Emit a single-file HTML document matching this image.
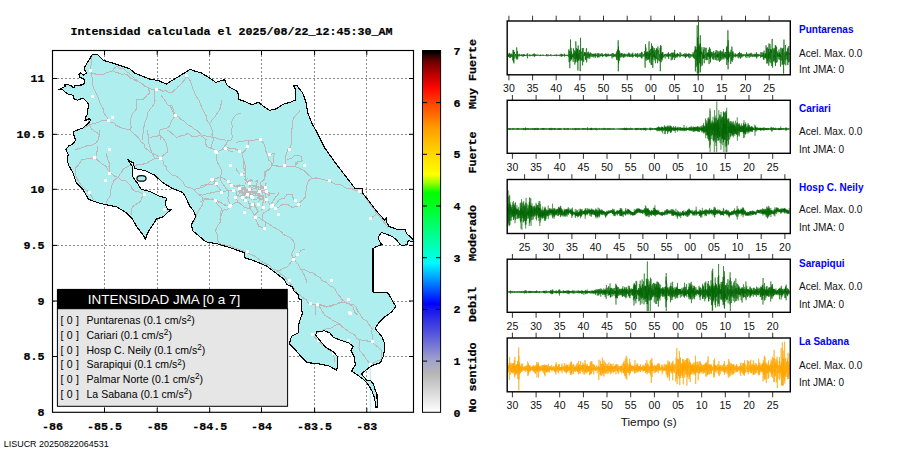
<!DOCTYPE html>
<html><head><meta charset="utf-8"><title>Intensidad JMA</title>
<style>html,body{margin:0;padding:0;background:#fff}svg{display:block}</style></head>
<body><svg width="910" height="460" viewBox="0 0 910 460">
<rect width="910" height="460" fill="#fff"/>
<clipPath id="mc"><rect x="52.5" y="50.5" width="361.0" height="361.8"/></clipPath>
<g clip-path="url(#mc)" stroke="#8a8a8a" stroke-width="1" stroke-dasharray="2 2" shape-rendering="crispEdges">
<line x1="104.5" y1="50.5" x2="104.5" y2="412.3"/>
<line x1="157.2" y1="50.5" x2="157.2" y2="412.3"/>
<line x1="209.7" y1="50.5" x2="209.7" y2="412.3"/>
<line x1="261.5" y1="50.5" x2="261.5" y2="412.3"/>
<line x1="314.6" y1="50.5" x2="314.6" y2="412.3"/>
<line x1="366.8" y1="50.5" x2="366.8" y2="412.3"/>
<line x1="52.5" y1="78.5" x2="413.5" y2="78.5"/>
<line x1="52.5" y1="134.3" x2="413.5" y2="134.3"/>
<line x1="52.5" y1="189.3" x2="413.5" y2="189.3"/>
<line x1="52.5" y1="245.4" x2="413.5" y2="245.4"/>
<line x1="52.5" y1="301.0" x2="413.5" y2="301.0"/>
<line x1="52.5" y1="356.5" x2="413.5" y2="356.5"/>
</g>
<g clip-path="url(#mc)">
<polygon points="92.4,54.3 97.3,54.3 103.6,60.5 111.2,62.6 119.6,65.4 130.0,68.9 134.5,73.0 149.9,79.1 158.7,80.7 166.4,84.0 190.5,69.2 193.8,70.8 201.5,73.0 210.3,78.5 215.8,82.4 224.6,79.6 226.8,85.0 230.0,87.3 237.7,91.6 238.8,99.3 246.5,102.2 252.0,104.8 258.6,102.2 263.0,106.0 269.6,110.3 276.2,108.8 282.7,104.4 290.4,102.2 295.9,99.8 295.9,90.5 293.7,85.7 297.0,85.7 302.5,92.7 305.8,101.5 308.0,113.6 312.4,124.6 315.7,130.0 324.5,147.6 335.5,163.0 346.5,177.3 355.3,188.9 361.9,188.2 363.0,193.7 368.1,200.0 376.4,211.1 384.8,220.2 386.2,217.4 386.5,222.0 389.0,226.4 398.7,229.9 405.0,229.5 407.0,234.1 411.2,237.6 413.3,239.7 413.3,241.0 411.2,241.7 408.4,240.3 407.0,244.5 402.2,245.9 400.1,244.5 397.3,241.0 393.1,236.9 389.7,235.5 384.8,233.4 381.3,232.7 378.5,236.9 379.2,241.0 382.0,244.5 375.0,247.3 373.0,248.7 373.0,292.0 388.2,293.0 393.7,303.0 395.9,306.6 391.5,312.1 383.8,317.6 379.5,322.0 375.1,328.6 381.6,336.3 384.9,344.0 383.8,355.0 380.5,362.6 372.0,365.5 366.0,370.0 361.5,374.0 367.4,380.9 370.9,380.9 373.5,384.3 375.2,390.4 377.0,393.9 377.0,399.1 377.8,403.5 377.8,407.0 375.6,407.0 375.6,403.5 374.3,397.4 371.7,390.4 367.4,383.5 363.0,379.1 359.6,376.5 351.7,371.3 352.0,370.3 355.3,364.8 354.2,357.1 350.9,350.5 353.1,346.2 348.7,342.9 342.1,340.7 333.3,337.4 330.0,333.0 324.5,330.8 316.8,331.9 315.7,335.2 320.1,340.7 325.6,347.3 333.3,351.6 337.7,357.1 337.7,365.9 336.6,370.3 328.9,365.9 317.9,363.7 306.9,362.6 302.5,358.2 295.9,350.5 289.3,344.0 291.5,336.3 298.1,333.0 299.2,322.0 302.5,313.2 301.4,309.5 301.4,300.0 299.2,299.6 298.1,294.5 293.7,290.8 292.6,286.8 287.1,284.6 283.8,279.1 275.1,272.5 266.3,265.9 253.1,260.4 244.3,257.6 244.3,252.7 228.9,247.3 217.9,244.0 205.8,241.8 198.1,235.2 192.6,230.8 191.5,224.2 195.9,216.5 193.7,211.0 189.5,205.8 186.2,198.1 182.9,192.6 171.9,188.2 163.0,182.7 154.3,175.0 145.5,170.7 134.5,168.5 133.4,163.0 127.9,159.7 132.3,166.3 132.3,176.2 137.8,183.8 141.1,189.3 149.9,191.5 158.7,195.9 166.4,198.1 165.3,204.7 167.5,209.1 171.9,209.1 167.5,212.4 163.0,216.8 156.5,219.0 153.1,224.2 147.6,233.0 145.4,239.1 143.2,235.2 136.6,226.4 132.3,219.0 125.7,212.4 116.9,206.9 105.9,204.7 97.1,202.5 88.4,199.2 82.9,189.3 76.3,182.7 73.0,172.9 68.6,165.2 67.4,161.2 68.1,154.3 66.0,149.4 68.8,145.9 72.3,144.5 75.7,140.3 74.3,136.2 73.0,132.0 77.8,129.9 83.4,127.8 87.6,123.7 91.0,120.2 89.0,118.8 84.8,120.9 85.5,117.4 87.6,113.9 88.3,104.2 86.9,101.6 82.7,98.1 77.8,100.2 74.3,99.5 73.0,95.3 67.4,93.9 62.5,89.7 58.3,89.7 60.4,89.0 65.3,86.3 64.6,84.5 71.6,85.3 72.3,87.7 74.3,87.7 75.0,85.3 83.4,84.9 84.8,82.1 84.1,79.3 79.9,77.2 78.8,74.4 80.6,73.0 83.4,75.1 86.9,73.0 84.8,70.3 84.8,66.8 88.3,61.2" fill="#afeeee" stroke="none"/>
<ellipse cx="141.5" cy="178.4" rx="4.6" ry="2.8" fill="#afeeee" stroke="#000" stroke-width="1.2"/>
<line x1="370.3" y1="366" x2="370.3" y2="412" stroke="#afeeee" stroke-width="1"/>
<g fill="none" stroke="#bdb8b8" stroke-width="1" shape-rendering="crispEdges">
<polyline points="92.7,54.3 91.7,56.7 91.8,61.3 91.2,64.2 90.1,67.5 90.5,70.8 91.8,74.7 92.0,76.7 92.9,81.3 92.7,84.0 93.4,87.4 94.4,89.6 96.1,92.8 98.2,97.1 98.7,99.3 99.5,102.0 101.5,105.9 103.2,108.9 103.3,111.6 105.3,115.1 107.2,117.5 108.1,120.2 110.8,122.5 114.3,123.0 115.6,125.4 117.9,126.1 121.3,127.9 123.5,128.3 126.4,129.0 130.1,130.1 133.1,133.3 135.6,135.2 137.7,137.3 140.0,140.0 141.4,142.4 144.4,144.2 145.1,148.0 148.0,150.0 150.2,152.0 153.6,154.0 155.6,154.6 158.9,157.0 160.9,158.1"/>
<polyline points="90.5,73.0 94.1,73.8 97.4,74.3 100.1,74.2 103.7,74.0 107.4,72.6 109.8,71.6 112.5,70.8 114.6,67.8 116.9,66.4 119.3,68.0 123.5,68.6 126.2,71.3 129.4,73.4 131.5,75.4 134.5,78.5 137.7,80.9 140.2,82.7 142.7,84.1 144.5,86.0 147.7,87.3 149.9,92.7 147.4,94.8 145.2,97.2 143.3,99.3 140.3,99.4 136.7,99.3 136.4,103.2 136.7,108.1 135.5,110.7 132.9,113.2 131.2,116.9 130.6,119.5 130.4,123.9 131.2,127.0 130.1,130.1"/>
<polyline points="112.5,70.8 115.2,72.0 118.9,73.1 121.8,74.2 124.7,73.9 127.9,75.2 130.9,78.2 134.2,79.6 136.7,81.8"/>
<polyline points="154.3,89.5 154.3,93.3 154.2,96.7 155.1,100.9 154.3,103.7 152.7,106.0 150.0,109.3 147.7,112.5 147.6,115.2 146.7,118.2 144.9,122.6 144.4,125.6 143.3,127.9 143.1,130.4 143.1,134.0 142.5,136.3 142.2,140.0"/>
<polyline points="147.7,87.3 150.0,88.8 154.4,89.6 156.5,89.5 159.3,89.3 162.8,91.2 166.0,90.6 168.3,92.4 171.9,92.7 173.3,91.1 177.2,87.9 177.7,87.0 181.2,83.9 182.9,81.8 185.1,79.2 187.3,75.2"/>
<polyline points="160.9,94.9 162.8,97.4 165.5,101.2 167.5,104.8 171.9,105.9 173.3,110.0 173.8,112.0 175.2,115.8 172.5,119.4 170.6,122.7 169.8,125.6 167.5,127.9 164.2,128.4 159.8,130.1 159.6,134.2 160.2,137.2 160.9,140.0"/>
<polyline points="187.3,75.2 188.0,77.9 190.2,80.9 191.7,85.1 192.2,87.1 193.8,90.5 194.7,93.5 196.5,97.0 199.0,100.0"/>
<polyline points="175.2,115.8 173.5,114.0"/>
<polyline points="84.0,127.9 87.2,126.6 90.0,125.1 92.7,123.5 96.5,122.9 99.5,121.9 101.3,121.0 105.5,120.4 108.1,120.2"/>
<polyline points="170.0,105.3 171.7,108.9 172.4,110.5 173.5,114.0 176.2,115.6 179.2,117.1 180.4,119.3 183.3,120.6 185.8,122.9 188.4,125.3 191.4,126.3 194.1,129.0 197.0,130.4 199.9,133.4 202.8,135.3 207.1,136.4 210.2,136.6 213.0,137.8 217.1,138.1 219.8,139.3 222.9,139.3 226.3,140.4"/>
<polyline points="199.0,100.0 200.2,103.8 201.5,106.7 203.4,110.5 204.5,113.1 206.6,116.4 206.5,119.7 208.7,122.7 210.0,124.8 211.3,128.1 212.5,130.7 212.0,134.5 213.0,137.8 213.1,140.9 211.6,145.5 211.3,149.2"/>
<polyline points="221.9,100.0 221.3,102.8 220.6,107.1 219.2,110.5 217.5,112.8 215.3,116.2 214.8,117.4 211.6,120.7 210.4,122.9"/>
<polyline points="170.0,131.6 172.8,134.2 174.3,135.2 177.0,137.8 179.8,136.1 184.2,135.5 187.6,133.4 189.4,134.4 192.9,136.9 196.7,136.4 199.9,135.2 202.3,136.7 206.0,139.6 205.6,143.4 206.9,146.6 209.4,147.6 213.1,148.9 215.7,151.0"/>
<polyline points="241.2,113.2 238.2,113.8 235.0,115.8 232.5,119.7 231.5,122.9 232.2,126.3 231.8,130.3 231.4,133.0 232.4,136.9 231.1,140.1 227.5,140.7 226.3,144.0 222.7,148.4 220.1,150.5 216.6,152.7 217.0,156.6 216.5,160.0"/>
<polyline points="226.3,147.5 229.7,148.3 233.3,148.4 236.6,149.3 239.5,151.9 243.0,152.7 245.1,150.3 247.4,146.6 248.8,143.8 249.1,140.4 253.1,140.7 256.3,139.7 260.5,139.6 264.1,144.0 265.2,148.1 265.8,151.0 266.7,153.4 267.9,156.9 268.8,160.2 271.5,162.6 272.0,165.9 269.7,168.9 265.8,172.1 265.0,176.9 264.1,180.0"/>
<polyline points="235.9,142.2 239.6,141.8 243.0,141.3 246.2,140.4 249.1,140.4"/>
<polyline points="243.0,152.7 242.5,156.4 243.6,159.7 243.8,163.3 244.0,168.5 245.6,172.1 244.9,176.9 245.6,180.0"/>
<polyline points="272.0,165.9 274.7,165.5 278.9,166.7 281.6,166.7 284.3,165.9 287.2,166.8 291.5,166.1 294.8,166.8 297.9,167.3 301.2,169.4 303.6,170.3 305.8,172.4 309.1,175.5 312.4,178.2 315.2,178.3 319.1,178.4 322.3,179.5 325.7,180.1 328.0,181.0 331.1,181.6 333.8,183.7 337.0,184.4 341.8,185.1 344.3,187.1 348.0,188.8 351.8,188.5 354.4,190.4 357.5,190.4 360.7,193.6 363.7,194.7 366.3,198.1 367.7,201.4 369.5,203.1 370.9,205.2 373.2,208.2 375.2,210.1 376.2,213.5 379.4,215.7 381.8,219.3 383.8,222.3 386.3,225.1 388.0,228.0"/>
<polyline points="300.1,110.5 297.2,114.0 295.7,115.3 293.1,118.5 292.9,121.3 292.2,125.4 292.2,127.8 291.1,131.8 291.3,135.2 291.3,140.2 291.3,144.0 290.0,147.5 288.1,149.2 286.9,152.7 285.9,155.1 285.4,159.5 285.6,162.1 284.3,165.9"/>
<polyline points="286.9,159.8 289.9,158.8 292.5,157.7 294.8,155.4 298.5,155.7 301.9,156.3 301.9,161.5 298.9,161.1 295.7,162.4 294.8,166.8"/>
<polyline points="269.3,154.5 274.6,153.6 273.3,157.5 273.7,161.5 272.0,165.9"/>
<polyline points="88.3,120.0 89.1,122.4 90.1,126.3 91.4,129.1 94.0,130.9 97.0,132.4 99.0,135.2"/>
<polyline points="97.5,145.9 97.7,149.8 96.3,153.4 95.9,156.6"/>
<polyline points="99.3,130.0 99.7,133.6 98.9,137.0 98.2,139.9 95.6,143.4 91.6,145.4 87.9,145.4 84.6,146.9 81.3,148.0 79.3,148.4 75.2,149.8"/>
<polyline points="94.9,157.5 91.4,158.6 87.7,158.3 85.2,159.6 81.8,159.7 80.3,162.2 78.2,165.4 75.2,168.5 75.1,172.3 76.3,177.3 78.4,181.1 79.9,183.3 82.9,187.1 86.7,190.4 89.5,192.6 91.1,195.7 93.8,200.3"/>
<polyline points="94.9,157.5 97.9,160.2 99.6,161.9 102.5,164.3 105.9,166.3 107.4,168.9 110.3,172.9 114.2,175.9 118.0,177.3 114.4,179.8 112.5,183.8 111.4,187.4 110.9,189.4 110.7,193.5 110.3,195.9 107.7,199.7 105.9,203.6"/>
<polyline points="105.9,153.1 107.0,156.4 108.0,160.2 109.2,163.0 109.0,166.3 109.3,170.3 110.3,172.9"/>
<polyline points="118.0,177.3 121.2,180.0 124.9,180.4 127.9,182.7 130.9,185.6 132.3,189.3 135.6,191.2 137.6,191.5 141.2,193.2 144.4,194.8 142.2,197.0 140.5,200.8 138.9,202.5 135.5,204.6 132.3,206.9 131.3,210.2 131.2,214.6"/>
<polyline points="118.0,177.3 119.4,175.1 122.4,170.8 123.5,168.5 126.2,167.5 129.5,165.8 132.3,165.2 135.2,165.4 139.0,164.3 143.3,164.1 146.5,163.1 148.6,161.9 152.4,159.9 154.3,158.6 158.3,158.4 160.9,158.1"/>
<polyline points="147.7,130.0 147.8,134.2 148.7,135.9 148.6,139.7 148.8,143.2 149.9,146.7 150.7,149.5 151.6,152.3 153.9,155.9 154.3,158.6"/>
<polyline points="149.9,137.7 153.0,136.6 156.7,136.2 159.8,135.5 162.9,138.1 165.0,140.9 166.4,144.3 167.5,148.8 167.5,152.0 163.6,154.9 160.9,158.1"/>
<polyline points="160.9,158.6 163.0,161.3 163.7,164.8 166.2,166.6 167.1,170.1 169.7,172.9 172.1,175.1 174.6,175.3 178.7,177.7 180.7,179.5 183.5,182.9 185.1,186.0 188.7,187.9 190.2,187.8 193.8,189.3 196.5,189.0 200.8,187.9 204.6,186.5 207.0,184.9 210.6,185.0 213.1,184.0 215.8,182.7"/>
<polyline points="167.5,130.0 170.0,131.6"/>
<polyline points="219.8,177.1 217.6,178.2 213.6,179.5 215.8,182.7"/>
<polyline points="215.8,152.0 218.6,151.2 221.6,149.5 225.7,148.7 229.3,150.9 233.4,152.0"/>
<polyline points="193.8,189.3 195.1,191.2 197.9,194.0 201.1,195.9 202.6,198.1 203.2,201.3 202.6,204.7 200.8,207.3 198.4,211.3 197.1,213.5 196.2,216.0 195.0,219.2 193.8,222.3"/>
<polyline points="202.6,198.1 205.1,199.0 209.9,199.4 211.9,199.6 215.8,200.3 218.6,201.1 222.0,203.8 226.3,205.0 229.0,205.8 233.4,204.0 235.8,202.8 240.0,202.5"/>
<polyline points="215.8,200.3 216.6,203.3 218.9,205.9 221.4,208.2 222.4,211.3 221.2,215.5 220.1,219.4 220.2,222.3 217.7,225.3 215.8,230.0 216.1,232.5 218.0,235.7 217.4,240.0 219.0,243.0"/>
<polyline points="200.0,186.4 203.4,185.1 207.9,184.4 211.9,180.0 216.4,178.4 219.8,177.1 223.1,178.1 224.9,179.2 228.4,181.4 231.6,185.7 236.2,186.4 239.6,188.4 242.1,188.9 246.2,191.0 249.4,192.1 252.7,193.0 252.7,197.6"/>
<polyline points="216.5,160.0 218.1,163.7 219.8,166.6 221.0,169.3 221.8,173.2 219.8,177.1"/>
<polyline points="200.0,194.9 203.0,195.1 206.5,193.9 209.3,193.3 213.2,192.3 217.7,191.7 221.5,192.3 225.7,191.1 228.4,190.3 233.6,190.6"/>
<polyline points="200.0,202.2 203.0,200.5 206.6,198.2 210.4,199.6 212.7,198.9 215.6,200.5 218.3,202.2 221.6,202.8 223.7,204.8 226.9,205.6 230.3,205.9 227.0,210.1 224.0,209.9 220.4,211.4 220.8,215.0 219.8,220.0"/>
<polyline points="228.4,190.3 228.7,194.9 227.7,198.2 229.2,202.1 230.3,205.9"/>
<polyline points="235.6,197.3 238.2,202.2 241.2,204.6 244.8,207.5 250.1,208.8 252.7,204.2"/>
<polyline points="250.1,208.8 252.9,212.4 254.1,215.4 258.0,211.4 255.4,206.2"/>
<polyline points="256.7,222.0 255.4,217.4 254.1,215.4"/>
<polyline points="262.0,220.0 262.6,216.1 263.3,212.7 268.6,210.1 271.2,206.8 268.6,202.2 266.6,199.3"/>
<polyline points="271.2,206.8 274.7,205.2 277.2,202.8 279.1,199.6 284.4,198.2 287.0,194.3 292.3,194.9 293.6,199.6 295.6,200.2 298.6,204.4 301.5,206.2"/>
<polyline points="271.2,203.5 273.2,200.8 275.8,196.9 277.8,195.0 279.1,191.6"/>
<polyline points="275.2,208.1 278.9,207.0 281.8,204.8 287.0,204.2 290.2,206.0 292.3,207.5 297.6,206.2 298.6,204.4"/>
<polyline points="298.6,204.4 301.3,201.1 303.0,199.9 305.5,196.9 305.2,193.1 306.6,189.8 306.8,186.4 307.7,182.2 310.1,179.1 313.4,178.5 316.1,177.8 320.0,178.5"/>
<polyline points="277.8,165.3 271.9,165.9 269.6,168.6 267.8,169.5 264.6,171.9 264.6,177.8 263.0,180.5 260.0,183.1 262.0,186.4"/>
<polyline points="294.9,165.9 298.2,162.0 302.9,160.7"/>
<polyline points="243.5,160.0 244.8,163.2 245.5,167.9 245.5,173.2 241.5,174.5 239.0,173.3 236.9,170.5 236.0,168.0"/>
<polyline points="245.5,173.2 245.9,176.3 244.8,179.8 249.5,183.5"/>
<polyline points="219.8,177.1 221.3,181.9 223.7,185.1 226.1,188.5 228.4,190.3"/>
<polyline points="211.9,180.0 216.5,183.5 217.3,186.6 219.4,188.5 221.5,192.3"/>
<polyline points="376.2,213.5 373.4,216.5 370.7,217.9"/>
<polyline points="255.3,218.3 256.9,221.6 258.6,226.0 262.3,227.8 265.2,228.2 265.7,224.5 265.2,221.6 262.4,219.9 258.6,217.2"/>
<polyline points="265.2,221.6 267.9,223.7 269.9,224.4 273.2,227.3 276.2,228.2 279.3,230.4 282.2,232.5 283.6,234.7 287.1,235.9 290.9,238.1 293.7,241.4 294.4,244.6 294.8,248.0 292.3,251.8 291.5,254.6 293.7,259.0 291.2,262.0 289.3,264.5 286.9,267.1 283.5,268.1 280.5,270.0 276.2,270.0"/>
<polyline points="304.7,249.1 301.3,250.2 300.0,252.2 297.0,254.6 293.7,259.0"/>
<polyline points="293.7,259.0 295.9,261.7 298.6,265.0 300.3,268.8 302.6,272.0 304.4,275.1 305.8,278.7 306.9,283.0"/>
<polyline points="300.3,268.8 304.4,269.9 306.7,270.8 309.8,272.4 313.5,273.2 315.8,275.1 320.2,277.8 322.3,280.9 325.5,281.9 327.8,283.7 330.0,285.9 333.1,287.0 335.5,289.7 337.3,293.5 340.4,296.8 342.1,299.6 345.0,302.0 347.5,303.1 350.9,305.2 353.1,307.3 354.6,312.0 357.5,315.0"/>
<polyline points="219.0,243.0 222.0,244.3 225.8,245.3 230.0,245.5 233.5,247.5 236.8,248.4 239.9,249.7 243.0,250.9 246.5,251.3 249.5,253.9 251.2,254.7 255.5,256.4 257.6,258.5 259.4,259.6 263.0,262.3 265.6,263.6 269.0,265.1 270.3,266.2 273.4,269.3 276.2,270.0 279.3,272.2 281.0,274.6 283.8,275.7 286.6,279.4 288.2,280.9 290.1,283.2 292.2,286.2 293.8,288.1 296.5,292.2 298.1,294.1 300.8,295.7 302.8,297.5 306.1,299.6 307.5,302.3 310.2,304.0 314.5,304.5 317.9,305.1 320.2,305.7 324.3,306.2 326.7,307.3 329.6,305.8 332.6,304.8 335.9,304.6 339.6,302.3 342.1,301.8"/>
<polyline points="315.7,304.4 315.2,307.8 316.0,312.2 315.7,315.4"/>
<polyline points="317.9,305.1 320.5,307.9 322.3,311.7 325.1,315.5 328.9,317.6 331.8,319.7 333.9,321.1 336.8,322.5 339.9,324.2 342.5,327.0 345.1,329.0 347.8,331.0 350.9,333.0 354.5,334.7 356.6,338.3 359.7,339.6 363.6,340.8 366.5,340.5 369.0,341.9 372.9,341.8 374.4,344.8 378.0,347.0 379.9,348.6 381.6,350.5 381.4,355.5 381.6,359.3 379.0,360.7 375.5,361.4 373.7,362.8 370.7,364.8"/>
<polyline points="317.9,304.4 321.6,304.8 323.8,305.6 328.3,306.9 331.1,306.6 334.3,304.9 338.4,303.6 342.1,302.2 345.3,302.6 348.7,303.8 353.1,304.4 356.2,307.0 357.5,311.0 360.1,314.3 361.9,317.6 363.8,319.5 367.2,321.3 368.7,324.3 370.7,326.4 372.2,328.8 371.3,333.0 372.9,335.2 372.6,338.3 372.9,341.8"/>
<polyline points="339.9,324.2 335.5,325.2 332.1,327.5 328.9,328.6 324.9,329.1 322.3,330.8 316.8,333.0"/>
<polyline points="359.7,339.6 359.5,343.1 358.9,347.8 359.7,350.5 362.5,353.9 364.5,356.2 366.3,359.3 368.8,362.7 370.7,364.8"/>
<polyline points="312.4,334.1 315.5,338.1 317.9,340.7 321.3,343.7 324.5,346.4 326.7,348.4 329.7,350.6 333.3,352.7 333.1,355.7 334.7,358.4 335.0,362.0"/>
<polyline points="265.2,194.6 266.4,198.0 264.5,196.6"/>
<polyline points="249.3,189.5 247.1,189.9 248.0,190.4"/>
<polyline points="250.4,190.6 249.8,187.3 249.5,185.5"/>
<polyline points="262.6,193.6 262.3,190.1 264.7,191.0"/>
<polyline points="243.5,191.4 248.7,191.0 248.3,190.8"/>
<polyline points="242.1,187.6 246.4,187.8 245.3,187.6"/>
<polyline points="244.9,189.7 240.4,189.6 241.4,190.9"/>
<polyline points="259.4,197.9 258.9,201.7 258.1,201.5"/>
<polyline points="258.9,198.9 253.3,199.2 251.2,197.7"/>
<polyline points="251.3,187.4 251.8,190.3 252.9,189.2"/>
<polyline points="248.7,201.0 249.1,203.8 249.2,207.2 249.8,206.5"/>
<polyline points="238.3,193.6 239.2,196.6 241.0,196.8"/>
<polyline points="249.8,188.2 252.6,188.0 256.4,188.2 255.0,186.6"/>
<polyline points="241.8,194.3 241.0,190.2 241.7,190.1"/>
<polyline points="257.4,186.3 254.2,185.6 250.6,185.0 248.6,187.3"/>
<polyline points="260.5,193.2 261.1,190.4 260.3,188.2"/>
<polyline points="246.5,196.0 247.0,190.3 248.2,189.6"/>
<polyline points="244.2,194.5 240.7,195.7 242.6,197.2"/>
<polyline points="249.3,193.8 250.3,190.8 251.3,190.7"/>
<polyline points="256.9,190.0 256.4,187.3 256.1,183.6 257.8,182.7"/>
<polyline points="245.5,184.5 246.5,179.8 247.9,178.4"/>
<polyline points="253.6,191.8 259.1,190.4 260.3,189.4"/>
<polyline points="239.6,192.8 243.3,193.4 246.5,193.8 246.4,191.6"/>
<polyline points="248.8,197.3 246.5,197.4 244.9,197.1"/>
<polyline points="270.0,192.2 264.9,192.5 263.8,194.0"/>
<polyline points="246.3,189.9 243.1,188.4 242.9,186.7"/>
<polyline points="258.8,195.5 263.7,195.2 263.4,194.6"/>
<polyline points="241.3,193.8 244.5,193.1 246.6,192.0"/>
<polyline points="253.8,188.7 258.6,187.4 256.1,186.1"/>
<polyline points="247.3,193.2 250.7,194.6 251.9,195.3"/>
<polyline points="259.8,192.0 258.4,194.8 259.3,194.6"/>
<polyline points="246.1,202.1 246.1,196.2 248.3,194.8"/>
<polyline points="253.3,191.3 249.6,192.0 250.8,191.9"/>
<polyline points="236.0,192.6 236.5,196.0 238.5,194.8"/>
<polyline points="270.0,193.7 269.0,196.3 267.2,194.1"/>
<polyline points="248.3,203.0 253.7,204.4 254.3,204.8"/>
<polyline points="255.0,202.4 254.9,207.2 255.9,205.2"/>
<polyline points="242.2,191.8 239.6,190.9 239.6,191.2"/>
<polyline points="249.5,198.8 249.2,194.7 250.3,192.4 250.9,191.2"/>
<polyline points="251.0,186.9 250.5,182.8 250.4,180.0 248.1,181.2"/>
<polyline points="263.8,195.0 263.3,199.7 261.1,200.0"/>
<polyline points="252.4,192.3 249.3,192.2 245.7,190.9 244.1,192.0"/>
<polyline points="265.6,203.0 265.3,198.7 266.9,199.0"/>
<polyline points="266.1,186.7 263.1,186.2 260.7,187.0"/>
<polyline points="253.1,186.9 258.2,186.3 259.5,185.8"/>
<polyline points="242.8,185.3 239.8,185.6 235.9,186.0 238.0,187.1"/>
<polyline points="242.7,192.3 242.1,188.5 240.6,188.5"/>
<polyline points="267.2,194.1 272.9,193.8 274.8,193.2"/>
<polyline points="250.8,196.3 251.3,199.8 250.5,199.6"/>
<polyline points="248.0,190.3 250.8,191.6 248.4,192.9"/>
<polyline points="250.8,181.9 251.4,179.6 253.1,181.9"/>
<polyline points="261.0,185.2 260.7,189.5 261.3,187.7"/>
<polyline points="251.2,197.0 252.5,199.1 252.1,198.5"/>
<polyline points="246.0,193.9 245.9,191.4 244.7,188.0 244.1,186.0"/>
<polyline points="252.2,191.4 255.0,192.3 254.7,193.7"/>
<polyline points="259.5,192.4 258.6,196.3 260.3,196.6"/>
<polyline points="240.3,186.2 235.3,186.2 234.6,185.3"/>
<polyline points="246.9,194.3 243.7,192.9 245.4,194.9"/>
<polyline points="236.0,190.4 236.1,193.8 236.1,196.8 234.0,198.5"/>
<polyline points="250.7,187.9 249.9,190.3 250.2,194.5 252.2,195.1"/>
<polyline points="265.8,193.7 262.9,192.4 261.0,191.4"/>
<polyline points="257.0,197.6 262.8,198.5 263.1,196.1"/>
<polyline points="260.4,192.4 256.1,191.7 258.1,194.1"/>
<polyline points="243.3,197.1 243.9,201.3 243.8,199.5"/>
<polyline points="249.6,193.3 247.3,194.1 243.6,193.2 244.5,194.0"/>
<polyline points="265.6,190.9 265.7,187.6 265.8,184.0 266.4,182.8"/>
<polyline points="247.0,195.0 247.0,191.2 245.9,188.8 243.8,190.2"/>
<polyline points="258.2,193.7 255.6,193.7 252.2,192.6 249.7,193.4"/>
<polyline points="245.4,185.5 240.0,185.5 239.2,184.0"/>
<polyline points="262.9,196.8 258.4,196.1 257.2,194.9"/>
<polyline points="252.8,195.4 256.5,195.3 257.7,194.1"/>
<polyline points="254.7,196.1 255.4,192.6 255.5,191.2"/>
<polyline points="260.1,187.3 264.4,187.9 262.4,188.8"/>
<polyline points="257.5,183.1 257.2,180.5 255.3,181.9"/>
<polyline points="253.7,196.8 248.0,195.6 246.1,195.1"/>
<polyline points="243.2,197.1 242.3,194.0 242.2,190.8 241.9,189.9"/>
<polyline points="252.2,192.5 246.5,193.8 246.0,193.2"/>
<polyline points="251.1,203.0 252.0,205.8 249.9,207.3"/>
<polyline points="258.0,190.5 258.7,185.7 258.5,186.4"/>
<polyline points="245.6,192.2 242.8,192.7 239.0,191.5 240.1,193.6"/>
<polyline points="261.4,191.7 257.8,191.1 258.1,190.2"/>
<polyline points="251.6,190.5 248.0,189.5 248.8,189.1"/>
<polyline points="236.0,193.2 236.2,196.8 238.2,196.0"/>
<polyline points="240.6,195.2 244.4,195.4 242.3,196.7"/>
<polyline points="258.4,198.9 261.5,199.2 259.8,199.8"/>
<polyline points="250.5,194.1 249.6,197.6 249.2,195.2"/>
<polyline points="262.9,203.0 262.5,205.7 262.3,209.6 261.1,210.3"/>
<polyline points="263.8,199.4 264.0,202.2 261.7,203.4"/>
<polyline points="250.9,195.3 253.6,195.4 254.2,197.2"/>
<polyline points="251.2,187.9 249.8,193.1 251.0,193.9"/>
</g>
<g fill="#fff" shape-rendering="crispEdges">
<rect x="89" y="69" width="3" height="3"/>
<rect x="91" y="95" width="3" height="3"/>
<rect x="111" y="116" width="3" height="3"/>
<rect x="107" y="119" width="3" height="3"/>
<rect x="155" y="88" width="3" height="3"/>
<rect x="185" y="74" width="3" height="3"/>
<rect x="174" y="114" width="3" height="3"/>
<rect x="174" y="114" width="3" height="3"/>
<rect x="215" y="151" width="3" height="3"/>
<rect x="224" y="147" width="3" height="3"/>
<rect x="238" y="150" width="3" height="3"/>
<rect x="246" y="145" width="3" height="3"/>
<rect x="259" y="138" width="3" height="3"/>
<rect x="268" y="153" width="3" height="3"/>
<rect x="288" y="148" width="3" height="3"/>
<rect x="283" y="164" width="3" height="3"/>
<rect x="303" y="164" width="3" height="3"/>
<rect x="229" y="164" width="3" height="3"/>
<rect x="240" y="173" width="3" height="3"/>
<rect x="211" y="178" width="3" height="3"/>
<rect x="108" y="148" width="3" height="3"/>
<rect x="93" y="156" width="3" height="3"/>
<rect x="108" y="172" width="3" height="3"/>
<rect x="104" y="179" width="3" height="3"/>
<rect x="88" y="191" width="3" height="3"/>
<rect x="143" y="193" width="3" height="3"/>
<rect x="159" y="157" width="3" height="3"/>
<rect x="163" y="208" width="3" height="3"/>
<rect x="214" y="150" width="3" height="3"/>
<rect x="224" y="147" width="3" height="3"/>
<rect x="210" y="178" width="3" height="3"/>
<rect x="215" y="182" width="3" height="3"/>
<rect x="227" y="180" width="3" height="3"/>
<rect x="230" y="184" width="3" height="3"/>
<rect x="238" y="187" width="3" height="3"/>
<rect x="248" y="182" width="3" height="3"/>
<rect x="248" y="188" width="3" height="3"/>
<rect x="264" y="186" width="3" height="3"/>
<rect x="232" y="189" width="3" height="3"/>
<rect x="220" y="191" width="3" height="3"/>
<rect x="258" y="190" width="3" height="3"/>
<rect x="265" y="190" width="3" height="3"/>
<rect x="246" y="193" width="3" height="3"/>
<rect x="234" y="196" width="3" height="3"/>
<rect x="241" y="196" width="3" height="3"/>
<rect x="251" y="196" width="3" height="3"/>
<rect x="250" y="195" width="3" height="3"/>
<rect x="244" y="199" width="3" height="3"/>
<rect x="265" y="198" width="3" height="3"/>
<rect x="214" y="199" width="3" height="3"/>
<rect x="251" y="203" width="3" height="3"/>
<rect x="257" y="203" width="3" height="3"/>
<rect x="229" y="204" width="3" height="3"/>
<rect x="228" y="205" width="3" height="3"/>
<rect x="262" y="206" width="3" height="3"/>
<rect x="270" y="205" width="3" height="3"/>
<rect x="271" y="204" width="3" height="3"/>
<rect x="274" y="207" width="3" height="3"/>
<rect x="243" y="211" width="3" height="3"/>
<rect x="277" y="213" width="3" height="3"/>
<rect x="254" y="216" width="3" height="3"/>
<rect x="294" y="199" width="3" height="3"/>
<rect x="297" y="203" width="3" height="3"/>
<rect x="259" y="138" width="3" height="3"/>
<rect x="246" y="145" width="3" height="3"/>
<rect x="268" y="153" width="3" height="3"/>
<rect x="288" y="148" width="3" height="3"/>
<rect x="328" y="179" width="3" height="3"/>
<rect x="358" y="190" width="3" height="3"/>
<rect x="369" y="217" width="3" height="3"/>
<rect x="254" y="216" width="3" height="3"/>
<rect x="263" y="227" width="3" height="3"/>
<rect x="246" y="250" width="3" height="3"/>
<rect x="296" y="253" width="3" height="3"/>
<rect x="292" y="258" width="3" height="3"/>
<rect x="288" y="279" width="3" height="3"/>
<rect x="330" y="279" width="3" height="3"/>
<rect x="347" y="298" width="3" height="3"/>
<rect x="309" y="302" width="3" height="3"/>
<rect x="316" y="303" width="3" height="3"/>
<rect x="348" y="311" width="3" height="3"/>
<rect x="390" y="310" width="3" height="3"/>
<rect x="349" y="312" width="3" height="3"/>
<rect x="311" y="333" width="3" height="3"/>
<rect x="317" y="339" width="3" height="3"/>
<rect x="347" y="339" width="3" height="3"/>
<rect x="371" y="340" width="3" height="3"/>
<rect x="369" y="363" width="3" height="3"/>
<rect x="332" y="352" width="3" height="3"/>
</g>
<polygon points="92.4,54.3 97.3,54.3 103.6,60.5 111.2,62.6 119.6,65.4 130.0,68.9 134.5,73.0 149.9,79.1 158.7,80.7 166.4,84.0 190.5,69.2 193.8,70.8 201.5,73.0 210.3,78.5 215.8,82.4 224.6,79.6 226.8,85.0 230.0,87.3 237.7,91.6 238.8,99.3 246.5,102.2 252.0,104.8 258.6,102.2 263.0,106.0 269.6,110.3 276.2,108.8 282.7,104.4 290.4,102.2 295.9,99.8 295.9,90.5 293.7,85.7 297.0,85.7 302.5,92.7 305.8,101.5 308.0,113.6 312.4,124.6 315.7,130.0 324.5,147.6 335.5,163.0 346.5,177.3 355.3,188.9 361.9,188.2 363.0,193.7 368.1,200.0 376.4,211.1 384.8,220.2 386.2,217.4 386.5,222.0 389.0,226.4 398.7,229.9 405.0,229.5 407.0,234.1 411.2,237.6 413.3,239.7 413.3,241.0 411.2,241.7 408.4,240.3 407.0,244.5 402.2,245.9 400.1,244.5 397.3,241.0 393.1,236.9 389.7,235.5 384.8,233.4 381.3,232.7 378.5,236.9 379.2,241.0 382.0,244.5 375.0,247.3 373.0,248.7 373.0,292.0 388.2,293.0 393.7,303.0 395.9,306.6 391.5,312.1 383.8,317.6 379.5,322.0 375.1,328.6 381.6,336.3 384.9,344.0 383.8,355.0 380.5,362.6 372.0,365.5 366.0,370.0 361.5,374.0 367.4,380.9 370.9,380.9 373.5,384.3 375.2,390.4 377.0,393.9 377.0,399.1 377.8,403.5 377.8,407.0 375.6,407.0 375.6,403.5 374.3,397.4 371.7,390.4 367.4,383.5 363.0,379.1 359.6,376.5 351.7,371.3 352.0,370.3 355.3,364.8 354.2,357.1 350.9,350.5 353.1,346.2 348.7,342.9 342.1,340.7 333.3,337.4 330.0,333.0 324.5,330.8 316.8,331.9 315.7,335.2 320.1,340.7 325.6,347.3 333.3,351.6 337.7,357.1 337.7,365.9 336.6,370.3 328.9,365.9 317.9,363.7 306.9,362.6 302.5,358.2 295.9,350.5 289.3,344.0 291.5,336.3 298.1,333.0 299.2,322.0 302.5,313.2 301.4,309.5 301.4,300.0 299.2,299.6 298.1,294.5 293.7,290.8 292.6,286.8 287.1,284.6 283.8,279.1 275.1,272.5 266.3,265.9 253.1,260.4 244.3,257.6 244.3,252.7 228.9,247.3 217.9,244.0 205.8,241.8 198.1,235.2 192.6,230.8 191.5,224.2 195.9,216.5 193.7,211.0 189.5,205.8 186.2,198.1 182.9,192.6 171.9,188.2 163.0,182.7 154.3,175.0 145.5,170.7 134.5,168.5 133.4,163.0 127.9,159.7 132.3,166.3 132.3,176.2 137.8,183.8 141.1,189.3 149.9,191.5 158.7,195.9 166.4,198.1 165.3,204.7 167.5,209.1 171.9,209.1 167.5,212.4 163.0,216.8 156.5,219.0 153.1,224.2 147.6,233.0 145.4,239.1 143.2,235.2 136.6,226.4 132.3,219.0 125.7,212.4 116.9,206.9 105.9,204.7 97.1,202.5 88.4,199.2 82.9,189.3 76.3,182.7 73.0,172.9 68.6,165.2 67.4,161.2 68.1,154.3 66.0,149.4 68.8,145.9 72.3,144.5 75.7,140.3 74.3,136.2 73.0,132.0 77.8,129.9 83.4,127.8 87.6,123.7 91.0,120.2 89.0,118.8 84.8,120.9 85.5,117.4 87.6,113.9 88.3,104.2 86.9,101.6 82.7,98.1 77.8,100.2 74.3,99.5 73.0,95.3 67.4,93.9 62.5,89.7 58.3,89.7 60.4,89.0 65.3,86.3 64.6,84.5 71.6,85.3 72.3,87.7 74.3,87.7 75.0,85.3 83.4,84.9 84.8,82.1 84.1,79.3 79.9,77.2 78.8,74.4 80.6,73.0 83.4,75.1 86.9,73.0 84.8,70.3 84.8,66.8 88.3,61.2" fill="none" stroke="#000" stroke-width="1.1" stroke-linejoin="round" shape-rendering="crispEdges"/>
</g>
<rect x="57.4" y="308.7" width="230.2" height="97.6" fill="#e6e6e6" stroke="#000" stroke-width="1"/>
<rect x="56.9" y="288.9" width="230.9" height="19.9" fill="#000"/>
<text x="164" y="304.4" text-anchor="middle" font-family="Liberation Sans, sans-serif" font-size="13.45" fill="#fff">INTENSIDAD JMA [0 a 7]</text>
<text x="60.4" y="324.4" font-family="Liberation Sans, sans-serif" font-size="10.5" fill="#000" textLength="18.4" lengthAdjust="spacing">[ 0 ]</text>
<text x="86.5" y="324.4" font-family="Liberation Sans, sans-serif" font-size="10.55" fill="#000">Puntarenas (0.1 cm/s<tspan dy="-3.6" font-size="8.2">2</tspan><tspan dy="3.6">)</tspan></text>
<text x="60.4" y="339.0" font-family="Liberation Sans, sans-serif" font-size="10.5" fill="#000" textLength="18.4" lengthAdjust="spacing">[ 0 ]</text>
<text x="86.5" y="339.0" font-family="Liberation Sans, sans-serif" font-size="10.55" fill="#000">Cariari (0.1 cm/s<tspan dy="-3.6" font-size="8.2">2</tspan><tspan dy="3.6">)</tspan></text>
<text x="60.4" y="353.6" font-family="Liberation Sans, sans-serif" font-size="10.5" fill="#000" textLength="18.4" lengthAdjust="spacing">[ 0 ]</text>
<text x="86.5" y="353.6" font-family="Liberation Sans, sans-serif" font-size="10.55" fill="#000">Hosp C. Neily (0.1 cm/s<tspan dy="-3.6" font-size="8.2">2</tspan><tspan dy="3.6">)</tspan></text>
<text x="60.4" y="368.3" font-family="Liberation Sans, sans-serif" font-size="10.5" fill="#000" textLength="18.4" lengthAdjust="spacing">[ 0 ]</text>
<text x="86.5" y="368.3" font-family="Liberation Sans, sans-serif" font-size="10.55" fill="#000">Sarapiqui (0.1 cm/s<tspan dy="-3.6" font-size="8.2">2</tspan><tspan dy="3.6">)</tspan></text>
<text x="60.4" y="382.9" font-family="Liberation Sans, sans-serif" font-size="10.5" fill="#000" textLength="18.4" lengthAdjust="spacing">[ 0 ]</text>
<text x="86.5" y="382.9" font-family="Liberation Sans, sans-serif" font-size="10.55" fill="#000">Palmar Norte (0.1 cm/s<tspan dy="-3.6" font-size="8.2">2</tspan><tspan dy="3.6">)</tspan></text>
<text x="60.4" y="397.5" font-family="Liberation Sans, sans-serif" font-size="10.5" fill="#000" textLength="18.4" lengthAdjust="spacing">[ 0 ]</text>
<text x="86.5" y="397.5" font-family="Liberation Sans, sans-serif" font-size="10.55" fill="#000">La Sabana (0.1 cm/s<tspan dy="-3.6" font-size="8.2">2</tspan><tspan dy="3.6">)</tspan></text>
<rect x="52.5" y="50.5" width="361.0" height="361.8" fill="none" stroke="#000" stroke-width="1.15"/>
<g stroke="#000" stroke-width="1">
<line x1="104.5" y1="412.3" x2="104.5" y2="407.8"/>
<line x1="104.5" y1="50.5" x2="104.5" y2="55.0"/>
<line x1="157.2" y1="412.3" x2="157.2" y2="407.8"/>
<line x1="157.2" y1="50.5" x2="157.2" y2="55.0"/>
<line x1="209.7" y1="412.3" x2="209.7" y2="407.8"/>
<line x1="209.7" y1="50.5" x2="209.7" y2="55.0"/>
<line x1="261.5" y1="412.3" x2="261.5" y2="407.8"/>
<line x1="261.5" y1="50.5" x2="261.5" y2="55.0"/>
<line x1="314.6" y1="412.3" x2="314.6" y2="407.8"/>
<line x1="314.6" y1="50.5" x2="314.6" y2="55.0"/>
<line x1="366.8" y1="412.3" x2="366.8" y2="407.8"/>
<line x1="366.8" y1="50.5" x2="366.8" y2="55.0"/>
<line x1="52.5" y1="78.5" x2="57.0" y2="78.5"/>
<line x1="413.5" y1="78.5" x2="409.0" y2="78.5"/>
<line x1="52.5" y1="134.3" x2="57.0" y2="134.3"/>
<line x1="413.5" y1="134.3" x2="409.0" y2="134.3"/>
<line x1="52.5" y1="189.3" x2="57.0" y2="189.3"/>
<line x1="413.5" y1="189.3" x2="409.0" y2="189.3"/>
<line x1="52.5" y1="245.4" x2="57.0" y2="245.4"/>
<line x1="413.5" y1="245.4" x2="409.0" y2="245.4"/>
<line x1="52.5" y1="301.0" x2="57.0" y2="301.0"/>
<line x1="413.5" y1="301.0" x2="409.0" y2="301.0"/>
<line x1="52.5" y1="356.5" x2="57.0" y2="356.5"/>
<line x1="413.5" y1="356.5" x2="409.0" y2="356.5"/>
</g>
<g font-family="Liberation Mono, monospace" font-weight="bold" font-size="11.67" stroke="#000" stroke-width="0.22" fill="#000">
<text x="44.5" y="82.2" text-anchor="end">11</text>
<text x="44.5" y="138.0" text-anchor="end">10.5</text>
<text x="44.5" y="193.0" text-anchor="end">10</text>
<text x="44.5" y="249.1" text-anchor="end">9.5</text>
<text x="44.5" y="304.7" text-anchor="end">9</text>
<text x="44.5" y="360.2" text-anchor="end">8.5</text>
<text x="44.5" y="416.1" text-anchor="end">8</text>
<text x="52.4" y="430.2" text-anchor="middle">-86</text>
<text x="104.5" y="430.2" text-anchor="middle">-85.5</text>
<text x="157.2" y="430.2" text-anchor="middle">-85</text>
<text x="209.7" y="430.2" text-anchor="middle">-84.5</text>
<text x="261.5" y="430.2" text-anchor="middle">-84</text>
<text x="314.6" y="430.2" text-anchor="middle">-83.5</text>
<text x="366.8" y="430.2" text-anchor="middle">-83</text>
<text x="231.5" y="34.8" text-anchor="middle">Intensidad calculada el 2025/08/22_12:45:30_AM</text>
</g>
<text x="3.8" y="446.8" font-family="Liberation Sans, sans-serif" font-size="8.95" fill="#000">LISUCR 20250822064531</text>
<defs><linearGradient id="cb" x1="0" y1="1" x2="0" y2="0">
<stop offset="0.0000" stop-color="#ffffff"/>
<stop offset="0.1071" stop-color="#b6b6b6"/>
<stop offset="0.1429" stop-color="#a2a2cc"/>
<stop offset="0.2143" stop-color="#5858dc"/>
<stop offset="0.2857" stop-color="#1414ee"/>
<stop offset="0.3000" stop-color="#0000ff"/>
<stop offset="0.3571" stop-color="#0080ff"/>
<stop offset="0.4114" stop-color="#00f8ff"/>
<stop offset="0.4286" stop-color="#00ffe0"/>
<stop offset="0.5000" stop-color="#00ff80"/>
<stop offset="0.5714" stop-color="#00ff20"/>
<stop offset="0.6071" stop-color="#00ff00"/>
<stop offset="0.6357" stop-color="#a0ff00"/>
<stop offset="0.6571" stop-color="#ffff00"/>
<stop offset="0.7143" stop-color="#ffd800"/>
<stop offset="0.7857" stop-color="#ff9c00"/>
<stop offset="0.8571" stop-color="#ff4000"/>
<stop offset="0.8943" stop-color="#ff0800"/>
<stop offset="0.9314" stop-color="#c00000"/>
<stop offset="0.9686" stop-color="#700000"/>
<stop offset="0.9886" stop-color="#240000"/>
<stop offset="0.9929" stop-color="#000000"/>
<stop offset="1.0000" stop-color="#000000"/>
</linearGradient></defs>
<rect x="422.5" y="50.5" width="18.1" height="361.8" fill="url(#cb)" stroke="#000" stroke-width="1"/>
<g stroke="#000" stroke-width="1">
<line x1="422.5" y1="361.1" x2="427.1" y2="361.1"/>
<line x1="440.6" y1="361.1" x2="436.0" y2="361.1"/>
<line x1="422.5" y1="309.4" x2="427.1" y2="309.4"/>
<line x1="440.6" y1="309.4" x2="436.0" y2="309.4"/>
<line x1="422.5" y1="257.7" x2="427.1" y2="257.7"/>
<line x1="440.6" y1="257.7" x2="436.0" y2="257.7"/>
<line x1="422.5" y1="206.0" x2="427.1" y2="206.0"/>
<line x1="440.6" y1="206.0" x2="436.0" y2="206.0"/>
<line x1="422.5" y1="154.3" x2="427.1" y2="154.3"/>
<line x1="440.6" y1="154.3" x2="436.0" y2="154.3"/>
<line x1="422.5" y1="102.6" x2="427.1" y2="102.6"/>
<line x1="440.6" y1="102.6" x2="436.0" y2="102.6"/>
</g>
<g font-family="Liberation Mono, monospace" font-weight="bold" font-size="11.67" stroke="#000" stroke-width="0.22" fill="#000">
<text x="457.1" y="416.8" text-anchor="middle">0</text>
<text x="457.1" y="365.1" text-anchor="middle">1</text>
<text x="457.1" y="313.4" text-anchor="middle">2</text>
<text x="457.1" y="261.7" text-anchor="middle">3</text>
<text x="457.1" y="210.0" text-anchor="middle">4</text>
<text x="457.1" y="158.3" text-anchor="middle">5</text>
<text x="457.1" y="106.6" text-anchor="middle">6</text>
<text x="457.1" y="54.9" text-anchor="middle">7</text>
<text transform="translate(475.7,412.5) rotate(-90)">No sentido</text>
<text transform="translate(475.7,322.0) rotate(-90)">Debil</text>
<text transform="translate(475.7,261.0) rotate(-90)">Moderado</text>
<text transform="translate(475.7,173.5) rotate(-90)">Fuerte</text>
<text transform="translate(475.7,109.0) rotate(-90)">Muy Fuerte</text>
</g>
<path d="M508.0 54.4 L508.1 53.6 L508.3 54.8 L508.4 56.5 L508.5 54.6 L508.6 56.7 L508.8 56.0 L508.9 55.1 L509.0 55.0 L509.2 56.4 L509.3 52.9 L509.4 54.1 L509.5 57.0 L509.7 57.9 L509.8 53.7 L509.9 53.8 L510.0 55.0 L510.2 56.7 L510.3 56.2 L510.4 54.6 L510.6 56.4 L510.7 57.9 L510.8 55.3 L510.9 54.2 L511.1 53.8 L511.2 54.0 L511.3 54.7 L511.5 56.4 L511.6 57.0 L511.7 54.8 L511.8 53.7 L512.0 54.7 L512.1 55.1 L512.2 55.6 L512.4 56.4 L512.5 55.0 L512.6 57.2 L512.7 60.2 L512.9 56.2 L513.0 49.9 L513.1 50.5 L513.2 56.4 L513.4 62.0 L513.5 56.3 L513.6 50.1 L513.8 55.9 L513.9 63.4 L514.0 55.0 L514.1 51.9 L514.3 53.7 L514.4 53.3 L514.5 52.0 L514.7 55.7 L514.8 57.7 L514.9 58.4 L515.0 56.9 L515.2 55.5 L515.3 54.5 L515.4 54.6 L515.6 54.1 L515.7 56.3 L515.8 55.9 L515.9 54.3 L516.1 54.6 L516.2 56.0 L516.3 57.2 L516.4 58.7 L516.6 55.8 L516.7 47.4 L516.8 49.2 L517.0 56.4 L517.1 59.7 L517.2 57.4 L517.3 54.1 L517.5 51.1 L517.6 55.2 L517.7 58.7 L517.9 57.0 L518.0 54.6 L518.1 53.9 L518.2 54.4 L518.4 55.7 L518.5 56.0 L518.6 55.3 L518.8 54.8 L518.9 54.7 L519.0 55.7 L519.1 56.3 L519.3 56.4 L519.4 55.6 L519.5 54.6 L519.6 53.9 L519.8 54.9 L519.9 56.0 L520.0 55.7 L520.2 55.1 L520.3 55.1 L520.4 55.3 L520.5 55.6 L520.7 55.5 L520.8 55.8 L520.9 55.5 L521.1 54.9 L521.2 54.3 L521.3 55.4 L521.4 55.9 L521.6 54.9 L521.7 54.8 L521.8 55.4 L522.0 55.1 L522.1 55.8 L522.2 56.4 L522.3 54.8 L522.5 54.5 L522.6 54.9 L522.7 55.2 L522.8 55.2 L523.0 56.5 L523.1 56.1 L523.2 54.8 L523.4 54.6 L523.5 56.3 L523.6 56.0 L523.7 54.3 L523.9 55.2 L524.0 56.0 L524.1 55.2 L524.3 54.3 L524.4 55.4 L524.5 55.6 L524.6 54.9 L524.8 54.9 L524.9 56.0 L525.0 56.0 L525.2 55.0 L525.3 54.9 L525.4 55.1 L525.5 55.7 L525.7 55.5 L525.8 55.1 L525.9 55.1 L526.0 55.9 L526.2 55.7 L526.3 55.1 L526.4 54.9 L526.6 55.1 L526.7 55.6 L526.8 55.5 L526.9 55.2 L527.1 54.1 L527.2 53.6 L527.3 56.8 L527.5 58.2 L527.6 55.1 L527.7 53.6 L527.8 54.8 L528.0 55.4 L528.1 55.3 L528.2 55.0 L528.4 55.1 L528.5 55.4 L528.6 55.7 L528.7 55.5 L528.9 55.4 L529.0 55.3 L529.1 55.5 L529.3 55.5 L529.4 55.4 L529.5 54.6 L529.6 54.9 L529.8 56.0 L529.9 56.4 L530.0 54.8 L530.1 54.6 L530.3 55.3 L530.4 55.8 L530.5 55.2 L530.7 55.2 L530.8 55.0 L530.9 55.0 L531.0 55.5 L531.2 56.0 L531.3 55.7 L531.4 55.0 L531.6 54.8 L531.7 55.4 L531.8 55.6 L531.9 55.3 L532.1 55.2 L532.2 55.7 L532.3 55.6 L532.5 55.7 L532.6 55.3 L532.7 54.6 L532.8 54.0 L533.0 55.6 L533.1 56.3 L533.2 55.9 L533.3 55.1 L533.5 54.7 L533.6 55.0 L533.7 55.4 L533.9 56.0 L534.0 53.9 L534.1 53.3 L534.2 54.7 L534.4 56.4 L534.5 56.5 L534.6 56.9 L534.8 55.2 L534.9 54.0 L535.0 55.6 L535.1 55.6 L535.3 54.6 L535.4 55.9 L535.5 56.0 L535.7 55.1 L535.8 55.4 L535.9 55.6 L536.0 55.6 L536.2 55.3 L536.3 55.3 L536.4 54.8 L536.5 54.8 L536.7 55.9 L536.8 55.4 L536.9 54.8 L537.1 55.0 L537.2 55.6 L537.3 55.5 L537.4 55.5 L537.6 55.5 L537.7 55.6 L537.8 54.9 L538.0 54.4 L538.1 55.0 L538.2 55.5 L538.3 55.4 L538.5 55.7 L538.6 55.5 L538.7 55.2 L538.9 55.2 L539.0 55.1 L539.1 55.2 L539.2 55.9 L539.4 55.8 L539.5 55.2 L539.6 55.4 L539.7 54.9 L539.9 54.9 L540.0 55.1 L540.1 55.1 L540.3 56.1 L540.4 56.1 L540.5 54.8 L540.6 55.5 L540.8 55.9 L540.9 54.7 L541.0 54.6 L541.2 55.2 L541.3 55.1 L541.4 55.7 L541.5 55.5 L541.7 55.4 L541.8 55.5 L541.9 55.4 L542.1 55.1 L542.2 55.1 L542.3 55.1 L542.4 55.7 L542.6 55.9 L542.7 55.4 L542.8 54.7 L542.9 54.5 L543.1 54.9 L543.2 55.3 L543.3 56.0 L543.5 55.6 L543.6 55.4 L543.7 54.9 L543.8 55.0 L544.0 55.5 L544.1 55.8 L544.2 55.3 L544.4 55.1 L544.5 55.2 L544.6 55.2 L544.7 55.0 L544.9 55.3 L545.0 55.5 L545.1 55.4 L545.3 55.3 L545.4 55.1 L545.5 55.2 L545.6 55.4 L545.8 55.5 L545.9 55.4 L546.0 55.0 L546.1 55.4 L546.3 55.9 L546.4 54.7 L546.5 54.1 L546.7 55.3 L546.8 56.3 L546.9 56.2 L547.0 55.2 L547.2 54.5 L547.3 55.3 L547.4 55.6 L547.6 55.7 L547.7 55.6 L547.8 55.4 L547.9 55.0 L548.1 56.2 L548.2 55.5 L548.3 54.5 L548.5 54.4 L548.6 54.8 L548.7 55.0 L548.8 55.6 L549.0 55.5 L549.1 55.5 L549.2 55.3 L549.3 55.9 L549.5 55.7 L549.6 55.0 L549.7 55.3 L549.9 55.5 L550.0 55.5 L550.1 55.4 L550.2 55.3 L550.4 54.6 L550.5 55.2 L550.6 55.9 L550.8 55.0 L550.9 54.2 L551.0 54.7 L551.1 55.3 L551.3 55.5 L551.4 56.0 L551.5 56.2 L551.7 55.3 L551.8 55.0 L551.9 55.2 L552.0 55.3 L552.2 55.2 L552.3 55.3 L552.4 55.4 L552.5 55.1 L552.7 55.7 L552.8 55.8 L552.9 55.1 L553.1 55.0 L553.2 55.0 L553.3 55.1 L553.4 55.5 L553.6 55.5 L553.7 55.1 L553.8 55.0 L554.0 55.5 L554.1 55.6 L554.2 54.9 L554.3 55.3 L554.5 55.6 L554.6 55.6 L554.7 55.1 L554.9 54.6 L555.0 55.4 L555.1 55.9 L555.2 55.4 L555.4 55.0 L555.5 55.5 L555.6 55.4 L555.7 55.6 L555.9 55.5 L556.0 55.4 L556.1 54.5 L556.3 54.6 L556.4 55.7 L556.5 56.2 L556.6 55.1 L556.8 54.7 L556.9 55.3 L557.0 55.9 L557.2 55.4 L557.3 55.1 L557.4 55.1 L557.5 55.1 L557.7 55.2 L557.8 55.4 L557.9 56.0 L558.1 55.4 L558.2 55.0 L558.3 55.0 L558.4 55.4 L558.6 55.1 L558.7 55.5 L558.8 55.7 L558.9 55.6 L559.1 54.7 L559.2 54.9 L559.3 55.6 L559.5 55.7 L559.6 55.0 L559.7 54.9 L559.8 54.7 L560.0 55.4 L560.1 56.2 L560.2 56.0 L560.4 55.2 L560.5 55.5 L560.6 55.6 L560.7 54.5 L560.9 53.7 L561.0 54.8 L561.1 56.3 L561.3 56.6 L561.4 55.3 L561.5 54.2 L561.6 55.3 L561.8 56.6 L561.9 55.3 L562.0 54.5 L562.1 56.0 L562.3 55.5 L562.4 54.4 L562.5 55.1 L562.7 55.5 L562.8 55.3 L562.9 55.8 L563.0 55.9 L563.2 55.1 L563.3 54.7 L563.4 55.4 L563.6 55.3 L563.7 55.3 L563.8 55.7 L563.9 55.8 L564.1 55.5 L564.2 54.6 L564.3 53.6 L564.5 54.8 L564.6 56.6 L564.7 55.9 L564.8 54.7 L565.0 54.8 L565.1 55.8 L565.2 55.5 L565.3 55.6 L565.5 55.0 L565.6 55.5 L565.7 55.3 L565.9 54.8 L566.0 55.2 L566.1 55.0 L566.2 54.9 L566.4 55.7 L566.5 55.5 L566.6 54.9 L566.8 55.2 L566.9 55.5 L567.0 56.0 L567.1 55.7 L567.3 55.0 L567.4 55.0 L567.5 55.6 L567.7 55.8 L567.8 55.3 L567.9 54.7 L568.0 55.1 L568.2 55.4 L568.3 55.4 L568.4 56.9 L568.6 54.5 L568.7 50.2 L568.8 49.3 L568.9 56.2 L569.1 62.2 L569.2 59.5 L569.3 54.8 L569.4 50.9 L569.6 53.9 L569.7 63.0 L569.8 68.2 L570.0 55.3 L570.1 54.2 L570.2 59.2 L570.3 51.5 L570.5 39.5 L570.6 50.3 L570.7 61.1 L570.9 56.7 L571.0 51.5 L571.1 47.8 L571.2 54.0 L571.4 59.6 L571.5 51.5 L571.6 51.9 L571.8 59.0 L571.9 56.1 L572.0 55.4 L572.1 56.6 L572.3 56.4 L572.4 55.9 L572.5 57.0 L572.6 53.8 L572.8 54.8 L572.9 55.3 L573.0 59.5 L573.2 61.9 L573.3 54.3 L573.4 48.3 L573.5 51.6 L573.7 57.5 L573.8 55.1 L573.9 53.5 L574.1 57.9 L574.2 59.3 L574.3 58.3 L574.4 56.2 L574.6 50.4 L574.7 52.5 L574.8 64.6 L575.0 59.2 L575.1 52.9 L575.2 53.5 L575.3 51.2 L575.5 55.2 L575.6 62.4 L575.7 58.1 L575.8 41.3 L576.0 46.9 L576.1 59.4 L576.2 56.9 L576.4 53.0 L576.5 57.9 L576.6 53.1 L576.7 48.0 L576.9 58.4 L577.0 61.6 L577.1 49.7 L577.3 49.9 L577.4 62.2 L577.5 50.2 L577.6 49.0 L577.8 62.8 L577.9 70.5 L578.0 58.5 L578.2 45.5 L578.3 48.2 L578.4 55.0 L578.5 60.3 L578.7 53.6 L578.8 55.7 L578.9 60.5 L579.0 59.1 L579.2 54.7 L579.3 50.2 L579.4 54.6 L579.6 58.7 L579.7 57.0 L579.8 56.3 L579.9 53.8 L580.1 49.6 L580.2 71.2 L580.3 62.9 L580.5 37.8 L580.6 38.9 L580.7 59.2 L580.8 60.6 L581.0 60.2 L581.1 58.1 L581.2 59.6 L581.4 53.1 L581.5 51.8 L581.6 53.6 L581.7 53.8 L581.9 54.4 L582.0 60.7 L582.1 57.0 L582.2 48.2 L582.4 48.2 L582.5 58.7 L582.6 65.3 L582.8 57.4 L582.9 55.4 L583.0 50.0 L583.1 49.3 L583.3 48.1 L583.4 56.6 L583.5 60.3 L583.7 61.8 L583.8 58.8 L583.9 54.4 L584.0 54.7 L584.2 55.6 L584.3 54.3 L584.4 52.0 L584.6 55.9 L584.7 52.7 L584.8 53.8 L584.9 53.0 L585.1 53.6 L585.2 52.7 L585.3 58.3 L585.4 59.8 L585.6 55.9 L585.7 52.5 L585.8 58.5 L586.0 59.9 L586.1 56.0 L586.2 52.5 L586.3 49.3 L586.5 48.1 L586.6 56.9 L586.7 62.4 L586.9 56.2 L587.0 54.5 L587.1 54.8 L587.2 54.8 L587.4 52.4 L587.5 58.2 L587.6 58.0 L587.8 56.2 L587.9 54.4 L588.0 55.5 L588.1 54.4 L588.3 54.6 L588.4 51.7 L588.5 53.9 L588.6 58.3 L588.8 57.6 L588.9 53.7 L589.0 54.6 L589.2 56.7 L589.3 54.7 L589.4 55.0 L589.5 53.9 L589.7 55.3 L589.8 58.7 L589.9 57.3 L590.1 52.3 L590.2 54.4 L590.3 55.3 L590.4 55.5 L590.6 53.2 L590.7 54.4 L590.8 56.2 L591.0 57.0 L591.1 56.9 L591.2 56.0 L591.3 55.5 L591.5 54.7 L591.6 53.5 L591.7 54.2 L591.8 56.4 L592.0 55.6 L592.1 53.9 L592.2 53.9 L592.4 55.0 L592.5 54.3 L592.6 55.5 L592.7 56.3 L592.9 57.2 L593.0 55.0 L593.1 55.2 L593.3 56.2 L593.4 54.8 L593.5 53.9 L593.6 53.8 L593.8 56.2 L593.9 57.4 L594.0 56.2 L594.2 53.6 L594.3 55.0 L594.4 56.0 L594.5 55.4 L594.7 55.1 L594.8 55.6 L594.9 55.2 L595.0 54.2 L595.2 55.0 L595.3 57.7 L595.4 56.5 L595.6 53.3 L595.7 54.2 L595.8 56.5 L595.9 56.0 L596.1 54.5 L596.2 54.4 L596.3 55.0 L596.5 55.7 L596.6 55.8 L596.7 55.3 L596.8 55.5 L597.0 56.4 L597.1 55.9 L597.2 53.1 L597.4 53.6 L597.5 55.9 L597.6 57.7 L597.7 56.0 L597.9 55.5 L598.0 54.1 L598.1 54.1 L598.2 54.5 L598.4 57.0 L598.5 55.3 L598.6 53.2 L598.8 53.9 L598.9 55.1 L599.0 56.8 L599.1 57.4 L599.3 56.7 L599.4 55.9 L599.5 54.7 L599.7 54.8 L599.8 55.2 L599.9 54.3 L600.0 53.6 L600.2 56.4 L600.3 56.3 L600.4 54.9 L600.6 54.2 L600.7 56.0 L600.8 56.0 L600.9 55.4 L601.1 55.2 L601.2 55.9 L601.3 55.7 L601.4 55.6 L601.6 55.9 L601.7 54.3 L601.8 53.2 L602.0 54.7 L602.1 56.4 L602.2 54.9 L602.3 53.7 L602.5 55.2 L602.6 56.9 L602.7 56.4 L602.9 54.3 L603.0 54.6 L603.1 55.7 L603.2 55.9 L603.4 55.7 L603.5 55.8 L603.6 55.1 L603.8 54.9 L603.9 56.2 L604.0 55.7 L604.1 55.3 L604.3 54.4 L604.4 55.0 L604.5 54.5 L604.6 54.6 L604.8 55.2 L604.9 56.0 L605.0 56.0 L605.2 55.8 L605.3 54.5 L605.4 54.7 L605.5 56.4 L605.7 55.8 L605.8 53.3 L605.9 55.0 L606.1 56.1 L606.2 54.0 L606.3 54.9 L606.4 57.1 L606.6 57.0 L606.7 55.6 L606.8 54.9 L607.0 55.1 L607.1 54.5 L607.2 53.8 L607.3 54.7 L607.5 56.2 L607.6 54.8 L607.7 55.6 L607.8 55.4 L608.0 55.5 L608.1 56.3 L608.2 56.1 L608.4 53.7 L608.5 54.5 L608.6 56.0 L608.7 56.1 L608.9 55.3 L609.0 54.3 L609.1 55.6 L609.3 56.1 L609.4 55.8 L609.5 55.1 L609.6 54.8 L609.8 55.4 L609.9 55.3 L610.0 55.5 L610.2 55.2 L610.3 55.8 L610.4 55.2 L610.5 54.2 L610.7 54.8 L610.8 55.8 L610.9 55.5 L611.1 55.2 L611.2 56.2 L611.3 55.9 L611.4 55.1 L611.6 53.7 L611.7 53.7 L611.8 55.5 L611.9 57.5 L612.1 58.4 L612.2 55.7 L612.3 54.0 L612.5 53.4 L612.6 54.3 L612.7 55.3 L612.8 56.8 L613.0 56.3 L613.1 54.0 L613.2 53.1 L613.4 54.2 L613.5 56.7 L613.6 57.2 L613.7 55.9 L613.9 54.2 L614.0 54.0 L614.1 55.8 L614.3 56.6 L614.4 55.2 L614.5 54.6 L614.6 55.3 L614.8 56.0 L614.9 54.9 L615.0 55.0 L615.1 55.8 L615.3 56.3 L615.4 55.9 L615.5 55.1 L615.7 54.2 L615.8 54.1 L615.9 56.0 L616.0 57.3 L616.2 54.1 L616.3 52.7 L616.4 55.9 L616.6 59.7 L616.7 56.2 L616.8 51.4 L616.9 54.1 L617.1 60.2 L617.2 60.2 L617.3 59.3 L617.5 53.8 L617.6 49.6 L617.7 51.3 L617.8 52.1 L618.0 51.0 L618.1 58.0 L618.2 40.3 L618.3 71.3 L618.5 46.3 L618.6 63.3 L618.7 59.9 L618.9 55.5 L619.0 56.2 L619.1 56.6 L619.2 55.6 L619.4 50.6 L619.5 60.2 L619.6 60.7 L619.8 53.7 L619.9 52.6 L620.0 55.3 L620.1 53.5 L620.3 55.0 L620.4 57.4 L620.5 56.4 L620.7 55.3 L620.8 54.5 L620.9 54.0 L621.0 53.9 L621.2 55.1 L621.3 56.3 L621.4 57.3 L621.5 55.2 L621.7 53.2 L621.8 55.0 L621.9 55.2 L622.1 53.1 L622.2 55.6 L622.3 56.8 L622.4 56.1 L622.6 54.6 L622.7 54.7 L622.8 55.8 L623.0 55.4 L623.1 55.1 L623.2 57.0 L623.3 57.7 L623.5 55.5 L623.6 53.8 L623.7 54.2 L623.9 57.2 L624.0 55.9 L624.1 55.4 L624.2 54.7 L624.4 55.7 L624.5 55.3 L624.6 53.6 L624.7 54.6 L624.9 57.3 L625.0 56.0 L625.1 53.9 L625.3 54.7 L625.4 54.7 L625.5 54.8 L625.6 56.3 L625.8 56.0 L625.9 55.9 L626.0 55.2 L626.2 54.3 L626.3 54.6 L626.4 55.6 L626.5 55.3 L626.7 55.7 L626.8 55.9 L626.9 56.5 L627.1 55.4 L627.2 53.7 L627.3 54.6 L627.4 55.4 L627.6 54.9 L627.7 56.1 L627.8 56.9 L627.9 55.4 L628.1 54.0 L628.2 55.3 L628.3 55.4 L628.5 55.8 L628.6 56.0 L628.7 54.5 L628.8 52.6 L629.0 55.2 L629.1 56.9 L629.2 56.2 L629.4 53.5 L629.5 54.2 L629.6 56.4 L629.7 56.7 L629.9 55.3 L630.0 54.0 L630.1 54.7 L630.3 57.0 L630.4 56.5 L630.5 55.1 L630.6 55.4 L630.8 55.1 L630.9 54.6 L631.0 54.1 L631.1 53.6 L631.3 54.6 L631.4 56.9 L631.5 56.2 L631.7 55.0 L631.8 55.3 L631.9 55.1 L632.0 55.5 L632.2 55.6 L632.3 54.0 L632.4 53.8 L632.6 57.4 L632.7 56.4 L632.8 52.7 L632.9 54.6 L633.1 57.2 L633.2 56.2 L633.3 55.0 L633.5 54.8 L633.6 55.3 L633.7 55.6 L633.8 55.3 L634.0 55.1 L634.1 55.7 L634.2 55.8 L634.3 54.8 L634.5 54.7 L634.6 55.5 L634.7 55.8 L634.9 55.6 L635.0 55.9 L635.1 55.8 L635.2 54.0 L635.4 53.3 L635.5 55.5 L635.6 56.8 L635.8 55.6 L635.9 54.4 L636.0 54.2 L636.1 56.0 L636.3 56.2 L636.4 54.6 L636.5 54.5 L636.7 56.2 L636.8 57.0 L636.9 56.2 L637.0 55.8 L637.2 54.5 L637.3 53.0 L637.4 54.2 L637.5 57.7 L637.7 57.3 L637.8 54.5 L637.9 54.2 L638.1 53.7 L638.2 54.2 L638.3 55.5 L638.4 56.6 L638.6 56.0 L638.7 55.3 L638.8 55.4 L639.0 56.4 L639.1 56.4 L639.2 55.2 L639.3 55.3 L639.5 53.6 L639.6 53.7 L639.7 55.6 L639.9 56.8 L640.0 56.0 L640.1 54.9 L640.2 55.8 L640.4 56.1 L640.5 56.5 L640.6 53.6 L640.7 53.1 L640.9 54.1 L641.0 54.2 L641.1 56.6 L641.3 58.1 L641.4 54.9 L641.5 51.8 L641.6 54.3 L641.8 57.8 L641.9 58.5 L642.0 55.8 L642.2 52.4 L642.3 53.1 L642.4 55.2 L642.5 55.1 L642.7 55.6 L642.8 57.1 L642.9 56.8 L643.1 54.8 L643.2 55.1 L643.3 54.9 L643.4 54.2 L643.6 54.5 L643.7 55.5 L643.8 55.2 L643.9 54.8 L644.1 54.7 L644.2 56.5 L644.3 55.4 L644.5 51.2 L644.6 54.1 L644.7 55.2 L644.8 53.7 L645.0 60.3 L645.1 67.7 L645.2 61.7 L645.4 51.2 L645.5 44.2 L645.6 54.6 L645.7 58.2 L645.9 47.5 L646.0 54.8 L646.1 60.7 L646.3 55.8 L646.4 52.5 L646.5 56.5 L646.6 58.5 L646.8 52.7 L646.9 51.9 L647.0 55.2 L647.1 56.1 L647.3 52.5 L647.4 59.2 L647.5 60.1 L647.7 55.1 L647.8 51.4 L647.9 53.5 L648.0 53.7 L648.2 56.6 L648.3 58.9 L648.4 59.6 L648.6 54.4 L648.7 52.7 L648.8 58.7 L648.9 45.2 L649.1 41.4 L649.2 59.2 L649.3 59.6 L649.5 50.6 L649.6 54.2 L649.7 61.7 L649.8 62.5 L650.0 54.9 L650.1 56.6 L650.2 55.7 L650.4 52.9 L650.5 53.4 L650.6 54.9 L650.7 48.9 L650.9 56.2 L651.0 64.2 L651.1 64.7 L651.2 50.7 L651.4 51.2 L651.5 43.4 L651.6 61.3 L651.8 65.2 L651.9 55.6 L652.0 48.5 L652.1 56.7 L652.3 59.3 L652.4 52.2 L652.5 45.9 L652.7 58.6 L652.8 67.9 L652.9 57.0 L653.0 47.3 L653.2 51.1 L653.3 57.0 L653.4 56.6 L653.6 55.6 L653.7 56.3 L653.8 50.7 L653.9 53.1 L654.1 60.3 L654.2 54.6 L654.3 48.1 L654.4 57.6 L654.6 56.1 L654.7 52.6 L654.8 54.5 L655.0 57.9 L655.1 55.9 L655.2 56.1 L655.3 62.3 L655.5 63.2 L655.6 51.3 L655.7 50.1 L655.9 53.7 L656.0 57.2 L656.1 59.3 L656.2 54.1 L656.4 48.1 L656.5 52.0 L656.6 56.9 L656.8 59.1 L656.9 57.5 L657.0 50.6 L657.1 49.0 L657.3 54.6 L657.4 57.2 L657.5 63.2 L657.6 63.2 L657.8 57.2 L657.9 46.5 L658.0 54.8 L658.2 53.9 L658.3 52.2 L658.4 50.1 L658.5 54.4 L658.7 55.1 L658.8 60.3 L658.9 55.2 L659.1 55.8 L659.2 59.6 L659.3 61.4 L659.4 54.6 L659.6 54.4 L659.7 55.6 L659.8 54.4 L660.0 52.3 L660.1 47.9 L660.2 55.1 L660.3 71.2 L660.5 57.9 L660.6 45.1 L660.7 58.4 L660.8 57.3 L661.0 46.0 L661.1 49.2 L661.2 62.2 L661.4 56.0 L661.5 53.8 L661.6 59.4 L661.7 58.5 L661.9 52.7 L662.0 54.3 L662.1 60.3 L662.3 59.0 L662.4 52.1 L662.5 53.7 L662.6 57.9 L662.8 55.8 L662.9 52.3 L663.0 52.8 L663.2 55.2 L663.3 55.2 L663.4 55.8 L663.5 57.3 L663.7 56.0 L663.8 56.4 L663.9 55.4 L664.0 54.5 L664.2 55.9 L664.3 56.2 L664.4 55.2 L664.6 55.8 L664.7 55.4 L664.8 54.3 L664.9 55.5 L665.1 57.0 L665.2 58.5 L665.3 55.4 L665.5 54.0 L665.6 54.4 L665.7 54.8 L665.8 55.2 L666.0 54.8 L666.1 53.8 L666.2 54.9 L666.4 56.2 L666.5 54.9 L666.6 55.2 L666.7 55.8 L666.9 56.4 L667.0 55.3 L667.1 56.6 L667.2 55.4 L667.4 53.7 L667.5 55.5 L667.6 55.6 L667.8 53.9 L667.9 54.4 L668.0 57.0 L668.1 57.1 L668.3 53.7 L668.4 52.3 L668.5 55.1 L668.7 58.9 L668.8 57.9 L668.9 53.5 L669.0 53.6 L669.2 55.2 L669.3 55.6 L669.4 56.3 L669.6 55.9 L669.7 54.4 L669.8 54.2 L669.9 56.0 L670.1 55.0 L670.2 54.7 L670.3 54.8 L670.4 53.8 L670.6 54.7 L670.7 56.6 L670.8 56.1 L671.0 53.3 L671.1 54.8 L671.2 60.3 L671.3 58.5 L671.5 55.1 L671.6 54.9 L671.7 54.1 L671.9 52.9 L672.0 54.0 L672.1 52.5 L672.2 54.3 L672.4 59.6 L672.5 56.9 L672.6 53.2 L672.8 56.1 L672.9 57.9 L673.0 55.5 L673.1 53.2 L673.3 53.3 L673.4 55.9 L673.5 56.9 L673.6 55.3 L673.8 55.5 L673.9 56.0 L674.0 54.2 L674.2 52.0 L674.3 58.1 L674.4 60.0 L674.5 52.9 L674.7 49.9 L674.8 56.5 L674.9 56.7 L675.1 54.6 L675.2 56.2 L675.3 55.2 L675.4 54.9 L675.6 55.1 L675.7 58.1 L675.8 56.3 L676.0 53.7 L676.1 54.0 L676.2 57.0 L676.3 56.9 L676.5 55.4 L676.6 54.4 L676.7 53.9 L676.8 54.9 L677.0 54.7 L677.1 56.4 L677.2 57.4 L677.4 55.9 L677.5 53.1 L677.6 54.6 L677.7 56.4 L677.9 55.6 L678.0 53.8 L678.1 55.2 L678.3 56.2 L678.4 56.0 L678.5 54.2 L678.6 54.9 L678.8 56.0 L678.9 55.9 L679.0 54.7 L679.2 54.7 L679.3 55.1 L679.4 55.4 L679.5 55.2 L679.7 55.8 L679.8 57.3 L679.9 53.8 L680.0 52.1 L680.2 54.5 L680.3 56.5 L680.4 56.2 L680.6 56.6 L680.7 56.1 L680.8 54.0 L680.9 53.2 L681.1 55.3 L681.2 55.9 L681.3 55.3 L681.5 55.1 L681.6 56.1 L681.7 55.6 L681.8 55.8 L682.0 55.5 L682.1 54.7 L682.2 55.0 L682.4 56.1 L682.5 55.2 L682.6 55.3 L682.7 55.2 L682.9 55.3 L683.0 55.9 L683.1 56.4 L683.2 54.6 L683.4 53.9 L683.5 54.5 L683.6 54.1 L683.8 56.3 L683.9 55.2 L684.0 55.4 L684.1 55.0 L684.3 55.8 L684.4 55.1 L684.5 55.3 L684.7 53.4 L684.8 53.3 L684.9 56.8 L685.0 56.9 L685.2 54.7 L685.3 55.4 L685.4 58.1 L685.6 55.2 L685.7 53.8 L685.8 54.5 L685.9 56.4 L686.1 54.7 L686.2 53.5 L686.3 57.0 L686.4 56.4 L686.6 55.3 L686.7 55.4 L686.8 55.4 L687.0 53.9 L687.1 55.4 L687.2 56.2 L687.3 55.1 L687.5 54.8 L687.6 55.8 L687.7 55.2 L687.9 54.5 L688.0 56.4 L688.1 55.7 L688.2 53.9 L688.4 53.8 L688.5 55.2 L688.6 57.2 L688.8 56.1 L688.9 53.3 L689.0 54.4 L689.1 57.6 L689.3 58.2 L689.4 55.7 L689.5 54.0 L689.7 54.2 L689.8 54.1 L689.9 54.8 L690.0 54.5 L690.2 55.1 L690.3 56.4 L690.4 57.6 L690.5 55.2 L690.7 54.0 L690.8 54.1 L690.9 54.7 L691.1 55.9 L691.2 56.0 L691.3 55.2 L691.4 54.7 L691.6 55.2 L691.7 54.9 L691.8 56.3 L692.0 57.2 L692.1 56.3 L692.2 55.4 L692.3 54.6 L692.5 54.1 L692.6 54.7 L692.7 55.1 L692.9 56.5 L693.0 56.1 L693.1 52.7 L693.2 52.1 L693.4 57.0 L693.5 57.7 L693.6 55.0 L693.7 54.1 L693.9 54.7 L694.0 55.9 L694.1 58.3 L694.3 56.2 L694.4 50.5 L694.5 52.1 L694.6 54.4 L694.8 55.2 L694.9 59.1 L695.0 54.4 L695.2 46.2 L695.3 62.3 L695.4 71.4 L695.5 60.3 L695.7 49.2 L695.8 51.5 L695.9 47.2 L696.1 53.1 L696.2 63.1 L696.3 66.7 L696.4 59.1 L696.6 53.7 L696.7 50.0 L696.8 57.6 L696.9 60.6 L697.1 55.2 L697.2 25.3 L697.3 73.6 L697.5 37.3 L697.6 64.8 L697.7 53.2 L697.8 48.4 L698.0 47.4 L698.1 66.0 L698.2 73.5 L698.4 53.5 L698.5 22.2 L698.6 45.0 L698.7 73.6 L698.9 71.6 L699.0 43.8 L699.1 57.2 L699.3 57.3 L699.4 45.8 L699.5 55.3 L699.6 63.2 L699.8 51.9 L699.9 53.7 L700.0 54.8 L700.1 56.0 L700.3 35.3 L700.4 72.3 L700.5 43.3 L700.7 63.8 L700.8 50.6 L700.9 57.2 L701.0 66.3 L701.2 56.8 L701.3 51.9 L701.4 54.4 L701.6 53.9 L701.7 52.0 L701.8 53.5 L701.9 47.2 L702.1 52.7 L702.2 56.8 L702.3 65.4 L702.5 61.1 L702.6 54.3 L702.7 56.1 L702.8 58.1 L703.0 54.5 L703.1 52.5 L703.2 57.6 L703.3 59.0 L703.5 50.2 L703.6 49.6 L703.7 57.9 L703.9 50.1 L704.0 47.2 L704.1 56.3 L704.2 63.3 L704.4 59.5 L704.5 55.8 L704.6 55.0 L704.8 57.9 L704.9 57.8 L705.0 53.5 L705.1 47.8 L705.3 53.6 L705.4 55.2 L705.5 54.5 L705.7 54.2 L705.8 58.7 L705.9 59.8 L706.0 54.6 L706.2 47.8 L706.3 50.6 L706.4 57.2 L706.5 60.1 L706.7 60.2 L706.8 55.5 L706.9 53.2 L707.1 55.6 L707.2 60.0 L707.3 57.9 L707.4 53.6 L707.6 52.5 L707.7 56.8 L707.8 56.0 L708.0 53.1 L708.1 55.6 L708.2 55.3 L708.3 52.2 L708.5 55.9 L708.6 56.9 L708.7 49.7 L708.9 50.6 L709.0 61.6 L709.1 64.1 L709.2 55.6 L709.4 47.3 L709.5 53.7 L709.6 58.7 L709.7 54.0 L709.9 54.7 L710.0 58.4 L710.1 56.5 L710.3 48.7 L710.4 56.3 L710.5 62.4 L710.6 55.0 L710.8 51.5 L710.9 56.2 L711.0 56.0 L711.2 56.1 L711.3 55.3 L711.4 52.2 L711.5 53.7 L711.7 56.1 L711.8 57.3 L711.9 52.7 L712.1 52.3 L712.2 55.3 L712.3 58.7 L712.4 59.1 L712.6 56.2 L712.7 54.3 L712.8 55.4 L712.9 53.7 L713.1 52.5 L713.2 55.2 L713.3 59.8 L713.5 58.4 L713.6 54.0 L713.7 51.0 L713.8 53.4 L714.0 55.6 L714.1 57.5 L714.2 55.0 L714.4 54.2 L714.5 53.3 L714.6 53.2 L714.7 53.5 L714.9 58.7 L715.0 59.7 L715.1 57.0 L715.3 53.1 L715.4 52.2 L715.5 54.0 L715.6 55.9 L715.8 59.1 L715.9 59.8 L716.0 53.5 L716.1 50.0 L716.3 56.5 L716.4 56.8 L716.5 55.0 L716.7 54.8 L716.8 57.4 L716.9 60.5 L717.0 52.7 L717.2 50.7 L717.3 55.3 L717.4 57.4 L717.6 54.2 L717.7 54.5 L717.8 57.2 L717.9 57.2 L718.1 51.5 L718.2 52.4 L718.3 60.6 L718.5 55.6 L718.6 54.3 L718.7 56.1 L718.8 53.6 L719.0 54.3 L719.1 53.9 L719.2 51.2 L719.3 54.6 L719.5 61.8 L719.6 58.0 L719.7 55.8 L719.9 53.4 L720.0 56.3 L720.1 58.3 L720.2 53.8 L720.4 50.5 L720.5 55.5 L720.6 60.9 L720.8 57.2 L720.9 50.9 L721.0 52.4 L721.1 57.6 L721.3 59.4 L721.4 56.5 L721.5 52.7 L721.7 52.2 L721.8 53.9 L721.9 54.7 L722.0 55.6 L722.2 59.5 L722.3 58.1 L722.4 56.3 L722.5 51.6 L722.7 52.0 L722.8 56.6 L722.9 56.1 L723.1 54.1 L723.2 58.0 L723.3 57.5 L723.4 49.1 L723.6 52.3 L723.7 56.8 L723.8 59.3 L724.0 59.4 L724.1 54.4 L724.2 54.1 L724.3 54.5 L724.5 57.0 L724.6 52.8 L724.7 52.5 L724.9 54.7 L725.0 56.2 L725.1 58.2 L725.2 55.2 L725.4 53.9 L725.5 52.0 L725.6 57.1 L725.7 57.2 L725.9 56.2 L726.0 54.8 L726.1 54.6 L726.3 59.2 L726.4 54.3 L726.5 47.3 L726.6 59.6 L726.8 65.0 L726.9 56.5 L727.0 47.0 L727.2 45.7 L727.3 53.6 L727.4 59.8 L727.5 59.4 L727.7 56.3 L727.8 55.4 L727.9 30.3 L728.1 69.3 L728.2 40.3 L728.3 62.3 L728.4 51.5 L728.6 55.5 L728.7 59.0 L728.8 55.1 L728.9 54.6 L729.1 57.7 L729.2 55.5 L729.3 54.7 L729.5 56.6 L729.6 55.9 L729.7 51.8 L729.8 53.5 L730.0 56.0 L730.1 54.7 L730.2 53.6 L730.4 53.4 L730.5 52.6 L730.6 59.5 L730.7 64.0 L730.9 54.4 L731.0 49.7 L731.1 53.1 L731.3 55.1 L731.4 57.7 L731.5 60.6 L731.6 59.5 L731.8 52.4 L731.9 46.6 L732.0 51.0 L732.2 61.9 L732.3 59.0 L732.4 51.9 L732.5 51.9 L732.7 56.5 L732.8 59.9 L732.9 55.5 L733.0 51.4 L733.2 56.5 L733.3 57.5 L733.4 54.8 L733.6 54.6 L733.7 55.1 L733.8 55.5 L733.9 53.8 L734.1 53.4 L734.2 54.8 L734.3 56.7 L734.5 55.8 L734.6 55.7 L734.7 55.9 L734.8 56.2 L735.0 55.3 L735.1 55.4 L735.2 56.1 L735.4 54.3 L735.5 53.5 L735.6 56.3 L735.7 57.3 L735.9 55.0 L736.0 54.2 L736.1 54.5 L736.2 55.4 L736.4 56.2 L736.5 55.5 L736.6 54.8 L736.8 56.1 L736.9 55.7 L737.0 55.1 L737.1 55.1 L737.3 55.7 L737.4 55.2 L737.5 54.5 L737.7 55.6 L737.8 57.5 L737.9 56.2 L738.0 53.9 L738.2 54.0 L738.3 53.3 L738.4 55.6 L738.6 55.2 L738.7 53.3 L738.8 55.3 L738.9 58.4 L739.1 55.7 L739.2 56.7 L739.3 56.4 L739.4 51.9 L739.6 54.0 L739.7 56.7 L739.8 54.0 L740.0 53.6 L740.1 55.2 L740.2 54.4 L740.3 56.0 L740.5 58.5 L740.6 58.2 L740.7 55.4 L740.9 52.9 L741.0 53.8 L741.1 55.3 L741.2 56.4 L741.4 53.8 L741.5 53.5 L741.6 56.0 L741.8 57.5 L741.9 55.7 L742.0 55.1 L742.1 55.5 L742.3 55.3 L742.4 54.5 L742.5 55.2 L742.6 56.5 L742.8 56.2 L742.9 55.3 L743.0 54.4 L743.2 55.6 L743.3 56.3 L743.4 54.8 L743.5 54.4 L743.7 55.4 L743.8 55.8 L743.9 55.6 L744.1 55.9 L744.2 55.3 L744.3 54.9 L744.4 54.7 L744.6 54.4 L744.7 55.4 L744.8 55.6 L745.0 54.8 L745.1 54.7 L745.2 55.8 L745.3 56.2 L745.5 57.3 L745.6 56.1 L745.7 54.1 L745.8 54.6 L746.0 55.9 L746.1 55.3 L746.2 55.7 L746.4 55.5 L746.5 53.7 L746.6 52.3 L746.7 55.1 L746.9 57.8 L747.0 56.3 L747.1 54.8 L747.3 54.7 L747.4 55.8 L747.5 55.0 L747.6 53.9 L747.8 55.3 L747.9 56.0 L748.0 55.3 L748.2 56.5 L748.3 56.0 L748.4 54.7 L748.5 55.3 L748.7 55.7 L748.8 55.0 L748.9 53.5 L749.0 54.5 L749.2 57.7 L749.3 57.8 L749.4 54.8 L749.6 54.0 L749.7 54.1 L749.8 55.4 L749.9 55.3 L750.1 56.3 L750.2 56.0 L750.3 53.2 L750.5 54.8 L750.6 55.9 L750.7 56.0 L750.8 57.0 L751.0 56.6 L751.1 54.4 L751.2 52.8 L751.4 54.8 L751.5 55.8 L751.6 55.8 L751.7 56.0 L751.9 55.9 L752.0 54.3 L752.1 53.7 L752.2 55.5 L752.4 57.1 L752.5 55.6 L752.6 54.8 L752.8 54.7 L752.9 55.2 L753.0 55.9 L753.1 56.4 L753.3 55.8 L753.4 54.4 L753.5 54.6 L753.7 55.3 L753.8 56.5 L753.9 56.0 L754.0 54.6 L754.2 54.7 L754.3 55.3 L754.4 56.2 L754.6 54.5 L754.7 53.7 L754.8 55.3 L754.9 57.1 L755.1 55.6 L755.2 54.9 L755.3 54.0 L755.4 54.0 L755.6 55.7 L755.7 55.4 L755.8 54.3 L756.0 55.4 L756.1 56.9 L756.2 56.6 L756.3 52.5 L756.5 52.1 L756.6 57.9 L756.7 58.4 L756.9 54.2 L757.0 55.0 L757.1 57.1 L757.2 56.8 L757.4 54.3 L757.5 54.5 L757.6 54.0 L757.8 54.2 L757.9 55.4 L758.0 54.6 L758.1 54.3 L758.3 56.5 L758.4 55.0 L758.5 55.1 L758.6 55.8 L758.8 55.4 L758.9 53.9 L759.0 54.6 L759.2 55.8 L759.3 56.1 L759.4 55.8 L759.5 55.7 L759.7 55.1 L759.8 54.8 L759.9 55.8 L760.1 55.4 L760.2 54.8 L760.3 55.6 L760.4 56.8 L760.6 57.7 L760.7 55.5 L760.8 52.2 L761.0 53.2 L761.1 56.4 L761.2 57.0 L761.3 55.7 L761.5 56.5 L761.6 56.3 L761.7 54.6 L761.8 52.4 L762.0 52.9 L762.1 54.5 L762.2 56.5 L762.4 55.2 L762.5 55.1 L762.6 56.2 L762.7 56.8 L762.9 54.4 L763.0 52.4 L763.1 55.3 L763.3 58.6 L763.4 56.7 L763.5 53.0 L763.6 56.6 L763.8 60.0 L763.9 55.5 L764.0 50.7 L764.2 51.7 L764.3 52.5 L764.4 53.0 L764.5 57.9 L764.7 58.3 L764.8 56.1 L764.9 54.9 L765.0 54.6 L765.2 56.3 L765.3 57.1 L765.4 57.6 L765.6 53.4 L765.7 53.1 L765.8 53.9 L765.9 58.1 L766.1 45.4 L766.2 49.4 L766.3 58.9 L766.5 55.0 L766.6 48.0 L766.7 53.0 L766.8 63.7 L767.0 59.3 L767.1 60.6 L767.2 56.0 L767.4 49.6 L767.5 47.4 L767.6 59.1 L767.7 63.1 L767.9 59.7 L768.0 55.1 L768.1 53.7 L768.2 59.5 L768.4 53.4 L768.5 48.9 L768.6 60.6 L768.8 65.7 L768.9 46.4 L769.0 43.4 L769.1 57.9 L769.3 55.6 L769.4 54.9 L769.5 51.8 L769.7 55.0 L769.8 61.5 L769.9 62.2 L770.0 44.2 L770.2 53.4 L770.3 59.4 L770.4 56.7 L770.6 49.0 L770.7 51.6 L770.8 58.0 L770.9 63.3 L771.1 63.1 L771.2 54.6 L771.3 49.4 L771.5 52.6 L771.6 50.7 L771.7 59.2 L771.8 66.0 L772.0 58.0 L772.1 40.5 L772.2 38.9 L772.3 52.9 L772.5 66.4 L772.6 67.7 L772.7 63.4 L772.9 58.4 L773.0 51.5 L773.1 48.2 L773.2 52.0 L773.4 55.8 L773.5 61.4 L773.6 57.5 L773.8 50.7 L773.9 49.4 L774.0 57.6 L774.1 55.3 L774.3 60.4 L774.4 58.0 L774.5 48.3 L774.7 49.4 L774.8 56.3 L774.9 61.5 L775.0 62.5 L775.2 54.4 L775.3 45.4 L775.4 58.3 L775.5 66.1 L775.7 53.7 L775.8 45.5 L775.9 55.3 L776.1 61.8 L776.2 60.9 L776.3 62.8 L776.4 54.1 L776.6 46.9 L776.7 51.2 L776.8 53.4 L777.0 59.3 L777.1 62.1 L777.2 51.3 L777.3 52.3 L777.5 56.3 L777.6 53.5 L777.7 56.6 L777.9 55.0 L778.0 52.7 L778.1 56.8 L778.2 59.4 L778.4 56.8 L778.5 55.8 L778.6 55.1 L778.7 55.2 L778.9 56.2 L779.0 49.5 L779.1 53.6 L779.3 57.1 L779.4 54.1 L779.5 52.4 L779.6 57.5 L779.8 59.9 L779.9 53.6 L780.0 53.7 L780.2 57.0 L780.3 54.7 L780.4 63.1 L780.5 66.6 L780.7 49.2 L780.8 47.6 L780.9 54.4 L781.1 56.5 L781.2 56.1 L781.3 60.5 L781.4 53.9 L781.6 53.2 L781.7 54.0 L781.8 50.5 L781.9 48.2 L782.1 61.9 L782.2 65.0 L782.3 52.5 L782.5 48.9 L782.6 63.1 L782.7 63.7 L782.8 55.2 L783.0 50.0 L783.1 48.4 L783.2 47.9 L783.4 52.5 L783.5 65.9 L783.6 73.6 L783.7 57.3 L783.9 41.6 L784.0 39.6 L784.1 55.8 L784.3 64.3 L784.4 62.7 L784.5 59.8 L784.6 54.9 L784.8 54.6 L784.9 52.2 L785.0 54.7 L785.1 60.1 L785.3 51.2 L785.4 45.0 L785.5 50.0 L785.7 63.1 L785.8 65.3 L785.9 59.2 L786.0 53.6 L786.2 55.5 L786.3 55.0 L786.4 54.3 L786.6 52.4 L786.7 51.2 L786.8 56.7 L786.9 59.0 L787.1 52.2 L787.2 53.0 L787.3 60.5 L787.5 52.9 L787.6 48.5 L787.7 57.9 L787.8 65.1 L788.0 51.9 L788.1 47.5 L788.2 53.3 L788.3 58.3 L788.5 60.7 L788.6 62.4 L788.7 48.9 L788.9 46.1 L789.0 51.8 L789.1 54.9 L789.2 53.0 L789.4 58.0 L789.5 61.8" fill="none" stroke="#006400" stroke-width="0.62" stroke-linejoin="bevel"/>
<rect x="507.2" y="21.0" width="283.1" height="53.8" fill="none" stroke="#000" stroke-width="1.4"/>
<g stroke="#000" stroke-width="0.8">
<line x1="508.9" y1="21.0" x2="508.9" y2="15.7"/>
<line x1="508.9" y1="74.8" x2="508.9" y2="80.3"/>
<line x1="532.6" y1="21.0" x2="532.6" y2="15.7"/>
<line x1="532.6" y1="74.8" x2="532.6" y2="80.3"/>
<line x1="556.2" y1="21.0" x2="556.2" y2="15.7"/>
<line x1="556.2" y1="74.8" x2="556.2" y2="80.3"/>
<line x1="579.9" y1="21.0" x2="579.9" y2="15.7"/>
<line x1="579.9" y1="74.8" x2="579.9" y2="80.3"/>
<line x1="603.5" y1="21.0" x2="603.5" y2="15.7"/>
<line x1="603.5" y1="74.8" x2="603.5" y2="80.3"/>
<line x1="627.2" y1="21.0" x2="627.2" y2="15.7"/>
<line x1="627.2" y1="74.8" x2="627.2" y2="80.3"/>
<line x1="650.9" y1="21.0" x2="650.9" y2="15.7"/>
<line x1="650.9" y1="74.8" x2="650.9" y2="80.3"/>
<line x1="674.5" y1="21.0" x2="674.5" y2="15.7"/>
<line x1="674.5" y1="74.8" x2="674.5" y2="80.3"/>
<line x1="698.2" y1="21.0" x2="698.2" y2="15.7"/>
<line x1="698.2" y1="74.8" x2="698.2" y2="80.3"/>
<line x1="721.8" y1="21.0" x2="721.8" y2="15.7"/>
<line x1="721.8" y1="74.8" x2="721.8" y2="80.3"/>
<line x1="745.5" y1="21.0" x2="745.5" y2="15.7"/>
<line x1="745.5" y1="74.8" x2="745.5" y2="80.3"/>
<line x1="769.2" y1="21.0" x2="769.2" y2="15.7"/>
<line x1="769.2" y1="74.8" x2="769.2" y2="80.3"/>
</g>
<g font-family="Liberation Sans, sans-serif" font-size="10.5" fill="#111" text-anchor="middle">
<text x="508.9" y="92.0">30</text>
<text x="532.6" y="92.0">35</text>
<text x="556.2" y="92.0">40</text>
<text x="579.9" y="92.0">45</text>
<text x="603.5" y="92.0">50</text>
<text x="627.2" y="92.0">55</text>
<text x="650.9" y="92.0">00</text>
<text x="674.5" y="92.0">05</text>
<text x="698.2" y="92.0">10</text>
<text x="721.8" y="92.0">15</text>
<text x="745.5" y="92.0">20</text>
<text x="769.2" y="92.0">25</text>
</g>
<text x="799.0" y="32.6" font-family="Liberation Sans, sans-serif" font-size="10" font-weight="bold" fill="#0000ff">Puntarenas</text>
<text x="799.0" y="56.6" font-family="Liberation Sans, sans-serif" font-size="10" fill="#111">Acel. Max. 0.0</text>
<text x="799.0" y="73.3" font-family="Liberation Sans, sans-serif" font-size="10" fill="#111">Int JMA: 0</text>
<path d="M508.0 128.9 L508.1 128.8 L508.1 129.3 L508.2 128.9 L508.2 128.8 L508.3 129.2 L508.3 129.0 L508.4 128.7 L508.4 129.1 L508.5 129.6 L508.5 129.6 L508.6 128.7 L508.6 128.2 L508.7 129.0 L508.8 129.3 L508.8 129.1 L508.9 129.3 L508.9 128.8 L509.0 128.6 L509.0 128.8 L509.1 129.2 L509.1 129.2 L509.2 128.8 L509.2 128.8 L509.3 129.1 L509.4 128.9 L509.4 128.6 L509.5 128.9 L509.5 129.4 L509.6 129.7 L509.6 129.5 L509.7 128.1 L509.7 128.6 L509.8 129.7 L509.8 129.9 L509.9 128.6 L509.9 128.3 L510.0 128.9 L510.1 129.4 L510.1 129.1 L510.2 128.8 L510.2 128.6 L510.3 129.7 L510.3 129.7 L510.4 128.7 L510.4 128.5 L510.5 128.9 L510.5 128.8 L510.6 129.1 L510.7 129.4 L510.7 128.9 L510.8 128.7 L510.8 129.0 L510.9 129.3 L510.9 129.2 L511.0 128.8 L511.0 128.9 L511.1 128.9 L511.1 128.6 L511.2 128.9 L511.2 129.3 L511.3 129.2 L511.4 128.9 L511.4 128.7 L511.5 129.0 L511.5 129.1 L511.6 129.0 L511.6 129.2 L511.7 129.3 L511.7 128.9 L511.8 128.9 L511.8 129.0 L511.9 128.9 L512.0 128.9 L512.0 129.2 L512.1 128.5 L512.1 128.9 L512.2 129.4 L512.2 128.8 L512.3 128.8 L512.3 129.5 L512.4 129.5 L512.4 129.1 L512.5 128.5 L512.5 128.5 L512.6 129.5 L512.7 129.6 L512.7 128.6 L512.8 128.7 L512.8 129.2 L512.9 129.2 L512.9 129.0 L513.0 129.0 L513.0 128.4 L513.1 129.1 L513.1 129.4 L513.2 129.0 L513.3 128.8 L513.3 128.5 L513.4 129.2 L513.4 129.4 L513.5 128.7 L513.5 128.8 L513.6 129.4 L513.6 129.7 L513.7 129.2 L513.7 128.5 L513.8 128.2 L513.8 128.8 L513.9 129.1 L514.0 129.0 L514.0 128.9 L514.1 129.0 L514.1 129.1 L514.2 129.0 L514.2 128.9 L514.3 129.1 L514.3 129.6 L514.4 128.7 L514.4 128.4 L514.5 129.1 L514.6 129.3 L514.6 129.1 L514.7 129.2 L514.7 129.2 L514.8 128.8 L514.8 128.7 L514.9 129.0 L514.9 128.8 L515.0 128.9 L515.0 129.0 L515.1 129.0 L515.1 129.1 L515.2 129.2 L515.3 129.0 L515.3 128.8 L515.4 129.1 L515.4 129.2 L515.5 128.9 L515.5 128.6 L515.6 128.9 L515.6 128.9 L515.7 129.1 L515.7 129.8 L515.8 129.6 L515.9 128.8 L515.9 128.5 L516.0 129.0 L516.0 129.1 L516.1 129.1 L516.1 128.8 L516.2 128.8 L516.2 128.7 L516.3 129.3 L516.3 129.4 L516.4 129.2 L516.4 128.8 L516.5 129.1 L516.6 128.8 L516.6 128.6 L516.7 129.1 L516.7 129.1 L516.8 128.6 L516.8 129.1 L516.9 129.5 L516.9 129.1 L517.0 129.2 L517.0 129.7 L517.1 129.0 L517.2 128.3 L517.2 128.1 L517.3 129.1 L517.3 129.4 L517.4 129.0 L517.4 128.6 L517.5 129.1 L517.5 129.1 L517.6 129.0 L517.6 129.4 L517.7 129.5 L517.7 128.7 L517.8 128.4 L517.9 129.1 L517.9 129.4 L518.0 128.9 L518.0 128.2 L518.1 128.8 L518.1 129.5 L518.2 129.4 L518.2 129.1 L518.3 128.8 L518.3 128.4 L518.4 128.6 L518.4 129.2 L518.5 129.8 L518.6 129.3 L518.6 128.8 L518.7 128.9 L518.7 128.7 L518.8 128.4 L518.8 129.0 L518.9 129.4 L518.9 129.5 L519.0 129.0 L519.0 128.6 L519.1 129.0 L519.2 129.2 L519.2 128.8 L519.3 128.7 L519.3 128.8 L519.4 129.3 L519.4 129.1 L519.5 128.8 L519.5 128.9 L519.6 129.3 L519.6 129.1 L519.7 129.1 L519.7 129.1 L519.8 128.8 L519.9 129.0 L519.9 129.5 L520.0 129.0 L520.0 128.4 L520.1 128.8 L520.1 129.1 L520.2 129.3 L520.2 129.2 L520.3 129.1 L520.3 129.0 L520.4 128.9 L520.5 128.9 L520.5 128.8 L520.6 128.6 L520.6 128.7 L520.7 128.9 L520.7 128.9 L520.8 129.7 L520.8 129.1 L520.9 128.7 L520.9 128.5 L521.0 128.8 L521.0 129.3 L521.1 129.5 L521.2 129.2 L521.2 129.1 L521.3 128.9 L521.3 129.0 L521.4 129.2 L521.4 128.9 L521.5 128.8 L521.5 129.2 L521.6 129.1 L521.6 128.7 L521.7 128.3 L521.8 129.2 L521.8 129.7 L521.9 129.2 L521.9 129.0 L522.0 129.5 L522.0 128.9 L522.1 128.5 L522.1 128.5 L522.2 128.7 L522.2 129.0 L522.3 129.1 L522.3 129.1 L522.4 129.0 L522.5 128.9 L522.5 128.6 L522.6 128.7 L522.6 129.2 L522.7 129.3 L522.7 129.1 L522.8 129.1 L522.8 129.4 L522.9 129.8 L522.9 129.6 L523.0 128.7 L523.1 128.4 L523.1 129.0 L523.2 128.3 L523.2 128.2 L523.3 129.5 L523.3 130.0 L523.4 129.0 L523.4 128.6 L523.5 128.4 L523.5 128.9 L523.6 130.1 L523.6 129.6 L523.7 128.6 L523.8 129.0 L523.8 128.7 L523.9 128.6 L523.9 129.0 L524.0 129.0 L524.0 128.8 L524.1 129.2 L524.1 129.3 L524.2 129.3 L524.2 129.1 L524.3 128.3 L524.4 128.6 L524.4 129.4 L524.5 129.2 L524.5 128.8 L524.6 129.2 L524.6 129.4 L524.7 128.8 L524.7 128.7 L524.8 128.4 L524.8 128.6 L524.9 129.5 L524.9 129.3 L525.0 128.7 L525.1 129.0 L525.1 129.3 L525.2 129.1 L525.2 128.7 L525.3 129.3 L525.3 130.3 L525.4 128.9 L525.4 127.3 L525.5 129.0 L525.5 130.1 L525.6 129.4 L525.7 128.5 L525.7 128.5 L525.8 129.5 L525.8 129.2 L525.9 128.0 L525.9 128.9 L526.0 129.6 L526.0 129.4 L526.1 128.7 L526.1 129.0 L526.2 129.0 L526.2 129.1 L526.3 128.7 L526.4 128.8 L526.4 129.1 L526.5 129.4 L526.5 129.3 L526.6 129.3 L526.6 128.9 L526.7 128.9 L526.7 129.3 L526.8 128.8 L526.8 128.4 L526.9 128.5 L527.0 129.3 L527.0 129.7 L527.1 129.2 L527.1 128.8 L527.2 128.2 L527.2 128.4 L527.3 129.2 L527.3 129.5 L527.4 129.9 L527.4 129.3 L527.5 128.2 L527.5 128.4 L527.6 129.2 L527.7 129.3 L527.7 129.1 L527.8 129.3 L527.8 129.2 L527.9 128.6 L527.9 128.5 L528.0 129.1 L528.0 129.4 L528.1 129.2 L528.1 128.9 L528.2 129.0 L528.3 128.9 L528.3 128.8 L528.4 128.8 L528.4 129.5 L528.5 129.7 L528.5 128.9 L528.6 128.4 L528.6 128.9 L528.7 129.0 L528.7 128.7 L528.8 129.1 L528.8 129.4 L528.9 128.9 L529.0 128.4 L529.0 129.3 L529.1 129.8 L529.1 129.1 L529.2 128.9 L529.2 129.2 L529.3 129.1 L529.3 128.6 L529.4 128.6 L529.4 128.9 L529.5 129.1 L529.5 129.1 L529.6 128.9 L529.7 129.2 L529.7 129.0 L529.8 128.8 L529.8 128.8 L529.9 128.5 L529.9 128.6 L530.0 129.4 L530.0 129.7 L530.1 129.1 L530.1 129.2 L530.2 128.8 L530.3 128.8 L530.3 128.8 L530.4 129.3 L530.4 129.0 L530.5 128.9 L530.5 128.7 L530.6 128.8 L530.6 129.2 L530.7 129.6 L530.7 128.7 L530.8 128.4 L530.8 129.2 L530.9 129.5 L531.0 128.8 L531.0 128.7 L531.1 129.2 L531.1 129.2 L531.2 129.1 L531.2 129.2 L531.3 128.9 L531.3 128.8 L531.4 129.1 L531.4 129.0 L531.5 128.6 L531.6 128.7 L531.6 129.2 L531.7 129.8 L531.7 129.2 L531.8 128.8 L531.8 128.8 L531.9 128.8 L531.9 128.9 L532.0 128.8 L532.0 128.4 L532.1 129.0 L532.1 129.4 L532.2 129.3 L532.3 129.6 L532.3 129.9 L532.4 128.5 L532.4 128.3 L532.5 129.1 L532.5 129.3 L532.6 128.6 L532.6 128.4 L532.7 128.8 L532.7 129.2 L532.8 129.0 L532.9 128.8 L532.9 129.1 L533.0 129.5 L533.0 129.0 L533.1 129.3 L533.1 128.9 L533.2 128.5 L533.2 128.8 L533.3 129.6 L533.3 129.3 L533.4 128.7 L533.4 128.8 L533.5 129.1 L533.6 129.0 L533.6 129.1 L533.7 129.1 L533.7 128.3 L533.8 128.4 L533.8 129.6 L533.9 129.7 L533.9 129.0 L534.0 128.5 L534.0 128.8 L534.1 129.8 L534.2 129.1 L534.2 128.7 L534.3 128.8 L534.3 128.9 L534.4 128.9 L534.4 129.5 L534.5 128.6 L534.5 128.4 L534.6 129.3 L534.6 130.2 L534.7 129.3 L534.7 128.8 L534.8 128.7 L534.9 129.0 L534.9 129.3 L535.0 129.4 L535.0 128.6 L535.1 128.2 L535.1 129.2 L535.2 129.3 L535.2 128.5 L535.3 128.7 L535.3 129.3 L535.4 129.8 L535.5 128.8 L535.5 128.1 L535.6 128.9 L535.6 129.6 L535.7 129.5 L535.7 128.8 L535.8 128.3 L535.8 128.7 L535.9 129.2 L535.9 129.1 L536.0 128.9 L536.0 128.8 L536.1 129.2 L536.2 129.2 L536.2 129.0 L536.3 129.6 L536.3 129.9 L536.4 128.7 L536.4 128.6 L536.5 128.3 L536.5 128.9 L536.6 129.2 L536.6 129.1 L536.7 128.5 L536.8 129.0 L536.8 129.2 L536.9 129.3 L536.9 129.6 L537.0 129.9 L537.0 128.4 L537.1 127.8 L537.1 127.9 L537.2 128.7 L537.2 130.1 L537.3 129.4 L537.3 128.6 L537.4 129.3 L537.5 129.8 L537.5 129.2 L537.6 129.2 L537.6 128.4 L537.7 128.0 L537.7 129.1 L537.8 129.6 L537.8 128.9 L537.9 128.7 L537.9 129.3 L538.0 129.7 L538.1 128.7 L538.1 128.3 L538.2 128.9 L538.2 129.1 L538.3 129.4 L538.3 129.4 L538.4 128.8 L538.4 128.6 L538.5 129.2 L538.5 129.7 L538.6 129.0 L538.6 128.2 L538.7 128.6 L538.8 129.3 L538.8 129.3 L538.9 128.9 L538.9 129.0 L539.0 129.2 L539.0 129.3 L539.1 129.0 L539.1 128.8 L539.2 128.8 L539.2 128.9 L539.3 129.2 L539.3 129.1 L539.4 128.8 L539.5 128.8 L539.5 129.2 L539.6 129.5 L539.6 128.9 L539.7 128.7 L539.7 128.9 L539.8 128.9 L539.8 128.9 L539.9 129.1 L539.9 129.2 L540.0 129.2 L540.1 129.2 L540.1 129.0 L540.2 128.6 L540.2 128.6 L540.3 128.9 L540.3 128.9 L540.4 128.8 L540.4 129.5 L540.5 129.4 L540.5 128.8 L540.6 128.4 L540.6 128.7 L540.7 128.9 L540.8 129.5 L540.8 129.7 L540.9 129.2 L540.9 128.6 L541.0 128.6 L541.0 129.1 L541.1 129.3 L541.1 129.3 L541.2 129.0 L541.2 128.8 L541.3 128.8 L541.4 129.2 L541.4 129.1 L541.5 128.6 L541.5 128.3 L541.6 129.1 L541.6 129.6 L541.7 129.3 L541.7 128.9 L541.8 128.7 L541.8 128.9 L541.9 129.3 L541.9 129.3 L542.0 128.9 L542.1 129.2 L542.1 129.3 L542.2 128.8 L542.2 128.0 L542.3 128.5 L542.3 129.3 L542.4 129.2 L542.4 128.7 L542.5 129.4 L542.5 129.1 L542.6 128.6 L542.7 128.2 L542.7 129.2 L542.8 129.5 L542.8 129.3 L542.9 129.5 L542.9 129.8 L543.0 128.3 L543.0 128.1 L543.1 129.8 L543.1 129.7 L543.2 128.0 L543.2 128.2 L543.3 129.6 L543.4 129.8 L543.4 129.3 L543.5 128.3 L543.5 128.5 L543.6 129.0 L543.6 129.3 L543.7 129.4 L543.7 129.1 L543.8 128.6 L543.8 128.8 L543.9 129.2 L544.0 129.3 L544.0 128.8 L544.1 128.5 L544.1 128.9 L544.2 129.6 L544.2 129.8 L544.3 129.5 L544.3 129.0 L544.4 128.4 L544.4 128.3 L544.5 129.0 L544.5 129.0 L544.6 128.7 L544.7 129.1 L544.7 129.5 L544.8 129.1 L544.8 128.3 L544.9 128.4 L544.9 129.3 L545.0 129.4 L545.0 129.1 L545.1 128.8 L545.1 128.7 L545.2 128.9 L545.3 129.6 L545.3 129.1 L545.4 128.7 L545.4 128.8 L545.5 129.2 L545.5 129.3 L545.6 129.1 L545.6 128.9 L545.7 129.0 L545.7 128.8 L545.8 129.2 L545.8 129.3 L545.9 128.7 L546.0 128.6 L546.0 128.8 L546.1 128.8 L546.1 129.1 L546.2 129.7 L546.2 129.3 L546.3 128.7 L546.3 128.6 L546.4 128.9 L546.4 129.1 L546.5 128.9 L546.6 128.6 L546.6 129.2 L546.7 129.6 L546.7 129.6 L546.8 128.9 L546.8 128.6 L546.9 128.8 L546.9 129.1 L547.0 128.7 L547.0 128.5 L547.1 129.1 L547.1 129.5 L547.2 129.3 L547.3 128.8 L547.3 128.8 L547.4 129.1 L547.4 129.3 L547.5 129.2 L547.5 128.9 L547.6 128.9 L547.6 128.8 L547.7 129.2 L547.7 129.0 L547.8 128.6 L547.9 128.9 L547.9 129.3 L548.0 129.0 L548.0 129.1 L548.1 129.1 L548.1 129.0 L548.2 128.7 L548.2 129.1 L548.3 129.2 L548.3 128.9 L548.4 128.7 L548.4 129.0 L548.5 129.2 L548.6 129.1 L548.6 129.1 L548.7 128.8 L548.7 128.6 L548.8 128.7 L548.8 129.4 L548.9 129.8 L548.9 129.8 L549.0 128.9 L549.0 128.1 L549.1 128.1 L549.2 129.5 L549.2 129.5 L549.3 128.8 L549.3 129.1 L549.4 129.3 L549.4 128.5 L549.5 128.4 L549.5 129.7 L549.6 129.6 L549.6 128.7 L549.7 128.4 L549.7 129.3 L549.8 129.8 L549.9 129.5 L549.9 129.3 L550.0 128.9 L550.0 128.5 L550.1 128.7 L550.1 128.7 L550.2 128.1 L550.2 128.8 L550.3 129.6 L550.3 129.0 L550.4 128.6 L550.4 129.1 L550.5 129.8 L550.6 128.7 L550.6 128.3 L550.7 129.0 L550.7 130.0 L550.8 129.5 L550.8 128.6 L550.9 128.6 L550.9 128.8 L551.0 129.4 L551.0 130.1 L551.1 129.2 L551.2 127.8 L551.2 128.0 L551.3 129.0 L551.3 128.8 L551.4 128.7 L551.4 129.8 L551.5 130.1 L551.5 129.1 L551.6 128.6 L551.6 128.4 L551.7 129.1 L551.7 129.0 L551.8 129.1 L551.9 129.2 L551.9 129.5 L552.0 129.2 L552.0 128.7 L552.1 128.3 L552.1 128.6 L552.2 129.2 L552.2 129.0 L552.3 128.8 L552.3 129.2 L552.4 129.5 L552.5 128.9 L552.5 128.6 L552.6 129.0 L552.6 128.9 L552.7 128.9 L552.7 129.7 L552.8 129.7 L552.8 129.0 L552.9 128.2 L552.9 128.9 L553.0 129.4 L553.0 129.7 L553.1 128.6 L553.2 128.4 L553.2 128.9 L553.3 129.3 L553.3 128.9 L553.4 129.2 L553.4 129.3 L553.5 129.0 L553.5 128.7 L553.6 128.5 L553.6 128.8 L553.7 129.2 L553.8 129.1 L553.8 129.3 L553.9 129.0 L553.9 128.6 L554.0 129.1 L554.0 129.3 L554.1 129.1 L554.1 129.0 L554.2 129.1 L554.2 128.5 L554.3 128.1 L554.3 128.6 L554.4 129.4 L554.5 130.1 L554.5 129.9 L554.6 128.5 L554.6 128.0 L554.7 129.2 L554.7 129.4 L554.8 128.9 L554.8 128.9 L554.9 129.0 L554.9 128.8 L555.0 129.1 L555.1 129.1 L555.1 128.7 L555.2 129.1 L555.2 129.8 L555.3 129.6 L555.3 128.8 L555.4 128.1 L555.4 128.4 L555.5 129.2 L555.5 129.3 L555.6 128.9 L555.6 128.6 L555.7 128.7 L555.8 129.1 L555.8 129.6 L555.9 129.4 L555.9 128.7 L556.0 128.9 L556.0 129.2 L556.1 128.8 L556.1 128.9 L556.2 129.2 L556.2 128.9 L556.3 129.1 L556.4 129.0 L556.4 128.8 L556.5 128.8 L556.5 128.8 L556.6 129.1 L556.6 129.3 L556.7 128.9 L556.7 128.9 L556.8 129.3 L556.8 129.0 L556.9 128.8 L556.9 129.1 L557.0 129.4 L557.1 128.9 L557.1 128.7 L557.2 129.2 L557.2 129.2 L557.3 129.0 L557.3 128.8 L557.4 128.6 L557.4 128.7 L557.5 129.1 L557.5 129.2 L557.6 128.7 L557.7 129.4 L557.7 129.7 L557.8 128.9 L557.8 128.4 L557.9 128.7 L557.9 129.5 L558.0 129.6 L558.0 129.1 L558.1 128.9 L558.1 128.7 L558.2 128.8 L558.2 129.2 L558.3 129.2 L558.4 129.1 L558.4 129.1 L558.5 128.6 L558.5 128.3 L558.6 129.1 L558.6 129.7 L558.7 128.9 L558.7 128.7 L558.8 129.1 L558.8 129.9 L558.9 128.9 L559.0 128.5 L559.0 128.9 L559.1 129.8 L559.1 128.6 L559.2 128.3 L559.2 128.7 L559.3 129.4 L559.3 128.8 L559.4 128.8 L559.4 128.7 L559.5 129.4 L559.5 129.7 L559.6 129.5 L559.7 128.2 L559.7 128.8 L559.8 129.4 L559.8 129.0 L559.9 128.8 L559.9 129.3 L560.0 129.1 L560.0 128.8 L560.1 128.7 L560.1 129.0 L560.2 129.3 L560.2 128.8 L560.3 128.8 L560.4 129.3 L560.4 129.5 L560.5 129.0 L560.5 128.5 L560.6 128.3 L560.6 129.5 L560.7 130.0 L560.7 129.3 L560.8 128.6 L560.8 128.8 L560.9 128.6 L561.0 128.5 L561.0 129.0 L561.1 129.5 L561.1 129.6 L561.2 129.1 L561.2 128.5 L561.3 128.6 L561.3 129.2 L561.4 129.3 L561.4 129.3 L561.5 128.9 L561.5 128.9 L561.6 128.7 L561.7 128.9 L561.7 129.7 L561.8 129.4 L561.8 128.7 L561.9 128.8 L561.9 129.0 L562.0 128.9 L562.0 129.1 L562.1 129.1 L562.1 129.0 L562.2 128.9 L562.3 129.0 L562.3 129.0 L562.4 129.1 L562.4 129.0 L562.5 129.0 L562.5 128.9 L562.6 128.8 L562.6 128.9 L562.7 129.2 L562.7 129.3 L562.8 129.2 L562.8 128.8 L562.9 128.7 L563.0 129.0 L563.0 129.2 L563.1 129.3 L563.1 129.3 L563.2 129.1 L563.2 128.3 L563.3 128.6 L563.3 129.3 L563.4 129.4 L563.4 129.1 L563.5 128.9 L563.6 128.9 L563.6 128.8 L563.7 128.8 L563.7 129.1 L563.8 129.1 L563.8 129.3 L563.9 128.8 L563.9 128.6 L564.0 129.0 L564.0 128.9 L564.1 129.0 L564.1 129.5 L564.2 129.9 L564.3 129.6 L564.3 128.4 L564.4 127.9 L564.4 129.0 L564.5 129.6 L564.5 128.8 L564.6 129.0 L564.6 129.6 L564.7 129.0 L564.7 128.4 L564.8 128.7 L564.9 128.9 L564.9 129.1 L565.0 129.3 L565.0 129.3 L565.1 128.6 L565.1 128.5 L565.2 129.3 L565.2 129.6 L565.3 128.9 L565.3 128.9 L565.4 129.3 L565.4 129.2 L565.5 128.9 L565.6 128.7 L565.6 128.5 L565.7 129.2 L565.7 129.3 L565.8 128.7 L565.8 128.7 L565.9 129.2 L565.9 129.1 L566.0 129.0 L566.0 128.9 L566.1 128.9 L566.2 129.8 L566.2 129.6 L566.3 129.1 L566.3 128.6 L566.4 129.0 L566.4 128.9 L566.5 129.2 L566.5 129.1 L566.6 128.9 L566.6 128.6 L566.7 129.0 L566.7 129.2 L566.8 128.3 L566.9 128.4 L566.9 129.0 L567.0 129.5 L567.0 129.8 L567.1 129.8 L567.1 128.8 L567.2 128.9 L567.2 128.6 L567.3 128.6 L567.3 129.2 L567.4 129.4 L567.5 128.8 L567.5 128.6 L567.6 129.4 L567.6 129.7 L567.7 128.7 L567.7 128.3 L567.8 128.7 L567.8 129.1 L567.9 129.0 L567.9 129.3 L568.0 129.7 L568.0 129.0 L568.1 128.3 L568.2 128.8 L568.2 128.8 L568.3 129.4 L568.3 129.3 L568.4 128.5 L568.4 128.5 L568.5 129.3 L568.5 129.8 L568.6 129.1 L568.6 128.3 L568.7 128.6 L568.8 129.3 L568.8 129.1 L568.9 129.1 L568.9 129.0 L569.0 128.8 L569.0 129.2 L569.1 129.5 L569.1 129.0 L569.2 128.7 L569.2 128.7 L569.3 128.9 L569.3 129.1 L569.4 128.8 L569.5 128.7 L569.5 129.3 L569.6 129.2 L569.6 129.0 L569.7 129.0 L569.7 129.2 L569.8 129.1 L569.8 129.0 L569.9 128.8 L569.9 129.0 L570.0 129.0 L570.1 128.9 L570.1 128.9 L570.2 129.0 L570.2 129.0 L570.3 129.4 L570.3 129.1 L570.4 128.6 L570.4 128.4 L570.5 129.2 L570.5 129.7 L570.6 129.1 L570.6 128.9 L570.7 128.9 L570.8 128.7 L570.8 128.7 L570.9 129.4 L570.9 129.6 L571.0 129.2 L571.0 128.7 L571.1 128.5 L571.1 128.9 L571.2 128.9 L571.2 129.0 L571.3 129.2 L571.3 129.1 L571.4 129.1 L571.5 129.2 L571.5 129.3 L571.6 128.9 L571.6 128.9 L571.7 129.1 L571.7 129.1 L571.8 128.7 L571.8 128.6 L571.9 129.0 L571.9 128.9 L572.0 128.7 L572.1 128.7 L572.1 129.3 L572.2 129.3 L572.2 129.2 L572.3 128.8 L572.3 129.1 L572.4 129.0 L572.4 129.2 L572.5 129.2 L572.5 128.4 L572.6 128.8 L572.6 129.3 L572.7 128.8 L572.8 129.0 L572.8 130.1 L572.9 129.2 L572.9 128.5 L573.0 129.0 L573.0 129.1 L573.1 128.7 L573.1 128.9 L573.2 129.2 L573.2 129.2 L573.3 129.0 L573.4 129.0 L573.4 128.9 L573.5 128.9 L573.5 128.9 L573.6 129.1 L573.6 129.3 L573.7 129.0 L573.7 128.8 L573.8 129.5 L573.8 129.9 L573.9 128.7 L573.9 128.5 L574.0 128.6 L574.1 129.0 L574.1 129.3 L574.2 129.5 L574.2 129.1 L574.3 128.6 L574.3 128.7 L574.4 129.3 L574.4 129.2 L574.5 128.6 L574.5 128.8 L574.6 129.3 L574.7 129.2 L574.7 128.6 L574.8 128.6 L574.8 128.8 L574.9 129.5 L574.9 129.8 L575.0 128.5 L575.0 128.3 L575.1 128.8 L575.1 129.3 L575.2 129.5 L575.2 129.5 L575.3 128.7 L575.4 128.2 L575.4 128.9 L575.5 130.2 L575.5 129.4 L575.6 128.2 L575.6 128.7 L575.7 129.1 L575.7 129.0 L575.8 128.8 L575.8 128.7 L575.9 128.9 L576.0 130.0 L576.0 129.7 L576.1 128.8 L576.1 128.7 L576.2 128.7 L576.2 128.5 L576.3 129.3 L576.3 129.7 L576.4 129.0 L576.4 128.3 L576.5 128.4 L576.5 129.5 L576.6 129.6 L576.7 128.9 L576.7 128.7 L576.8 129.0 L576.8 128.8 L576.9 128.8 L576.9 129.1 L577.0 129.3 L577.0 129.1 L577.1 129.0 L577.1 129.0 L577.2 128.8 L577.3 129.3 L577.3 129.7 L577.4 128.9 L577.4 128.7 L577.5 129.1 L577.5 129.0 L577.6 128.6 L577.6 128.4 L577.7 129.0 L577.7 129.8 L577.8 129.3 L577.8 128.8 L577.9 129.1 L578.0 128.7 L578.0 128.9 L578.1 129.2 L578.1 128.4 L578.2 128.7 L578.2 129.6 L578.3 129.1 L578.3 128.7 L578.4 129.3 L578.4 129.2 L578.5 128.9 L578.6 128.9 L578.6 129.1 L578.7 129.2 L578.7 129.4 L578.8 128.8 L578.8 128.4 L578.9 128.9 L578.9 129.5 L579.0 129.5 L579.0 128.5 L579.1 128.5 L579.1 129.2 L579.2 129.5 L579.3 128.4 L579.3 128.5 L579.4 129.4 L579.4 129.7 L579.5 129.1 L579.5 128.8 L579.6 128.9 L579.6 129.1 L579.7 128.9 L579.7 128.8 L579.8 129.1 L579.9 128.8 L579.9 128.5 L580.0 129.0 L580.0 129.3 L580.1 129.1 L580.1 128.9 L580.2 129.1 L580.2 128.9 L580.3 128.9 L580.3 129.3 L580.4 129.2 L580.4 129.0 L580.5 128.9 L580.6 129.1 L580.6 129.0 L580.7 128.7 L580.7 129.0 L580.8 129.3 L580.8 129.1 L580.9 128.7 L580.9 128.9 L581.0 128.9 L581.0 128.9 L581.1 129.2 L581.1 129.6 L581.2 129.3 L581.3 128.8 L581.3 128.5 L581.4 128.7 L581.4 128.8 L581.5 128.7 L581.5 129.1 L581.6 129.3 L581.6 129.4 L581.7 129.2 L581.7 128.8 L581.8 128.4 L581.9 128.9 L581.9 129.5 L582.0 129.3 L582.0 128.9 L582.1 128.8 L582.1 129.0 L582.2 128.9 L582.2 128.8 L582.3 129.0 L582.3 128.9 L582.4 128.9 L582.4 129.5 L582.5 129.3 L582.6 128.7 L582.6 128.8 L582.7 129.3 L582.7 128.7 L582.8 128.4 L582.8 129.6 L582.9 129.2 L582.9 128.4 L583.0 128.3 L583.0 129.0 L583.1 129.6 L583.2 129.4 L583.2 129.2 L583.3 129.1 L583.3 129.0 L583.4 129.1 L583.4 129.4 L583.5 129.0 L583.5 128.1 L583.6 128.4 L583.6 129.7 L583.7 129.6 L583.7 128.4 L583.8 128.4 L583.9 128.9 L583.9 128.5 L584.0 129.0 L584.0 129.8 L584.1 129.4 L584.1 129.2 L584.2 129.0 L584.2 129.0 L584.3 129.4 L584.3 129.1 L584.4 128.2 L584.5 128.5 L584.5 128.9 L584.6 128.8 L584.6 129.3 L584.7 129.4 L584.7 129.0 L584.8 129.0 L584.8 128.9 L584.9 128.5 L584.9 128.9 L585.0 129.4 L585.0 129.4 L585.1 129.3 L585.2 128.8 L585.2 128.8 L585.3 129.2 L585.3 129.1 L585.4 128.7 L585.4 128.5 L585.5 129.1 L585.5 129.7 L585.6 129.1 L585.6 128.5 L585.7 128.6 L585.8 129.3 L585.8 129.4 L585.9 128.8 L585.9 128.5 L586.0 129.0 L586.0 129.1 L586.1 129.1 L586.1 129.5 L586.2 129.1 L586.2 128.4 L586.3 128.8 L586.3 129.4 L586.4 129.1 L586.5 128.9 L586.5 128.8 L586.6 129.1 L586.6 129.2 L586.7 129.1 L586.7 128.8 L586.8 128.8 L586.8 129.1 L586.9 129.4 L586.9 129.0 L587.0 128.2 L587.1 128.7 L587.1 129.3 L587.2 129.3 L587.2 128.9 L587.3 129.4 L587.3 130.0 L587.4 129.7 L587.4 128.8 L587.5 127.9 L587.5 127.2 L587.6 128.9 L587.6 130.3 L587.7 129.5 L587.8 129.0 L587.8 128.9 L587.9 128.8 L587.9 128.9 L588.0 129.1 L588.0 128.5 L588.1 128.9 L588.1 129.0 L588.2 128.8 L588.2 128.9 L588.3 129.8 L588.4 129.3 L588.4 129.1 L588.5 129.1 L588.5 129.1 L588.6 128.8 L588.6 128.8 L588.7 128.9 L588.7 129.9 L588.8 129.5 L588.8 128.4 L588.9 127.9 L588.9 128.8 L589.0 129.3 L589.1 129.4 L589.1 129.0 L589.2 129.2 L589.2 129.1 L589.3 129.2 L589.3 129.0 L589.4 128.7 L589.4 128.6 L589.5 129.0 L589.5 129.4 L589.6 129.1 L589.7 128.7 L589.7 128.7 L589.8 129.3 L589.8 129.3 L589.9 129.0 L589.9 128.6 L590.0 128.7 L590.0 129.7 L590.1 129.5 L590.1 128.7 L590.2 128.5 L590.2 129.5 L590.3 128.7 L590.4 128.4 L590.4 128.6 L590.5 129.2 L590.5 129.8 L590.6 129.1 L590.6 128.3 L590.7 128.9 L590.7 129.5 L590.8 129.1 L590.8 128.8 L590.9 128.9 L591.0 128.3 L591.0 128.9 L591.1 130.2 L591.1 129.7 L591.2 127.7 L591.2 128.7 L591.3 130.0 L591.3 129.6 L591.4 128.2 L591.4 129.0 L591.5 129.4 L591.5 128.3 L591.6 128.5 L591.7 129.9 L591.7 129.5 L591.8 129.0 L591.8 128.6 L591.9 128.2 L591.9 129.0 L592.0 129.6 L592.0 129.1 L592.1 129.0 L592.1 128.6 L592.2 128.8 L592.2 129.1 L592.3 128.8 L592.4 128.2 L592.4 128.5 L592.5 129.3 L592.5 129.7 L592.6 129.3 L592.6 129.0 L592.7 129.0 L592.7 129.0 L592.8 129.2 L592.8 129.2 L592.9 128.5 L593.0 128.7 L593.0 129.1 L593.1 129.8 L593.1 128.9 L593.2 128.6 L593.2 129.2 L593.3 129.5 L593.3 129.1 L593.4 129.1 L593.4 128.8 L593.5 129.0 L593.5 128.7 L593.6 128.7 L593.7 129.0 L593.7 128.7 L593.8 128.8 L593.8 129.3 L593.9 129.4 L593.9 128.9 L594.0 129.0 L594.0 128.9 L594.1 129.2 L594.1 129.1 L594.2 128.8 L594.3 128.7 L594.3 129.0 L594.4 129.0 L594.4 129.0 L594.5 129.5 L594.5 129.2 L594.6 128.6 L594.6 128.4 L594.7 129.1 L594.7 129.5 L594.8 129.1 L594.8 128.6 L594.9 129.0 L595.0 129.3 L595.0 128.8 L595.1 128.1 L595.1 128.9 L595.2 129.6 L595.2 129.0 L595.3 129.1 L595.3 129.8 L595.4 129.9 L595.4 129.0 L595.5 128.0 L595.6 127.8 L595.6 128.9 L595.7 129.0 L595.7 129.1 L595.8 129.5 L595.8 129.2 L595.9 129.0 L595.9 129.1 L596.0 129.2 L596.0 128.7 L596.1 128.9 L596.1 129.5 L596.2 129.3 L596.3 128.6 L596.3 128.6 L596.4 129.1 L596.4 129.0 L596.5 129.0 L596.5 128.6 L596.6 128.1 L596.6 128.4 L596.7 129.8 L596.7 130.5 L596.8 129.5 L596.9 128.2 L596.9 128.2 L597.0 129.0 L597.0 129.4 L597.1 129.4 L597.1 128.7 L597.2 128.5 L597.2 128.9 L597.3 129.4 L597.3 129.7 L597.4 129.1 L597.4 128.7 L597.5 128.6 L597.6 128.7 L597.6 129.2 L597.7 129.5 L597.7 129.0 L597.8 128.8 L597.8 129.0 L597.9 129.0 L597.9 129.2 L598.0 129.0 L598.0 129.0 L598.1 129.0 L598.2 128.9 L598.2 128.8 L598.3 128.9 L598.3 129.2 L598.4 129.3 L598.4 129.1 L598.5 129.0 L598.5 128.7 L598.6 128.6 L598.6 129.2 L598.7 129.3 L598.7 129.1 L598.8 129.0 L598.9 129.0 L598.9 128.6 L599.0 128.1 L599.0 129.3 L599.1 129.9 L599.1 129.4 L599.2 128.9 L599.2 128.9 L599.3 128.7 L599.3 128.5 L599.4 129.0 L599.5 129.5 L599.5 129.2 L599.6 128.4 L599.6 128.4 L599.7 129.1 L599.7 129.5 L599.8 129.4 L599.8 129.3 L599.9 129.0 L599.9 128.6 L600.0 128.8 L600.0 129.1 L600.1 129.1 L600.2 128.9 L600.2 129.1 L600.3 128.9 L600.3 128.7 L600.4 128.9 L600.4 129.4 L600.5 129.2 L600.5 129.0 L600.6 128.9 L600.6 128.9 L600.7 129.2 L600.8 129.3 L600.8 128.7 L600.9 128.7 L600.9 128.9 L601.0 129.0 L601.0 129.2 L601.1 129.1 L601.1 128.8 L601.2 128.8 L601.2 129.2 L601.3 129.5 L601.3 128.9 L601.4 128.1 L601.5 128.5 L601.5 129.5 L601.6 129.3 L601.6 129.1 L601.7 129.2 L601.7 129.3 L601.8 129.1 L601.8 128.7 L601.9 128.7 L601.9 128.8 L602.0 128.8 L602.0 129.1 L602.1 129.8 L602.2 129.5 L602.2 128.5 L602.3 128.7 L602.3 129.2 L602.4 129.1 L602.4 128.7 L602.5 129.0 L602.5 129.1 L602.6 128.8 L602.6 128.8 L602.7 129.1 L602.8 129.5 L602.8 129.8 L602.9 129.5 L602.9 128.9 L603.0 128.6 L603.0 128.7 L603.1 128.5 L603.1 129.0 L603.2 129.4 L603.2 129.1 L603.3 128.5 L603.3 129.0 L603.4 129.2 L603.5 128.9 L603.5 128.8 L603.6 129.2 L603.6 129.0 L603.7 128.7 L603.7 129.1 L603.8 129.7 L603.8 129.6 L603.9 128.8 L603.9 127.8 L604.0 129.1 L604.1 129.6 L604.1 129.2 L604.2 129.1 L604.2 129.3 L604.3 128.6 L604.3 128.1 L604.4 128.5 L604.4 129.3 L604.5 129.3 L604.5 129.0 L604.6 129.5 L604.6 129.5 L604.7 129.0 L604.8 128.9 L604.8 128.8 L604.9 128.4 L604.9 129.1 L605.0 129.5 L605.0 128.6 L605.1 128.2 L605.1 129.1 L605.2 128.9 L605.2 128.8 L605.3 129.4 L605.4 129.5 L605.4 129.4 L605.5 129.0 L605.5 128.9 L605.6 129.1 L605.6 128.9 L605.7 128.6 L605.7 128.6 L605.8 129.7 L605.8 129.4 L605.9 128.5 L605.9 128.5 L606.0 129.2 L606.1 129.0 L606.1 129.0 L606.2 128.7 L606.2 128.6 L606.3 128.9 L606.3 129.4 L606.4 129.7 L606.4 129.2 L606.5 128.8 L606.5 128.9 L606.6 128.9 L606.7 129.0 L606.7 129.1 L606.8 129.2 L606.8 128.7 L606.9 128.9 L606.9 129.1 L607.0 128.8 L607.0 129.1 L607.1 129.4 L607.1 129.2 L607.2 128.4 L607.2 128.2 L607.3 128.9 L607.4 129.7 L607.4 129.3 L607.5 128.8 L607.5 129.2 L607.6 129.7 L607.6 129.5 L607.7 128.9 L607.7 128.4 L607.8 128.9 L607.8 128.9 L607.9 129.0 L608.0 129.0 L608.0 128.6 L608.1 128.8 L608.1 129.7 L608.2 129.7 L608.2 128.6 L608.3 128.6 L608.3 128.9 L608.4 128.9 L608.4 128.8 L608.5 129.3 L608.5 129.4 L608.6 128.9 L608.7 128.3 L608.7 128.5 L608.8 129.4 L608.8 129.7 L608.9 129.1 L608.9 128.7 L609.0 128.8 L609.0 129.5 L609.1 129.2 L609.1 128.6 L609.2 128.7 L609.3 129.2 L609.3 129.7 L609.4 129.1 L609.4 128.7 L609.5 128.4 L609.5 128.9 L609.6 129.2 L609.6 129.2 L609.7 129.0 L609.7 128.8 L609.8 128.7 L609.8 129.2 L609.9 128.9 L610.0 128.4 L610.0 128.7 L610.1 129.6 L610.1 129.5 L610.2 128.7 L610.2 128.6 L610.3 129.3 L610.3 129.1 L610.4 128.8 L610.4 129.3 L610.5 129.7 L610.6 129.1 L610.6 128.9 L610.7 129.0 L610.7 129.3 L610.8 129.0 L610.8 128.6 L610.9 129.0 L610.9 129.1 L611.0 128.6 L611.0 128.6 L611.1 129.0 L611.1 128.7 L611.2 129.0 L611.3 129.3 L611.3 128.9 L611.4 128.8 L611.4 129.1 L611.5 129.0 L611.5 129.4 L611.6 129.5 L611.6 129.3 L611.7 129.1 L611.7 128.8 L611.8 128.7 L611.9 129.1 L611.9 129.6 L612.0 129.3 L612.0 128.5 L612.1 128.6 L612.1 129.1 L612.2 129.0 L612.2 128.4 L612.3 128.8 L612.3 128.8 L612.4 128.8 L612.4 129.4 L612.5 129.6 L612.6 129.4 L612.6 129.2 L612.7 129.1 L612.7 128.8 L612.8 128.7 L612.8 128.8 L612.9 128.7 L612.9 128.9 L613.0 129.4 L613.0 129.6 L613.1 128.8 L613.1 128.5 L613.2 129.0 L613.3 129.4 L613.3 129.2 L613.4 128.9 L613.4 129.2 L613.5 129.1 L613.5 128.7 L613.6 128.8 L613.6 129.4 L613.7 128.9 L613.7 128.5 L613.8 128.7 L613.9 129.2 L613.9 128.8 L614.0 129.1 L614.0 129.0 L614.1 129.1 L614.1 128.8 L614.2 128.8 L614.2 129.1 L614.3 129.4 L614.3 129.0 L614.4 128.8 L614.4 129.0 L614.5 129.2 L614.6 128.9 L614.6 129.2 L614.7 129.0 L614.7 128.4 L614.8 129.0 L614.8 129.5 L614.9 129.1 L614.9 128.9 L615.0 129.1 L615.0 129.2 L615.1 129.1 L615.2 129.0 L615.2 128.9 L615.3 129.2 L615.3 129.0 L615.4 128.9 L615.4 128.9 L615.5 129.0 L615.5 129.2 L615.6 129.2 L615.6 128.8 L615.7 128.8 L615.7 129.0 L615.8 129.1 L615.9 129.1 L615.9 129.1 L616.0 128.9 L616.0 128.9 L616.1 129.1 L616.1 129.0 L616.2 129.1 L616.2 129.3 L616.3 129.2 L616.3 128.7 L616.4 128.7 L616.5 129.1 L616.5 129.0 L616.6 128.9 L616.6 128.9 L616.7 128.8 L616.7 128.8 L616.8 129.2 L616.8 129.3 L616.9 129.0 L616.9 128.8 L617.0 129.1 L617.0 129.4 L617.1 128.8 L617.2 128.6 L617.2 129.3 L617.3 129.2 L617.3 129.1 L617.4 128.9 L617.4 128.6 L617.5 128.8 L617.5 129.2 L617.6 129.1 L617.6 129.0 L617.7 129.2 L617.8 129.2 L617.8 129.1 L617.9 128.8 L617.9 128.8 L618.0 129.1 L618.0 129.0 L618.1 128.8 L618.1 129.0 L618.2 128.9 L618.2 128.8 L618.3 129.1 L618.3 129.6 L618.4 129.2 L618.5 128.7 L618.5 128.8 L618.6 129.2 L618.6 129.2 L618.7 128.8 L618.7 129.1 L618.8 129.0 L618.8 128.8 L618.9 128.9 L618.9 129.5 L619.0 129.2 L619.1 128.8 L619.1 129.0 L619.2 129.2 L619.2 128.9 L619.3 128.7 L619.3 129.0 L619.4 128.8 L619.4 128.8 L619.5 129.1 L619.5 129.3 L619.6 129.1 L619.6 128.6 L619.7 128.7 L619.8 129.2 L619.8 129.2 L619.9 128.9 L619.9 129.4 L620.0 129.1 L620.0 129.0 L620.1 128.7 L620.1 129.1 L620.2 129.4 L620.2 129.1 L620.3 128.4 L620.4 128.5 L620.4 129.0 L620.5 129.4 L620.5 129.1 L620.6 129.4 L620.6 129.3 L620.7 129.0 L620.7 128.6 L620.8 128.8 L620.8 129.0 L620.9 128.8 L620.9 128.8 L621.0 129.4 L621.1 129.2 L621.1 128.9 L621.2 128.9 L621.2 129.3 L621.3 129.4 L621.3 128.9 L621.4 128.6 L621.4 129.1 L621.5 129.3 L621.5 128.8 L621.6 128.4 L621.7 128.8 L621.7 129.5 L621.8 129.4 L621.8 128.6 L621.9 128.4 L621.9 128.8 L622.0 129.5 L622.0 129.5 L622.1 129.0 L622.1 128.8 L622.2 129.0 L622.2 129.0 L622.3 128.7 L622.4 128.9 L622.4 129.5 L622.5 129.6 L622.5 128.9 L622.6 128.7 L622.6 128.5 L622.7 128.8 L622.7 129.4 L622.8 129.3 L622.8 128.9 L622.9 128.7 L622.9 128.5 L623.0 128.8 L623.1 129.5 L623.1 129.3 L623.2 128.8 L623.2 129.2 L623.3 129.8 L623.3 128.7 L623.4 128.2 L623.4 128.7 L623.5 129.0 L623.5 128.9 L623.6 129.6 L623.7 128.8 L623.7 128.4 L623.8 129.6 L623.8 129.4 L623.9 128.9 L623.9 128.9 L624.0 129.1 L624.0 129.2 L624.1 128.7 L624.1 128.8 L624.2 129.0 L624.2 128.5 L624.3 128.7 L624.4 130.0 L624.4 130.2 L624.5 128.5 L624.5 127.7 L624.6 129.0 L624.6 129.1 L624.7 128.8 L624.7 129.3 L624.8 129.7 L624.8 128.9 L624.9 129.1 L625.0 129.6 L625.0 128.6 L625.1 128.6 L625.1 129.5 L625.2 129.2 L625.2 128.3 L625.3 129.3 L625.3 129.7 L625.4 128.4 L625.4 128.2 L625.5 129.9 L625.5 129.3 L625.6 128.1 L625.7 128.8 L625.7 129.0 L625.8 128.3 L625.8 128.5 L625.9 129.8 L625.9 129.3 L626.0 128.7 L626.0 129.1 L626.1 129.8 L626.1 129.3 L626.2 129.0 L626.3 128.9 L626.3 129.4 L626.4 129.4 L626.4 128.6 L626.5 128.1 L626.5 128.3 L626.6 129.3 L626.6 130.3 L626.7 129.3 L626.7 127.7 L626.8 128.3 L626.8 129.4 L626.9 129.6 L627.0 129.2 L627.0 129.0 L627.1 129.1 L627.1 128.9 L627.2 128.7 L627.2 128.7 L627.3 128.1 L627.3 128.9 L627.4 130.0 L627.4 130.1 L627.5 129.3 L627.6 129.3 L627.6 129.0 L627.7 128.6 L627.7 128.6 L627.8 129.0 L627.8 128.8 L627.9 128.7 L627.9 129.1 L628.0 128.9 L628.0 129.1 L628.1 129.5 L628.1 129.3 L628.2 128.4 L628.3 128.7 L628.3 129.5 L628.4 129.1 L628.4 128.8 L628.5 128.9 L628.5 129.2 L628.6 128.8 L628.6 128.7 L628.7 129.1 L628.7 129.6 L628.8 128.9 L628.9 128.4 L628.9 129.2 L629.0 129.1 L629.0 129.0 L629.1 129.3 L629.1 128.9 L629.2 128.4 L629.2 128.7 L629.3 129.2 L629.3 130.1 L629.4 129.5 L629.4 128.7 L629.5 128.3 L629.6 128.7 L629.6 129.1 L629.7 129.7 L629.7 129.4 L629.8 128.7 L629.8 128.6 L629.9 129.2 L629.9 129.0 L630.0 128.9 L630.0 129.0 L630.1 129.1 L630.2 128.8 L630.2 128.7 L630.3 129.0 L630.3 129.1 L630.4 129.5 L630.4 129.9 L630.5 129.1 L630.5 127.7 L630.6 127.9 L630.6 128.6 L630.7 129.4 L630.7 129.3 L630.8 129.5 L630.9 130.0 L630.9 129.3 L631.0 128.3 L631.0 128.4 L631.1 129.2 L631.1 129.3 L631.2 129.1 L631.2 129.1 L631.3 129.0 L631.3 128.6 L631.4 128.7 L631.5 129.3 L631.5 129.0 L631.6 128.9 L631.6 129.4 L631.7 129.4 L631.7 128.3 L631.8 128.4 L631.8 129.4 L631.9 129.0 L631.9 128.2 L632.0 128.8 L632.0 129.9 L632.1 129.8 L632.2 129.0 L632.2 128.6 L632.3 128.7 L632.3 129.2 L632.4 129.3 L632.4 128.9 L632.5 129.0 L632.5 129.4 L632.6 128.9 L632.6 128.6 L632.7 128.9 L632.8 129.2 L632.8 129.0 L632.9 129.2 L632.9 129.2 L633.0 129.0 L633.0 128.8 L633.1 129.2 L633.1 129.3 L633.2 128.8 L633.2 128.6 L633.3 128.9 L633.3 129.0 L633.4 129.1 L633.5 129.3 L633.5 129.1 L633.6 128.7 L633.6 128.8 L633.7 129.0 L633.7 129.3 L633.8 129.0 L633.8 128.9 L633.9 129.0 L633.9 128.8 L634.0 129.0 L634.0 129.2 L634.1 128.7 L634.2 128.7 L634.2 129.3 L634.3 129.3 L634.3 129.1 L634.4 129.2 L634.4 128.9 L634.5 128.8 L634.5 128.8 L634.6 128.5 L634.6 128.9 L634.7 129.5 L634.8 129.4 L634.8 128.9 L634.9 129.0 L634.9 129.0 L635.0 128.7 L635.0 128.7 L635.1 129.4 L635.1 129.3 L635.2 129.1 L635.2 129.0 L635.3 128.9 L635.3 128.5 L635.4 129.3 L635.5 128.4 L635.5 128.6 L635.6 129.6 L635.6 130.1 L635.7 129.1 L635.7 128.6 L635.8 128.3 L635.8 129.1 L635.9 129.5 L635.9 128.3 L636.0 128.2 L636.1 129.8 L636.1 130.2 L636.2 128.9 L636.2 127.9 L636.3 128.5 L636.3 129.1 L636.4 129.1 L636.4 129.8 L636.5 129.1 L636.5 128.1 L636.6 128.3 L636.6 129.7 L636.7 129.8 L636.8 129.6 L636.8 129.0 L636.9 128.5 L636.9 129.0 L637.0 129.6 L637.0 128.4 L637.1 128.2 L637.1 129.3 L637.2 129.2 L637.2 128.8 L637.3 128.8 L637.4 129.4 L637.4 129.4 L637.5 128.5 L637.5 128.1 L637.6 129.5 L637.6 129.4 L637.7 128.6 L637.7 129.2 L637.8 129.4 L637.8 129.6 L637.9 129.4 L637.9 128.8 L638.0 128.5 L638.1 128.5 L638.1 129.0 L638.2 129.3 L638.2 128.7 L638.3 128.6 L638.3 129.9 L638.4 129.7 L638.4 129.1 L638.5 128.5 L638.5 127.8 L638.6 128.5 L638.7 129.7 L638.7 129.6 L638.8 128.9 L638.8 128.8 L638.9 128.9 L638.9 129.0 L639.0 129.3 L639.0 128.9 L639.1 128.8 L639.1 129.2 L639.2 129.1 L639.2 128.8 L639.3 128.8 L639.4 129.1 L639.4 129.1 L639.5 128.7 L639.5 128.5 L639.6 129.2 L639.6 129.8 L639.7 129.5 L639.7 129.1 L639.8 129.0 L639.8 128.6 L639.9 128.6 L640.0 129.0 L640.0 129.4 L640.1 129.3 L640.1 128.9 L640.2 128.8 L640.2 128.6 L640.3 128.8 L640.3 129.7 L640.4 129.5 L640.4 128.4 L640.5 128.9 L640.5 129.8 L640.6 128.6 L640.7 128.1 L640.7 128.6 L640.8 129.1 L640.8 128.8 L640.9 129.7 L640.9 129.3 L641.0 128.7 L641.0 129.1 L641.1 129.3 L641.1 129.2 L641.2 128.7 L641.3 128.7 L641.3 129.0 L641.4 129.3 L641.4 128.6 L641.5 128.7 L641.5 129.0 L641.6 128.5 L641.6 128.3 L641.7 129.6 L641.7 130.3 L641.8 129.6 L641.8 128.8 L641.9 129.1 L642.0 129.3 L642.0 128.6 L642.1 128.0 L642.1 128.6 L642.2 129.1 L642.2 129.0 L642.3 129.4 L642.3 129.6 L642.4 128.9 L642.4 128.9 L642.5 128.8 L642.6 128.9 L642.6 129.0 L642.7 128.6 L642.7 129.0 L642.8 129.6 L642.8 129.4 L642.9 128.9 L642.9 128.5 L643.0 128.7 L643.0 128.8 L643.1 129.3 L643.1 129.3 L643.2 129.1 L643.3 128.7 L643.3 129.2 L643.4 129.0 L643.4 128.6 L643.5 129.3 L643.5 130.1 L643.6 128.9 L643.6 127.9 L643.7 128.1 L643.7 129.3 L643.8 130.1 L643.8 129.3 L643.9 128.2 L644.0 128.7 L644.0 129.9 L644.1 128.7 L644.1 127.8 L644.2 129.1 L644.2 129.7 L644.3 128.9 L644.3 128.5 L644.4 128.8 L644.4 129.1 L644.5 129.9 L644.6 128.8 L644.6 128.4 L644.7 129.4 L644.7 130.0 L644.8 129.0 L644.8 128.4 L644.9 128.6 L644.9 129.2 L645.0 129.1 L645.0 129.1 L645.1 129.5 L645.1 129.2 L645.2 128.9 L645.3 128.4 L645.3 128.7 L645.4 129.2 L645.4 129.3 L645.5 128.3 L645.5 128.8 L645.6 130.5 L645.6 129.5 L645.7 127.8 L645.7 127.7 L645.8 129.5 L645.9 130.4 L645.9 129.6 L646.0 128.0 L646.0 128.6 L646.1 129.6 L646.1 129.5 L646.2 128.7 L646.2 128.8 L646.3 129.0 L646.3 128.9 L646.4 129.1 L646.4 129.3 L646.5 129.0 L646.6 129.2 L646.6 129.2 L646.7 128.5 L646.7 128.5 L646.8 129.3 L646.8 129.4 L646.9 129.1 L646.9 128.9 L647.0 129.0 L647.0 129.6 L647.1 129.3 L647.2 128.7 L647.2 128.6 L647.3 129.1 L647.3 129.1 L647.4 129.0 L647.4 128.8 L647.5 128.4 L647.5 128.7 L647.6 129.1 L647.6 129.0 L647.7 129.0 L647.7 129.2 L647.8 128.9 L647.9 129.0 L647.9 129.3 L648.0 129.1 L648.0 129.0 L648.1 128.9 L648.1 128.9 L648.2 128.6 L648.2 128.8 L648.3 129.4 L648.3 129.6 L648.4 129.5 L648.5 128.9 L648.5 128.7 L648.6 128.7 L648.6 128.9 L648.7 129.1 L648.7 129.0 L648.8 129.0 L648.8 129.0 L648.9 129.2 L648.9 129.0 L649.0 128.8 L649.0 128.9 L649.1 128.9 L649.2 128.7 L649.2 129.1 L649.3 129.6 L649.3 129.0 L649.4 129.0 L649.4 129.3 L649.5 128.8 L649.5 128.4 L649.6 129.9 L649.6 129.7 L649.7 128.3 L649.8 127.7 L649.8 128.6 L649.9 128.9 L649.9 129.6 L650.0 129.8 L650.0 128.7 L650.1 128.6 L650.1 129.7 L650.2 129.7 L650.2 128.5 L650.3 128.4 L650.3 129.7 L650.4 129.5 L650.5 128.7 L650.5 128.6 L650.6 128.3 L650.6 128.0 L650.7 129.1 L650.7 130.6 L650.8 129.4 L650.8 127.5 L650.9 128.1 L650.9 129.6 L651.0 129.2 L651.1 129.1 L651.1 129.6 L651.2 129.5 L651.2 129.5 L651.3 129.4 L651.3 128.5 L651.4 128.5 L651.4 129.5 L651.5 129.1 L651.5 128.5 L651.6 129.0 L651.6 129.0 L651.7 128.8 L651.8 129.2 L651.8 128.8 L651.9 128.6 L651.9 129.2 L652.0 129.4 L652.0 128.4 L652.1 129.4 L652.1 129.5 L652.2 128.4 L652.2 128.7 L652.3 129.2 L652.4 129.4 L652.4 128.9 L652.5 128.7 L652.5 128.3 L652.6 129.0 L652.6 129.4 L652.7 129.4 L652.7 128.9 L652.8 129.3 L652.8 129.7 L652.9 128.9 L652.9 128.5 L653.0 128.7 L653.1 129.0 L653.1 128.8 L653.2 129.2 L653.2 128.9 L653.3 128.7 L653.3 128.8 L653.4 129.2 L653.4 129.4 L653.5 129.3 L653.5 129.1 L653.6 128.9 L653.7 128.7 L653.7 128.9 L653.8 129.4 L653.8 129.4 L653.9 129.0 L653.9 128.7 L654.0 128.5 L654.0 128.6 L654.1 129.4 L654.1 129.3 L654.2 128.7 L654.2 128.9 L654.3 129.4 L654.4 128.9 L654.4 128.7 L654.5 129.0 L654.5 129.4 L654.6 129.0 L654.6 128.4 L654.7 129.0 L654.7 129.4 L654.8 129.1 L654.8 128.4 L654.9 128.9 L654.9 129.2 L655.0 129.1 L655.1 128.8 L655.1 129.0 L655.2 129.1 L655.2 129.5 L655.3 129.8 L655.3 128.8 L655.4 128.5 L655.4 129.5 L655.5 129.0 L655.5 128.2 L655.6 128.8 L655.7 129.0 L655.7 128.5 L655.8 128.8 L655.8 129.6 L655.9 129.0 L655.9 128.7 L656.0 129.0 L656.0 129.8 L656.1 129.0 L656.1 128.7 L656.2 129.3 L656.2 129.3 L656.3 127.9 L656.4 129.1 L656.4 130.3 L656.5 129.6 L656.5 128.2 L656.6 128.1 L656.6 129.0 L656.7 129.6 L656.7 129.1 L656.8 128.4 L656.8 128.2 L656.9 127.8 L657.0 130.0 L657.0 131.3 L657.1 130.3 L657.1 129.2 L657.2 128.5 L657.2 127.6 L657.3 128.4 L657.3 129.1 L657.4 129.6 L657.4 129.0 L657.5 129.2 L657.5 127.9 L657.6 128.7 L657.7 129.4 L657.7 128.7 L657.8 127.9 L657.8 129.4 L657.9 130.8 L657.9 128.6 L658.0 126.9 L658.0 128.5 L658.1 131.2 L658.1 130.3 L658.2 131.0 L658.3 130.5 L658.3 127.4 L658.4 126.4 L658.4 129.3 L658.5 129.2 L658.5 129.5 L658.6 129.4 L658.6 128.3 L658.7 127.6 L658.7 129.4 L658.8 129.6 L658.8 129.1 L658.9 129.1 L659.0 129.6 L659.0 127.2 L659.1 127.4 L659.1 130.3 L659.2 130.2 L659.2 127.7 L659.3 129.1 L659.3 129.2 L659.4 127.4 L659.4 130.2 L659.5 130.4 L659.6 128.1 L659.6 127.5 L659.7 128.4 L659.7 129.5 L659.8 131.3 L659.8 129.2 L659.9 127.9 L659.9 127.7 L660.0 129.9 L660.0 130.0 L660.1 129.4 L660.1 128.6 L660.2 128.9 L660.3 129.2 L660.3 130.5 L660.4 129.8 L660.4 127.9 L660.5 127.8 L660.5 128.3 L660.6 128.4 L660.6 129.5 L660.7 129.9 L660.7 127.4 L660.8 128.3 L660.9 130.5 L660.9 130.3 L661.0 128.2 L661.0 127.9 L661.1 129.4 L661.1 130.2 L661.2 129.6 L661.2 128.4 L661.3 128.2 L661.3 129.2 L661.4 129.9 L661.4 128.6 L661.5 127.7 L661.6 128.1 L661.6 130.3 L661.7 129.2 L661.7 126.6 L661.8 129.7 L661.8 131.7 L661.9 127.5 L661.9 129.0 L662.0 130.3 L662.0 128.9 L662.1 127.1 L662.2 129.4 L662.2 129.7 L662.3 129.1 L662.3 126.8 L662.4 127.4 L662.4 129.5 L662.5 133.3 L662.5 130.6 L662.6 127.3 L662.6 127.3 L662.7 128.5 L662.7 129.1 L662.8 129.4 L662.9 127.9 L662.9 127.6 L663.0 129.2 L663.0 130.9 L663.1 131.0 L663.1 129.3 L663.2 128.4 L663.2 129.3 L663.3 129.7 L663.3 128.6 L663.4 128.5 L663.5 128.6 L663.5 128.0 L663.6 130.1 L663.6 130.7 L663.7 129.5 L663.7 128.5 L663.8 128.5 L663.8 128.4 L663.9 128.4 L663.9 130.1 L664.0 130.4 L664.0 127.8 L664.1 126.4 L664.2 128.4 L664.2 127.4 L664.3 130.1 L664.3 134.2 L664.4 129.2 L664.4 125.1 L664.5 127.8 L664.5 129.0 L664.6 128.3 L664.6 129.6 L664.7 128.9 L664.7 129.2 L664.8 129.5 L664.9 129.4 L664.9 128.9 L665.0 129.5 L665.0 130.3 L665.1 129.5 L665.1 129.5 L665.2 127.6 L665.2 127.2 L665.3 127.5 L665.3 127.3 L665.4 128.9 L665.5 134.1 L665.5 131.6 L665.6 126.7 L665.6 129.9 L665.7 131.3 L665.7 128.4 L665.8 126.9 L665.8 128.1 L665.9 129.5 L665.9 128.0 L666.0 126.6 L666.0 130.4 L666.1 131.2 L666.2 128.6 L666.2 127.9 L666.3 129.6 L666.3 127.6 L666.4 127.9 L666.4 130.1 L666.5 129.8 L666.5 128.5 L666.6 128.0 L666.6 129.1 L666.7 130.7 L666.8 130.1 L666.8 130.3 L666.9 129.6 L666.9 126.6 L667.0 126.9 L667.0 130.4 L667.1 130.7 L667.1 129.2 L667.2 128.7 L667.2 128.2 L667.3 130.3 L667.3 128.8 L667.4 126.3 L667.5 128.1 L667.5 133.9 L667.6 133.2 L667.6 127.9 L667.7 125.5 L667.7 126.7 L667.8 127.6 L667.8 128.4 L667.9 128.2 L667.9 130.6 L668.0 132.7 L668.1 129.5 L668.1 128.9 L668.2 127.6 L668.2 126.7 L668.3 129.2 L668.3 131.3 L668.4 129.9 L668.4 128.1 L668.5 126.7 L668.5 128.5 L668.6 130.9 L668.6 129.9 L668.7 130.2 L668.8 129.8 L668.8 126.9 L668.9 127.0 L668.9 129.2 L669.0 131.5 L669.0 129.7 L669.1 125.4 L669.1 127.1 L669.2 131.0 L669.2 129.4 L669.3 128.8 L669.4 130.0 L669.4 129.5 L669.5 130.2 L669.5 129.7 L669.6 127.6 L669.6 128.2 L669.7 129.0 L669.7 129.4 L669.8 129.5 L669.8 128.3 L669.9 126.3 L669.9 128.0 L670.0 130.9 L670.1 131.1 L670.1 129.2 L670.2 127.2 L670.2 126.5 L670.3 128.2 L670.3 131.7 L670.4 132.6 L670.4 128.9 L670.5 128.5 L670.5 125.5 L670.6 126.1 L670.7 130.3 L670.7 132.7 L670.8 128.0 L670.8 126.6 L670.9 128.4 L670.9 131.3 L671.0 132.5 L671.0 130.2 L671.1 126.1 L671.1 127.2 L671.2 129.6 L671.2 131.4 L671.3 128.8 L671.4 129.0 L671.4 128.3 L671.5 126.8 L671.5 129.4 L671.6 131.6 L671.6 128.0 L671.7 128.4 L671.7 130.0 L671.8 130.2 L671.8 128.8 L671.9 127.8 L672.0 128.6 L672.0 129.6 L672.1 129.1 L672.1 128.5 L672.2 129.9 L672.2 129.4 L672.3 128.4 L672.3 127.6 L672.4 129.3 L672.4 129.4 L672.5 128.4 L672.5 129.2 L672.6 130.2 L672.7 129.8 L672.7 129.2 L672.8 129.1 L672.8 128.1 L672.9 129.9 L672.9 130.4 L673.0 128.6 L673.0 127.0 L673.1 127.3 L673.1 128.4 L673.2 128.4 L673.3 129.3 L673.3 130.3 L673.4 130.7 L673.4 129.3 L673.5 126.0 L673.5 126.6 L673.6 129.8 L673.6 130.4 L673.7 128.8 L673.7 129.3 L673.8 129.9 L673.8 129.6 L673.9 128.4 L674.0 129.5 L674.0 130.8 L674.1 128.8 L674.1 127.9 L674.2 128.3 L674.2 127.6 L674.3 127.7 L674.3 129.8 L674.4 130.6 L674.4 129.2 L674.5 128.4 L674.6 129.1 L674.6 130.2 L674.7 128.6 L674.7 127.9 L674.8 129.2 L674.8 129.2 L674.9 129.0 L674.9 129.6 L675.0 129.5 L675.0 128.5 L675.1 127.0 L675.1 127.2 L675.2 131.1 L675.3 132.8 L675.3 128.8 L675.4 127.4 L675.4 129.2 L675.5 129.8 L675.5 130.1 L675.6 128.9 L675.6 126.2 L675.7 128.3 L675.7 130.7 L675.8 129.5 L675.8 128.7 L675.9 128.5 L676.0 128.8 L676.0 128.9 L676.1 129.3 L676.1 130.1 L676.2 129.7 L676.2 128.6 L676.3 129.1 L676.3 129.6 L676.4 128.1 L676.4 129.1 L676.5 130.0 L676.6 128.7 L676.6 128.4 L676.7 129.4 L676.7 128.7 L676.8 128.2 L676.8 128.6 L676.9 130.3 L676.9 129.7 L677.0 127.5 L677.0 127.3 L677.1 129.4 L677.1 129.2 L677.2 128.0 L677.3 128.9 L677.3 130.1 L677.4 128.9 L677.4 127.5 L677.5 128.8 L677.5 131.5 L677.6 129.7 L677.6 128.1 L677.7 128.4 L677.7 129.4 L677.8 129.4 L677.9 129.7 L677.9 126.7 L678.0 129.1 L678.0 130.0 L678.1 130.0 L678.1 129.4 L678.2 130.8 L678.2 128.5 L678.3 127.7 L678.3 127.9 L678.4 128.6 L678.4 128.8 L678.5 129.1 L678.6 128.9 L678.6 128.9 L678.7 129.1 L678.7 129.0 L678.8 129.1 L678.8 129.5 L678.9 129.1 L678.9 129.6 L679.0 129.3 L679.0 127.6 L679.1 128.4 L679.2 129.2 L679.2 129.1 L679.3 129.7 L679.3 129.5 L679.4 128.8 L679.4 129.4 L679.5 130.0 L679.5 129.2 L679.6 127.8 L679.6 128.4 L679.7 128.2 L679.7 127.5 L679.8 128.8 L679.9 131.1 L679.9 131.1 L680.0 129.3 L680.0 128.8 L680.1 128.3 L680.1 127.0 L680.2 128.3 L680.2 129.8 L680.3 130.3 L680.3 130.1 L680.4 130.2 L680.5 129.1 L680.5 127.7 L680.6 127.5 L680.6 129.3 L680.7 130.2 L680.7 129.5 L680.8 128.4 L680.8 129.8 L680.9 130.1 L680.9 128.5 L681.0 127.4 L681.0 128.1 L681.1 129.0 L681.2 130.7 L681.2 130.0 L681.3 128.4 L681.3 129.1 L681.4 129.5 L681.4 128.6 L681.5 128.6 L681.5 129.4 L681.6 128.6 L681.6 128.5 L681.7 129.6 L681.8 128.3 L681.8 128.4 L681.9 129.9 L681.9 130.6 L682.0 128.9 L682.0 127.9 L682.1 129.0 L682.1 128.7 L682.2 128.3 L682.2 128.7 L682.3 129.8 L682.3 129.2 L682.4 128.1 L682.5 128.5 L682.5 130.2 L682.6 131.0 L682.6 129.7 L682.7 128.2 L682.7 128.5 L682.8 127.7 L682.8 127.5 L682.9 129.0 L682.9 129.5 L683.0 129.0 L683.1 129.5 L683.1 130.1 L683.2 128.5 L683.2 128.7 L683.3 129.9 L683.3 130.2 L683.4 129.1 L683.4 128.6 L683.5 128.6 L683.5 128.4 L683.6 128.4 L683.6 129.4 L683.7 130.6 L683.8 128.2 L683.8 127.6 L683.9 128.9 L683.9 130.2 L684.0 129.8 L684.0 127.1 L684.1 125.0 L684.1 128.8 L684.2 131.2 L684.2 129.9 L684.3 128.6 L684.4 129.1 L684.4 130.1 L684.5 128.5 L684.5 128.9 L684.6 130.6 L684.6 129.3 L684.7 127.7 L684.7 129.1 L684.8 128.8 L684.8 128.8 L684.9 128.8 L684.9 129.2 L685.0 129.0 L685.1 128.5 L685.1 128.0 L685.2 129.7 L685.2 130.7 L685.3 128.6 L685.3 128.3 L685.4 129.5 L685.4 129.6 L685.5 127.8 L685.5 128.0 L685.6 128.8 L685.6 128.6 L685.7 129.1 L685.8 130.6 L685.8 130.0 L685.9 128.3 L685.9 127.9 L686.0 129.6 L686.0 130.2 L686.1 128.9 L686.1 128.6 L686.2 128.9 L686.2 128.9 L686.3 128.5 L686.4 128.3 L686.4 129.1 L686.5 130.4 L686.5 129.8 L686.6 130.5 L686.6 128.5 L686.7 126.4 L686.7 127.8 L686.8 129.6 L686.8 128.7 L686.9 129.4 L686.9 129.6 L687.0 129.1 L687.1 129.7 L687.1 129.1 L687.2 128.4 L687.2 128.7 L687.3 129.3 L687.3 128.5 L687.4 128.8 L687.4 129.9 L687.5 130.0 L687.5 129.3 L687.6 128.2 L687.7 128.2 L687.7 128.8 L687.8 129.1 L687.8 128.8 L687.9 128.9 L687.9 129.6 L688.0 129.4 L688.0 129.6 L688.1 128.7 L688.1 127.7 L688.2 128.3 L688.2 129.7 L688.3 129.1 L688.4 128.8 L688.4 129.8 L688.5 129.3 L688.5 128.4 L688.6 128.1 L688.6 129.1 L688.7 130.1 L688.7 130.0 L688.8 128.6 L688.8 128.8 L688.9 128.7 L689.0 127.5 L689.0 128.5 L689.1 129.9 L689.1 130.7 L689.2 129.2 L689.2 127.5 L689.3 128.9 L689.3 130.1 L689.4 129.8 L689.4 130.0 L689.5 129.8 L689.5 128.7 L689.6 129.3 L689.7 128.5 L689.7 127.6 L689.8 126.9 L689.8 128.2 L689.9 129.9 L689.9 130.8 L690.0 129.5 L690.0 127.9 L690.1 128.4 L690.1 129.9 L690.2 130.1 L690.3 130.3 L690.3 129.6 L690.4 127.8 L690.4 128.1 L690.5 129.4 L690.5 129.0 L690.6 129.9 L690.6 130.1 L690.7 127.8 L690.7 127.0 L690.8 129.3 L690.8 129.2 L690.9 128.5 L691.0 129.4 L691.0 130.4 L691.1 129.3 L691.1 129.2 L691.2 126.3 L691.2 125.9 L691.3 128.9 L691.3 131.0 L691.4 130.2 L691.4 128.7 L691.5 128.6 L691.6 127.8 L691.6 127.2 L691.7 129.8 L691.7 130.7 L691.8 129.6 L691.8 129.2 L691.9 129.4 L691.9 128.2 L692.0 128.1 L692.0 128.9 L692.1 129.5 L692.1 129.7 L692.2 129.0 L692.3 128.2 L692.3 127.7 L692.4 129.0 L692.4 130.4 L692.5 129.8 L692.5 128.9 L692.6 129.0 L692.6 127.9 L692.7 127.9 L692.7 128.4 L692.8 130.3 L692.9 131.6 L692.9 131.1 L693.0 127.4 L693.0 126.7 L693.1 129.2 L693.1 130.4 L693.2 129.8 L693.2 128.6 L693.3 128.0 L693.3 126.6 L693.4 129.5 L693.4 132.0 L693.5 130.4 L693.6 127.8 L693.6 128.6 L693.7 130.3 L693.7 128.7 L693.8 128.0 L693.8 128.2 L693.9 130.2 L693.9 129.4 L694.0 128.6 L694.0 130.0 L694.1 129.9 L694.2 127.6 L694.2 127.8 L694.3 128.3 L694.3 127.6 L694.4 129.8 L694.4 131.5 L694.5 127.3 L694.5 127.2 L694.6 129.7 L694.6 128.5 L694.7 127.9 L694.7 130.2 L694.8 131.0 L694.9 127.7 L694.9 127.0 L695.0 129.6 L695.0 131.4 L695.1 128.2 L695.1 127.1 L695.2 129.6 L695.2 130.7 L695.3 129.7 L695.3 128.7 L695.4 129.1 L695.5 129.3 L695.5 128.1 L695.6 128.9 L695.6 128.5 L695.7 129.5 L695.7 131.2 L695.8 129.5 L695.8 126.7 L695.9 127.9 L695.9 129.5 L696.0 129.8 L696.0 129.6 L696.1 128.2 L696.2 126.9 L696.2 129.3 L696.3 130.9 L696.3 129.1 L696.4 128.4 L696.4 128.9 L696.5 128.7 L696.5 127.3 L696.6 128.3 L696.6 129.9 L696.7 130.9 L696.7 129.8 L696.8 129.6 L696.9 128.8 L696.9 126.9 L697.0 127.4 L697.0 130.3 L697.1 130.6 L697.1 129.0 L697.2 127.3 L697.2 128.1 L697.3 129.6 L697.3 131.4 L697.4 130.1 L697.5 129.0 L697.5 129.3 L697.6 129.7 L697.6 126.1 L697.7 126.3 L697.7 130.1 L697.8 130.8 L697.8 128.2 L697.9 126.5 L697.9 129.3 L698.0 131.7 L698.0 129.7 L698.1 129.6 L698.2 130.1 L698.2 130.1 L698.3 127.6 L698.3 127.9 L698.4 127.5 L698.4 127.6 L698.5 130.0 L698.5 130.5 L698.6 128.4 L698.6 129.8 L698.7 131.5 L698.8 128.5 L698.8 127.2 L698.9 128.8 L698.9 130.5 L699.0 131.8 L699.0 128.0 L699.1 128.4 L699.1 128.4 L699.2 127.8 L699.2 126.6 L699.3 130.3 L699.3 132.0 L699.4 130.1 L699.5 127.5 L699.5 127.4 L699.6 128.5 L699.6 129.7 L699.7 130.0 L699.7 129.6 L699.8 129.0 L699.8 127.3 L699.9 127.9 L699.9 129.7 L700.0 129.7 L700.1 129.2 L700.1 128.7 L700.2 128.7 L700.2 129.4 L700.3 129.1 L700.3 129.0 L700.4 128.0 L700.4 129.1 L700.5 130.1 L700.5 129.6 L700.6 129.1 L700.6 128.7 L700.7 127.6 L700.8 128.3 L700.8 130.8 L700.9 129.9 L700.9 126.0 L701.0 126.8 L701.0 128.8 L701.1 130.2 L701.1 130.1 L701.2 130.4 L701.2 128.9 L701.3 126.8 L701.4 126.8 L701.4 129.6 L701.5 129.6 L701.5 128.2 L701.6 129.4 L701.6 131.3 L701.7 131.0 L701.7 127.9 L701.8 129.5 L701.8 131.4 L701.9 126.4 L701.9 125.7 L702.0 128.9 L702.1 132.6 L702.1 131.8 L702.2 127.6 L702.2 127.7 L702.3 129.4 L702.3 128.5 L702.4 127.3 L702.4 129.9 L702.5 129.3 L702.5 127.9 L702.6 128.1 L702.7 129.9 L702.7 130.8 L702.8 130.2 L702.8 128.6 L702.9 128.8 L702.9 128.4 L703.0 131.0 L703.0 131.3 L703.1 128.0 L703.1 124.8 L703.2 131.6 L703.2 128.4 L703.3 125.0 L703.4 128.8 L703.4 130.5 L703.5 130.3 L703.5 132.5 L703.6 127.5 L703.6 122.9 L703.7 128.7 L703.7 132.2 L703.8 129.0 L703.8 127.5 L703.9 127.5 L704.0 130.8 L704.0 133.9 L704.1 128.7 L704.1 125.5 L704.2 126.9 L704.2 129.9 L704.3 132.4 L704.3 130.1 L704.4 127.8 L704.4 126.0 L704.5 127.6 L704.5 130.8 L704.6 131.9 L704.7 130.3 L704.7 128.2 L704.8 126.3 L704.8 129.8 L704.9 132.0 L704.9 129.0 L705.0 127.1 L705.0 129.8 L705.1 130.2 L705.1 128.1 L705.2 127.7 L705.3 128.4 L705.3 128.9 L705.4 128.6 L705.4 131.2 L705.5 132.3 L705.5 125.1 L705.6 118.3 L705.6 128.6 L705.7 138.2 L705.7 132.2 L705.8 130.3 L705.8 131.3 L705.9 127.3 L706.0 120.0 L706.0 123.4 L706.1 129.2 L706.1 132.3 L706.2 133.6 L706.2 134.8 L706.3 131.8 L706.3 127.1 L706.4 122.7 L706.4 130.1 L706.5 131.2 L706.5 126.9 L706.6 124.4 L706.7 129.9 L706.7 135.5 L706.8 131.4 L706.8 125.8 L706.9 125.0 L706.9 132.0 L707.0 128.9 L707.0 121.4 L707.1 127.7 L707.1 134.7 L707.2 130.1 L707.3 126.7 L707.3 129.4 L707.4 130.1 L707.4 126.5 L707.5 130.5 L707.5 135.2 L707.6 133.2 L707.6 123.1 L707.7 124.7 L707.7 134.3 L707.8 138.9 L707.8 130.0 L707.9 125.1 L708.0 117.9 L708.0 123.2 L708.1 135.5 L708.1 128.9 L708.2 130.9 L708.2 138.3 L708.3 128.4 L708.3 118.9 L708.4 129.3 L708.4 129.3 L708.5 120.8 L708.6 128.8 L708.6 140.7 L708.7 138.0 L708.7 123.9 L708.8 117.1 L708.8 131.5 L708.9 136.7 L708.9 125.2 L709.0 120.8 L709.0 128.3 L709.1 140.4 L709.1 135.3 L709.2 120.9 L709.3 118.9 L709.3 123.0 L709.4 135.0 L709.4 147.6 L709.5 136.2 L709.5 124.2 L709.6 121.5 L709.6 119.5 L709.7 134.4 L709.7 138.9 L709.8 133.8 L709.9 127.5 L709.9 114.8 L710.0 108.4 L710.0 143.0 L710.1 152.1 L710.1 134.9 L710.2 117.7 L710.2 110.8 L710.3 115.9 L710.3 139.1 L710.4 144.8 L710.4 128.2 L710.5 126.1 L710.6 130.0 L710.6 123.2 L710.7 125.7 L710.7 128.5 L710.8 129.3 L710.8 128.1 L710.9 132.2 L710.9 135.4 L711.0 122.1 L711.0 121.7 L711.1 129.0 L711.2 125.4 L711.2 131.9 L711.3 139.1 L711.3 132.3 L711.4 124.9 L711.4 123.6 L711.5 126.0 L711.5 124.3 L711.6 131.9 L711.6 134.0 L711.7 135.9 L711.7 133.8 L711.8 130.3 L711.9 132.9 L711.9 130.1 L712.0 120.4 L712.0 128.4 L712.1 129.9 L712.1 123.2 L712.2 129.6 L712.2 134.8 L712.3 125.9 L712.3 127.8 L712.4 129.8 L712.5 133.9 L712.5 134.7 L712.6 129.1 L712.6 121.8 L712.7 122.8 L712.7 128.0 L712.8 130.1 L712.8 139.9 L712.9 137.5 L712.9 126.7 L713.0 116.9 L713.0 124.1 L713.1 126.2 L713.2 129.9 L713.2 130.0 L713.3 125.8 L713.3 123.6 L713.4 140.5 L713.4 141.5 L713.5 127.3 L713.5 127.2 L713.6 129.3 L713.6 121.8 L713.7 131.6 L713.8 141.0 L713.8 132.5 L713.9 123.8 L713.9 125.5 L714.0 124.9 L714.0 129.8 L714.1 126.6 L714.1 128.0 L714.2 123.4 L714.2 122.9 L714.3 136.4 L714.3 152.1 L714.4 129.1 L714.5 110.2 L714.5 123.6 L714.6 137.3 L714.6 125.3 L714.7 130.7 L714.7 140.7 L714.8 117.7 L714.8 118.3 L714.9 139.3 L714.9 137.5 L715.0 118.3 L715.1 123.5 L715.1 125.6 L715.2 126.5 L715.2 124.9 L715.3 126.9 L715.3 135.5 L715.4 134.9 L715.4 122.5 L715.5 128.5 L715.5 135.1 L715.6 142.6 L715.6 137.6 L715.7 126.4 L715.8 115.5 L715.8 116.5 L715.9 130.0 L715.9 130.7 L716.0 123.5 L716.0 145.4 L716.1 146.0 L716.1 120.4 L716.2 118.4 L716.2 124.0 L716.3 128.1 L716.4 132.3 L716.4 132.5 L716.5 135.1 L716.5 133.6 L716.6 126.2 L716.6 137.7 L716.7 152.1 L716.7 130.0 L716.8 101.5 L716.8 111.5 L716.9 140.9 L716.9 136.4 L717.0 122.5 L717.1 129.8 L717.1 125.6 L717.2 119.6 L717.2 129.4 L717.3 137.9 L717.3 134.4 L717.4 129.5 L717.4 122.7 L717.5 124.7 L717.5 138.0 L717.6 134.8 L717.6 120.5 L717.7 124.5 L717.8 132.6 L717.8 131.0 L717.9 125.6 L717.9 133.8 L718.0 128.2 L718.0 120.4 L718.1 127.9 L718.1 140.5 L718.2 125.3 L718.2 117.7 L718.3 139.2 L718.4 138.6 L718.4 121.3 L718.5 119.1 L718.5 131.0 L718.6 130.6 L718.6 127.5 L718.7 135.8 L718.7 140.7 L718.8 128.4 L718.8 110.2 L718.9 118.1 L718.9 125.1 L719.0 130.6 L719.1 132.5 L719.1 134.6 L719.2 139.8 L719.2 132.0 L719.3 123.6 L719.3 125.3 L719.4 137.0 L719.4 130.9 L719.5 131.1 L719.5 132.3 L719.6 136.5 L719.7 130.9 L719.7 114.4 L719.8 121.8 L719.8 135.6 L719.9 130.6 L719.9 115.8 L720.0 131.9 L720.0 142.6 L720.1 132.3 L720.1 123.9 L720.2 119.7 L720.2 122.2 L720.3 127.7 L720.4 126.5 L720.4 135.8 L720.5 136.6 L720.5 135.0 L720.6 132.7 L720.6 132.4 L720.7 122.0 L720.7 119.4 L720.8 115.3 L720.8 125.6 L720.9 149.8 L721.0 148.8 L721.0 113.5 L721.1 111.9 L721.1 118.6 L721.2 138.9 L721.2 143.7 L721.3 135.7 L721.3 117.2 L721.4 123.3 L721.4 125.5 L721.5 119.3 L721.5 131.0 L721.6 139.5 L721.7 134.7 L721.7 129.2 L721.8 127.5 L721.8 128.3 L721.9 137.5 L721.9 131.9 L722.0 133.6 L722.0 130.7 L722.1 130.2 L722.1 128.4 L722.2 130.7 L722.3 121.2 L722.3 117.4 L722.4 130.7 L722.4 139.0 L722.5 127.6 L722.5 125.3 L722.6 138.0 L722.6 138.1 L722.7 116.6 L722.7 116.6 L722.8 145.2 L722.8 141.5 L722.9 118.0 L723.0 119.1 L723.0 138.5 L723.1 136.7 L723.1 124.6 L723.2 117.0 L723.2 122.5 L723.3 142.2 L723.3 136.3 L723.4 111.3 L723.4 129.3 L723.5 142.1 L723.6 122.2 L723.6 112.5 L723.7 136.2 L723.7 135.5 L723.8 113.3 L723.8 111.9 L723.9 143.0 L723.9 152.1 L724.0 134.8 L724.0 123.2 L724.1 126.5 L724.1 121.7 L724.2 127.4 L724.3 139.6 L724.3 136.0 L724.4 139.0 L724.4 136.7 L724.5 114.3 L724.5 112.5 L724.6 139.7 L724.6 139.0 L724.7 118.6 L724.7 120.2 L724.8 130.4 L724.9 130.6 L724.9 133.4 L725.0 127.9 L725.0 123.7 L725.1 129.3 L725.1 139.8 L725.2 127.4 L725.2 112.7 L725.3 127.6 L725.3 146.6 L725.4 140.7 L725.4 124.4 L725.5 126.8 L725.6 135.1 L725.6 133.1 L725.7 115.5 L725.7 111.5 L725.8 121.5 L725.8 134.9 L725.9 128.3 L725.9 115.3 L726.0 121.9 L726.0 140.3 L726.1 152.1 L726.2 135.6 L726.2 110.8 L726.3 126.6 L726.3 143.7 L726.4 129.0 L726.4 112.9 L726.5 123.4 L726.5 146.4 L726.6 132.5 L726.6 117.0 L726.7 107.7 L726.7 120.4 L726.8 145.7 L726.9 152.1 L726.9 136.7 L727.0 132.7 L727.0 119.1 L727.1 118.1 L727.1 136.5 L727.2 128.2 L727.2 122.7 L727.3 119.7 L727.3 123.7 L727.4 135.1 L727.4 140.9 L727.5 132.6 L727.6 131.1 L727.6 132.3 L727.7 127.4 L727.7 127.1 L727.8 128.5 L727.8 125.7 L727.9 119.7 L727.9 120.8 L728.0 129.9 L728.0 135.2 L728.1 145.2 L728.2 131.1 L728.2 121.4 L728.3 124.8 L728.3 126.8 L728.4 127.0 L728.4 134.5 L728.5 144.3 L728.5 125.2 L728.6 118.2 L728.6 134.5 L728.7 139.8 L728.7 126.3 L728.8 118.7 L728.9 123.5 L728.9 129.6 L729.0 131.6 L729.0 127.3 L729.1 127.6 L729.1 132.3 L729.2 130.1 L729.2 126.5 L729.3 128.7 L729.3 132.5 L729.4 132.1 L729.5 132.9 L729.5 128.5 L729.6 122.7 L729.6 127.2 L729.7 139.5 L729.7 131.1 L729.8 121.4 L729.8 128.6 L729.9 130.6 L729.9 127.3 L730.0 125.1 L730.0 130.6 L730.1 127.4 L730.2 133.1 L730.2 131.2 L730.3 130.9 L730.3 137.2 L730.4 132.6 L730.4 121.0 L730.5 120.9 L730.5 126.0 L730.6 131.4 L730.6 135.8 L730.7 133.8 L730.8 122.7 L730.8 122.5 L730.9 130.1 L730.9 132.7 L731.0 126.3 L731.0 123.9 L731.1 129.9 L731.1 136.4 L731.2 129.7 L731.2 124.5 L731.3 132.8 L731.3 129.5 L731.4 126.2 L731.5 134.4 L731.5 131.8 L731.6 121.4 L731.6 124.9 L731.7 130.7 L731.7 128.5 L731.8 125.7 L731.8 129.5 L731.9 133.5 L731.9 129.7 L732.0 126.6 L732.1 131.4 L732.1 132.7 L732.2 123.9 L732.2 126.8 L732.3 126.6 L732.3 126.2 L732.4 122.2 L732.4 127.3 L732.5 135.1 L732.5 135.6 L732.6 130.5 L732.6 126.1 L732.7 130.3 L732.8 135.0 L732.8 131.4 L732.9 123.8 L732.9 123.6 L733.0 131.7 L733.0 135.9 L733.1 132.3 L733.1 120.9 L733.2 121.8 L733.2 131.5 L733.3 137.5 L733.4 129.7 L733.4 125.0 L733.5 128.4 L733.5 130.6 L733.6 126.4 L733.6 130.2 L733.7 131.0 L733.7 134.0 L733.8 128.3 L733.8 122.4 L733.9 122.8 L733.9 132.8 L734.0 134.3 L734.1 131.5 L734.1 125.9 L734.2 123.8 L734.2 133.4 L734.3 133.8 L734.3 124.8 L734.4 124.9 L734.4 131.2 L734.5 130.0 L734.5 130.6 L734.6 130.3 L734.7 125.6 L734.7 126.3 L734.8 132.6 L734.8 135.8 L734.9 129.3 L734.9 127.9 L735.0 126.1 L735.0 125.5 L735.1 129.2 L735.1 133.5 L735.2 130.0 L735.2 127.1 L735.3 130.9 L735.4 133.8 L735.4 124.5 L735.5 120.7 L735.5 126.9 L735.6 131.3 L735.6 128.8 L735.7 131.7 L735.7 129.6 L735.8 126.6 L735.8 128.8 L735.9 133.4 L736.0 129.0 L736.0 126.8 L736.1 126.9 L736.1 130.8 L736.2 131.5 L736.2 134.1 L736.3 131.1 L736.3 123.2 L736.4 125.1 L736.4 131.6 L736.5 134.9 L736.5 128.4 L736.6 124.1 L736.7 123.2 L736.7 126.3 L736.8 127.5 L736.8 127.9 L736.9 132.2 L736.9 132.8 L737.0 132.5 L737.0 131.8 L737.1 134.4 L737.1 126.9 L737.2 117.3 L737.3 117.9 L737.3 137.4 L737.4 140.7 L737.4 130.1 L737.5 122.2 L737.5 126.7 L737.6 132.9 L737.6 136.7 L737.7 124.9 L737.7 127.0 L737.8 128.3 L737.8 130.8 L737.9 130.5 L738.0 128.0 L738.0 129.2 L738.1 131.2 L738.1 128.6 L738.2 130.6 L738.2 128.4 L738.3 128.9 L738.3 128.1 L738.4 126.5 L738.4 125.1 L738.5 129.5 L738.5 133.8 L738.6 135.5 L738.7 128.1 L738.7 123.5 L738.8 130.0 L738.8 131.4 L738.9 127.3 L738.9 124.4 L739.0 126.6 L739.0 131.7 L739.1 133.9 L739.1 128.9 L739.2 127.5 L739.3 124.9 L739.3 128.6 L739.4 133.0 L739.4 136.4 L739.5 131.8 L739.5 125.2 L739.6 123.4 L739.6 129.4 L739.7 130.8 L739.7 127.8 L739.8 129.4 L739.8 127.4 L739.9 126.0 L740.0 130.1 L740.0 132.4 L740.1 130.2 L740.1 129.3 L740.2 128.2 L740.2 127.5 L740.3 131.4 L740.3 127.7 L740.4 126.8 L740.4 131.1 L740.5 128.5 L740.6 126.4 L740.6 129.1 L740.7 129.1 L740.7 127.2 L740.8 128.5 L740.8 131.9 L740.9 131.2 L740.9 125.9 L741.0 125.4 L741.0 130.6 L741.1 132.0 L741.1 131.4 L741.2 131.5 L741.3 132.2 L741.3 124.7 L741.4 123.5 L741.4 127.4 L741.5 130.6 L741.5 130.5 L741.6 131.5 L741.6 130.4 L741.7 127.1 L741.7 126.5 L741.8 125.8 L741.9 128.4 L741.9 131.4 L742.0 129.9 L742.0 126.6 L742.1 126.3 L742.1 129.2 L742.2 131.1 L742.2 132.0 L742.3 129.9 L742.3 125.8 L742.4 128.9 L742.4 131.0 L742.5 126.8 L742.6 127.1 L742.6 131.2 L742.7 129.4 L742.7 128.7 L742.8 132.2 L742.8 129.8 L742.9 125.8 L742.9 125.7 L743.0 132.0 L743.0 128.8 L743.1 126.4 L743.2 129.8 L743.2 129.7 L743.3 128.1 L743.3 134.0 L743.4 129.9 L743.4 123.1 L743.5 127.8 L743.5 138.1 L743.6 128.0 L743.6 124.4 L743.7 129.4 L743.7 132.3 L743.8 131.0 L743.9 132.8 L743.9 126.7 L744.0 120.2 L744.0 127.1 L744.1 132.0 L744.1 127.3 L744.2 126.5 L744.2 128.0 L744.3 124.9 L744.3 129.8 L744.4 133.2 L744.5 129.9 L744.5 130.2 L744.6 137.7 L744.6 131.2 L744.7 124.6 L744.7 124.5 L744.8 132.0 L744.8 129.0 L744.9 128.1 L744.9 132.3 L745.0 133.5 L745.0 134.1 L745.1 128.5 L745.2 123.9 L745.2 126.1 L745.3 130.9 L745.3 130.7 L745.4 129.6 L745.4 124.1 L745.5 127.8 L745.5 134.7 L745.6 131.0 L745.6 122.3 L745.7 127.7 L745.8 132.6 L745.8 128.2 L745.9 129.2 L745.9 133.9 L746.0 128.7 L746.0 124.2 L746.1 126.7 L746.1 129.3 L746.2 128.9 L746.2 130.0 L746.3 130.5 L746.3 128.4 L746.4 128.1 L746.5 128.8 L746.5 128.0 L746.6 127.5 L746.6 130.3 L746.7 132.3 L746.7 129.5 L746.8 127.0 L746.8 130.2 L746.9 131.9 L746.9 128.3 L747.0 128.0 L747.1 130.7 L747.1 128.5 L747.2 126.0 L747.2 129.1 L747.3 130.4 L747.3 129.1 L747.4 128.9 L747.4 127.9 L747.5 128.0 L747.5 130.6 L747.6 129.1 L747.6 128.6 L747.7 129.2 L747.8 129.1 L747.8 131.2 L747.9 132.5 L747.9 125.7 L748.0 124.4 L748.0 133.8 L748.1 132.0 L748.1 122.9 L748.2 126.0 L748.2 131.4 L748.3 128.9 L748.3 126.7 L748.4 129.0 L748.5 130.8 L748.5 128.9 L748.6 127.4 L748.6 130.7 L748.7 131.6 L748.7 128.7 L748.8 131.2 L748.8 130.1 L748.9 128.1 L748.9 124.9 L749.0 128.7 L749.1 130.9 L749.1 130.5 L749.2 127.5 L749.2 125.0 L749.3 126.6 L749.3 132.5 L749.4 132.3 L749.4 128.1 L749.5 126.4 L749.5 128.6 L749.6 129.6 L749.6 130.0 L749.7 130.7 L749.8 128.9 L749.8 127.3 L749.9 127.9 L749.9 130.4 L750.0 131.3 L750.0 129.3 L750.1 126.8 L750.1 127.9 L750.2 130.8 L750.2 130.1 L750.3 128.7 L750.4 128.0 L750.4 128.4 L750.5 128.7 L750.5 129.7 L750.6 128.6 L750.6 130.5 L750.7 130.2 L750.7 127.2 L750.8 127.1 L750.8 132.0 L750.9 131.9 L750.9 127.5 L751.0 127.1 L751.1 130.7 L751.1 129.8 L751.2 126.7 L751.2 128.4 L751.3 130.9 L751.3 128.8 L751.4 126.5 L751.4 128.2 L751.5 130.5 L751.5 128.8 L751.6 126.4 L751.7 129.3 L751.7 131.3 L751.8 127.9 L751.8 129.7 L751.9 131.5 L751.9 129.8 L752.0 127.8 L752.0 130.3 L752.1 128.7 L752.1 127.9 L752.2 127.8 L752.2 126.5 L752.3 128.5 L752.4 132.0 L752.4 130.6 L752.5 127.2 L752.5 128.0 L752.6 130.6 L752.6 130.2 L752.7 128.5 L752.7 128.0 L752.8 130.1 L752.8 129.8 L752.9 128.5 L753.0 129.0 L753.0 129.5 L753.1 128.7 L753.1 128.3 L753.2 128.4 L753.2 128.5 L753.3 129.6 L753.3 129.3 L753.4 128.3 L753.4 127.4 L753.5 128.3 L753.5 129.4 L753.6 130.1 L753.7 129.4 L753.7 128.1 L753.8 128.5 L753.8 129.7 L753.9 129.5 L753.9 129.6 L754.0 129.5 L754.0 128.5 L754.1 128.6 L754.1 129.1 L754.2 128.7 L754.3 129.6 L754.3 129.6 L754.4 129.3 L754.4 128.8 L754.5 130.0 L754.5 129.6 L754.6 129.1 L754.6 129.6 L754.7 129.5 L754.7 126.7 L754.8 125.8 L754.8 124.6 L754.9 127.2 L755.0 133.2 L755.0 135.8 L755.1 129.4 L755.1 126.2 L755.2 127.3 L755.2 127.6 L755.3 127.2 L755.3 128.3 L755.4 131.5 L755.4 131.5 L755.5 131.4 L755.6 128.7 L755.6 125.8 L755.7 127.6 L755.7 129.7 L755.8 127.3 L755.8 128.3 L755.9 130.1 L755.9 130.3 L756.0 129.3 L756.0 128.4 L756.1 129.6 L756.1 128.9 L756.2 127.4 L756.3 128.5 L756.3 131.5 L756.4 130.2 L756.4 128.5 L756.5 129.2 L756.5 129.8 L756.6 128.5 L756.6 128.9 L756.7 129.0 L756.7 128.7 L756.8 127.8 L756.9 129.0 L756.9 128.7 L757.0 128.3 L757.0 129.2 L757.1 129.1 L757.1 128.7 L757.2 129.4 L757.2 130.1 L757.3 128.7 L757.3 128.4 L757.4 128.5 L757.4 128.9 L757.5 130.1 L757.6 130.0 L757.6 129.0 L757.7 127.2 L757.7 127.3 L757.8 129.5 L757.8 130.4 L757.9 128.4 L757.9 127.8 L758.0 130.0 L758.0 129.4 L758.1 128.9 L758.2 129.0 L758.2 129.8 L758.3 128.7 L758.3 128.2 L758.4 129.3 L758.4 129.0 L758.5 128.6 L758.5 129.3 L758.6 129.6 L758.6 128.9 L758.7 129.2 L758.7 128.4 L758.8 128.4 L758.9 128.9 L758.9 128.8 L759.0 128.7 L759.0 129.2 L759.1 129.5 L759.1 129.5 L759.2 129.2 L759.2 129.2 L759.3 129.4 L759.3 128.5 L759.4 128.1 L759.4 129.8 L759.5 129.6 L759.6 128.0 L759.6 127.9 L759.7 129.8 L759.7 129.5 L759.8 127.9 L759.8 128.9 L759.9 130.0 L759.9 129.2 L760.0 128.0 L760.0 129.2 L760.1 130.1 L760.2 127.7 L760.2 127.7 L760.3 130.2 L760.3 130.6 L760.4 128.4 L760.4 129.0 L760.5 130.1 L760.5 128.9 L760.6 127.9 L760.6 128.9 L760.7 129.5 L760.7 129.0 L760.8 129.2 L760.9 128.1 L760.9 129.1 L761.0 130.7 L761.0 129.5 L761.1 128.0 L761.1 128.9 L761.2 129.3 L761.2 128.6 L761.3 128.6 L761.3 128.6 L761.4 128.0 L761.5 128.4 L761.5 129.6 L761.6 129.7 L761.6 129.4 L761.7 128.9 L761.7 128.9 L761.8 129.8 L761.8 129.5 L761.9 128.4 L761.9 128.8 L762.0 130.2 L762.0 129.1 L762.1 127.8 L762.2 129.0 L762.2 130.3 L762.3 129.1 L762.3 128.5 L762.4 128.9 L762.4 128.9 L762.5 129.2 L762.5 129.3 L762.6 128.5 L762.6 129.5 L762.7 129.1 L762.8 128.6 L762.8 129.6 L762.9 129.4 L762.9 127.8 L763.0 128.6 L763.0 129.5 L763.1 128.8 L763.1 128.5 L763.2 129.2 L763.2 128.8 L763.3 128.5 L763.3 129.0 L763.4 129.7 L763.5 129.1 L763.5 128.2 L763.6 127.6 L763.6 129.5 L763.7 130.3 L763.7 130.8 L763.8 128.4 L763.8 127.7 L763.9 127.8 L763.9 128.6 L764.0 129.4 L764.1 129.8 L764.1 130.0 L764.2 129.7 L764.2 128.2 L764.3 127.9 L764.3 129.9 L764.4 130.3 L764.4 129.4 L764.5 128.7 L764.5 128.7 L764.6 127.7 L764.6 128.7 L764.7 128.8 L764.8 129.0 L764.8 129.6 L764.9 129.7 L764.9 129.2 L765.0 129.3 L765.0 129.3 L765.1 127.9 L765.1 128.1 L765.2 128.3 L765.2 129.8 L765.3 130.0 L765.4 129.0 L765.4 128.1 L765.5 128.8 L765.5 129.0 L765.6 128.7 L765.6 129.2 L765.7 129.8 L765.7 129.1 L765.8 128.5 L765.8 129.1 L765.9 129.7 L765.9 128.5 L766.0 128.6 L766.1 128.9 L766.1 129.0 L766.2 128.7 L766.2 130.0 L766.3 130.0 L766.3 128.2 L766.4 128.0 L766.4 129.5 L766.5 130.1 L766.5 128.9 L766.6 128.2 L766.7 128.3 L766.7 128.8 L766.8 128.7 L766.8 128.7 L766.9 128.6 L766.9 129.8 L767.0 129.7 L767.0 129.1 L767.1 128.4 L767.1 128.8 L767.2 128.8 L767.2 129.1 L767.3 129.6 L767.4 129.3 L767.4 128.8 L767.5 128.9 L767.5 129.9 L767.6 129.2 L767.6 128.6 L767.7 129.0 L767.7 129.4 L767.8 128.1 L767.8 128.6 L767.9 128.9 L768.0 130.1 L768.0 129.9 L768.1 128.6 L768.1 127.9 L768.2 128.7 L768.2 128.9 L768.3 129.0 L768.3 129.8 L768.4 129.7 L768.4 128.3 L768.5 128.3 L768.5 129.0 L768.6 130.0 L768.7 129.6 L768.7 129.2 L768.8 128.6 L768.8 128.6 L768.9 128.3 L768.9 129.4 L769.0 129.5 L769.0 129.2 L769.1 128.5 L769.1 128.3 L769.2 128.9 L769.2 129.4 L769.3 129.3 L769.4 129.0 L769.4 128.9 L769.5 128.7 L769.5 129.0 L769.6 129.4 L769.6 129.3 L769.7 129.4 L769.7 129.1 L769.8 128.7 L769.8 128.6 L769.9 128.3 L770.0 128.7 L770.0 129.2 L770.1 129.3 L770.1 128.7 L770.2 129.0 L770.2 129.5 L770.3 129.6 L770.3 129.2 L770.4 129.0 L770.4 129.3 L770.5 129.1 L770.5 128.1 L770.6 127.9 L770.7 128.9 L770.7 129.4 L770.8 129.6 L770.8 129.2 L770.9 129.3 L770.9 129.8 L771.0 129.3 L771.0 126.8 L771.1 127.8 L771.1 130.1 L771.2 130.7 L771.3 128.9 L771.3 128.6 L771.4 128.6 L771.4 128.4 L771.5 129.1 L771.5 130.0 L771.6 129.6 L771.6 128.5 L771.7 127.9 L771.7 127.5 L771.8 129.7 L771.8 131.8 L771.9 131.0 L772.0 128.3 L772.0 128.3 L772.1 128.9 L772.1 128.4 L772.2 127.7 L772.2 127.7 L772.3 129.5 L772.3 130.7 L772.4 129.5 L772.4 128.2 L772.5 128.4 L772.6 129.1 L772.6 129.1 L772.7 129.3 L772.7 129.2 L772.8 129.6 L772.8 129.6 L772.9 128.7 L772.9 128.2 L773.0 129.5 L773.0 129.7 L773.1 127.7 L773.1 128.4 L773.2 129.7 L773.3 129.2 L773.3 129.6 L773.4 129.7 L773.4 129.0 L773.5 127.4 L773.5 127.9 L773.6 129.8 L773.6 129.8 L773.7 129.3 L773.7 129.0 L773.8 129.3 L773.9 129.4 L773.9 129.2 L774.0 128.5 L774.0 128.5 L774.1 128.4 L774.1 128.9 L774.2 129.5 L774.2 129.6 L774.3 129.0 L774.3 129.2 L774.4 128.1 L774.4 128.5 L774.5 129.6 L774.6 128.9 L774.6 128.0 L774.7 129.0 L774.7 129.5 L774.8 129.1 L774.8 129.5 L774.9 129.2 L774.9 128.7 L775.0 129.1 L775.0 129.1 L775.1 128.8 L775.2 128.5 L775.2 129.0 L775.3 129.8 L775.3 129.9 L775.4 128.0 L775.4 127.6 L775.5 129.1 L775.5 129.9 L775.6 129.4 L775.6 128.8 L775.7 129.3 L775.7 129.4 L775.8 129.0 L775.9 128.7 L775.9 129.0 L776.0 129.2 L776.0 128.8 L776.1 128.8 L776.1 128.7 L776.2 128.5 L776.2 129.3 L776.3 129.6 L776.3 128.8 L776.4 128.9 L776.5 129.2 L776.5 128.7 L776.6 128.7 L776.6 129.4 L776.7 129.7 L776.7 128.8 L776.8 128.8 L776.8 129.4 L776.9 128.9 L776.9 128.9 L777.0 128.5 L777.0 128.9 L777.1 129.0 L777.2 129.0 L777.2 128.8 L777.3 129.5 L777.3 129.4 L777.4 129.1 L777.4 128.7 L777.5 128.7 L777.5 128.7 L777.6 128.9 L777.6 129.2 L777.7 129.5 L777.8 129.3 L777.8 129.0 L777.9 128.5 L777.9 128.9 L778.0 129.8 L778.0 129.5 L778.1 128.8 L778.1 128.5 L778.2 128.9 L778.2 129.6 L778.3 129.3 L778.3 128.5 L778.4 128.8 L778.5 129.1 L778.5 128.6 L778.6 128.6 L778.6 129.4 L778.7 130.2 L778.7 129.2 L778.8 127.9 L778.8 128.6 L778.9 129.5 L778.9 129.7 L779.0 128.9 L779.1 128.4 L779.1 128.7 L779.2 129.3 L779.2 128.9 L779.3 128.3 L779.3 129.1 L779.4 129.9 L779.4 128.9 L779.5 128.5 L779.5 129.3 L779.6 129.0 L779.6 128.5 L779.7 129.4 L779.8 130.1 L779.8 128.8 L779.9 128.8 L779.9 128.9 L780.0 128.4 L780.0 128.0 L780.1 129.0 L780.1 130.0 L780.2 129.6 L780.2 128.6 L780.3 128.7 L780.3 128.6 L780.4 128.6 L780.5 129.4 L780.5 129.8 L780.6 129.8 L780.6 129.9 L780.7 128.4 L780.7 126.4 L780.8 128.6 L780.8 130.0 L780.9 128.9 L780.9 128.3 L781.0 129.8 L781.1 129.0 L781.1 128.7 L781.2 128.5 L781.2 128.6 L781.3 129.9 L781.3 130.0 L781.4 129.0 L781.4 128.6 L781.5 128.6 L781.5 128.9 L781.6 129.6 L781.6 129.4 L781.7 128.9 L781.8 128.9 L781.8 128.2 L781.9 129.0 L781.9 129.3 L782.0 129.6 L782.0 129.0 L782.1 128.8 L782.1 128.2 L782.2 129.1 L782.2 129.0 L782.3 129.5 L782.4 129.3 L782.4 128.8 L782.5 128.7 L782.5 128.9 L782.6 129.3 L782.6 129.2 L782.7 128.5 L782.7 128.3 L782.8 129.2 L782.8 129.4 L782.9 129.2 L782.9 129.2 L783.0 128.7 L783.1 128.9 L783.1 129.5 L783.2 129.5 L783.2 128.5 L783.3 128.2 L783.3 128.8 L783.4 129.0 L783.4 128.9 L783.5 129.1 L783.5 129.2 L783.6 129.5 L783.7 129.2 L783.7 128.3 L783.8 128.5 L783.8 129.4 L783.9 129.6 L783.9 128.6 L784.0 128.7 L784.0 129.3 L784.1 129.1 L784.1 128.7 L784.2 129.2 L784.2 129.0 L784.3 129.0 L784.4 128.9 L784.4 129.2 L784.5 129.4 L784.5 129.2 L784.6 128.4 L784.6 128.7 L784.7 129.0 L784.7 129.2 L784.8 129.0 L784.8 129.1 L784.9 129.2 L785.0 129.1 L785.0 128.8 L785.1 128.9 L785.1 129.2 L785.2 128.9 L785.2 128.6 L785.3 128.6 L785.3 129.2 L785.4 129.3 L785.4 128.9 L785.5 128.8 L785.5 128.1 L785.6 128.4 L785.7 129.7 L785.7 130.6 L785.8 129.7 L785.8 128.0 L785.9 129.0 L785.9 129.9 L786.0 129.3 L786.0 127.0 L786.1 127.6 L786.1 129.3 L786.2 130.6 L786.3 129.6 L786.3 128.4 L786.4 128.8 L786.4 129.4 L786.5 129.0 L786.5 128.7 L786.6 128.7 L786.6 128.7 L786.7 129.2 L786.7 130.0 L786.8 129.3 L786.8 128.5 L786.9 128.9 L787.0 129.2 L787.0 128.5 L787.1 128.6 L787.1 129.3 L787.2 129.0 L787.2 128.8 L787.3 129.4 L787.3 129.1 L787.4 128.9 L787.4 129.2 L787.5 129.2 L787.6 128.7 L787.6 128.8 L787.7 129.2 L787.7 129.0 L787.8 128.8 L787.8 128.8 L787.9 129.2 L787.9 129.5 L788.0 129.5 L788.0 128.8 L788.1 129.1 L788.1 128.9 L788.2 128.7 L788.3 129.1 L788.3 129.2 L788.4 128.7 L788.4 128.4 L788.5 128.8 L788.5 129.2 L788.6 129.3 L788.6 129.3 L788.7 128.9 L788.7 128.4 L788.8 128.5 L788.9 129.3 L788.9 129.4 L789.0 129.1 L789.0 129.0 L789.1 129.3 L789.1 129.1 L789.2 129.1 L789.2 129.1 L789.3 128.8 L789.3 128.5 L789.4 128.9 L789.4 129.1 L789.5 129.1" fill="none" stroke="#006400" stroke-width="0.42" stroke-linejoin="bevel"/>
<rect x="507.2" y="100.3" width="283.1" height="53.0" fill="none" stroke="#000" stroke-width="1.4"/>
<g stroke="#000" stroke-width="0.8">
<line x1="512.4" y1="100.3" x2="512.4" y2="95.0"/>
<line x1="512.4" y1="153.3" x2="512.4" y2="158.8"/>
<line x1="536.1" y1="100.3" x2="536.1" y2="95.0"/>
<line x1="536.1" y1="153.3" x2="536.1" y2="158.8"/>
<line x1="559.7" y1="100.3" x2="559.7" y2="95.0"/>
<line x1="559.7" y1="153.3" x2="559.7" y2="158.8"/>
<line x1="583.4" y1="100.3" x2="583.4" y2="95.0"/>
<line x1="583.4" y1="153.3" x2="583.4" y2="158.8"/>
<line x1="607.0" y1="100.3" x2="607.0" y2="95.0"/>
<line x1="607.0" y1="153.3" x2="607.0" y2="158.8"/>
<line x1="630.7" y1="100.3" x2="630.7" y2="95.0"/>
<line x1="630.7" y1="153.3" x2="630.7" y2="158.8"/>
<line x1="654.4" y1="100.3" x2="654.4" y2="95.0"/>
<line x1="654.4" y1="153.3" x2="654.4" y2="158.8"/>
<line x1="678.0" y1="100.3" x2="678.0" y2="95.0"/>
<line x1="678.0" y1="153.3" x2="678.0" y2="158.8"/>
<line x1="701.7" y1="100.3" x2="701.7" y2="95.0"/>
<line x1="701.7" y1="153.3" x2="701.7" y2="158.8"/>
<line x1="725.3" y1="100.3" x2="725.3" y2="95.0"/>
<line x1="725.3" y1="153.3" x2="725.3" y2="158.8"/>
<line x1="749.0" y1="100.3" x2="749.0" y2="95.0"/>
<line x1="749.0" y1="153.3" x2="749.0" y2="158.8"/>
<line x1="772.7" y1="100.3" x2="772.7" y2="95.0"/>
<line x1="772.7" y1="153.3" x2="772.7" y2="158.8"/>
</g>
<g font-family="Liberation Sans, sans-serif" font-size="10.5" fill="#111" text-anchor="middle">
<text x="512.4" y="170.5">30</text>
<text x="536.1" y="170.5">35</text>
<text x="559.7" y="170.5">40</text>
<text x="583.4" y="170.5">45</text>
<text x="607.0" y="170.5">50</text>
<text x="630.7" y="170.5">55</text>
<text x="654.4" y="170.5">00</text>
<text x="678.0" y="170.5">05</text>
<text x="701.7" y="170.5">10</text>
<text x="725.3" y="170.5">15</text>
<text x="749.0" y="170.5">20</text>
<text x="772.7" y="170.5">25</text>
</g>
<text x="799.0" y="111.9" font-family="Liberation Sans, sans-serif" font-size="10" font-weight="bold" fill="#0000ff">Cariari</text>
<text x="799.0" y="134.6" font-family="Liberation Sans, sans-serif" font-size="10" fill="#111">Acel. Max. 0.0</text>
<text x="799.0" y="152.9" font-family="Liberation Sans, sans-serif" font-size="10" fill="#111">Int JMA: 0</text>
<path d="M508.0 211.7 L508.1 193.7 L508.1 190.3 L508.2 213.0 L508.2 222.5 L508.3 216.4 L508.3 207.1 L508.4 211.7 L508.4 209.0 L508.5 207.9 L508.5 221.3 L508.6 224.6 L508.6 215.7 L508.7 200.8 L508.8 197.2 L508.8 202.6 L508.9 209.6 L508.9 219.6 L509.0 210.3 L509.0 204.2 L509.1 215.1 L509.1 226.3 L509.2 210.3 L509.2 195.8 L509.3 205.8 L509.4 221.2 L509.4 213.3 L509.5 203.4 L509.5 211.1 L509.6 225.3 L509.6 221.1 L509.7 194.8 L509.7 195.4 L509.8 207.0 L509.8 206.3 L509.9 211.3 L509.9 222.4 L510.0 224.8 L510.1 210.0 L510.1 202.4 L510.2 212.3 L510.2 213.5 L510.3 204.7 L510.3 208.7 L510.4 215.1 L510.4 212.4 L510.5 210.4 L510.5 206.8 L510.6 213.4 L510.7 220.6 L510.7 217.6 L510.8 210.6 L510.8 211.4 L510.9 210.2 L510.9 204.9 L511.0 207.8 L511.0 207.3 L511.1 208.6 L511.1 210.7 L511.2 220.8 L511.2 218.7 L511.3 210.0 L511.4 208.9 L511.4 207.8 L511.5 208.1 L511.5 210.2 L511.6 210.0 L511.6 213.6 L511.7 217.4 L511.7 207.9 L511.8 207.2 L511.8 213.0 L511.9 216.9 L512.0 210.9 L512.0 209.7 L512.1 209.5 L512.1 208.4 L512.2 204.9 L512.2 214.4 L512.3 210.8 L512.3 211.4 L512.4 213.4 L512.4 210.4 L512.5 210.5 L512.5 216.0 L512.6 210.2 L512.7 202.4 L512.7 204.1 L512.8 212.8 L512.8 216.9 L512.9 213.7 L512.9 209.6 L513.0 213.5 L513.0 211.7 L513.1 211.3 L513.1 212.7 L513.2 209.0 L513.3 210.8 L513.3 219.7 L513.4 213.0 L513.4 201.1 L513.5 207.2 L513.5 219.9 L513.6 217.8 L513.6 206.9 L513.7 204.1 L513.7 209.0 L513.8 217.8 L513.8 215.0 L513.9 206.2 L514.0 207.7 L514.0 213.3 L514.1 215.6 L514.1 209.9 L514.2 213.1 L514.2 216.5 L514.3 211.1 L514.3 204.7 L514.4 214.1 L514.4 211.9 L514.5 209.4 L514.6 206.3 L514.6 207.0 L514.7 215.3 L514.7 218.8 L514.8 212.0 L514.8 209.0 L514.9 207.9 L514.9 208.8 L515.0 215.9 L515.0 223.3 L515.1 213.3 L515.1 203.0 L515.2 208.6 L515.3 211.6 L515.3 211.2 L515.4 215.6 L515.4 209.4 L515.5 202.3 L515.5 210.3 L515.6 220.2 L515.6 218.1 L515.7 214.1 L515.7 207.6 L515.8 211.0 L515.9 213.5 L515.9 211.4 L516.0 212.1 L516.0 212.1 L516.1 208.4 L516.1 212.0 L516.2 210.7 L516.2 211.4 L516.3 214.0 L516.3 214.3 L516.4 209.5 L516.4 211.5 L516.5 214.7 L516.6 215.2 L516.6 209.5 L516.7 210.7 L516.7 211.6 L516.8 213.2 L516.8 219.0 L516.9 213.0 L516.9 205.2 L517.0 212.8 L517.0 214.1 L517.1 212.8 L517.2 213.9 L517.2 211.5 L517.3 209.1 L517.3 212.5 L517.4 213.1 L517.4 209.9 L517.5 211.3 L517.5 216.7 L517.6 218.9 L517.6 215.1 L517.7 213.8 L517.7 210.9 L517.8 208.5 L517.9 209.5 L517.9 209.6 L518.0 212.2 L518.0 215.5 L518.1 217.7 L518.1 215.9 L518.2 210.8 L518.2 209.5 L518.3 210.9 L518.3 216.1 L518.4 217.5 L518.4 214.5 L518.5 211.2 L518.6 218.4 L518.6 216.1 L518.7 207.9 L518.7 206.9 L518.8 212.8 L518.8 215.2 L518.9 214.1 L518.9 214.2 L519.0 215.3 L519.0 215.5 L519.1 212.9 L519.2 210.1 L519.2 211.0 L519.3 211.9 L519.3 213.7 L519.4 218.4 L519.4 214.9 L519.5 213.9 L519.5 210.7 L519.6 211.7 L519.6 214.7 L519.7 214.2 L519.7 211.3 L519.8 211.6 L519.9 212.2 L519.9 212.9 L520.0 214.4 L520.0 217.7 L520.1 214.7 L520.1 211.4 L520.2 203.1 L520.2 212.0 L520.3 221.2 L520.3 217.9 L520.4 213.5 L520.5 214.1 L520.5 208.8 L520.6 214.6 L520.6 222.5 L520.7 211.5 L520.7 202.5 L520.8 206.1 L520.8 213.0 L520.9 208.5 L520.9 217.5 L521.0 228.8 L521.0 218.8 L521.1 205.3 L521.2 211.6 L521.2 217.9 L521.3 212.3 L521.3 213.5 L521.4 211.7 L521.4 208.2 L521.5 209.0 L521.5 199.2 L521.6 206.8 L521.6 221.1 L521.7 217.0 L521.8 209.0 L521.8 212.1 L521.9 217.9 L521.9 229.8 L522.0 216.8 L522.0 201.8 L522.1 210.7 L522.1 214.5 L522.2 213.2 L522.2 215.6 L522.3 215.9 L522.3 203.5 L522.4 211.9 L522.5 215.0 L522.5 211.1 L522.6 214.2 L522.6 216.0 L522.7 218.0 L522.7 215.0 L522.8 211.8 L522.8 209.9 L522.9 212.1 L522.9 206.1 L523.0 211.2 L523.1 216.7 L523.1 218.2 L523.2 214.0 L523.2 214.1 L523.3 211.6 L523.3 222.1 L523.4 222.2 L523.4 205.3 L523.5 202.6 L523.5 214.8 L523.6 222.3 L523.6 215.9 L523.7 201.1 L523.8 203.6 L523.8 211.5 L523.9 213.6 L523.9 212.7 L524.0 217.7 L524.0 216.4 L524.1 218.7 L524.1 215.2 L524.2 206.3 L524.2 207.1 L524.3 216.4 L524.4 220.9 L524.4 210.8 L524.5 204.6 L524.5 215.2 L524.6 220.7 L524.6 213.9 L524.7 216.2 L524.7 214.6 L524.8 209.2 L524.8 206.5 L524.9 213.2 L524.9 212.6 L525.0 207.7 L525.1 213.8 L525.1 215.1 L525.2 214.7 L525.2 214.7 L525.3 224.8 L525.3 217.0 L525.4 211.8 L525.4 208.8 L525.5 203.4 L525.5 202.8 L525.6 219.3 L525.7 228.5 L525.7 217.2 L525.8 212.7 L525.8 212.2 L525.9 205.8 L525.9 214.2 L526.0 224.5 L526.0 208.9 L526.1 197.9 L526.1 213.5 L526.2 220.6 L526.2 216.0 L526.3 211.5 L526.4 211.5 L526.4 210.5 L526.5 218.6 L526.5 221.2 L526.6 213.7 L526.6 203.0 L526.7 208.1 L526.7 209.5 L526.8 217.2 L526.8 218.6 L526.9 213.3 L527.0 212.7 L527.0 215.9 L527.1 214.6 L527.1 211.2 L527.2 209.2 L527.2 204.4 L527.3 210.0 L527.3 217.3 L527.4 218.6 L527.4 214.5 L527.5 214.3 L527.5 208.4 L527.6 209.7 L527.7 213.9 L527.7 214.6 L527.8 212.6 L527.8 212.4 L527.9 214.9 L527.9 212.9 L528.0 213.1 L528.0 212.6 L528.1 213.8 L528.1 207.7 L528.2 211.5 L528.3 213.5 L528.3 216.2 L528.4 214.3 L528.4 207.9 L528.5 205.3 L528.5 213.6 L528.6 218.5 L528.6 210.6 L528.7 212.6 L528.7 212.3 L528.8 212.2 L528.8 215.1 L528.9 218.2 L529.0 211.6 L529.0 210.2 L529.1 214.1 L529.1 211.1 L529.2 202.2 L529.2 214.4 L529.3 226.0 L529.3 225.2 L529.4 218.8 L529.4 207.6 L529.5 197.4 L529.5 200.8 L529.6 216.7 L529.7 223.4 L529.7 217.3 L529.8 202.6 L529.8 209.0 L529.9 221.7 L529.9 222.3 L530.0 205.0 L530.0 197.9 L530.1 205.9 L530.1 213.9 L530.2 215.0 L530.3 219.9 L530.3 220.4 L530.4 213.2 L530.4 208.5 L530.5 204.4 L530.5 208.0 L530.6 210.7 L530.6 215.0 L530.7 218.2 L530.7 208.5 L530.8 198.4 L530.8 209.8 L530.9 216.2 L531.0 209.3 L531.0 213.4 L531.1 225.9 L531.1 221.0 L531.2 206.4 L531.2 209.9 L531.3 214.1 L531.3 205.7 L531.4 207.5 L531.4 215.8 L531.5 213.1 L531.6 205.7 L531.6 213.2 L531.7 220.1 L531.7 219.1 L531.8 212.1 L531.8 206.5 L531.9 212.7 L531.9 211.0 L532.0 203.3 L532.0 210.5 L532.1 216.7 L532.1 214.1 L532.2 212.2 L532.3 216.1 L532.3 211.3 L532.4 209.8 L532.4 212.9 L532.5 212.9 L532.5 210.2 L532.6 213.6 L532.6 211.4 L532.7 208.2 L532.7 209.7 L532.8 211.0 L532.9 215.2 L532.9 220.1 L533.0 211.2 L533.0 206.1 L533.1 209.1 L533.1 214.2 L533.2 218.9 L533.2 215.1 L533.3 207.2 L533.3 208.2 L533.4 211.1 L533.4 211.1 L533.5 211.2 L533.6 213.1 L533.6 216.2 L533.7 216.1 L533.7 212.2 L533.8 208.1 L533.8 207.4 L533.9 211.9 L533.9 214.4 L534.0 216.5 L534.0 214.4 L534.1 211.2 L534.2 205.6 L534.2 206.2 L534.3 216.5 L534.3 216.6 L534.4 206.1 L534.4 208.3 L534.5 215.1 L534.5 211.1 L534.6 212.0 L534.6 210.0 L534.7 207.7 L534.7 213.5 L534.8 214.5 L534.9 206.3 L534.9 208.5 L535.0 209.2 L535.0 214.0 L535.1 211.4 L535.1 209.8 L535.2 209.6 L535.2 214.4 L535.3 212.5 L535.3 208.6 L535.4 210.4 L535.5 210.8 L535.5 208.9 L535.6 209.8 L535.6 210.7 L535.7 211.6 L535.7 216.1 L535.8 214.1 L535.8 211.8 L535.9 209.8 L535.9 205.0 L536.0 202.8 L536.0 213.8 L536.1 219.2 L536.2 213.1 L536.2 208.1 L536.3 211.6 L536.3 207.0 L536.4 207.4 L536.4 215.8 L536.5 220.4 L536.5 209.7 L536.6 204.3 L536.6 210.8 L536.7 215.4 L536.8 212.1 L536.8 206.7 L536.9 207.5 L536.9 212.5 L537.0 215.2 L537.0 215.7 L537.1 212.2 L537.1 204.9 L537.2 205.3 L537.2 211.7 L537.3 214.0 L537.3 212.7 L537.4 212.1 L537.5 211.5 L537.5 212.2 L537.6 208.8 L537.6 205.2 L537.7 207.4 L537.7 211.9 L537.8 212.0 L537.8 211.1 L537.9 215.2 L537.9 214.8 L538.0 208.9 L538.1 205.0 L538.1 208.4 L538.2 214.6 L538.2 218.0 L538.3 207.9 L538.3 208.5 L538.4 217.5 L538.4 213.8 L538.5 207.8 L538.5 211.2 L538.6 209.3 L538.6 213.5 L538.7 216.5 L538.8 206.0 L538.8 202.9 L538.9 216.0 L538.9 220.8 L539.0 215.0 L539.0 207.3 L539.1 200.9 L539.1 204.5 L539.2 216.7 L539.2 216.3 L539.3 208.0 L539.3 210.9 L539.4 216.7 L539.5 214.8 L539.5 207.8 L539.6 209.9 L539.6 209.7 L539.7 211.8 L539.7 217.3 L539.8 225.9 L539.8 224.4 L539.9 205.3 L539.9 201.2 L540.0 210.2 L540.1 208.9 L540.1 211.1 L540.2 214.1 L540.2 222.5 L540.3 219.7 L540.3 209.1 L540.4 204.0 L540.4 217.2 L540.5 215.9 L540.5 209.7 L540.6 209.5 L540.6 208.8 L540.7 214.7 L540.8 220.2 L540.8 214.4 L540.9 208.4 L540.9 209.8 L541.0 216.2 L541.0 216.7 L541.1 212.3 L541.1 211.0 L541.2 217.8 L541.2 218.2 L541.3 212.9 L541.4 212.6 L541.4 215.9 L541.5 214.7 L541.5 210.3 L541.6 209.8 L541.6 212.1 L541.7 215.1 L541.7 216.2 L541.8 214.7 L541.8 211.3 L541.9 211.2 L541.9 213.0 L542.0 217.0 L542.1 214.2 L542.1 212.5 L542.2 211.6 L542.2 213.3 L542.3 214.5 L542.3 218.3 L542.4 214.4 L542.4 209.9 L542.5 209.9 L542.5 214.0 L542.6 218.7 L542.7 218.0 L542.7 206.6 L542.8 208.1 L542.8 215.7 L542.9 215.1 L542.9 211.5 L543.0 216.1 L543.0 217.2 L543.1 211.6 L543.1 213.3 L543.2 217.9 L543.2 215.5 L543.3 211.9 L543.4 216.1 L543.4 213.8 L543.5 209.8 L543.5 212.8 L543.6 214.4 L543.6 214.4 L543.7 213.0 L543.7 215.0 L543.8 214.4 L543.8 216.1 L543.9 214.9 L544.0 213.2 L544.0 212.4 L544.1 213.9 L544.1 209.9 L544.2 214.0 L544.2 218.1 L544.3 216.8 L544.3 216.2 L544.4 220.6 L544.4 211.2 L544.5 208.1 L544.5 212.5 L544.6 215.8 L544.7 209.1 L544.7 214.8 L544.8 212.6 L544.8 206.7 L544.9 211.5 L544.9 220.6 L545.0 217.9 L545.0 214.1 L545.1 214.6 L545.1 213.0 L545.2 210.4 L545.3 209.5 L545.3 217.2 L545.4 219.0 L545.4 212.3 L545.5 207.4 L545.5 213.7 L545.6 220.8 L545.6 214.9 L545.7 209.1 L545.7 212.7 L545.8 217.3 L545.8 213.2 L545.9 209.3 L546.0 211.2 L546.0 217.3 L546.1 219.0 L546.1 214.0 L546.2 212.4 L546.2 212.6 L546.3 212.4 L546.3 212.5 L546.4 214.2 L546.4 215.3 L546.5 213.4 L546.6 210.2 L546.6 212.4 L546.7 214.7 L546.7 214.7 L546.8 213.9 L546.8 212.9 L546.9 210.6 L546.9 214.6 L547.0 216.2 L547.0 212.3 L547.1 213.6 L547.1 214.4 L547.2 210.9 L547.3 209.8 L547.3 215.6 L547.4 213.7 L547.4 212.3 L547.5 213.6 L547.5 212.5 L547.6 210.4 L547.6 212.7 L547.7 216.1 L547.7 216.1 L547.8 213.9 L547.9 211.9 L547.9 211.3 L548.0 212.2 L548.0 213.3 L548.1 216.4 L548.1 212.1 L548.2 205.6 L548.2 211.2 L548.3 219.1 L548.3 212.5 L548.4 210.2 L548.4 213.3 L548.5 213.3 L548.6 214.4 L548.6 214.3 L548.7 209.9 L548.7 209.8 L548.8 210.3 L548.8 210.3 L548.9 213.0 L548.9 213.7 L549.0 211.2 L549.0 211.6 L549.1 209.8 L549.2 209.7 L549.2 212.3 L549.3 215.5 L549.3 214.3 L549.4 211.0 L549.4 208.0 L549.5 211.6 L549.5 212.9 L549.6 209.2 L549.6 210.2 L549.7 214.7 L549.7 214.2 L549.8 211.2 L549.9 211.0 L549.9 211.6 L550.0 211.0 L550.0 210.0 L550.1 209.9 L550.1 211.3 L550.2 213.2 L550.2 215.4 L550.3 211.3 L550.3 208.3 L550.4 209.1 L550.4 212.0 L550.5 211.9 L550.6 213.1 L550.6 212.3 L550.7 212.0 L550.7 210.1 L550.8 212.1 L550.8 213.1 L550.9 209.9 L550.9 210.8 L551.0 213.3 L551.0 211.6 L551.1 209.2 L551.2 210.1 L551.2 214.5 L551.3 212.0 L551.3 210.1 L551.4 211.9 L551.4 211.8 L551.5 213.0 L551.5 213.4 L551.6 211.8 L551.6 209.4 L551.7 208.6 L551.7 210.5 L551.8 215.4 L551.9 213.0 L551.9 210.2 L552.0 212.9 L552.0 211.6 L552.1 209.3 L552.1 211.3 L552.2 212.3 L552.2 210.3 L552.3 212.4 L552.3 216.6 L552.4 212.2 L552.5 203.7 L552.5 207.9 L552.6 218.3 L552.6 216.6 L552.7 211.5 L552.7 212.1 L552.8 210.6 L552.8 213.1 L552.9 214.0 L552.9 212.6 L553.0 211.2 L553.0 212.9 L553.1 210.1 L553.2 210.3 L553.2 214.1 L553.3 213.0 L553.3 209.9 L553.4 214.9 L553.4 217.2 L553.5 213.0 L553.5 208.5 L553.6 209.8 L553.6 210.3 L553.7 210.9 L553.8 214.3 L553.8 215.1 L553.9 213.2 L553.9 215.0 L554.0 209.2 L554.0 208.3 L554.1 214.2 L554.1 218.8 L554.2 212.6 L554.2 209.3 L554.3 210.0 L554.3 212.1 L554.4 212.9 L554.5 216.7 L554.5 215.9 L554.6 212.3 L554.6 210.7 L554.7 214.4 L554.7 210.2 L554.8 207.8 L554.8 212.8 L554.9 216.2 L554.9 213.9 L555.0 210.9 L555.1 213.1 L555.1 214.6 L555.2 210.8 L555.2 209.4 L555.3 211.3 L555.3 214.9 L555.4 215.0 L555.4 213.6 L555.5 212.2 L555.5 212.8 L555.6 211.6 L555.6 211.6 L555.7 210.6 L555.8 211.3 L555.8 213.0 L555.9 213.0 L555.9 213.3 L556.0 214.1 L556.0 211.9 L556.1 209.0 L556.1 211.1 L556.2 215.2 L556.2 212.2 L556.3 210.2 L556.4 212.0 L556.4 213.8 L556.5 213.4 L556.5 210.7 L556.6 209.9 L556.6 214.9 L556.7 214.9 L556.7 211.4 L556.8 210.5 L556.8 213.0 L556.9 213.8 L556.9 212.6 L557.0 209.5 L557.1 210.2 L557.1 212.7 L557.2 213.1 L557.2 211.7 L557.3 209.2 L557.3 209.1 L557.4 214.0 L557.4 215.9 L557.5 213.2 L557.5 212.0 L557.6 210.9 L557.7 208.7 L557.7 211.1 L557.8 212.2 L557.8 212.3 L557.9 211.0 L557.9 210.9 L558.0 210.6 L558.0 210.5 L558.1 209.4 L558.1 210.5 L558.2 210.4 L558.2 213.6 L558.3 216.2 L558.4 214.3 L558.4 208.1 L558.5 206.8 L558.5 208.9 L558.6 215.3 L558.6 211.6 L558.7 209.5 L558.7 207.7 L558.8 212.4 L558.8 215.1 L558.9 213.3 L559.0 208.0 L559.0 207.7 L559.1 210.4 L559.1 214.9 L559.2 213.4 L559.2 209.1 L559.3 208.9 L559.3 210.4 L559.4 214.2 L559.4 213.8 L559.5 208.0 L559.5 208.5 L559.6 213.4 L559.7 211.4 L559.7 213.5 L559.8 213.2 L559.8 207.6 L559.9 209.7 L559.9 213.1 L560.0 207.7 L560.0 209.1 L560.1 212.4 L560.1 212.1 L560.2 211.9 L560.2 209.7 L560.3 205.8 L560.4 209.3 L560.4 216.9 L560.5 217.2 L560.5 211.4 L560.6 208.7 L560.6 212.0 L560.7 215.4 L560.7 211.4 L560.8 206.1 L560.8 210.0 L560.9 216.3 L561.0 210.6 L561.0 207.9 L561.1 210.8 L561.1 211.9 L561.2 212.5 L561.2 209.7 L561.3 214.6 L561.3 212.3 L561.4 208.8 L561.4 210.2 L561.5 212.2 L561.5 214.5 L561.6 215.2 L561.7 210.3 L561.7 209.5 L561.8 214.2 L561.8 212.0 L561.9 211.2 L561.9 213.9 L562.0 214.9 L562.0 209.9 L562.1 210.6 L562.1 212.2 L562.2 209.3 L562.3 210.0 L562.3 211.7 L562.4 213.2 L562.4 216.4 L562.5 215.1 L562.5 212.3 L562.6 211.1 L562.6 212.1 L562.7 211.8 L562.7 212.2 L562.8 213.0 L562.8 214.1 L562.9 214.1 L563.0 212.1 L563.0 211.6 L563.1 212.2 L563.1 212.7 L563.2 212.1 L563.2 215.0 L563.3 213.9 L563.3 212.7 L563.4 213.3 L563.4 215.7 L563.5 213.8 L563.6 212.3 L563.6 212.7 L563.7 214.2 L563.7 214.4 L563.8 214.0 L563.8 214.8 L563.9 214.5 L563.9 211.5 L564.0 210.3 L564.0 216.0 L564.1 216.9 L564.1 211.3 L564.2 208.7 L564.3 211.5 L564.3 215.6 L564.4 215.2 L564.4 214.7 L564.5 210.0 L564.5 213.0 L564.6 215.9 L564.6 214.0 L564.7 210.9 L564.7 213.9 L564.8 214.1 L564.9 212.9 L564.9 213.1 L565.0 213.0 L565.0 213.3 L565.1 214.4 L565.1 212.7 L565.2 211.7 L565.2 212.1 L565.3 213.5 L565.3 211.8 L565.4 212.2 L565.4 209.0 L565.5 211.5 L565.6 214.0 L565.6 216.7 L565.7 213.4 L565.7 210.0 L565.8 211.5 L565.8 215.2 L565.9 213.1 L565.9 210.8 L566.0 209.4 L566.0 211.0 L566.1 214.9 L566.2 215.5 L566.2 211.1 L566.3 210.4 L566.3 211.2 L566.4 213.2 L566.4 211.6 L566.5 210.2 L566.5 209.4 L566.6 213.2 L566.6 215.4 L566.7 213.9 L566.7 209.9 L566.8 211.3 L566.9 211.7 L566.9 210.5 L567.0 208.9 L567.0 209.9 L567.1 212.6 L567.1 216.7 L567.2 211.1 L567.2 209.4 L567.3 212.5 L567.3 209.9 L567.4 210.5 L567.5 213.0 L567.5 213.2 L567.6 212.1 L567.6 211.0 L567.7 209.9 L567.7 212.8 L567.8 212.3 L567.8 208.6 L567.9 209.1 L567.9 211.2 L568.0 214.3 L568.0 211.1 L568.1 211.8 L568.2 215.0 L568.2 212.5 L568.3 207.1 L568.3 207.9 L568.4 211.5 L568.4 214.3 L568.5 212.5 L568.5 211.5 L568.6 213.0 L568.6 210.1 L568.7 208.9 L568.8 211.2 L568.8 213.0 L568.9 211.9 L568.9 211.0 L569.0 211.6 L569.0 211.6 L569.1 209.5 L569.1 208.4 L569.2 212.4 L569.2 212.2 L569.3 210.6 L569.3 210.9 L569.4 211.0 L569.5 210.9 L569.5 212.6 L569.6 212.5 L569.6 211.5 L569.7 211.0 L569.7 211.1 L569.8 211.3 L569.8 212.5 L569.9 212.6 L569.9 211.5 L570.0 210.5 L570.1 212.0 L570.1 213.6 L570.2 213.0 L570.2 210.9 L570.3 209.8 L570.3 211.0 L570.4 213.8 L570.4 211.5 L570.5 209.8 L570.5 211.4 L570.6 212.4 L570.6 213.7 L570.7 213.2 L570.8 211.5 L570.8 209.9 L570.9 211.6 L570.9 213.6 L571.0 214.2 L571.0 213.5 L571.1 210.8 L571.1 208.4 L571.2 210.9 L571.2 213.6 L571.3 213.7 L571.3 212.0 L571.4 212.2 L571.5 212.0 L571.5 213.4 L571.6 213.5 L571.6 210.8 L571.7 209.3 L571.7 212.7 L571.8 218.0 L571.8 214.6 L571.9 209.7 L571.9 210.8 L572.0 215.7 L572.1 214.5 L572.1 211.1 L572.2 210.2 L572.2 213.1 L572.3 213.8 L572.3 215.0 L572.4 213.9 L572.4 207.6 L572.5 209.3 L572.5 216.2 L572.6 216.1 L572.6 211.0 L572.7 211.8 L572.8 214.5 L572.8 213.9 L572.9 212.8 L572.9 213.8 L573.0 214.8 L573.0 213.7 L573.1 212.4 L573.1 211.8 L573.2 211.6 L573.2 212.7 L573.3 214.6 L573.4 214.1 L573.4 213.3 L573.5 212.8 L573.5 212.7 L573.6 212.4 L573.6 211.8 L573.7 212.4 L573.7 213.7 L573.8 213.8 L573.8 212.2 L573.9 212.4 L573.9 212.6 L574.0 213.7 L574.1 213.5 L574.1 212.6 L574.2 212.6 L574.2 213.7 L574.3 214.0 L574.3 213.0 L574.4 212.9 L574.4 213.0 L574.5 213.1 L574.5 214.2 L574.6 214.4 L574.7 213.4 L574.7 214.5 L574.8 213.5 L574.8 213.6 L574.9 213.1 L574.9 211.5 L575.0 212.4 L575.0 213.7 L575.1 215.1 L575.1 216.3 L575.2 216.7 L575.2 212.3 L575.3 208.9 L575.4 212.9 L575.4 217.9 L575.5 215.2 L575.5 213.4 L575.6 211.8 L575.6 211.8 L575.7 212.8 L575.7 215.3 L575.8 215.7 L575.8 213.8 L575.9 213.7 L576.0 214.6 L576.0 214.2 L576.1 212.4 L576.1 213.9 L576.2 215.5 L576.2 213.0 L576.3 213.7 L576.3 216.0 L576.4 214.9 L576.4 212.5 L576.5 209.6 L576.5 212.3 L576.6 215.2 L576.7 215.8 L576.7 214.9 L576.8 215.1 L576.8 213.3 L576.9 214.0 L576.9 213.2 L577.0 214.7 L577.0 213.6 L577.1 210.9 L577.1 211.1 L577.2 214.5 L577.3 216.3 L577.3 217.4 L577.4 217.2 L577.4 213.8 L577.5 210.3 L577.5 210.4 L577.6 215.1 L577.6 215.4 L577.7 214.5 L577.7 215.0 L577.8 216.2 L577.8 212.3 L577.9 213.1 L578.0 216.1 L578.0 214.0 L578.1 212.3 L578.1 214.8 L578.2 212.8 L578.2 211.9 L578.3 214.5 L578.3 217.0 L578.4 215.2 L578.4 214.0 L578.5 214.6 L578.6 213.4 L578.6 212.3 L578.7 213.5 L578.7 215.1 L578.8 213.8 L578.8 213.0 L578.9 215.8 L578.9 215.9 L579.0 212.5 L579.0 209.4 L579.1 211.4 L579.1 215.2 L579.2 215.5 L579.3 213.3 L579.3 213.6 L579.4 214.4 L579.4 212.4 L579.5 213.0 L579.5 213.5 L579.6 213.2 L579.6 213.6 L579.7 215.5 L579.7 213.4 L579.8 211.0 L579.9 212.8 L579.9 214.5 L580.0 213.5 L580.0 212.4 L580.1 214.1 L580.1 212.7 L580.2 208.7 L580.2 208.8 L580.3 213.1 L580.3 216.6 L580.4 213.8 L580.4 211.8 L580.5 214.0 L580.6 218.2 L580.6 216.5 L580.7 210.8 L580.7 212.2 L580.8 213.0 L580.8 211.9 L580.9 208.9 L580.9 209.8 L581.0 214.9 L581.0 216.5 L581.1 209.8 L581.1 210.9 L581.2 215.2 L581.3 214.2 L581.3 209.9 L581.4 211.7 L581.4 216.3 L581.5 216.4 L581.5 211.5 L581.6 210.9 L581.6 212.1 L581.7 212.2 L581.7 211.3 L581.8 211.9 L581.9 212.3 L581.9 214.4 L582.0 215.3 L582.0 212.9 L582.1 211.5 L582.1 211.3 L582.2 211.6 L582.2 209.1 L582.3 211.4 L582.3 214.7 L582.4 213.8 L582.4 213.8 L582.5 213.9 L582.6 211.5 L582.6 211.0 L582.7 211.4 L582.7 211.9 L582.8 213.1 L582.8 213.1 L582.9 214.3 L582.9 213.5 L583.0 213.1 L583.0 211.6 L583.1 211.6 L583.2 210.7 L583.2 212.0 L583.3 212.9 L583.3 214.1 L583.4 213.8 L583.4 211.3 L583.5 211.0 L583.5 213.3 L583.6 213.9 L583.6 211.9 L583.7 211.5 L583.7 212.1 L583.8 213.1 L583.9 213.1 L583.9 211.9 L584.0 212.2 L584.0 214.0 L584.1 212.7 L584.1 211.2 L584.2 213.4 L584.2 214.3 L584.3 212.7 L584.3 211.7 L584.4 211.2 L584.5 212.1 L584.5 212.9 L584.6 211.6 L584.6 210.1 L584.7 212.4 L584.7 214.5 L584.8 213.2 L584.8 210.7 L584.9 211.0 L584.9 209.9 L585.0 210.2 L585.0 211.1 L585.1 215.8 L585.2 218.7 L585.2 214.7 L585.3 208.2 L585.3 211.5 L585.4 215.4 L585.4 211.4 L585.5 208.6 L585.5 215.4 L585.6 214.9 L585.6 212.3 L585.7 214.2 L585.8 213.9 L585.8 211.9 L585.9 212.3 L585.9 210.6 L586.0 209.8 L586.0 212.8 L586.1 213.9 L586.1 212.8 L586.2 211.4 L586.2 210.6 L586.3 211.5 L586.3 212.7 L586.4 212.7 L586.5 212.7 L586.5 213.2 L586.6 211.8 L586.6 210.2 L586.7 212.3 L586.7 212.8 L586.8 214.5 L586.8 211.7 L586.9 211.1 L586.9 213.2 L587.0 211.9 L587.1 208.0 L587.1 210.6 L587.2 215.3 L587.2 215.1 L587.3 213.1 L587.3 211.0 L587.4 210.8 L587.4 212.8 L587.5 213.7 L587.5 211.8 L587.6 214.2 L587.6 211.2 L587.7 210.8 L587.8 212.4 L587.8 212.0 L587.9 209.4 L587.9 211.6 L588.0 211.8 L588.0 208.7 L588.1 211.1 L588.1 213.1 L588.2 212.0 L588.2 211.7 L588.3 212.9 L588.4 212.1 L588.4 211.1 L588.5 211.9 L588.5 209.9 L588.6 210.5 L588.6 212.4 L588.7 213.4 L588.7 212.0 L588.8 212.0 L588.8 211.5 L588.9 212.6 L588.9 212.0 L589.0 210.0 L589.1 208.6 L589.1 210.9 L589.2 212.5 L589.2 214.0 L589.3 212.6 L589.3 210.6 L589.4 212.0 L589.4 211.5 L589.5 209.6 L589.5 213.0 L589.6 215.7 L589.7 211.0 L589.7 209.5 L589.8 212.7 L589.8 212.1 L589.9 211.1 L589.9 212.1 L590.0 212.3 L590.0 210.4 L590.1 210.6 L590.1 212.5 L590.2 210.5 L590.2 212.3 L590.3 214.3 L590.4 212.8 L590.4 209.8 L590.5 211.6 L590.5 212.2 L590.6 210.2 L590.6 210.9 L590.7 212.4 L590.7 210.4 L590.8 211.2 L590.8 216.1 L590.9 214.1 L591.0 210.3 L591.0 211.6 L591.1 213.8 L591.1 214.0 L591.2 211.9 L591.2 209.6 L591.3 212.1 L591.3 216.9 L591.4 215.4 L591.4 208.7 L591.5 208.7 L591.5 213.5 L591.6 214.1 L591.7 212.4 L591.7 212.2 L591.8 214.6 L591.8 214.6 L591.9 212.1 L591.9 208.7 L592.0 209.6 L592.0 212.6 L592.1 214.2 L592.1 212.0 L592.2 213.0 L592.2 213.9 L592.3 211.2 L592.4 210.2 L592.4 213.1 L592.5 213.2 L592.5 209.8 L592.6 210.6 L592.6 213.0 L592.7 212.9 L592.7 213.0 L592.8 213.6 L592.8 213.0 L592.9 209.6 L593.0 213.4 L593.0 214.7 L593.1 211.9 L593.1 211.1 L593.2 214.2 L593.2 212.0 L593.3 210.2 L593.3 211.5 L593.4 211.2 L593.4 210.0 L593.5 211.8 L593.5 213.3 L593.6 214.3 L593.7 213.9 L593.7 212.8 L593.8 212.7 L593.8 210.9 L593.9 209.5 L593.9 211.0 L594.0 212.8 L594.0 214.4 L594.1 214.8 L594.1 211.4 L594.2 212.1 L594.3 214.2 L594.3 214.0 L594.4 211.6 L594.4 212.8 L594.5 212.2 L594.5 212.3 L594.6 210.4 L594.6 214.1 L594.7 214.9 L594.7 211.6 L594.8 212.1 L594.8 213.6 L594.9 214.9 L595.0 213.7 L595.0 213.9 L595.1 211.8 L595.1 211.7 L595.2 215.8 L595.2 215.9 L595.3 209.9 L595.3 211.7 L595.4 215.0 L595.4 211.5 L595.5 211.2 L595.6 217.0 L595.6 215.1 L595.7 214.5 L595.7 216.0 L595.8 212.1 L595.8 208.6 L595.9 212.6 L595.9 212.0 L596.0 213.1 L596.0 218.4 L596.1 213.0 L596.1 208.9 L596.2 210.2 L596.3 213.5 L596.3 212.4 L596.4 210.1 L596.4 212.3 L596.5 216.3 L596.5 215.1 L596.6 210.9 L596.6 210.2 L596.7 212.7 L596.7 213.0 L596.8 212.0 L596.9 214.2 L596.9 216.6 L597.0 211.8 L597.0 211.7 L597.1 212.6 L597.1 210.7 L597.2 211.5 L597.2 215.0 L597.3 215.1 L597.3 213.6 L597.4 211.8 L597.4 212.7 L597.5 216.6 L597.6 214.9 L597.6 211.4 L597.7 214.0 L597.7 216.9 L597.8 211.9 L597.8 210.2 L597.9 215.3 L597.9 218.3 L598.0 212.7 L598.0 207.5 L598.1 210.1 L598.2 216.3 L598.2 216.2 L598.3 212.7 L598.3 212.7 L598.4 215.1 L598.4 212.9 L598.5 211.4 L598.5 212.1 L598.6 212.8 L598.6 213.6 L598.7 213.2 L598.7 210.7 L598.8 211.7 L598.9 213.5 L598.9 213.6 L599.0 215.2 L599.0 215.8 L599.1 212.1 L599.1 208.2 L599.2 210.8 L599.2 215.0 L599.3 214.4 L599.3 211.2 L599.4 209.6 L599.5 211.8 L599.5 217.3 L599.6 214.0 L599.6 209.3 L599.7 210.7 L599.7 215.7 L599.8 212.7 L599.8 211.0 L599.9 212.2 L599.9 214.1 L600.0 213.4 L600.0 210.1 L600.1 211.4 L600.2 212.7 L600.2 212.0 L600.3 211.5 L600.3 213.3 L600.4 210.7 L600.4 211.6 L600.5 214.1 L600.5 212.5 L600.6 210.8 L600.6 213.0 L600.7 212.7 L600.8 210.9 L600.8 211.2 L600.9 211.7 L600.9 213.1 L601.0 210.4 L601.0 209.5 L601.1 213.3 L601.1 212.8 L601.2 211.1 L601.2 213.6 L601.3 215.0 L601.3 211.5 L601.4 210.4 L601.5 211.9 L601.5 213.5 L601.6 212.1 L601.6 212.8 L601.7 214.0 L601.7 211.3 L601.8 209.3 L601.8 210.5 L601.9 211.9 L601.9 211.5 L602.0 212.3 L602.0 213.5 L602.1 214.4 L602.2 213.1 L602.2 211.1 L602.3 211.3 L602.3 212.2 L602.4 215.1 L602.4 214.9 L602.5 211.0 L602.5 210.1 L602.6 212.4 L602.6 213.0 L602.7 211.4 L602.8 211.6 L602.8 213.3 L602.9 213.2 L602.9 212.6 L603.0 212.0 L603.0 212.8 L603.1 214.9 L603.1 214.9 L603.2 211.2 L603.2 210.6 L603.3 212.7 L603.3 212.2 L603.4 211.2 L603.5 212.5 L603.5 212.5 L603.6 213.6 L603.6 213.7 L603.7 212.8 L603.7 211.3 L603.8 212.9 L603.8 214.6 L603.9 214.8 L603.9 212.9 L604.0 211.7 L604.1 211.5 L604.1 213.3 L604.2 214.0 L604.2 213.1 L604.3 213.6 L604.3 213.3 L604.4 213.9 L604.4 211.9 L604.5 211.4 L604.5 212.6 L604.6 213.2 L604.6 213.5 L604.7 214.5 L604.8 212.6 L604.8 212.5 L604.9 214.0 L604.9 215.6 L605.0 216.0 L605.0 213.5 L605.1 212.0 L605.1 213.3 L605.2 213.3 L605.2 213.6 L605.3 213.8 L605.4 212.8 L605.4 212.1 L605.5 214.7 L605.5 217.5 L605.6 215.5 L605.6 212.1 L605.7 212.1 L605.7 213.0 L605.8 212.6 L605.8 213.2 L605.9 217.4 L605.9 214.6 L606.0 213.5 L606.1 215.2 L606.1 213.7 L606.2 211.6 L606.2 214.1 L606.3 214.6 L606.3 214.0 L606.4 214.5 L606.4 215.9 L606.5 214.1 L606.5 210.9 L606.6 211.8 L606.7 214.9 L606.7 215.1 L606.8 214.4 L606.8 215.1 L606.9 213.5 L606.9 212.8 L607.0 213.4 L607.0 212.9 L607.1 213.8 L607.1 215.4 L607.2 214.1 L607.2 211.6 L607.3 212.4 L607.4 214.0 L607.4 213.4 L607.5 212.1 L607.5 213.8 L607.6 213.7 L607.6 212.7 L607.7 212.1 L607.7 213.2 L607.8 212.4 L607.8 211.5 L607.9 212.9 L608.0 213.1 L608.0 211.1 L608.1 212.3 L608.1 213.6 L608.2 211.4 L608.2 210.0 L608.3 212.7 L608.3 213.8 L608.4 212.0 L608.4 212.7 L608.5 212.6 L608.5 211.7 L608.6 212.7 L608.7 213.3 L608.7 212.5 L608.8 211.8 L608.8 211.7 L608.9 212.0 L608.9 212.7 L609.0 212.8 L609.0 212.3 L609.1 211.7 L609.1 212.5 L609.2 212.6 L609.3 212.7 L609.3 212.0 L609.4 210.8 L609.4 210.9 L609.5 212.6 L609.5 213.5 L609.6 212.5 L609.6 211.5 L609.7 211.0 L609.7 210.9 L609.8 210.5 L609.8 210.7 L609.9 212.8 L610.0 213.1 L610.0 212.0 L610.1 211.5 L610.1 211.2 L610.2 212.1 L610.2 210.3 L610.3 210.6 L610.3 211.0 L610.4 212.7 L610.4 212.8 L610.5 211.2 L610.6 211.2 L610.6 212.6 L610.7 212.5 L610.7 211.7 L610.8 212.4 L610.8 211.9 L610.9 211.6 L610.9 212.1 L611.0 211.9 L611.0 210.4 L611.1 210.3 L611.1 212.8 L611.2 212.9 L611.3 212.5 L611.3 210.5 L611.4 210.1 L611.4 212.3 L611.5 211.5 L611.5 210.2 L611.6 212.1 L611.6 212.1 L611.7 211.9 L611.7 211.3 L611.8 211.8 L611.9 211.4 L611.9 210.8 L612.0 211.5 L612.0 212.8 L612.1 212.6 L612.1 212.3 L612.2 212.7 L612.2 210.8 L612.3 211.1 L612.3 213.5 L612.4 212.4 L612.4 209.6 L612.5 208.7 L612.6 209.9 L612.6 213.0 L612.7 214.2 L612.7 213.8 L612.8 213.9 L612.8 209.7 L612.9 210.0 L612.9 213.2 L613.0 214.2 L613.0 212.7 L613.1 211.4 L613.1 211.8 L613.2 214.0 L613.3 213.1 L613.3 209.8 L613.4 211.3 L613.4 213.3 L613.5 212.4 L613.5 213.2 L613.6 213.3 L613.6 212.1 L613.7 212.0 L613.7 214.6 L613.8 212.2 L613.9 209.1 L613.9 209.5 L614.0 213.4 L614.0 216.1 L614.1 214.9 L614.1 209.9 L614.2 209.5 L614.2 214.1 L614.3 215.9 L614.3 213.9 L614.4 211.9 L614.4 212.0 L614.5 211.2 L614.6 212.7 L614.6 214.9 L614.7 215.5 L614.7 215.0 L614.8 214.1 L614.8 212.2 L614.9 213.5 L614.9 213.4 L615.0 213.1 L615.0 213.6 L615.1 212.2 L615.2 212.1 L615.2 214.8 L615.3 216.2 L615.3 215.3 L615.4 213.8 L615.4 211.7 L615.5 212.9 L615.5 213.7 L615.6 214.2 L615.6 213.3 L615.7 213.1 L615.7 212.2 L615.8 213.1 L615.9 212.4 L615.9 212.8 L616.0 212.3 L616.0 213.1 L616.1 212.5 L616.1 212.6 L616.2 213.2 L616.2 213.7 L616.3 212.4 L616.3 211.7 L616.4 213.0 L616.5 213.4 L616.5 212.4 L616.6 212.1 L616.6 212.5 L616.7 211.1 L616.7 210.9 L616.8 211.6 L616.8 214.4 L616.9 212.3 L616.9 211.2 L617.0 212.5 L617.0 211.8 L617.1 210.0 L617.2 211.0 L617.2 214.2 L617.3 215.6 L617.3 213.1 L617.4 212.0 L617.4 211.9 L617.5 210.6 L617.5 210.6 L617.6 213.2 L617.6 214.5 L617.7 212.6 L617.8 211.8 L617.8 212.6 L617.9 211.5 L617.9 211.1 L618.0 212.7 L618.0 213.7 L618.1 211.8 L618.1 211.0 L618.2 212.1 L618.2 213.3 L618.3 213.1 L618.3 212.2 L618.4 211.3 L618.5 212.4 L618.5 212.6 L618.6 211.2 L618.6 210.5 L618.7 212.5 L618.7 213.7 L618.8 214.0 L618.8 213.1 L618.9 212.2 L618.9 211.7 L619.0 211.3 L619.1 213.4 L619.1 214.1 L619.2 212.0 L619.2 210.3 L619.3 211.4 L619.3 211.7 L619.4 211.3 L619.4 211.6 L619.5 211.2 L619.5 211.4 L619.6 215.0 L619.6 215.3 L619.7 212.3 L619.8 209.9 L619.8 211.2 L619.9 212.8 L619.9 210.9 L620.0 210.1 L620.0 215.7 L620.1 216.1 L620.1 211.2 L620.2 208.1 L620.2 209.3 L620.3 211.9 L620.4 212.7 L620.4 210.3 L620.5 211.4 L620.5 215.2 L620.6 215.6 L620.6 211.2 L620.7 208.4 L620.7 210.3 L620.8 215.9 L620.8 214.4 L620.9 211.0 L620.9 209.7 L621.0 211.1 L621.1 215.5 L621.1 215.6 L621.2 211.4 L621.2 208.4 L621.3 212.4 L621.3 215.2 L621.4 212.5 L621.4 209.8 L621.5 211.3 L621.5 213.5 L621.6 215.9 L621.7 213.5 L621.7 210.9 L621.8 215.1 L621.8 216.3 L621.9 212.1 L621.9 208.7 L622.0 212.6 L622.0 214.7 L622.1 212.3 L622.1 210.7 L622.2 212.8 L622.2 212.8 L622.3 214.2 L622.4 215.5 L622.4 214.4 L622.5 213.0 L622.5 212.1 L622.6 211.8 L622.6 212.7 L622.7 213.0 L622.7 212.7 L622.8 213.8 L622.8 214.5 L622.9 214.2 L622.9 214.1 L623.0 214.0 L623.1 213.9 L623.1 212.5 L623.2 211.7 L623.2 214.0 L623.3 217.0 L623.3 214.7 L623.4 211.4 L623.4 212.0 L623.5 213.6 L623.5 213.4 L623.6 213.6 L623.7 214.2 L623.7 213.7 L623.8 212.0 L623.8 211.9 L623.9 213.1 L623.9 214.1 L624.0 213.9 L624.0 213.0 L624.1 214.2 L624.1 213.8 L624.2 212.6 L624.2 211.4 L624.3 212.6 L624.4 213.4 L624.4 213.6 L624.5 212.4 L624.5 213.8 L624.6 213.7 L624.6 214.2 L624.7 214.4 L624.7 213.0 L624.8 211.6 L624.8 212.6 L624.9 213.3 L625.0 213.8 L625.0 214.2 L625.1 213.5 L625.1 213.1 L625.2 211.4 L625.2 210.3 L625.3 211.4 L625.3 212.2 L625.4 212.9 L625.4 214.1 L625.5 215.6 L625.5 213.8 L625.6 211.5 L625.7 208.1 L625.7 211.8 L625.8 215.0 L625.8 213.1 L625.9 209.5 L625.9 212.0 L626.0 213.1 L626.0 212.7 L626.1 212.9 L626.1 213.5 L626.2 212.2 L626.3 211.4 L626.3 211.8 L626.4 212.5 L626.4 211.4 L626.5 212.6 L626.5 212.8 L626.6 212.8 L626.6 210.7 L626.7 211.2 L626.7 211.5 L626.8 212.1 L626.8 214.1 L626.9 213.7 L627.0 211.8 L627.0 212.3 L627.1 211.7 L627.1 211.7 L627.2 213.9 L627.2 214.5 L627.3 210.7 L627.3 210.6 L627.4 210.1 L627.4 209.6 L627.5 212.3 L627.6 214.2 L627.6 211.6 L627.7 210.1 L627.7 208.8 L627.8 209.2 L627.8 212.7 L627.9 212.8 L627.9 211.8 L628.0 211.4 L628.0 212.0 L628.1 211.6 L628.1 209.7 L628.2 210.4 L628.3 212.3 L628.3 212.8 L628.4 210.5 L628.4 209.2 L628.5 211.0 L628.5 213.6 L628.6 211.0 L628.6 210.1 L628.7 211.2 L628.7 210.7 L628.8 209.9 L628.9 210.8 L628.9 213.1 L629.0 214.8 L629.0 212.7 L629.1 209.6 L629.1 212.5 L629.2 211.7 L629.2 211.4 L629.3 213.9 L629.3 213.7 L629.4 210.7 L629.4 212.1 L629.5 211.8 L629.6 210.8 L629.6 210.4 L629.7 211.7 L629.7 212.4 L629.8 213.1 L629.8 210.7 L629.9 210.1 L629.9 210.1 L630.0 211.9 L630.0 213.9 L630.1 213.4 L630.2 211.8 L630.2 212.4 L630.3 212.7 L630.3 212.5 L630.4 212.1 L630.4 211.7 L630.5 213.9 L630.5 215.3 L630.6 213.3 L630.6 211.1 L630.7 212.1 L630.7 213.4 L630.8 214.1 L630.9 213.3 L630.9 211.2 L631.0 211.8 L631.0 212.7 L631.1 212.6 L631.1 212.5 L631.2 212.7 L631.2 211.8 L631.3 214.0 L631.3 214.1 L631.4 212.2 L631.5 212.4 L631.5 214.3 L631.6 214.8 L631.6 212.1 L631.7 212.8 L631.7 213.8 L631.8 212.6 L631.8 212.2 L631.9 214.4 L631.9 214.0 L632.0 212.1 L632.0 212.6 L632.1 215.4 L632.2 215.1 L632.2 212.6 L632.3 212.6 L632.3 214.6 L632.4 214.1 L632.4 212.2 L632.5 213.3 L632.5 214.9 L632.6 215.3 L632.6 212.7 L632.7 212.6 L632.8 213.5 L632.8 213.5 L632.9 212.0 L632.9 214.0 L633.0 215.5 L633.0 213.4 L633.1 212.4 L633.1 213.1 L633.2 214.5 L633.2 214.8 L633.3 214.4 L633.3 213.0 L633.4 212.9 L633.5 213.7 L633.5 214.8 L633.6 215.1 L633.6 215.1 L633.7 212.6 L633.7 212.4 L633.8 212.8 L633.8 213.7 L633.9 214.9 L633.9 214.4 L634.0 212.6 L634.0 212.3 L634.1 215.5 L634.2 215.0 L634.2 210.5 L634.3 209.3 L634.3 213.2 L634.4 214.6 L634.4 212.7 L634.5 212.7 L634.5 213.3 L634.6 214.3 L634.6 212.0 L634.7 211.2 L634.8 213.1 L634.8 213.2 L634.9 210.9 L634.9 211.8 L635.0 213.3 L635.0 212.2 L635.1 212.1 L635.1 211.8 L635.2 211.4 L635.2 212.7 L635.3 215.0 L635.3 214.9 L635.4 211.4 L635.5 209.8 L635.5 211.5 L635.6 212.3 L635.6 209.7 L635.7 210.8 L635.7 211.5 L635.8 211.7 L635.8 212.9 L635.9 213.9 L635.9 212.3 L636.0 212.0 L636.1 212.7 L636.1 211.5 L636.2 210.3 L636.2 210.7 L636.3 213.5 L636.3 212.0 L636.4 208.8 L636.4 209.1 L636.5 213.2 L636.5 213.0 L636.6 210.2 L636.6 210.3 L636.7 209.7 L636.8 210.6 L636.8 212.5 L636.9 210.9 L636.9 209.7 L637.0 210.8 L637.0 210.0 L637.1 208.6 L637.1 211.5 L637.2 213.2 L637.2 212.2 L637.3 211.2 L637.4 211.0 L637.4 208.7 L637.5 209.7 L637.5 212.8 L637.6 211.5 L637.6 208.7 L637.7 209.1 L637.7 211.9 L637.8 211.7 L637.8 209.4 L637.9 209.6 L637.9 210.2 L638.0 210.9 L638.1 211.4 L638.1 209.5 L638.2 209.5 L638.2 209.5 L638.3 210.4 L638.3 211.4 L638.4 209.8 L638.4 208.4 L638.5 210.2 L638.5 211.7 L638.6 212.4 L638.7 212.0 L638.7 209.7 L638.8 209.6 L638.8 210.0 L638.9 212.8 L638.9 210.2 L639.0 208.8 L639.0 210.3 L639.1 211.8 L639.1 209.3 L639.2 208.9 L639.2 212.4 L639.3 212.7 L639.4 209.5 L639.4 208.7 L639.5 211.8 L639.5 212.0 L639.6 209.1 L639.6 209.5 L639.7 211.9 L639.7 211.7 L639.8 210.7 L639.8 211.6 L639.9 212.3 L640.0 211.8 L640.0 211.1 L640.1 210.5 L640.1 209.3 L640.2 209.1 L640.2 211.9 L640.3 213.3 L640.3 211.6 L640.4 210.3 L640.4 211.6 L640.5 209.9 L640.5 210.8 L640.6 212.4 L640.7 212.4 L640.7 211.1 L640.8 210.5 L640.8 210.0 L640.9 210.7 L640.9 211.6 L641.0 211.5 L641.0 210.9 L641.1 209.5 L641.1 210.2 L641.2 212.4 L641.3 213.1 L641.3 210.6 L641.4 210.5 L641.4 212.4 L641.5 213.1 L641.5 212.4 L641.6 212.0 L641.6 211.2 L641.7 211.5 L641.7 212.5 L641.8 211.9 L641.8 212.5 L641.9 210.9 L642.0 210.0 L642.0 209.8 L642.1 212.6 L642.1 212.7 L642.2 212.1 L642.2 211.8 L642.3 211.4 L642.3 211.4 L642.4 210.6 L642.4 212.1 L642.5 213.9 L642.6 212.4 L642.6 210.5 L642.7 209.9 L642.7 211.0 L642.8 213.6 L642.8 213.8 L642.9 211.0 L642.9 210.2 L643.0 211.6 L643.0 211.2 L643.1 211.6 L643.1 211.6 L643.2 210.7 L643.3 211.7 L643.3 211.7 L643.4 210.8 L643.4 209.4 L643.5 210.3 L643.5 212.1 L643.6 213.2 L643.6 212.5 L643.7 210.8 L643.7 210.4 L643.8 211.4 L643.8 211.6 L643.9 211.5 L644.0 211.5 L644.0 211.0 L644.1 210.8 L644.1 210.0 L644.2 211.1 L644.2 213.2 L644.3 212.1 L644.3 211.2 L644.4 211.3 L644.4 211.4 L644.5 212.4 L644.6 211.2 L644.6 208.5 L644.7 209.5 L644.7 211.7 L644.8 210.8 L644.8 212.9 L644.9 211.4 L644.9 208.1 L645.0 210.2 L645.0 215.2 L645.1 213.8 L645.1 212.0 L645.2 209.3 L645.3 210.0 L645.3 214.0 L645.4 213.5 L645.4 205.4 L645.5 207.7 L645.5 209.7 L645.6 209.6 L645.6 209.6 L645.7 214.3 L645.7 211.6 L645.8 211.4 L645.9 216.4 L645.9 213.8 L646.0 206.9 L646.0 206.4 L646.1 211.8 L646.1 210.7 L646.2 212.0 L646.2 215.8 L646.3 215.5 L646.3 210.3 L646.4 210.6 L646.4 210.3 L646.5 208.7 L646.6 212.1 L646.6 216.3 L646.7 211.3 L646.7 208.8 L646.8 210.4 L646.8 208.6 L646.9 208.3 L646.9 211.5 L647.0 215.1 L647.0 212.5 L647.1 208.8 L647.2 210.2 L647.2 215.9 L647.3 215.3 L647.3 210.8 L647.4 209.4 L647.4 211.3 L647.5 211.5 L647.5 211.2 L647.6 209.9 L647.6 209.5 L647.7 211.6 L647.7 214.8 L647.8 215.2 L647.9 208.8 L647.9 208.2 L648.0 214.3 L648.0 215.2 L648.1 209.9 L648.1 209.5 L648.2 212.9 L648.2 216.4 L648.3 217.2 L648.3 210.4 L648.4 208.6 L648.5 211.5 L648.5 213.9 L648.6 213.3 L648.6 212.5 L648.7 210.6 L648.7 211.6 L648.8 214.8 L648.8 213.9 L648.9 211.9 L648.9 212.0 L649.0 211.9 L649.0 212.6 L649.1 211.4 L649.2 210.5 L649.2 211.7 L649.3 215.5 L649.3 216.9 L649.4 212.0 L649.4 210.2 L649.5 212.9 L649.5 211.8 L649.6 209.9 L649.6 212.3 L649.7 213.8 L649.8 212.5 L649.8 213.3 L649.9 215.2 L649.9 215.3 L650.0 213.3 L650.0 211.5 L650.1 211.4 L650.1 212.3 L650.2 212.6 L650.2 213.3 L650.3 212.7 L650.3 213.8 L650.4 215.3 L650.5 213.2 L650.5 211.3 L650.6 211.6 L650.6 212.3 L650.7 214.2 L650.7 214.8 L650.8 213.7 L650.8 213.0 L650.9 213.2 L650.9 212.5 L651.0 213.8 L651.1 214.1 L651.1 211.9 L651.2 211.9 L651.2 214.7 L651.3 213.7 L651.3 210.8 L651.4 209.8 L651.4 213.8 L651.5 216.0 L651.5 212.7 L651.6 210.4 L651.6 211.4 L651.7 213.1 L651.8 213.3 L651.8 212.7 L651.9 211.4 L651.9 212.0 L652.0 214.3 L652.0 212.8 L652.1 210.6 L652.1 211.5 L652.2 214.2 L652.2 213.4 L652.3 211.9 L652.4 211.5 L652.4 212.2 L652.5 211.7 L652.5 212.1 L652.6 214.5 L652.6 213.4 L652.7 211.4 L652.7 211.1 L652.8 212.0 L652.8 213.3 L652.9 213.8 L652.9 213.5 L653.0 210.7 L653.1 210.9 L653.1 211.7 L653.2 212.9 L653.2 215.1 L653.3 214.4 L653.3 209.2 L653.4 207.7 L653.4 213.0 L653.5 214.4 L653.5 211.0 L653.6 210.2 L653.7 214.9 L653.7 212.5 L653.8 211.4 L653.8 210.7 L653.9 211.7 L653.9 212.3 L654.0 210.7 L654.0 210.1 L654.1 213.1 L654.1 215.5 L654.2 212.7 L654.2 208.7 L654.3 207.9 L654.4 214.0 L654.4 213.4 L654.5 210.4 L654.5 208.0 L654.6 212.9 L654.6 215.6 L654.7 213.0 L654.7 212.3 L654.8 214.9 L654.8 212.8 L654.9 206.6 L654.9 205.2 L655.0 208.6 L655.1 214.4 L655.1 214.1 L655.2 213.1 L655.2 210.4 L655.3 214.1 L655.3 212.9 L655.4 208.8 L655.4 211.6 L655.5 216.3 L655.5 213.1 L655.6 210.0 L655.7 212.0 L655.7 212.0 L655.8 210.3 L655.8 210.2 L655.9 211.1 L655.9 213.2 L656.0 211.6 L656.0 211.2 L656.1 211.8 L656.1 214.9 L656.2 212.8 L656.2 209.8 L656.3 211.5 L656.4 213.7 L656.4 213.3 L656.5 211.9 L656.5 211.5 L656.6 210.6 L656.6 210.4 L656.7 214.1 L656.7 215.2 L656.8 210.8 L656.8 211.8 L656.9 214.8 L657.0 214.0 L657.0 211.9 L657.1 211.1 L657.1 210.7 L657.2 213.8 L657.2 211.9 L657.3 209.8 L657.3 212.8 L657.4 212.9 L657.4 211.7 L657.5 211.7 L657.5 214.4 L657.6 214.2 L657.7 211.2 L657.7 211.6 L657.8 213.5 L657.8 212.7 L657.9 212.2 L657.9 212.1 L658.0 211.2 L658.0 211.6 L658.1 214.1 L658.1 214.4 L658.2 212.9 L658.3 211.7 L658.3 211.6 L658.4 211.4 L658.4 212.9 L658.5 211.0 L658.5 211.4 L658.6 211.6 L658.6 212.5 L658.7 214.0 L658.7 212.4 L658.8 209.9 L658.8 211.8 L658.9 214.0 L659.0 214.2 L659.0 212.2 L659.1 212.2 L659.1 212.6 L659.2 213.5 L659.2 214.3 L659.3 214.7 L659.3 213.4 L659.4 212.0 L659.4 212.2 L659.5 213.8 L659.6 214.0 L659.6 213.9 L659.7 212.7 L659.7 213.1 L659.8 213.1 L659.8 213.1 L659.9 212.9 L659.9 214.1 L660.0 214.9 L660.0 213.5 L660.1 212.5 L660.1 212.9 L660.2 213.9 L660.3 214.6 L660.3 215.1 L660.4 213.8 L660.4 212.8 L660.5 213.1 L660.5 214.1 L660.6 212.9 L660.6 212.9 L660.7 212.6 L660.7 213.2 L660.8 214.5 L660.9 214.3 L660.9 212.7 L661.0 212.5 L661.0 214.8 L661.1 215.7 L661.1 213.6 L661.2 212.0 L661.2 212.8 L661.3 213.8 L661.3 213.8 L661.4 214.8 L661.4 213.3 L661.5 212.4 L661.6 213.1 L661.6 212.8 L661.7 212.3 L661.7 213.7 L661.8 215.3 L661.8 215.5 L661.9 213.8 L661.9 214.8 L662.0 214.8 L662.0 213.7 L662.1 211.9 L662.2 211.7 L662.2 213.2 L662.3 216.1 L662.3 214.7 L662.4 213.1 L662.4 214.0 L662.5 215.2 L662.5 213.9 L662.6 212.1 L662.6 212.1 L662.7 213.3 L662.7 212.1 L662.8 212.0 L662.9 212.6 L662.9 213.1 L663.0 213.2 L663.0 215.0 L663.1 214.6 L663.1 214.3 L663.2 212.6 L663.2 212.9 L663.3 213.4 L663.3 214.8 L663.4 214.2 L663.5 213.3 L663.5 213.0 L663.6 213.3 L663.6 213.4 L663.7 213.9 L663.7 215.1 L663.8 213.4 L663.8 212.9 L663.9 214.5 L663.9 214.1 L664.0 212.0 L664.0 212.4 L664.1 213.9 L664.2 213.5 L664.2 213.4 L664.3 212.8 L664.3 213.1 L664.4 214.9 L664.4 215.4 L664.5 213.1 L664.5 211.2 L664.6 211.9 L664.6 213.3 L664.7 214.1 L664.7 212.7 L664.8 212.3 L664.9 213.7 L664.9 213.4 L665.0 210.5 L665.0 210.2 L665.1 212.0 L665.1 213.4 L665.2 215.0 L665.2 213.5 L665.3 212.5 L665.3 211.9 L665.4 211.9 L665.5 212.6 L665.5 213.3 L665.6 212.4 L665.6 211.8 L665.7 212.3 L665.7 211.6 L665.8 211.9 L665.8 212.4 L665.9 212.4 L665.9 212.0 L666.0 210.6 L666.0 211.3 L666.1 214.1 L666.2 215.0 L666.2 212.1 L666.3 210.3 L666.3 212.3 L666.4 212.3 L666.4 210.5 L666.5 211.5 L666.5 214.3 L666.6 212.3 L666.6 209.0 L666.7 209.9 L666.8 212.6 L666.8 211.6 L666.9 211.5 L666.9 212.4 L667.0 211.4 L667.0 210.8 L667.1 212.7 L667.1 213.5 L667.2 213.1 L667.2 211.6 L667.3 211.5 L667.3 211.4 L667.4 210.9 L667.5 212.6 L667.5 213.7 L667.6 210.6 L667.6 209.4 L667.7 212.4 L667.7 214.7 L667.8 212.1 L667.8 209.5 L667.9 210.3 L667.9 213.0 L668.0 212.7 L668.1 213.3 L668.1 211.8 L668.2 211.2 L668.2 213.2 L668.3 213.6 L668.3 211.4 L668.4 210.4 L668.4 212.6 L668.5 212.9 L668.5 212.1 L668.6 212.5 L668.6 212.8 L668.7 211.5 L668.8 212.5 L668.8 212.3 L668.9 211.3 L668.9 212.0 L669.0 212.8 L669.0 213.1 L669.1 212.0 L669.1 211.4 L669.2 212.1 L669.2 212.8 L669.3 211.1 L669.4 211.3 L669.4 213.2 L669.5 213.8 L669.5 212.6 L669.6 211.0 L669.6 210.3 L669.7 211.2 L669.7 213.1 L669.8 213.5 L669.8 212.7 L669.9 212.0 L669.9 210.9 L670.0 211.7 L670.1 211.4 L670.1 211.1 L670.2 211.3 L670.2 211.6 L670.3 213.4 L670.3 212.7 L670.4 211.4 L670.4 209.7 L670.5 210.4 L670.5 211.3 L670.6 212.3 L670.7 211.5 L670.7 211.7 L670.8 213.8 L670.8 213.4 L670.9 212.5 L670.9 212.7 L671.0 211.5 L671.0 211.6 L671.1 212.9 L671.1 212.7 L671.2 211.1 L671.2 210.5 L671.3 211.9 L671.4 214.2 L671.4 213.7 L671.5 213.1 L671.5 212.9 L671.6 212.6 L671.6 212.2 L671.7 212.7 L671.7 212.2 L671.8 209.2 L671.8 211.3 L671.9 215.7 L672.0 215.6 L672.0 209.1 L672.1 210.0 L672.1 214.6 L672.2 215.2 L672.2 210.5 L672.3 209.6 L672.3 213.7 L672.4 215.8 L672.4 213.5 L672.5 212.0 L672.5 212.3 L672.6 211.7 L672.7 213.2 L672.7 214.0 L672.8 212.1 L672.8 210.5 L672.9 212.5 L672.9 215.0 L673.0 213.8 L673.0 214.1 L673.1 213.1 L673.1 212.0 L673.2 213.2 L673.3 214.4 L673.3 215.5 L673.4 213.5 L673.4 209.6 L673.5 209.5 L673.5 212.3 L673.6 215.8 L673.6 215.8 L673.7 212.6 L673.7 211.2 L673.8 215.3 L673.8 215.3 L673.9 211.1 L674.0 210.1 L674.0 213.3 L674.1 214.9 L674.1 213.4 L674.2 211.7 L674.2 211.2 L674.3 211.3 L674.3 212.2 L674.4 212.8 L674.4 214.6 L674.5 213.4 L674.6 212.1 L674.6 211.6 L674.7 211.7 L674.7 211.6 L674.8 213.2 L674.8 214.4 L674.9 214.0 L674.9 214.6 L675.0 213.9 L675.0 211.6 L675.1 212.0 L675.1 214.0 L675.2 212.6 L675.3 212.9 L675.3 215.3 L675.4 214.4 L675.4 212.0 L675.5 213.6 L675.5 212.9 L675.6 212.3 L675.6 214.2 L675.7 214.8 L675.7 214.4 L675.8 214.7 L675.8 213.2 L675.9 208.7 L676.0 212.9 L676.0 216.5 L676.1 215.0 L676.1 212.0 L676.2 212.8 L676.2 214.0 L676.3 212.8 L676.3 212.3 L676.4 215.3 L676.4 215.3 L676.5 212.6 L676.6 213.4 L676.6 213.8 L676.7 213.5 L676.7 212.8 L676.8 214.2 L676.8 214.1 L676.9 214.4 L676.9 215.2 L677.0 215.2 L677.0 213.5 L677.1 214.7 L677.1 213.5 L677.2 212.2 L677.3 215.3 L677.3 218.8 L677.4 213.7 L677.4 210.4 L677.5 213.8 L677.5 217.2 L677.6 216.1 L677.6 214.6 L677.7 214.9 L677.7 215.5 L677.8 213.2 L677.9 212.8 L677.9 213.8 L678.0 215.0 L678.0 215.1 L678.1 213.7 L678.1 212.6 L678.2 214.9 L678.2 215.9 L678.3 214.2 L678.3 214.2 L678.4 213.6 L678.4 211.2 L678.5 212.7 L678.6 214.2 L678.6 214.4 L678.7 214.1 L678.7 215.1 L678.8 214.4 L678.8 212.2 L678.9 214.2 L678.9 215.7 L679.0 214.8 L679.0 212.2 L679.1 211.7 L679.2 214.3 L679.2 216.8 L679.3 214.9 L679.3 213.1 L679.4 212.5 L679.4 213.4 L679.5 214.4 L679.5 214.9 L679.6 215.8 L679.6 216.1 L679.7 215.3 L679.7 214.1 L679.8 213.8 L679.9 214.8 L679.9 214.2 L680.0 213.9 L680.0 215.1 L680.1 215.1 L680.1 214.5 L680.2 215.3 L680.2 215.2 L680.3 214.6 L680.3 215.5 L680.4 214.9 L680.5 213.4 L680.5 212.8 L680.6 211.7 L680.6 212.5 L680.7 216.1 L680.7 218.2 L680.8 214.6 L680.8 212.7 L680.9 214.4 L680.9 215.8 L681.0 214.4 L681.0 213.9 L681.1 213.9 L681.2 213.7 L681.2 213.2 L681.3 213.4 L681.3 215.2 L681.4 215.8 L681.4 215.1 L681.5 214.0 L681.5 212.8 L681.6 212.9 L681.6 214.7 L681.7 214.1 L681.8 213.8 L681.8 214.5 L681.9 214.2 L681.9 212.3 L682.0 213.2 L682.0 213.0 L682.1 214.1 L682.1 213.8 L682.2 213.1 L682.2 213.5 L682.3 214.2 L682.3 211.8 L682.4 211.2 L682.5 212.9 L682.5 215.0 L682.6 214.2 L682.6 211.3 L682.7 211.0 L682.7 212.8 L682.8 214.8 L682.8 215.2 L682.9 212.7 L682.9 211.3 L683.0 212.5 L683.1 215.6 L683.1 213.3 L683.2 212.6 L683.2 213.5 L683.3 215.1 L683.3 213.0 L683.4 211.9 L683.4 212.6 L683.5 214.9 L683.5 213.4 L683.6 214.7 L683.6 216.0 L683.7 214.1 L683.8 210.3 L683.8 211.8 L683.9 214.8 L683.9 215.6 L684.0 213.0 L684.0 213.6 L684.1 213.3 L684.1 214.1 L684.2 214.2 L684.2 214.0 L684.3 213.4 L684.4 213.7 L684.4 212.1 L684.5 214.1 L684.5 214.1 L684.6 213.3 L684.6 213.2 L684.7 214.7 L684.7 214.0 L684.8 212.8 L684.8 212.9 L684.9 214.9 L684.9 213.8 L685.0 213.0 L685.1 213.0 L685.1 214.6 L685.2 214.4 L685.2 213.9 L685.3 213.6 L685.3 213.1 L685.4 210.9 L685.4 211.8 L685.5 214.2 L685.5 216.0 L685.6 214.4 L685.6 212.9 L685.7 214.8 L685.8 215.0 L685.8 213.9 L685.9 211.8 L685.9 213.8 L686.0 214.6 L686.0 213.0 L686.1 212.4 L686.1 213.5 L686.2 213.5 L686.2 212.9 L686.3 211.9 L686.4 214.2 L686.4 214.4 L686.5 212.2 L686.5 212.7 L686.6 212.0 L686.6 212.8 L686.7 216.6 L686.7 215.5 L686.8 211.3 L686.8 213.4 L686.9 213.1 L686.9 211.6 L687.0 213.0 L687.1 214.9 L687.1 213.0 L687.2 210.6 L687.2 212.0 L687.3 215.3 L687.3 215.4 L687.4 212.5 L687.4 212.4 L687.5 212.4 L687.5 209.8 L687.6 212.4 L687.7 217.0 L687.7 213.2 L687.8 210.0 L687.8 211.7 L687.9 216.3 L687.9 212.2 L688.0 210.8 L688.0 211.3 L688.1 210.4 L688.1 211.6 L688.2 215.4 L688.2 212.7 L688.3 211.6 L688.4 212.3 L688.4 214.7 L688.5 214.2 L688.5 209.2 L688.6 209.4 L688.6 211.9 L688.7 212.4 L688.7 213.4 L688.8 214.7 L688.8 213.4 L688.9 211.2 L689.0 208.5 L689.0 210.7 L689.1 212.6 L689.1 215.6 L689.2 215.7 L689.2 212.8 L689.3 209.6 L689.3 212.5 L689.4 214.1 L689.4 212.0 L689.5 209.4 L689.5 211.4 L689.6 214.7 L689.7 212.7 L689.7 210.3 L689.8 211.6 L689.8 213.6 L689.9 212.2 L689.9 210.2 L690.0 210.3 L690.0 211.8 L690.1 212.8 L690.1 212.1 L690.2 210.6 L690.3 212.8 L690.3 211.7 L690.4 211.0 L690.4 210.7 L690.5 212.5 L690.5 213.1 L690.6 213.4 L690.6 212.2 L690.7 211.8 L690.7 211.5 L690.8 211.9 L690.8 210.6 L690.9 211.6 L691.0 212.9 L691.0 212.2 L691.1 211.1 L691.1 211.6 L691.2 212.3 L691.2 212.1 L691.3 212.2 L691.3 211.9 L691.4 211.6 L691.4 211.0 L691.5 211.2 L691.6 212.7 L691.6 213.1 L691.7 211.1 L691.7 210.3 L691.8 212.5 L691.8 213.6 L691.9 211.9 L691.9 212.3 L692.0 213.1 L692.0 213.2 L692.1 211.8 L692.1 212.6 L692.2 213.0 L692.3 214.2 L692.3 214.2 L692.4 213.3 L692.4 213.1 L692.5 212.9 L692.5 213.2 L692.6 214.2 L692.6 213.6 L692.7 211.0 L692.7 209.9 L692.8 212.9 L692.9 215.2 L692.9 213.7 L693.0 212.2 L693.0 213.8 L693.1 213.0 L693.1 212.8 L693.2 215.3 L693.2 215.8 L693.3 212.1 L693.3 211.8 L693.4 213.5 L693.4 212.7 L693.5 212.2 L693.6 213.4 L693.6 212.9 L693.7 213.0 L693.7 214.6 L693.8 212.5 L693.8 213.6 L693.9 214.3 L693.9 211.7 L694.0 211.8 L694.0 212.8 L694.1 211.7 L694.2 211.9 L694.2 213.7 L694.3 214.7 L694.3 211.9 L694.4 210.8 L694.4 213.2 L694.5 215.1 L694.5 215.6 L694.6 212.6 L694.6 211.0 L694.7 212.0 L694.7 212.9 L694.8 212.1 L694.9 213.8 L694.9 213.6 L695.0 213.5 L695.0 214.6 L695.1 214.0 L695.1 211.8 L695.2 210.0 L695.2 211.7 L695.3 212.9 L695.3 212.9 L695.4 212.6 L695.5 212.9 L695.5 213.5 L695.6 212.4 L695.6 213.3 L695.7 212.6 L695.7 211.5 L695.8 211.6 L695.8 212.0 L695.9 212.2 L695.9 213.9 L696.0 214.5 L696.0 215.9 L696.1 208.7 L696.2 206.7 L696.2 213.8 L696.3 214.9 L696.3 209.8 L696.4 210.9 L696.4 213.7 L696.5 213.5 L696.5 213.8 L696.6 212.4 L696.6 212.5 L696.7 213.2 L696.7 212.8 L696.8 211.4 L696.9 211.4 L696.9 211.8 L697.0 213.2 L697.0 214.8 L697.1 213.7 L697.1 212.5 L697.2 213.1 L697.2 214.1 L697.3 213.5 L697.3 212.7 L697.4 211.8 L697.5 211.8 L697.5 213.8 L697.6 213.4 L697.6 212.5 L697.7 212.1 L697.7 213.2 L697.8 213.4 L697.8 212.5 L697.9 212.4 L697.9 212.5 L698.0 212.4 L698.0 213.3 L698.1 212.7 L698.2 211.8 L698.2 211.6 L698.3 213.4 L698.3 213.2 L698.4 212.4 L698.4 212.4 L698.5 213.1 L698.5 212.2 L698.6 211.7 L698.6 213.3 L698.7 213.8 L698.8 212.2 L698.8 213.1 L698.9 213.6 L698.9 211.6 L699.0 212.1 L699.0 213.2 L699.1 211.2 L699.1 211.1 L699.2 212.9 L699.2 216.0 L699.3 213.8 L699.3 211.9 L699.4 213.6 L699.5 215.6 L699.5 212.8 L699.6 212.8 L699.6 214.0 L699.7 214.0 L699.7 209.5 L699.8 209.4 L699.8 212.6 L699.9 214.4 L699.9 212.8 L700.0 212.9 L700.1 212.2 L700.1 214.4 L700.2 215.6 L700.2 215.2 L700.3 212.5 L700.3 212.0 L700.4 211.7 L700.4 210.8 L700.5 213.7 L700.5 217.5 L700.6 217.4 L700.6 211.6 L700.7 210.1 L700.8 215.6 L700.8 214.1 L700.9 211.4 L700.9 210.3 L701.0 210.9 L701.0 215.3 L701.1 216.7 L701.1 213.9 L701.2 212.0 L701.2 214.1 L701.3 214.9 L701.4 213.5 L701.4 211.2 L701.5 212.1 L701.5 213.5 L701.6 212.9 L701.6 214.5 L701.7 215.0 L701.7 211.6 L701.8 212.0 L701.8 217.6 L701.9 216.0 L701.9 213.6 L702.0 212.5 L702.1 212.1 L702.1 212.1 L702.2 214.4 L702.2 213.1 L702.3 209.6 L702.3 207.8 L702.4 211.4 L702.4 214.4 L702.5 213.3 L702.5 213.2 L702.6 213.4 L702.7 212.6 L702.7 211.6 L702.8 211.7 L702.8 212.0 L702.9 211.6 L702.9 210.4 L703.0 212.1 L703.0 213.8 L703.1 213.4 L703.1 211.0 L703.2 211.2 L703.2 214.1 L703.3 213.7 L703.4 212.0 L703.4 211.8 L703.5 211.4 L703.5 211.8 L703.6 211.9 L703.6 211.0 L703.7 212.4 L703.7 214.2 L703.8 213.3 L703.8 211.7 L703.9 211.4 L704.0 211.9 L704.0 213.4 L704.1 211.4 L704.1 212.1 L704.2 213.1 L704.2 212.9 L704.3 212.8 L704.3 212.2 L704.4 209.8 L704.4 210.2 L704.5 212.6 L704.5 214.2 L704.6 214.3 L704.7 213.1 L704.7 212.9 L704.8 212.9 L704.8 211.4 L704.9 210.6 L704.9 212.6 L705.0 214.3 L705.0 216.2 L705.1 213.5 L705.1 209.9 L705.2 211.6 L705.3 214.7 L705.3 213.5 L705.4 212.2 L705.4 211.9 L705.5 212.1 L705.5 212.0 L705.6 211.0 L705.6 210.8 L705.7 213.0 L705.7 215.0 L705.8 212.5 L705.8 209.7 L705.9 213.4 L706.0 215.4 L706.0 213.1 L706.1 210.8 L706.1 210.2 L706.2 209.3 L706.2 212.7 L706.3 212.4 L706.3 214.1 L706.4 216.1 L706.4 213.1 L706.5 209.9 L706.5 210.3 L706.6 211.9 L706.7 210.9 L706.7 212.2 L706.8 212.9 L706.8 211.9 L706.9 210.3 L706.9 210.4 L707.0 212.3 L707.0 212.8 L707.1 212.4 L707.1 211.9 L707.2 211.2 L707.3 211.9 L707.3 212.4 L707.4 214.2 L707.4 212.9 L707.5 210.9 L707.5 209.9 L707.6 211.9 L707.6 212.4 L707.7 211.7 L707.7 211.9 L707.8 213.4 L707.8 213.0 L707.9 212.9 L708.0 211.9 L708.0 211.0 L708.1 211.5 L708.1 212.1 L708.2 211.4 L708.2 212.4 L708.3 212.8 L708.3 213.4 L708.4 212.3 L708.4 209.9 L708.5 211.5 L708.6 213.6 L708.6 214.1 L708.7 212.4 L708.7 212.0 L708.8 212.0 L708.8 211.5 L708.9 212.0 L708.9 213.0 L709.0 211.5 L709.0 210.9 L709.1 212.2 L709.1 214.7 L709.2 213.0 L709.3 209.0 L709.3 208.9 L709.4 211.9 L709.4 212.0 L709.5 210.9 L709.5 211.4 L709.6 213.8 L709.6 213.7 L709.7 209.8 L709.7 207.9 L709.8 210.2 L709.9 213.4 L709.9 212.4 L710.0 211.3 L710.0 211.9 L710.1 212.3 L710.1 211.9 L710.2 210.4 L710.2 210.5 L710.3 211.0 L710.3 211.7 L710.4 210.7 L710.4 211.8 L710.5 213.4 L710.6 211.8 L710.6 210.7 L710.7 211.2 L710.7 212.2 L710.8 211.9 L710.8 212.1 L710.9 210.7 L710.9 211.6 L711.0 212.8 L711.0 211.8 L711.1 212.0 L711.2 212.4 L711.2 210.8 L711.3 209.6 L711.3 212.7 L711.4 212.3 L711.4 211.5 L711.5 212.7 L711.5 213.6 L711.6 210.9 L711.6 209.7 L711.7 212.9 L711.7 214.3 L711.8 210.2 L711.9 210.4 L711.9 212.1 L712.0 211.9 L712.0 211.2 L712.1 212.6 L712.1 213.5 L712.2 213.0 L712.2 210.2 L712.3 211.7 L712.3 212.2 L712.4 210.6 L712.5 210.7 L712.5 213.4 L712.6 212.3 L712.6 212.5 L712.7 211.6 L712.7 212.1 L712.8 211.6 L712.8 211.7 L712.9 213.1 L712.9 215.5 L713.0 213.0 L713.0 211.5 L713.1 212.5 L713.2 212.8 L713.2 210.6 L713.3 211.2 L713.3 212.5 L713.4 210.8 L713.4 210.1 L713.5 214.1 L713.5 214.3 L713.6 212.4 L713.6 213.7 L713.7 210.3 L713.8 208.8 L713.8 211.8 L713.9 213.1 L713.9 212.4 L714.0 214.6 L714.0 209.8 L714.1 207.1 L714.1 212.3 L714.2 215.1 L714.2 213.3 L714.3 212.5 L714.3 214.9 L714.4 217.0 L714.5 213.3 L714.5 212.1 L714.6 210.0 L714.6 208.7 L714.7 209.2 L714.7 215.5 L714.8 217.6 L714.8 215.9 L714.9 206.8 L714.9 207.5 L715.0 213.4 L715.1 215.0 L715.1 212.2 L715.2 211.5 L715.2 212.2 L715.3 211.8 L715.3 212.0 L715.4 214.3 L715.4 214.8 L715.5 210.1 L715.5 208.1 L715.6 212.1 L715.6 214.6 L715.7 213.2 L715.8 212.3 L715.8 210.3 L715.9 210.3 L715.9 212.1 L716.0 214.4 L716.0 211.9 L716.1 209.8 L716.1 210.4 L716.2 212.7 L716.2 211.6 L716.3 212.9 L716.4 213.6 L716.4 211.7 L716.5 210.1 L716.5 211.1 L716.6 211.8 L716.6 211.5 L716.7 211.2 L716.7 210.4 L716.8 212.4 L716.8 212.7 L716.9 212.7 L716.9 211.4 L717.0 211.2 L717.1 211.4 L717.1 212.4 L717.2 213.0 L717.2 210.7 L717.3 210.7 L717.3 214.3 L717.4 214.0 L717.4 210.6 L717.5 211.6 L717.5 211.9 L717.6 212.1 L717.6 212.0 L717.7 213.3 L717.8 212.7 L717.8 211.1 L717.9 209.0 L717.9 210.8 L718.0 212.0 L718.0 212.9 L718.1 212.4 L718.1 211.2 L718.2 211.9 L718.2 213.7 L718.3 213.6 L718.4 212.0 L718.4 212.5 L718.5 212.6 L718.5 210.7 L718.6 211.7 L718.6 211.4 L718.7 211.7 L718.7 211.7 L718.8 213.0 L718.8 212.4 L718.9 212.5 L718.9 210.4 L719.0 212.3 L719.1 213.6 L719.1 212.6 L719.2 210.5 L719.2 212.5 L719.3 212.5 L719.3 212.1 L719.4 211.8 L719.4 212.7 L719.5 212.8 L719.5 210.9 L719.6 209.7 L719.7 212.6 L719.7 214.1 L719.8 211.8 L719.8 211.0 L719.9 211.8 L719.9 213.3 L720.0 212.9 L720.0 213.6 L720.1 213.8 L720.1 213.9 L720.2 212.2 L720.2 211.5 L720.3 211.5 L720.4 212.6 L720.4 210.6 L720.5 211.5 L720.5 214.8 L720.6 213.6 L720.6 210.9 L720.7 212.9 L720.7 215.5 L720.8 214.6 L720.8 212.7 L720.9 211.3 L721.0 212.5 L721.0 214.4 L721.1 213.6 L721.1 212.9 L721.2 212.5 L721.2 214.4 L721.3 214.0 L721.3 212.8 L721.4 211.7 L721.4 212.4 L721.5 215.0 L721.5 214.6 L721.6 213.0 L721.7 213.1 L721.7 214.1 L721.8 213.3 L721.8 213.9 L721.9 212.9 L721.9 211.5 L722.0 212.4 L722.0 215.0 L722.1 212.4 L722.1 211.0 L722.2 212.2 L722.3 214.1 L722.3 213.5 L722.4 213.5 L722.4 211.0 L722.5 210.7 L722.5 214.4 L722.6 212.0 L722.6 211.7 L722.7 213.2 L722.7 214.9 L722.8 213.6 L722.8 213.9 L722.9 212.8 L723.0 212.9 L723.0 212.0 L723.1 213.8 L723.1 214.9 L723.2 214.5 L723.2 214.1 L723.3 215.0 L723.3 214.4 L723.4 207.9 L723.4 210.0 L723.5 213.8 L723.6 215.7 L723.6 215.6 L723.7 215.8 L723.7 212.1 L723.8 208.8 L723.8 210.2 L723.9 213.1 L723.9 214.2 L724.0 212.4 L724.0 212.7 L724.1 212.5 L724.1 213.4 L724.2 213.9 L724.3 213.7 L724.3 211.9 L724.4 211.5 L724.4 212.4 L724.5 212.5 L724.5 213.1 L724.6 212.8 L724.6 212.6 L724.7 212.0 L724.7 212.6 L724.8 212.3 L724.9 212.4 L724.9 213.0 L725.0 213.0 L725.0 211.4 L725.1 212.2 L725.1 213.6 L725.2 212.7 L725.2 212.1 L725.3 212.0 L725.3 210.7 L725.4 211.5 L725.4 214.0 L725.5 213.6 L725.6 211.0 L725.6 210.3 L725.7 209.8 L725.7 211.9 L725.8 212.3 L725.8 212.7 L725.9 212.7 L725.9 213.0 L726.0 212.4 L726.0 212.2 L726.1 211.3 L726.2 212.3 L726.2 214.7 L726.3 214.3 L726.3 210.0 L726.4 211.4 L726.4 213.8 L726.5 213.1 L726.5 211.2 L726.6 213.6 L726.6 213.9 L726.7 211.6 L726.7 209.5 L726.8 211.3 L726.9 215.3 L726.9 215.0 L727.0 211.9 L727.0 211.5 L727.1 213.0 L727.1 214.1 L727.2 212.0 L727.2 211.7 L727.3 212.1 L727.3 213.6 L727.4 213.3 L727.4 213.2 L727.5 211.5 L727.6 211.1 L727.6 211.8 L727.7 213.1 L727.7 214.4 L727.8 212.6 L727.8 210.2 L727.9 212.7 L727.9 213.5 L728.0 211.9 L728.0 213.2 L728.1 214.5 L728.2 213.0 L728.2 212.0 L728.3 212.3 L728.3 213.8 L728.4 216.6 L728.4 213.5 L728.5 212.7 L728.5 214.3 L728.6 212.9 L728.6 210.5 L728.7 215.1 L728.7 215.9 L728.8 215.7 L728.9 211.9 L728.9 211.6 L729.0 214.9 L729.0 215.2 L729.1 214.0 L729.1 214.4 L729.2 212.7 L729.2 212.2 L729.3 215.9 L729.3 217.7 L729.4 214.2 L729.5 213.2 L729.5 216.2 L729.6 215.8 L729.6 213.5 L729.7 214.1 L729.7 213.0 L729.8 212.5 L729.8 213.1 L729.9 214.8 L729.9 214.8 L730.0 213.0 L730.0 212.0 L730.1 214.0 L730.2 214.8 L730.2 213.9 L730.3 213.0 L730.3 214.0 L730.4 214.2 L730.4 215.0 L730.5 214.0 L730.5 213.3 L730.6 213.7 L730.6 215.3 L730.7 214.9 L730.8 212.7 L730.8 211.9 L730.9 212.9 L730.9 213.6 L731.0 212.9 L731.0 213.9 L731.1 215.3 L731.1 213.5 L731.2 212.0 L731.2 212.4 L731.3 213.5 L731.3 214.5 L731.4 213.3 L731.5 212.7 L731.5 215.1 L731.6 214.8 L731.6 211.3 L731.7 211.1 L731.7 214.5 L731.8 214.7 L731.8 212.2 L731.9 211.5 L731.9 213.6 L732.0 214.4 L732.1 213.0 L732.1 212.0 L732.2 211.9 L732.2 212.6 L732.3 213.9 L732.3 214.0 L732.4 212.5 L732.4 211.9 L732.5 213.7 L732.5 214.1 L732.6 214.5 L732.6 214.8 L732.7 214.4 L732.8 212.9 L732.8 210.8 L732.9 213.4 L732.9 213.3 L733.0 213.2 L733.0 213.2 L733.1 213.4 L733.1 211.3 L733.2 212.2 L733.2 211.6 L733.3 213.8 L733.4 213.3 L733.4 214.9 L733.5 211.1 L733.5 210.3 L733.6 211.9 L733.6 214.0 L733.7 212.5 L733.7 211.5 L733.8 211.8 L733.8 213.2 L733.9 213.7 L733.9 211.5 L734.0 210.8 L734.1 211.2 L734.1 212.2 L734.2 212.8 L734.2 212.0 L734.3 209.8 L734.3 211.7 L734.4 212.8 L734.4 213.1 L734.5 214.0 L734.5 210.5 L734.6 208.3 L734.7 212.0 L734.7 212.2 L734.8 211.1 L734.8 211.6 L734.9 212.5 L734.9 210.9 L735.0 211.2 L735.0 212.8 L735.1 214.5 L735.1 213.0 L735.2 211.5 L735.2 210.9 L735.3 210.8 L735.4 211.7 L735.4 214.2 L735.5 212.9 L735.5 211.6 L735.6 211.4 L735.6 211.3 L735.7 212.0 L735.7 214.8 L735.8 215.3 L735.8 211.7 L735.9 211.2 L736.0 210.8 L736.0 211.1 L736.1 212.1 L736.1 211.6 L736.2 211.6 L736.2 212.8 L736.3 212.6 L736.3 210.4 L736.4 214.3 L736.4 215.6 L736.5 212.5 L736.5 210.2 L736.6 211.6 L736.7 212.0 L736.7 212.4 L736.8 210.7 L736.8 211.1 L736.9 214.6 L736.9 217.1 L737.0 212.5 L737.0 211.6 L737.1 208.0 L737.1 205.9 L737.2 213.0 L737.3 219.5 L737.3 216.0 L737.4 209.1 L737.4 209.7 L737.5 210.8 L737.5 213.5 L737.6 212.8 L737.6 211.1 L737.7 212.6 L737.7 213.0 L737.8 210.3 L737.8 211.4 L737.9 211.9 L738.0 211.4 L738.0 210.3 L738.1 211.2 L738.1 215.1 L738.2 216.5 L738.2 211.4 L738.3 208.4 L738.3 210.4 L738.4 214.3 L738.4 212.2 L738.5 210.0 L738.5 209.3 L738.6 210.7 L738.7 213.2 L738.7 213.6 L738.8 209.8 L738.8 210.1 L738.9 212.7 L738.9 212.4 L739.0 209.8 L739.0 210.2 L739.1 213.2 L739.1 214.4 L739.2 213.2 L739.3 211.8 L739.3 212.6 L739.4 210.8 L739.4 210.9 L739.5 212.8 L739.5 213.3 L739.6 211.9 L739.6 211.1 L739.7 210.8 L739.7 211.8 L739.8 213.3 L739.8 212.3 L739.9 211.9 L740.0 212.5 L740.0 211.6 L740.1 209.9 L740.1 211.6 L740.2 213.3 L740.2 213.4 L740.3 211.4 L740.3 210.9 L740.4 213.7 L740.4 212.8 L740.5 210.0 L740.6 209.6 L740.6 211.0 L740.7 212.6 L740.7 213.0 L740.8 211.5 L740.8 211.7 L740.9 211.5 L740.9 210.9 L741.0 213.0 L741.0 211.7 L741.1 211.8 L741.1 210.3 L741.2 208.4 L741.3 211.0 L741.3 215.6 L741.4 210.8 L741.4 209.9 L741.5 213.5 L741.5 211.5 L741.6 209.2 L741.6 209.3 L741.7 211.4 L741.7 212.3 L741.8 212.1 L741.9 210.8 L741.9 212.8 L742.0 210.2 L742.0 212.5 L742.1 211.8 L742.1 209.7 L742.2 211.6 L742.2 213.9 L742.3 210.7 L742.3 210.4 L742.4 214.7 L742.4 211.7 L742.5 208.7 L742.6 214.0 L742.6 214.4 L742.7 208.5 L742.7 207.4 L742.8 213.7 L742.8 212.5 L742.9 210.4 L742.9 210.0 L743.0 212.5 L743.0 217.3 L743.1 214.5 L743.2 210.4 L743.2 209.4 L743.3 211.6 L743.3 207.6 L743.4 209.1 L743.4 211.3 L743.5 215.2 L743.5 215.0 L743.6 212.0 L743.6 208.1 L743.7 211.3 L743.7 213.4 L743.8 213.5 L743.9 212.6 L743.9 211.3 L744.0 212.0 L744.0 213.4 L744.1 212.3 L744.1 209.6 L744.2 210.5 L744.2 212.0 L744.3 211.9 L744.3 211.7 L744.4 212.7 L744.5 213.6 L744.5 212.8 L744.6 212.9 L744.6 212.6 L744.7 214.0 L744.7 211.8 L744.8 210.2 L744.8 210.4 L744.9 215.1 L744.9 215.0 L745.0 211.9 L745.0 212.3 L745.1 214.3 L745.2 211.2 L745.2 211.5 L745.3 212.6 L745.3 212.1 L745.4 210.9 L745.4 213.5 L745.5 214.4 L745.5 214.1 L745.6 211.8 L745.6 212.6 L745.7 215.8 L745.8 213.6 L745.8 211.7 L745.9 212.1 L745.9 212.1 L746.0 213.3 L746.0 213.9 L746.1 213.2 L746.1 214.6 L746.2 213.7 L746.2 212.2 L746.3 213.7 L746.3 215.9 L746.4 214.3 L746.5 213.3 L746.5 214.8 L746.6 214.0 L746.6 212.6 L746.7 213.2 L746.7 213.4 L746.8 213.5 L746.8 214.3 L746.9 213.4 L746.9 213.1 L747.0 214.6 L747.1 214.9 L747.1 213.8 L747.2 214.2 L747.2 215.7 L747.3 214.7 L747.3 214.1 L747.4 213.8 L747.4 213.2 L747.5 213.8 L747.5 215.2 L747.6 214.8 L747.6 211.7 L747.7 212.9 L747.8 215.7 L747.8 214.4 L747.9 212.6 L747.9 214.8 L748.0 215.1 L748.0 213.8 L748.1 212.1 L748.1 214.3 L748.2 215.1 L748.2 213.3 L748.3 212.8 L748.3 214.7 L748.4 214.4 L748.5 215.3 L748.5 214.2 L748.6 212.1 L748.6 213.3 L748.7 215.7 L748.7 215.2 L748.8 212.7 L748.8 213.1 L748.9 213.7 L748.9 213.3 L749.0 213.2 L749.1 214.4 L749.1 213.6 L749.2 213.4 L749.2 213.4 L749.3 213.8 L749.3 214.8 L749.4 214.1 L749.4 211.9 L749.5 211.4 L749.5 214.3 L749.6 214.2 L749.6 212.8 L749.7 212.0 L749.8 213.9 L749.8 215.8 L749.9 214.5 L749.9 211.4 L750.0 211.5 L750.0 213.0 L750.1 213.7 L750.1 212.7 L750.2 212.7 L750.2 214.5 L750.3 213.9 L750.4 212.4 L750.4 211.5 L750.5 212.4 L750.5 214.1 L750.6 213.6 L750.6 212.2 L750.7 211.6 L750.7 211.1 L750.8 213.4 L750.8 214.0 L750.9 211.9 L750.9 213.4 L751.0 215.9 L751.1 214.3 L751.1 210.8 L751.2 210.8 L751.2 211.3 L751.3 214.4 L751.3 213.4 L751.4 211.9 L751.4 211.6 L751.5 211.9 L751.5 211.9 L751.6 213.5 L751.7 213.0 L751.7 213.2 L751.8 213.2 L751.8 213.4 L751.9 212.7 L751.9 212.5 L752.0 212.7 L752.0 214.3 L752.1 214.6 L752.1 213.3 L752.2 211.4 L752.2 212.3 L752.3 214.3 L752.4 214.9 L752.4 212.4 L752.5 211.0 L752.5 212.5 L752.6 213.6 L752.6 215.0 L752.7 214.6 L752.7 212.6 L752.8 210.3 L752.8 212.9 L752.9 213.8 L753.0 214.3 L753.0 213.7 L753.1 212.7 L753.1 213.2 L753.2 213.3 L753.2 212.9 L753.3 211.9 L753.3 212.9 L753.4 212.9 L753.4 211.2 L753.5 212.9 L753.5 214.8 L753.6 214.1 L753.7 211.9 L753.7 211.6 L753.8 212.0 L753.8 212.5 L753.9 214.2 L753.9 214.0 L754.0 211.2 L754.0 211.0 L754.1 213.4 L754.1 214.0 L754.2 213.6 L754.3 213.3 L754.3 211.9 L754.4 212.0 L754.4 213.2 L754.5 213.4 L754.5 211.8 L754.6 212.9 L754.6 212.8 L754.7 212.1 L754.7 213.8 L754.8 213.2 L754.8 211.9 L754.9 212.5 L755.0 213.8 L755.0 213.7 L755.1 214.3 L755.1 213.0 L755.2 211.7 L755.2 212.0 L755.3 212.3 L755.3 213.3 L755.4 214.6 L755.4 214.8 L755.5 213.0 L755.6 211.8 L755.6 212.8 L755.7 214.1 L755.7 214.1 L755.8 213.4 L755.8 213.1 L755.9 213.2 L755.9 212.4 L756.0 212.7 L756.0 213.1 L756.1 213.7 L756.1 215.0 L756.2 213.1 L756.3 212.1 L756.3 211.8 L756.4 212.3 L756.4 213.1 L756.5 212.3 L756.5 211.8 L756.6 212.8 L756.6 213.0 L756.7 213.7 L756.7 213.1 L756.8 211.5 L756.9 210.5 L756.9 212.0 L757.0 212.5 L757.0 212.8 L757.1 210.7 L757.1 210.3 L757.2 212.4 L757.2 211.7 L757.3 209.7 L757.3 211.3 L757.4 213.0 L757.4 212.8 L757.5 211.5 L757.6 211.2 L757.6 211.0 L757.7 209.9 L757.7 210.6 L757.8 211.1 L757.8 210.8 L757.9 210.9 L757.9 210.9 L758.0 211.2 L758.0 211.4 L758.1 212.4 L758.2 212.0 L758.2 209.9 L758.3 211.4 L758.3 213.0 L758.4 212.9 L758.4 211.8 L758.5 210.6 L758.5 210.7 L758.6 212.0 L758.6 213.1 L758.7 212.5 L758.7 211.4 L758.8 209.9 L758.9 210.8 L758.9 211.5 L759.0 211.7 L759.0 210.6 L759.1 211.5 L759.1 212.7 L759.2 211.7 L759.2 212.3 L759.3 213.3 L759.3 210.9 L759.4 210.1 L759.4 212.2 L759.5 211.8 L759.6 212.1 L759.6 211.8 L759.7 211.3 L759.7 212.4 L759.8 213.1 L759.8 212.9 L759.9 212.9 L759.9 211.6 L760.0 209.7 L760.0 210.8 L760.1 212.2 L760.2 211.4 L760.2 212.6 L760.3 213.6 L760.3 212.5 L760.4 210.2 L760.4 210.2 L760.5 211.8 L760.5 211.3 L760.6 211.3 L760.6 210.7 L760.7 209.9 L760.7 211.5 L760.8 213.4 L760.9 212.6 L760.9 210.4 L761.0 209.2 L761.0 211.5 L761.1 212.1 L761.1 211.9 L761.2 212.1 L761.2 211.2 L761.3 212.0 L761.3 211.6 L761.4 209.7 L761.5 210.1 L761.5 212.4 L761.6 212.8 L761.6 213.3 L761.7 214.1 L761.7 212.8 L761.8 210.1 L761.8 210.3 L761.9 210.7 L761.9 211.6 L762.0 212.5 L762.0 213.1 L762.1 210.7 L762.2 210.9 L762.2 212.1 L762.3 214.1 L762.3 213.6 L762.4 211.8 L762.4 208.3 L762.5 211.0 L762.5 213.8 L762.6 213.9 L762.6 211.2 L762.7 212.9 L762.8 213.2 L762.8 211.1 L762.9 208.9 L762.9 212.1 L763.0 215.5 L763.0 213.4 L763.1 210.1 L763.1 211.0 L763.2 213.7 L763.2 213.6 L763.3 211.5 L763.3 212.1 L763.4 214.2 L763.5 212.9 L763.5 209.9 L763.6 209.3 L763.6 212.3 L763.7 212.9 L763.7 213.7 L763.8 212.4 L763.8 208.8 L763.9 210.8 L763.9 212.9 L764.0 211.8 L764.1 214.1 L764.1 213.5 L764.2 210.4 L764.2 211.3 L764.3 212.0 L764.3 211.0 L764.4 212.5 L764.4 212.6 L764.5 212.3 L764.5 210.7 L764.6 211.2 L764.6 214.1 L764.7 212.9 L764.8 210.5 L764.8 212.8 L764.9 211.8 L764.9 208.8 L765.0 211.1 L765.0 215.2 L765.1 213.3 L765.1 209.4 L765.2 211.0 L765.2 213.0 L765.3 213.1 L765.4 212.5 L765.4 213.6 L765.5 212.9 L765.5 213.7 L765.6 212.1 L765.6 212.0 L765.7 209.0 L765.7 210.1 L765.8 214.5 L765.8 214.1 L765.9 211.1 L765.9 212.5 L766.0 216.6 L766.1 214.0 L766.1 210.8 L766.2 208.7 L766.2 211.6 L766.3 212.9 L766.3 214.0 L766.4 214.0 L766.4 211.9 L766.5 210.9 L766.5 216.7 L766.6 214.8 L766.7 206.7 L766.7 208.3 L766.8 215.1 L766.8 214.7 L766.9 212.8 L766.9 211.3 L767.0 210.7 L767.0 212.0 L767.1 213.9 L767.1 213.6 L767.2 211.1 L767.2 208.6 L767.3 213.7 L767.4 218.5 L767.4 214.7 L767.5 212.7 L767.5 210.3 L767.6 207.6 L767.6 211.5 L767.7 217.9 L767.7 215.3 L767.8 213.0 L767.8 212.1 L767.9 211.9 L768.0 209.0 L768.0 208.4 L768.1 215.2 L768.1 216.6 L768.2 209.4 L768.2 205.9 L768.3 212.5 L768.3 216.5 L768.4 211.7 L768.4 208.8 L768.5 211.1 L768.5 215.6 L768.6 214.8 L768.7 210.2 L768.7 211.3 L768.8 213.7 L768.8 214.3 L768.9 209.5 L768.9 206.4 L769.0 210.6 L769.0 216.5 L769.1 211.4 L769.1 208.5 L769.2 214.2 L769.2 213.3 L769.3 209.7 L769.4 211.8 L769.4 212.4 L769.5 213.8 L769.5 215.0 L769.6 210.8 L769.6 207.7 L769.7 210.2 L769.7 213.2 L769.8 214.6 L769.8 212.2 L769.9 210.0 L770.0 210.1 L770.0 211.4 L770.1 212.7 L770.1 212.6 L770.2 211.7 L770.2 210.7 L770.3 211.4 L770.3 211.3 L770.4 210.9 L770.4 212.9 L770.5 213.9 L770.5 210.8 L770.6 209.9 L770.7 212.3 L770.7 214.9 L770.8 211.5 L770.8 208.0 L770.9 212.9 L770.9 217.0 L771.0 213.8 L771.0 211.6 L771.1 211.3 L771.1 211.1 L771.2 210.9 L771.3 211.3 L771.3 212.8 L771.4 214.0 L771.4 212.9 L771.5 210.2 L771.5 210.5 L771.6 213.8 L771.6 213.0 L771.7 210.5 L771.7 211.7 L771.8 212.4 L771.8 210.8 L771.9 210.9 L772.0 212.3 L772.0 214.0 L772.1 213.0 L772.1 212.0 L772.2 211.3 L772.2 211.5 L772.3 211.8 L772.3 211.4 L772.4 210.8 L772.4 212.4 L772.5 213.4 L772.6 212.2 L772.6 211.8 L772.7 212.5 L772.7 212.7 L772.8 212.7 L772.8 213.9 L772.9 213.9 L772.9 212.2 L773.0 209.8 L773.0 210.1 L773.1 213.1 L773.1 213.4 L773.2 212.5 L773.3 213.6 L773.3 214.1 L773.4 213.2 L773.4 213.7 L773.5 212.3 L773.5 211.2 L773.6 212.5 L773.6 213.3 L773.7 212.0 L773.7 212.2 L773.8 211.7 L773.9 211.5 L773.9 212.9 L774.0 214.7 L774.0 211.6 L774.1 209.6 L774.1 212.7 L774.2 215.7 L774.2 214.2 L774.3 212.0 L774.3 211.7 L774.4 213.0 L774.4 213.2 L774.5 211.9 L774.6 210.7 L774.6 213.4 L774.7 213.6 L774.7 209.1 L774.8 209.0 L774.8 213.5 L774.9 216.4 L774.9 212.2 L775.0 207.3 L775.0 211.0 L775.1 214.0 L775.2 212.4 L775.2 211.2 L775.3 210.6 L775.3 211.7 L775.4 212.9 L775.4 212.1 L775.5 210.2 L775.5 211.3 L775.6 210.5 L775.6 211.1 L775.7 211.1 L775.7 212.1 L775.8 212.2 L775.9 209.5 L775.9 208.5 L776.0 210.9 L776.0 211.0 L776.1 210.8 L776.1 212.1 L776.2 210.7 L776.2 210.4 L776.3 210.2 L776.3 207.7 L776.4 208.8 L776.5 214.1 L776.5 214.1 L776.6 209.8 L776.6 208.3 L776.7 209.0 L776.7 210.6 L776.8 211.2 L776.8 211.9 L776.9 211.3 L776.9 209.1 L777.0 207.2 L777.0 210.5 L777.1 212.5 L777.2 211.3 L777.2 210.0 L777.3 208.5 L777.3 207.9 L777.4 211.2 L777.4 211.3 L777.5 208.7 L777.5 209.6 L777.6 210.5 L777.6 210.2 L777.7 210.1 L777.8 210.6 L777.8 211.1 L777.9 209.7 L777.9 209.9 L778.0 210.8 L778.0 209.4 L778.1 208.3 L778.1 211.5 L778.2 212.5 L778.2 208.9 L778.3 208.0 L778.3 210.3 L778.4 211.0 L778.5 210.5 L778.5 210.3 L778.6 211.1 L778.6 211.0 L778.7 210.3 L778.7 211.3 L778.8 212.0 L778.8 211.2 L778.9 209.3 L778.9 210.7 L779.0 210.5 L779.1 209.8 L779.1 210.0 L779.2 210.3 L779.2 211.9 L779.3 212.0 L779.3 209.9 L779.4 210.0 L779.4 212.1 L779.5 210.7 L779.5 209.7 L779.6 210.6 L779.6 210.5 L779.7 209.5 L779.8 210.0 L779.8 210.6 L779.9 211.2 L779.9 211.9 L780.0 211.5 L780.0 209.8 L780.1 209.5 L780.1 211.7 L780.2 212.2 L780.2 210.4 L780.3 209.3 L780.3 211.4 L780.4 210.9 L780.5 210.8 L780.5 210.1 L780.6 210.2 L780.6 211.3 L780.7 213.6 L780.7 211.8 L780.8 209.2 L780.8 210.5 L780.9 211.9 L780.9 209.4 L781.0 209.4 L781.1 211.8 L781.1 212.7 L781.2 209.9 L781.2 207.9 L781.3 210.9 L781.3 213.2 L781.4 211.5 L781.4 211.5 L781.5 211.5 L781.5 210.7 L781.6 209.5 L781.6 210.7 L781.7 210.6 L781.8 210.7 L781.8 211.0 L781.9 211.7 L781.9 211.0 L782.0 211.3 L782.0 209.4 L782.1 209.8 L782.1 211.3 L782.2 211.8 L782.2 211.8 L782.3 210.9 L782.4 210.4 L782.4 210.4 L782.5 209.8 L782.5 208.3 L782.6 209.3 L782.6 210.8 L782.7 212.2 L782.7 211.8 L782.8 211.1 L782.8 209.0 L782.9 209.2 L782.9 212.1 L783.0 212.7 L783.1 209.8 L783.1 209.5 L783.2 211.5 L783.2 209.9 L783.3 208.8 L783.3 211.1 L783.4 211.4 L783.4 208.8 L783.5 210.3 L783.5 210.8 L783.6 210.8 L783.7 209.8 L783.7 208.6 L783.8 210.3 L783.8 211.0 L783.9 209.6 L783.9 209.6 L784.0 210.8 L784.0 209.7 L784.1 209.5 L784.1 211.0 L784.2 212.3 L784.2 210.3 L784.3 209.0 L784.4 211.5 L784.4 211.2 L784.5 208.1 L784.5 208.4 L784.6 211.9 L784.6 213.5 L784.7 209.7 L784.7 207.9 L784.8 209.9 L784.8 213.0 L784.9 212.1 L785.0 209.9 L785.0 208.8 L785.1 208.6 L785.1 209.9 L785.2 209.8 L785.2 210.6 L785.3 209.2 L785.3 209.6 L785.4 211.5 L785.4 212.3 L785.5 211.1 L785.5 209.9 L785.6 210.9 L785.7 209.2 L785.7 210.5 L785.8 211.4 L785.8 210.6 L785.9 209.6 L785.9 212.1 L786.0 212.0 L786.0 210.6 L786.1 212.3 L786.1 213.5 L786.2 209.8 L786.3 210.2 L786.3 212.2 L786.4 211.1 L786.4 210.7 L786.5 211.5 L786.5 210.7 L786.6 210.7 L786.6 209.8 L786.7 209.7 L786.7 210.9 L786.8 213.1 L786.8 212.9 L786.9 209.7 L787.0 210.8 L787.0 212.1 L787.1 213.2 L787.1 212.3 L787.2 210.9 L787.2 211.2 L787.3 212.4 L787.3 211.1 L787.4 209.8 L787.4 212.0 L787.5 213.4 L787.6 211.7 L787.6 210.8 L787.7 212.7 L787.7 211.9 L787.8 210.1 L787.8 210.7 L787.9 212.9 L787.9 213.9 L788.0 212.4 L788.0 211.2 L788.1 211.1 L788.1 212.2 L788.2 213.5 L788.3 212.1 L788.3 211.0 L788.4 211.8 L788.4 211.1 L788.5 211.0 L788.5 211.8 L788.6 213.3 L788.6 213.2 L788.7 212.1 L788.7 210.6 L788.8 210.1 L788.9 211.7 L788.9 213.9 L789.0 213.2 L789.0 211.9 L789.1 211.8 L789.1 212.0 L789.2 209.2 L789.2 208.3 L789.3 210.7 L789.3 213.2 L789.4 213.5 L789.4 212.8 L789.5 212.6" fill="none" stroke="#006400" stroke-width="0.42" stroke-linejoin="bevel"/>
<rect x="507.2" y="179.5" width="283.1" height="54.0" fill="none" stroke="#000" stroke-width="1.4"/>
<g stroke="#000" stroke-width="0.8">
<line x1="524.6" y1="179.5" x2="524.6" y2="174.2"/>
<line x1="524.6" y1="233.5" x2="524.6" y2="239.0"/>
<line x1="548.3" y1="179.5" x2="548.3" y2="174.2"/>
<line x1="548.3" y1="233.5" x2="548.3" y2="239.0"/>
<line x1="571.9" y1="179.5" x2="571.9" y2="174.2"/>
<line x1="571.9" y1="233.5" x2="571.9" y2="239.0"/>
<line x1="595.6" y1="179.5" x2="595.6" y2="174.2"/>
<line x1="595.6" y1="233.5" x2="595.6" y2="239.0"/>
<line x1="619.2" y1="179.5" x2="619.2" y2="174.2"/>
<line x1="619.2" y1="233.5" x2="619.2" y2="239.0"/>
<line x1="642.9" y1="179.5" x2="642.9" y2="174.2"/>
<line x1="642.9" y1="233.5" x2="642.9" y2="239.0"/>
<line x1="666.6" y1="179.5" x2="666.6" y2="174.2"/>
<line x1="666.6" y1="233.5" x2="666.6" y2="239.0"/>
<line x1="690.2" y1="179.5" x2="690.2" y2="174.2"/>
<line x1="690.2" y1="233.5" x2="690.2" y2="239.0"/>
<line x1="713.9" y1="179.5" x2="713.9" y2="174.2"/>
<line x1="713.9" y1="233.5" x2="713.9" y2="239.0"/>
<line x1="737.5" y1="179.5" x2="737.5" y2="174.2"/>
<line x1="737.5" y1="233.5" x2="737.5" y2="239.0"/>
<line x1="761.2" y1="179.5" x2="761.2" y2="174.2"/>
<line x1="761.2" y1="233.5" x2="761.2" y2="239.0"/>
<line x1="784.9" y1="179.5" x2="784.9" y2="174.2"/>
<line x1="784.9" y1="233.5" x2="784.9" y2="239.0"/>
</g>
<g font-family="Liberation Sans, sans-serif" font-size="10.5" fill="#111" text-anchor="middle">
<text x="524.6" y="250.7">25</text>
<text x="548.3" y="250.7">30</text>
<text x="571.9" y="250.7">35</text>
<text x="595.6" y="250.7">40</text>
<text x="619.2" y="250.7">45</text>
<text x="642.9" y="250.7">50</text>
<text x="666.6" y="250.7">55</text>
<text x="690.2" y="250.7">00</text>
<text x="713.9" y="250.7">05</text>
<text x="737.5" y="250.7">10</text>
<text x="761.2" y="250.7">15</text>
<text x="784.9" y="250.7">20</text>
</g>
<text x="799.0" y="190.6" font-family="Liberation Sans, sans-serif" font-size="10" font-weight="bold" fill="#0000ff">Hosp C. Neily</text>
<text x="799.0" y="213.4" font-family="Liberation Sans, sans-serif" font-size="10" fill="#111">Acel. Max. 0.0</text>
<text x="799.0" y="231.3" font-family="Liberation Sans, sans-serif" font-size="10" fill="#111">Int JMA: 0</text>
<path d="M508.0 292.0 L508.1 291.9 L508.1 292.0 L508.2 291.9 L508.3 291.7 L508.4 292.0 L508.4 292.6 L508.5 292.2 L508.6 291.7 L508.7 292.0 L508.7 292.2 L508.8 292.1 L508.9 291.9 L509.0 291.8 L509.0 292.0 L509.1 292.2 L509.2 292.4 L509.3 292.1 L509.3 291.6 L509.4 291.4 L509.5 292.1 L509.6 292.2 L509.6 292.0 L509.7 292.6 L509.8 292.3 L509.9 291.9 L509.9 291.2 L510.0 292.0 L510.1 291.4 L510.1 291.6 L510.2 292.5 L510.3 292.2 L510.4 290.7 L510.4 291.8 L510.5 293.7 L510.6 293.6 L510.7 291.7 L510.7 290.9 L510.8 291.6 L510.9 291.8 L511.0 291.9 L511.0 291.8 L511.1 292.2 L511.2 292.4 L511.3 292.6 L511.3 291.9 L511.4 292.2 L511.5 291.9 L511.6 292.1 L511.6 291.8 L511.7 291.0 L511.8 291.8 L511.9 292.7 L511.9 292.1 L512.0 291.7 L512.1 291.8 L512.1 292.5 L512.2 292.7 L512.3 292.4 L512.4 292.5 L512.4 291.8 L512.5 290.9 L512.6 291.3 L512.7 292.2 L512.7 292.1 L512.8 292.4 L512.9 291.9 L513.0 292.1 L513.0 292.7 L513.1 292.3 L513.2 291.6 L513.3 291.9 L513.3 291.9 L513.4 291.9 L513.5 291.8 L513.6 291.7 L513.6 292.1 L513.7 292.4 L513.8 291.8 L513.9 291.5 L513.9 291.8 L514.0 291.8 L514.1 292.1 L514.2 292.4 L514.2 292.7 L514.3 291.8 L514.4 291.2 L514.4 292.2 L514.5 292.6 L514.6 291.9 L514.7 291.9 L514.7 292.1 L514.8 291.9 L514.9 292.3 L515.0 292.1 L515.0 291.6 L515.1 291.7 L515.2 291.9 L515.3 292.3 L515.3 292.5 L515.4 292.2 L515.5 291.8 L515.6 291.9 L515.6 292.2 L515.7 291.8 L515.8 291.6 L515.9 291.8 L515.9 292.1 L516.0 292.1 L516.1 292.4 L516.2 291.9 L516.2 291.3 L516.3 291.7 L516.4 292.2 L516.4 292.6 L516.5 292.4 L516.6 291.8 L516.7 291.7 L516.7 292.0 L516.8 292.2 L516.9 292.2 L517.0 291.7 L517.0 291.4 L517.1 292.3 L517.2 292.6 L517.3 292.1 L517.3 291.9 L517.4 291.5 L517.5 291.5 L517.6 292.4 L517.6 292.3 L517.7 291.5 L517.8 291.8 L517.9 292.7 L517.9 292.3 L518.0 291.9 L518.1 291.9 L518.2 291.7 L518.2 291.4 L518.3 291.9 L518.4 292.1 L518.4 292.2 L518.5 292.1 L518.6 292.2 L518.7 292.1 L518.7 292.2 L518.8 292.5 L518.9 292.7 L519.0 292.2 L519.0 291.3 L519.1 291.2 L519.2 291.8 L519.3 292.8 L519.3 292.7 L519.4 291.3 L519.5 291.4 L519.6 291.9 L519.6 291.9 L519.7 292.0 L519.8 292.2 L519.9 292.1 L519.9 291.2 L520.0 291.5 L520.1 292.3 L520.2 292.2 L520.2 292.0 L520.3 291.8 L520.4 292.0 L520.4 291.9 L520.5 292.3 L520.6 292.8 L520.7 293.0 L520.7 292.1 L520.8 291.7 L520.9 291.6 L521.0 292.2 L521.0 291.6 L521.1 291.2 L521.2 291.4 L521.3 292.6 L521.3 292.8 L521.4 291.7 L521.5 291.3 L521.6 291.9 L521.6 292.2 L521.7 291.8 L521.8 291.9 L521.9 292.5 L521.9 291.7 L522.0 291.7 L522.1 292.5 L522.2 292.6 L522.2 291.8 L522.3 291.6 L522.4 292.0 L522.4 292.1 L522.5 292.2 L522.6 291.8 L522.7 291.6 L522.7 292.0 L522.8 292.5 L522.9 292.6 L523.0 292.2 L523.0 291.3 L523.1 291.0 L523.2 292.0 L523.3 293.1 L523.3 292.3 L523.4 291.8 L523.5 292.2 L523.6 291.8 L523.6 291.4 L523.7 291.8 L523.8 292.1 L523.9 292.5 L523.9 292.5 L524.0 291.3 L524.1 291.9 L524.2 292.4 L524.2 292.1 L524.3 291.7 L524.4 291.5 L524.4 291.7 L524.5 292.4 L524.6 293.5 L524.7 292.9 L524.7 291.1 L524.8 290.5 L524.9 292.4 L525.0 292.7 L525.0 292.7 L525.1 292.6 L525.2 291.8 L525.3 290.2 L525.3 290.5 L525.4 291.9 L525.5 292.5 L525.6 292.2 L525.6 292.9 L525.7 292.5 L525.8 291.5 L525.9 291.3 L525.9 292.6 L526.0 292.5 L526.1 290.8 L526.2 291.5 L526.2 292.4 L526.3 292.0 L526.4 291.8 L526.5 292.9 L526.5 293.2 L526.6 291.6 L526.7 290.7 L526.7 291.4 L526.8 292.7 L526.9 292.1 L527.0 292.0 L527.0 292.3 L527.1 292.1 L527.2 291.6 L527.3 292.0 L527.3 292.4 L527.4 292.1 L527.5 291.9 L527.6 292.0 L527.6 291.9 L527.7 291.9 L527.8 292.1 L527.9 292.3 L527.9 291.9 L528.0 291.3 L528.1 291.9 L528.2 292.6 L528.2 292.1 L528.3 291.6 L528.4 292.1 L528.5 291.9 L528.5 291.9 L528.6 292.5 L528.7 292.3 L528.7 291.1 L528.8 291.5 L528.9 292.8 L529.0 292.2 L529.0 291.9 L529.1 292.8 L529.2 291.6 L529.3 290.8 L529.3 293.1 L529.4 293.2 L529.5 291.7 L529.6 292.0 L529.6 291.9 L529.7 291.5 L529.8 291.5 L529.9 291.7 L529.9 292.2 L530.0 292.6 L530.1 292.3 L530.2 291.8 L530.2 291.1 L530.3 291.8 L530.4 292.8 L530.5 292.2 L530.5 291.5 L530.6 292.2 L530.7 292.7 L530.7 291.8 L530.8 290.9 L530.9 291.5 L531.0 292.6 L531.0 292.5 L531.1 291.2 L531.2 291.4 L531.3 292.4 L531.3 292.6 L531.4 291.9 L531.5 292.6 L531.6 292.1 L531.6 291.8 L531.7 292.3 L531.8 292.1 L531.9 291.2 L531.9 291.5 L532.0 291.9 L532.1 291.6 L532.2 292.0 L532.2 292.1 L532.3 292.0 L532.4 292.4 L532.5 292.2 L532.5 291.3 L532.6 291.9 L532.7 292.3 L532.7 292.2 L532.8 291.7 L532.9 292.0 L533.0 292.5 L533.0 292.7 L533.1 291.2 L533.2 291.3 L533.3 292.3 L533.3 292.7 L533.4 291.9 L533.5 292.0 L533.6 292.4 L533.6 292.1 L533.7 291.5 L533.8 291.6 L533.9 292.1 L533.9 292.2 L534.0 291.8 L534.1 292.0 L534.2 292.3 L534.2 291.9 L534.3 291.8 L534.4 292.2 L534.5 292.2 L534.5 291.6 L534.6 291.7 L534.7 292.6 L534.7 292.2 L534.8 291.4 L534.9 292.1 L535.0 292.7 L535.0 291.7 L535.1 291.1 L535.2 292.2 L535.3 293.0 L535.3 291.9 L535.4 291.8 L535.5 292.3 L535.6 292.1 L535.6 291.5 L535.7 292.0 L535.8 292.3 L535.9 292.2 L535.9 291.9 L536.0 291.4 L536.1 291.0 L536.2 292.5 L536.2 292.3 L536.3 291.1 L536.4 292.0 L536.5 293.0 L536.5 291.9 L536.6 290.4 L536.7 291.8 L536.8 292.6 L536.8 292.2 L536.9 291.6 L537.0 292.4 L537.0 292.6 L537.1 292.2 L537.2 291.7 L537.3 291.9 L537.3 292.2 L537.4 292.1 L537.5 291.6 L537.6 291.9 L537.6 292.4 L537.7 292.3 L537.8 291.8 L537.9 291.4 L537.9 291.7 L538.0 292.3 L538.1 292.3 L538.2 292.0 L538.2 291.4 L538.3 291.6 L538.4 292.2 L538.5 292.8 L538.5 292.4 L538.6 291.9 L538.7 291.8 L538.8 291.8 L538.8 292.0 L538.9 292.1 L539.0 292.0 L539.0 291.9 L539.1 292.5 L539.2 292.1 L539.3 291.1 L539.3 291.5 L539.4 292.6 L539.5 292.5 L539.6 291.3 L539.6 291.5 L539.7 292.8 L539.8 293.3 L539.9 291.6 L539.9 291.4 L540.0 292.0 L540.1 292.3 L540.2 292.0 L540.2 292.0 L540.3 291.9 L540.4 292.1 L540.5 292.2 L540.5 292.1 L540.6 291.9 L540.7 291.7 L540.8 292.0 L540.8 292.3 L540.9 292.3 L541.0 292.1 L541.0 292.1 L541.1 291.5 L541.2 291.6 L541.3 292.1 L541.3 292.0 L541.4 291.9 L541.5 292.0 L541.6 292.3 L541.6 292.7 L541.7 292.1 L541.8 291.8 L541.9 291.5 L541.9 291.9 L542.0 291.9 L542.1 292.4 L542.2 292.5 L542.2 292.4 L542.3 291.7 L542.4 291.5 L542.5 291.8 L542.5 292.2 L542.6 292.1 L542.7 291.4 L542.8 291.5 L542.8 292.1 L542.9 292.4 L543.0 291.9 L543.0 292.0 L543.1 291.8 L543.2 291.9 L543.3 292.6 L543.3 292.6 L543.4 290.9 L543.5 290.8 L543.6 292.2 L543.6 292.9 L543.7 292.3 L543.8 291.5 L543.9 292.4 L543.9 292.9 L544.0 291.2 L544.1 291.0 L544.2 292.2 L544.2 293.0 L544.3 292.1 L544.4 291.0 L544.5 291.1 L544.5 292.9 L544.6 292.8 L544.7 291.9 L544.8 291.8 L544.8 292.0 L544.9 290.8 L545.0 291.7 L545.0 293.5 L545.1 293.6 L545.2 291.7 L545.3 290.9 L545.3 291.3 L545.4 291.9 L545.5 292.2 L545.6 292.1 L545.6 292.3 L545.7 292.7 L545.8 293.0 L545.9 291.8 L545.9 291.5 L546.0 291.6 L546.1 292.6 L546.2 292.9 L546.2 291.1 L546.3 290.5 L546.4 292.4 L546.5 292.6 L546.5 291.7 L546.6 292.0 L546.7 292.3 L546.8 292.2 L546.8 291.9 L546.9 291.4 L547.0 291.3 L547.0 291.7 L547.1 292.3 L547.2 292.7 L547.3 291.9 L547.3 291.9 L547.4 292.6 L547.5 292.4 L547.6 292.0 L547.6 292.0 L547.7 291.9 L547.8 291.4 L547.9 291.7 L547.9 292.6 L548.0 292.4 L548.1 291.5 L548.2 291.7 L548.2 292.5 L548.3 292.2 L548.4 291.7 L548.5 291.4 L548.5 291.9 L548.6 292.0 L548.7 292.1 L548.8 292.1 L548.8 291.8 L548.9 291.8 L549.0 292.3 L549.1 292.1 L549.1 292.5 L549.2 292.3 L549.3 291.4 L549.3 291.8 L549.4 292.1 L549.5 292.2 L549.6 291.7 L549.6 292.0 L549.7 291.6 L549.8 292.3 L549.9 292.5 L549.9 292.9 L550.0 291.7 L550.1 290.8 L550.2 291.4 L550.2 292.2 L550.3 292.6 L550.4 293.2 L550.5 292.8 L550.5 290.7 L550.6 290.5 L550.7 292.4 L550.8 293.6 L550.8 291.5 L550.9 289.9 L551.0 290.9 L551.1 292.8 L551.1 293.5 L551.2 292.2 L551.3 291.3 L551.3 292.3 L551.4 293.1 L551.5 291.5 L551.6 291.0 L551.6 292.3 L551.7 292.7 L551.8 290.9 L551.9 291.3 L551.9 294.2 L552.0 293.1 L552.1 290.9 L552.2 290.1 L552.2 291.6 L552.3 293.1 L552.4 293.8 L552.5 291.7 L552.5 290.6 L552.6 293.2 L552.7 294.0 L552.8 291.5 L552.8 289.3 L552.9 291.1 L553.0 292.6 L553.1 293.1 L553.1 292.7 L553.2 291.0 L553.3 291.0 L553.3 292.3 L553.4 292.3 L553.5 291.7 L553.6 291.7 L553.6 292.2 L553.7 292.3 L553.8 292.3 L553.9 292.2 L553.9 291.8 L554.0 291.7 L554.1 292.0 L554.2 292.0 L554.2 291.8 L554.3 291.5 L554.4 292.0 L554.5 292.6 L554.5 292.6 L554.6 291.9 L554.7 291.0 L554.8 291.6 L554.8 292.5 L554.9 292.5 L555.0 292.1 L555.1 292.5 L555.1 291.7 L555.2 291.5 L555.3 292.2 L555.3 292.5 L555.4 292.1 L555.5 292.5 L555.6 291.9 L555.6 291.0 L555.7 291.2 L555.8 292.9 L555.9 292.2 L555.9 291.7 L556.0 292.1 L556.1 293.6 L556.2 291.9 L556.2 290.1 L556.3 291.3 L556.4 292.2 L556.5 292.3 L556.5 292.7 L556.6 291.9 L556.7 291.8 L556.8 292.5 L556.8 292.4 L556.9 291.3 L557.0 292.0 L557.1 292.3 L557.1 292.6 L557.2 291.9 L557.3 292.2 L557.3 292.6 L557.4 292.2 L557.5 291.1 L557.6 291.6 L557.6 292.0 L557.7 292.3 L557.8 292.5 L557.9 291.2 L557.9 291.0 L558.0 292.3 L558.1 292.7 L558.2 292.7 L558.2 292.5 L558.3 291.7 L558.4 290.7 L558.5 290.9 L558.5 291.3 L558.6 292.2 L558.7 292.6 L558.8 292.1 L558.8 293.1 L558.9 292.5 L559.0 289.7 L559.1 289.7 L559.1 293.9 L559.2 292.6 L559.3 289.6 L559.4 291.5 L559.4 295.6 L559.5 294.9 L559.6 292.6 L559.6 292.0 L559.7 292.4 L559.8 291.8 L559.9 289.8 L559.9 290.6 L560.0 292.1 L560.1 292.6 L560.2 292.1 L560.2 292.6 L560.3 292.8 L560.4 291.6 L560.5 291.3 L560.5 291.2 L560.6 291.7 L560.7 293.0 L560.8 292.9 L560.8 291.9 L560.9 292.2 L561.0 291.3 L561.1 291.7 L561.1 293.0 L561.2 291.7 L561.3 291.6 L561.4 292.7 L561.4 292.6 L561.5 291.9 L561.6 291.9 L561.6 291.9 L561.7 291.9 L561.8 291.7 L561.9 291.4 L561.9 291.9 L562.0 292.4 L562.1 292.5 L562.2 292.1 L562.2 291.8 L562.3 291.7 L562.4 292.0 L562.5 291.7 L562.5 291.8 L562.6 291.8 L562.7 291.8 L562.8 292.1 L562.8 293.3 L562.9 292.3 L563.0 290.7 L563.1 291.4 L563.1 292.6 L563.2 292.2 L563.3 292.2 L563.4 292.4 L563.4 291.8 L563.5 290.5 L563.6 292.2 L563.6 293.2 L563.7 292.6 L563.8 290.9 L563.9 291.2 L563.9 291.7 L564.0 292.9 L564.1 292.3 L564.2 291.0 L564.2 291.7 L564.3 292.6 L564.4 292.0 L564.5 291.8 L564.5 292.5 L564.6 291.8 L564.7 291.3 L564.8 293.2 L564.8 292.9 L564.9 291.7 L565.0 290.8 L565.1 291.9 L565.1 291.8 L565.2 292.2 L565.3 292.5 L565.4 292.4 L565.4 291.1 L565.5 291.4 L565.6 293.0 L565.6 291.6 L565.7 291.6 L565.8 292.5 L565.9 292.8 L565.9 291.3 L566.0 291.0 L566.1 292.0 L566.2 291.7 L566.2 291.6 L566.3 292.7 L566.4 292.6 L566.5 291.4 L566.5 292.7 L566.6 292.8 L566.7 292.7 L566.8 292.0 L566.8 291.2 L566.9 290.4 L567.0 291.4 L567.1 293.5 L567.1 293.6 L567.2 291.6 L567.3 290.6 L567.4 291.1 L567.4 291.7 L567.5 292.9 L567.6 293.5 L567.6 292.0 L567.7 291.8 L567.8 292.0 L567.9 291.5 L567.9 290.9 L568.0 291.8 L568.1 292.1 L568.2 293.1 L568.2 292.7 L568.3 290.6 L568.4 290.4 L568.5 291.9 L568.5 293.6 L568.6 293.4 L568.7 291.1 L568.8 291.2 L568.8 292.5 L568.9 291.4 L569.0 292.6 L569.1 294.2 L569.1 293.0 L569.2 290.6 L569.3 290.9 L569.4 292.5 L569.4 293.0 L569.5 292.5 L569.6 291.4 L569.6 291.2 L569.7 292.2 L569.8 292.7 L569.9 291.2 L569.9 291.9 L570.0 292.2 L570.1 291.7 L570.2 291.1 L570.2 291.9 L570.3 291.5 L570.4 291.2 L570.5 292.5 L570.5 292.6 L570.6 292.2 L570.7 291.5 L570.8 292.2 L570.8 292.0 L570.9 291.6 L571.0 292.2 L571.1 292.2 L571.1 291.5 L571.2 293.2 L571.3 293.2 L571.4 291.7 L571.4 291.4 L571.5 292.2 L571.6 291.8 L571.7 292.2 L571.7 292.4 L571.8 291.4 L571.9 291.4 L571.9 292.0 L572.0 291.6 L572.1 292.2 L572.2 292.7 L572.2 292.9 L572.3 291.4 L572.4 290.6 L572.5 291.7 L572.5 291.8 L572.6 290.7 L572.7 292.1 L572.8 293.2 L572.8 293.6 L572.9 292.5 L573.0 292.0 L573.1 291.4 L573.1 291.6 L573.2 291.7 L573.3 291.3 L573.4 292.4 L573.4 292.1 L573.5 290.8 L573.6 292.0 L573.7 293.5 L573.7 292.4 L573.8 292.5 L573.9 292.5 L573.9 290.7 L574.0 290.6 L574.1 292.1 L574.2 292.6 L574.2 292.8 L574.3 292.8 L574.4 292.0 L574.5 291.6 L574.5 291.6 L574.6 291.6 L574.7 292.1 L574.8 293.5 L574.8 292.6 L574.9 290.9 L575.0 290.6 L575.1 291.0 L575.1 292.1 L575.2 292.7 L575.3 292.4 L575.4 292.4 L575.4 292.0 L575.5 292.2 L575.6 292.3 L575.7 292.1 L575.7 291.7 L575.8 292.1 L575.9 292.0 L575.9 291.7 L576.0 291.5 L576.1 292.0 L576.2 292.3 L576.2 292.3 L576.3 291.4 L576.4 291.5 L576.5 292.6 L576.5 292.8 L576.6 291.9 L576.7 291.9 L576.8 292.1 L576.8 292.0 L576.9 292.0 L577.0 291.1 L577.1 290.4 L577.1 291.5 L577.2 292.9 L577.3 292.6 L577.4 292.6 L577.4 292.5 L577.5 291.7 L577.6 291.6 L577.7 292.6 L577.7 292.5 L577.8 291.7 L577.9 291.2 L577.9 291.2 L578.0 292.3 L578.1 293.3 L578.2 292.6 L578.2 291.6 L578.3 291.6 L578.4 292.6 L578.5 291.3 L578.5 290.5 L578.6 292.0 L578.7 293.1 L578.8 292.6 L578.8 291.9 L578.9 291.9 L579.0 292.3 L579.1 292.2 L579.1 290.8 L579.2 291.6 L579.3 292.4 L579.4 293.3 L579.4 291.6 L579.5 291.3 L579.6 292.5 L579.7 292.7 L579.7 291.8 L579.8 292.1 L579.9 291.6 L579.9 291.5 L580.0 292.7 L580.1 292.2 L580.2 291.4 L580.2 291.4 L580.3 292.2 L580.4 292.4 L580.5 292.7 L580.5 292.6 L580.6 290.8 L580.7 290.9 L580.8 292.5 L580.8 292.7 L580.9 291.4 L581.0 291.9 L581.1 292.2 L581.1 292.3 L581.2 292.2 L581.3 293.5 L581.4 292.2 L581.4 291.0 L581.5 290.3 L581.6 291.8 L581.7 293.1 L581.7 293.5 L581.8 291.4 L581.9 291.3 L582.0 291.6 L582.0 291.9 L582.1 291.0 L582.2 291.4 L582.2 292.8 L582.3 294.1 L582.4 292.9 L582.5 290.8 L582.5 290.7 L582.6 292.8 L582.7 292.3 L582.8 291.1 L582.8 291.7 L582.9 292.7 L583.0 292.9 L583.1 291.8 L583.1 291.0 L583.2 291.3 L583.3 292.0 L583.4 292.7 L583.4 292.1 L583.5 291.7 L583.6 291.5 L583.7 291.6 L583.7 291.5 L583.8 293.3 L583.9 294.8 L584.0 293.0 L584.0 291.0 L584.1 291.2 L584.2 291.1 L584.2 291.3 L584.3 292.7 L584.4 292.6 L584.5 292.8 L584.5 292.2 L584.6 290.8 L584.7 291.0 L584.8 292.5 L584.8 292.6 L584.9 291.9 L585.0 291.6 L585.1 291.7 L585.1 293.0 L585.2 292.7 L585.3 291.3 L585.4 290.8 L585.4 292.6 L585.5 294.2 L585.6 292.3 L585.7 290.6 L585.7 289.9 L585.8 291.7 L585.9 293.0 L586.0 293.2 L586.0 291.4 L586.1 292.3 L586.2 292.8 L586.2 291.7 L586.3 291.0 L586.4 291.9 L586.5 291.2 L586.5 290.8 L586.6 291.7 L586.7 293.5 L586.8 293.0 L586.8 291.9 L586.9 291.6 L587.0 292.6 L587.1 293.5 L587.1 291.5 L587.2 289.7 L587.3 290.8 L587.4 292.6 L587.4 293.4 L587.5 292.4 L587.6 291.5 L587.7 291.4 L587.7 291.2 L587.8 291.8 L587.9 292.6 L588.0 292.6 L588.0 292.5 L588.1 292.4 L588.2 291.5 L588.2 291.8 L588.3 292.2 L588.4 291.8 L588.5 292.2 L588.5 292.3 L588.6 291.2 L588.7 291.8 L588.8 292.8 L588.8 292.0 L588.9 290.9 L589.0 292.6 L589.1 292.5 L589.1 291.0 L589.2 290.9 L589.3 293.2 L589.4 292.7 L589.4 291.6 L589.5 292.7 L589.6 292.1 L589.7 291.7 L589.7 291.6 L589.8 292.2 L589.9 292.5 L590.0 292.2 L590.0 291.9 L590.1 292.2 L590.2 292.7 L590.2 292.1 L590.3 291.3 L590.4 290.9 L590.5 291.8 L590.5 292.8 L590.6 293.5 L590.7 292.5 L590.8 291.3 L590.8 291.5 L590.9 291.8 L591.0 291.7 L591.1 291.7 L591.1 291.9 L591.2 292.9 L591.3 293.5 L591.4 291.4 L591.4 290.8 L591.5 291.9 L591.6 291.9 L591.7 291.5 L591.7 291.6 L591.8 292.1 L591.9 293.1 L592.0 292.8 L592.0 290.6 L592.1 290.3 L592.2 291.3 L592.2 292.7 L592.3 292.2 L592.4 291.5 L592.5 292.2 L592.5 292.4 L592.6 291.2 L592.7 292.5 L592.8 291.3 L592.8 291.1 L592.9 293.3 L593.0 292.9 L593.1 290.8 L593.1 292.9 L593.2 294.0 L593.3 291.3 L593.4 290.9 L593.4 292.3 L593.5 292.6 L593.6 291.4 L593.7 290.9 L593.7 291.9 L593.8 292.2 L593.9 291.3 L594.0 291.9 L594.0 292.5 L594.1 293.0 L594.2 293.2 L594.3 292.8 L594.3 292.8 L594.4 291.3 L594.5 290.5 L594.5 290.9 L594.6 293.2 L594.7 292.4 L594.8 290.0 L594.8 291.3 L594.9 293.6 L595.0 292.5 L595.1 291.9 L595.1 292.7 L595.2 293.3 L595.3 289.5 L595.4 289.7 L595.4 291.3 L595.5 293.1 L595.6 294.8 L595.7 293.6 L595.7 290.7 L595.8 290.5 L595.9 292.2 L596.0 293.2 L596.0 291.3 L596.1 291.9 L596.2 292.6 L596.3 291.2 L596.3 291.1 L596.4 292.1 L596.5 292.8 L596.5 293.1 L596.6 292.7 L596.7 292.3 L596.8 291.1 L596.8 289.3 L596.9 291.8 L597.0 291.7 L597.1 289.6 L597.1 292.5 L597.2 295.6 L597.3 295.3 L597.4 292.7 L597.4 290.8 L597.5 290.2 L597.6 291.9 L597.7 291.3 L597.7 292.5 L597.8 291.5 L597.9 291.4 L598.0 291.9 L598.0 293.1 L598.1 295.3 L598.2 291.9 L598.3 289.0 L598.3 289.8 L598.4 292.5 L598.5 293.1 L598.5 292.7 L598.6 290.5 L598.7 291.9 L598.8 295.4 L598.8 293.1 L598.9 289.4 L599.0 290.3 L599.1 292.3 L599.1 293.3 L599.2 294.3 L599.3 292.6 L599.4 289.9 L599.4 289.6 L599.5 292.8 L599.6 292.9 L599.7 293.0 L599.7 292.6 L599.8 290.1 L599.9 288.8 L600.0 291.7 L600.0 294.1 L600.1 292.9 L600.2 292.8 L600.3 293.1 L600.3 292.0 L600.4 290.9 L600.5 291.4 L600.5 292.3 L600.6 290.4 L600.7 293.9 L600.8 296.7 L600.8 293.3 L600.9 288.3 L601.0 289.4 L601.1 292.6 L601.1 293.1 L601.2 293.4 L601.3 290.7 L601.4 289.3 L601.4 290.6 L601.5 293.4 L601.6 291.6 L601.7 293.2 L601.7 292.8 L601.8 291.1 L601.9 291.6 L602.0 292.6 L602.0 291.2 L602.1 289.7 L602.2 291.1 L602.3 291.8 L602.3 292.5 L602.4 293.5 L602.5 293.3 L602.5 294.9 L602.6 293.0 L602.7 290.8 L602.8 289.9 L602.8 292.8 L602.9 291.9 L603.0 292.2 L603.1 292.1 L603.1 291.7 L603.2 289.7 L603.3 291.2 L603.4 294.2 L603.4 293.3 L603.5 290.9 L603.6 291.7 L603.7 292.5 L603.7 291.9 L603.8 293.3 L603.9 288.5 L604.0 290.4 L604.0 295.2 L604.1 295.0 L604.2 292.9 L604.3 291.4 L604.3 290.2 L604.4 290.2 L604.5 293.9 L604.6 291.2 L604.6 289.6 L604.7 291.7 L604.8 294.3 L604.8 291.5 L604.9 291.2 L605.0 291.1 L605.1 290.3 L605.1 293.1 L605.2 297.1 L605.3 292.4 L605.4 290.6 L605.4 295.0 L605.5 290.9 L605.6 289.6 L605.7 292.9 L605.7 291.3 L605.8 292.8 L605.9 293.3 L606.0 288.4 L606.0 289.4 L606.1 293.7 L606.2 298.9 L606.3 295.7 L606.3 286.9 L606.4 285.0 L606.5 292.2 L606.6 291.7 L606.6 290.9 L606.7 291.4 L606.8 293.4 L606.8 294.1 L606.9 293.3 L607.0 291.8 L607.1 290.8 L607.1 292.4 L607.2 292.5 L607.3 292.7 L607.4 293.6 L607.4 290.2 L607.5 287.7 L607.6 292.0 L607.7 292.2 L607.7 292.0 L607.8 291.6 L607.9 289.7 L608.0 290.2 L608.0 294.2 L608.1 296.0 L608.2 294.5 L608.3 292.5 L608.3 294.2 L608.4 291.0 L608.5 286.1 L608.6 290.3 L608.6 292.5 L608.7 291.3 L608.8 292.3 L608.8 294.5 L608.9 294.4 L609.0 295.1 L609.1 292.9 L609.1 287.3 L609.2 290.3 L609.3 294.9 L609.4 290.4 L609.4 292.5 L609.5 294.7 L609.6 291.1 L609.7 292.2 L609.7 293.6 L609.8 292.8 L609.9 293.0 L610.0 287.8 L610.0 283.4 L610.1 289.2 L610.2 294.6 L610.3 297.5 L610.3 292.5 L610.4 288.5 L610.5 291.0 L610.6 297.2 L610.6 293.9 L610.7 291.6 L610.8 289.7 L610.8 288.4 L610.9 290.5 L611.0 297.0 L611.1 294.4 L611.1 290.2 L611.2 287.9 L611.3 291.1 L611.4 292.0 L611.4 292.7 L611.5 294.0 L611.6 294.2 L611.7 291.9 L611.7 293.1 L611.8 290.6 L611.9 287.8 L612.0 291.5 L612.0 293.0 L612.1 292.2 L612.2 295.1 L612.3 296.4 L612.3 291.3 L612.4 289.4 L612.5 293.1 L612.6 293.9 L612.6 293.5 L612.7 292.1 L612.8 289.9 L612.8 288.8 L612.9 293.2 L613.0 293.7 L613.1 291.3 L613.1 290.7 L613.2 290.3 L613.3 290.1 L613.4 292.8 L613.4 294.6 L613.5 292.9 L613.6 293.3 L613.7 293.3 L613.7 291.1 L613.8 288.2 L613.9 288.3 L614.0 292.0 L614.0 293.9 L614.1 296.0 L614.2 293.7 L614.3 288.0 L614.3 289.7 L614.4 293.7 L614.5 292.4 L614.6 291.3 L614.6 291.8 L614.7 292.6 L614.8 293.6 L614.8 293.2 L614.9 290.9 L615.0 292.3 L615.1 291.3 L615.1 291.0 L615.2 291.8 L615.3 292.4 L615.4 293.2 L615.4 291.6 L615.5 291.2 L615.6 297.8 L615.7 293.2 L615.7 283.9 L615.8 283.7 L615.9 297.9 L616.0 304.6 L616.0 292.2 L616.1 286.4 L616.2 294.5 L616.3 298.1 L616.3 293.4 L616.4 288.9 L616.5 284.9 L616.6 287.3 L616.6 296.0 L616.7 297.1 L616.8 291.2 L616.9 286.2 L616.9 291.1 L617.0 298.3 L617.1 292.9 L617.1 289.6 L617.2 289.1 L617.3 287.3 L617.4 292.9 L617.4 296.2 L617.5 298.1 L617.6 290.3 L617.7 287.7 L617.7 290.8 L617.8 294.1 L617.9 291.6 L618.0 292.2 L618.0 296.0 L618.1 293.6 L618.2 291.3 L618.3 291.0 L618.3 291.6 L618.4 291.1 L618.5 293.4 L618.6 289.5 L618.6 287.0 L618.7 290.1 L618.8 295.0 L618.9 295.5 L618.9 295.5 L619.0 290.4 L619.1 289.8 L619.1 291.9 L619.2 295.1 L619.3 294.7 L619.4 293.7 L619.4 288.8 L619.5 291.1 L619.6 292.3 L619.7 290.7 L619.7 289.7 L619.8 291.0 L619.9 291.3 L620.0 291.5 L620.0 292.5 L620.1 295.2 L620.2 293.0 L620.3 289.2 L620.3 291.7 L620.4 294.2 L620.5 292.3 L620.6 292.7 L620.6 291.6 L620.7 292.3 L620.8 294.4 L620.9 290.9 L620.9 288.8 L621.0 291.4 L621.1 290.8 L621.1 291.6 L621.2 295.4 L621.3 295.4 L621.4 288.7 L621.4 289.8 L621.5 291.5 L621.6 291.0 L621.7 290.5 L621.7 292.9 L621.8 291.1 L621.9 293.8 L622.0 294.9 L622.0 292.5 L622.1 289.3 L622.2 288.9 L622.3 290.3 L622.3 295.8 L622.4 297.0 L622.5 291.6 L622.6 288.4 L622.6 295.1 L622.7 296.4 L622.8 289.2 L622.9 286.2 L622.9 292.4 L623.0 295.9 L623.1 291.1 L623.1 289.4 L623.2 291.9 L623.3 293.6 L623.4 292.9 L623.4 291.1 L623.5 290.2 L623.6 292.7 L623.7 295.4 L623.7 295.9 L623.8 293.4 L623.9 291.5 L624.0 289.3 L624.0 290.8 L624.1 292.0 L624.2 291.0 L624.3 289.2 L624.3 293.7 L624.4 296.5 L624.5 296.1 L624.6 291.3 L624.6 287.5 L624.7 288.8 L624.8 291.6 L624.9 294.9 L624.9 291.8 L625.0 287.1 L625.1 289.0 L625.1 297.1 L625.2 296.4 L625.3 291.1 L625.4 293.4 L625.4 292.6 L625.5 291.4 L625.6 289.3 L625.7 290.7 L625.7 292.3 L625.8 298.3 L625.9 293.8 L626.0 288.5 L626.0 289.1 L626.1 292.0 L626.2 291.1 L626.3 290.2 L626.3 293.5 L626.4 295.1 L626.5 290.3 L626.6 287.2 L626.6 290.3 L626.7 294.9 L626.8 297.4 L626.9 293.3 L626.9 289.0 L627.0 293.0 L627.1 293.9 L627.2 291.6 L627.2 288.9 L627.3 290.1 L627.4 292.5 L627.4 293.7 L627.5 292.7 L627.6 291.6 L627.7 290.7 L627.7 292.5 L627.8 293.3 L627.9 293.5 L628.0 293.4 L628.0 292.5 L628.1 292.4 L628.2 293.2 L628.3 287.9 L628.3 285.8 L628.4 290.8 L628.5 296.1 L628.6 292.5 L628.6 293.1 L628.7 294.6 L628.8 290.4 L628.9 290.6 L628.9 290.7 L629.0 292.5 L629.1 291.1 L629.2 289.4 L629.2 292.6 L629.3 297.6 L629.4 291.3 L629.4 285.9 L629.5 294.5 L629.6 295.9 L629.7 288.0 L629.7 288.0 L629.8 289.9 L629.9 291.4 L630.0 296.4 L630.0 298.3 L630.1 294.1 L630.2 290.1 L630.3 289.1 L630.3 291.5 L630.4 290.6 L630.5 290.2 L630.6 292.8 L630.6 292.7 L630.7 291.1 L630.8 291.8 L630.9 295.4 L630.9 295.8 L631.0 293.2 L631.1 291.9 L631.2 291.1 L631.2 289.6 L631.3 288.3 L631.4 291.0 L631.4 292.2 L631.5 294.7 L631.6 293.2 L631.7 290.9 L631.7 289.4 L631.8 291.6 L631.9 292.6 L632.0 292.8 L632.0 292.3 L632.1 290.1 L632.2 292.2 L632.3 294.5 L632.3 290.1 L632.4 289.0 L632.5 292.4 L632.6 295.9 L632.6 294.0 L632.7 290.7 L632.8 289.1 L632.9 292.6 L632.9 295.0 L633.0 290.7 L633.1 290.7 L633.2 294.4 L633.2 289.4 L633.3 287.2 L633.4 297.2 L633.4 300.1 L633.5 293.7 L633.6 291.7 L633.7 284.7 L633.7 285.9 L633.8 292.1 L633.9 289.5 L634.0 293.2 L634.0 305.6 L634.1 297.1 L634.2 282.9 L634.3 294.6 L634.3 298.8 L634.4 287.0 L634.5 284.0 L634.6 295.4 L634.6 298.6 L634.7 289.4 L634.8 285.1 L634.9 293.3 L634.9 294.6 L635.0 284.9 L635.1 285.0 L635.2 295.6 L635.2 300.9 L635.3 290.8 L635.4 289.7 L635.4 294.3 L635.5 289.6 L635.6 285.5 L635.7 292.5 L635.7 296.3 L635.8 295.6 L635.9 303.4 L636.0 297.3 L636.0 288.0 L636.1 280.8 L636.2 285.9 L636.3 290.3 L636.3 295.6 L636.4 298.8 L636.5 298.7 L636.6 293.2 L636.6 287.9 L636.7 281.3 L636.8 290.0 L636.9 298.9 L636.9 297.3 L637.0 289.8 L637.1 290.4 L637.2 291.5 L637.2 291.8 L637.3 292.5 L637.4 290.4 L637.4 290.5 L637.5 294.4 L637.6 294.6 L637.7 292.0 L637.7 292.2 L637.8 290.1 L637.9 292.1 L638.0 294.4 L638.0 289.7 L638.1 289.9 L638.2 295.5 L638.3 293.1 L638.3 290.1 L638.4 288.4 L638.5 288.9 L638.6 289.2 L638.6 293.5 L638.7 301.3 L638.8 295.4 L638.9 288.0 L638.9 293.5 L639.0 295.7 L639.1 291.1 L639.2 290.7 L639.2 291.8 L639.3 284.0 L639.4 285.4 L639.5 295.6 L639.5 300.5 L639.6 293.1 L639.7 289.6 L639.7 293.8 L639.8 294.6 L639.9 290.6 L640.0 291.1 L640.0 296.3 L640.1 288.9 L640.2 280.6 L640.3 289.2 L640.3 304.8 L640.4 297.2 L640.5 290.0 L640.6 291.7 L640.6 290.7 L640.7 285.8 L640.8 293.2 L640.9 298.0 L640.9 288.4 L641.0 289.2 L641.1 293.3 L641.2 287.6 L641.2 291.3 L641.3 299.1 L641.4 293.7 L641.5 288.0 L641.5 297.0 L641.6 293.4 L641.7 293.0 L641.7 293.3 L641.8 292.8 L641.9 297.7 L642.0 303.5 L642.0 288.7 L642.1 279.4 L642.2 285.3 L642.3 288.4 L642.3 284.9 L642.4 295.8 L642.5 290.1 L642.6 284.0 L642.6 294.4 L642.7 298.0 L642.8 290.6 L642.9 295.1 L642.9 297.7 L643.0 293.7 L643.1 286.6 L643.2 287.8 L643.2 295.1 L643.3 299.8 L643.4 293.5 L643.5 293.8 L643.5 285.6 L643.6 281.2 L643.7 286.5 L643.7 290.8 L643.8 288.6 L643.9 290.9 L644.0 297.8 L644.0 304.4 L644.1 301.8 L644.2 283.2 L644.3 273.5 L644.3 294.8 L644.4 299.2 L644.5 296.2 L644.6 291.5 L644.6 286.9 L644.7 285.9 L644.8 294.4 L644.9 298.4 L644.9 289.3 L645.0 286.6 L645.1 289.5 L645.2 295.0 L645.2 301.7 L645.3 300.0 L645.4 285.6 L645.5 286.9 L645.5 298.7 L645.6 295.0 L645.7 286.4 L645.7 291.6 L645.8 291.6 L645.9 286.6 L646.0 288.5 L646.0 295.5 L646.1 302.0 L646.2 301.6 L646.3 294.6 L646.3 279.1 L646.4 280.3 L646.5 291.4 L646.6 297.8 L646.6 290.9 L646.7 298.0 L646.8 298.2 L646.9 278.6 L646.9 294.8 L647.0 304.0 L647.1 293.0 L647.2 311.1 L647.2 298.8 L647.3 265.8 L647.4 261.5 L647.5 299.2 L647.5 304.3 L647.6 296.5 L647.7 283.4 L647.7 281.6 L647.8 289.2 L647.9 300.4 L648.0 295.6 L648.0 297.1 L648.1 299.6 L648.2 279.3 L648.3 286.6 L648.3 311.1 L648.4 301.6 L648.5 288.3 L648.6 286.2 L648.6 295.2 L648.7 293.8 L648.8 288.9 L648.9 284.7 L648.9 293.7 L649.0 293.6 L649.1 289.5 L649.2 291.6 L649.2 290.6 L649.3 287.4 L649.4 295.3 L649.5 300.4 L649.5 291.4 L649.6 291.6 L649.7 296.6 L649.8 289.1 L649.8 281.3 L649.9 285.9 L650.0 292.1 L650.0 291.1 L650.1 284.0 L650.2 300.8 L650.3 311.1 L650.3 294.0 L650.4 277.7 L650.5 285.4 L650.6 298.2 L650.6 296.8 L650.7 300.2 L650.8 292.6 L650.9 288.4 L650.9 288.0 L651.0 284.8 L651.1 278.9 L651.2 294.8 L651.2 300.1 L651.3 290.1 L651.4 291.7 L651.5 299.1 L651.5 296.0 L651.6 288.0 L651.7 289.8 L651.8 290.8 L651.8 294.5 L651.9 285.7 L652.0 285.6 L652.0 291.4 L652.1 296.6 L652.2 297.5 L652.3 294.9 L652.3 291.3 L652.4 284.2 L652.5 288.5 L652.6 292.7 L652.6 296.8 L652.7 294.6 L652.8 292.2 L652.9 289.9 L652.9 295.1 L653.0 292.9 L653.1 293.7 L653.2 296.8 L653.2 292.2 L653.3 283.0 L653.4 292.7 L653.5 294.6 L653.5 291.5 L653.6 289.5 L653.7 291.4 L653.8 291.5 L653.8 295.6 L653.9 292.9 L654.0 285.6 L654.0 282.8 L654.1 292.6 L654.2 293.8 L654.3 294.0 L654.3 302.5 L654.4 297.1 L654.5 283.9 L654.6 286.5 L654.6 292.8 L654.7 294.1 L654.8 294.3 L654.9 295.8 L654.9 295.6 L655.0 287.9 L655.1 283.8 L655.2 293.0 L655.2 297.5 L655.3 293.4 L655.4 291.8 L655.5 286.8 L655.5 286.9 L655.6 297.8 L655.7 304.0 L655.8 289.3 L655.8 287.4 L655.9 294.1 L656.0 293.1 L656.0 283.7 L656.1 292.3 L656.2 297.3 L656.3 296.1 L656.3 294.1 L656.4 290.8 L656.5 284.5 L656.6 284.6 L656.6 297.0 L656.7 304.0 L656.8 292.1 L656.9 281.6 L656.9 287.1 L657.0 292.6 L657.1 297.2 L657.2 294.7 L657.2 293.9 L657.3 288.8 L657.4 285.9 L657.5 290.6 L657.5 300.6 L657.6 298.9 L657.7 286.5 L657.8 281.7 L657.8 292.0 L657.9 301.1 L658.0 294.0 L658.0 288.2 L658.1 297.4 L658.2 295.7 L658.3 282.5 L658.3 285.5 L658.4 306.7 L658.5 300.2 L658.6 282.8 L658.6 286.5 L658.7 292.8 L658.8 287.7 L658.9 292.4 L658.9 297.2 L659.0 294.3 L659.1 288.4 L659.2 295.1 L659.2 297.7 L659.3 294.4 L659.4 287.5 L659.5 295.9 L659.5 296.1 L659.6 298.6 L659.7 289.1 L659.8 283.8 L659.8 286.5 L659.9 298.5 L660.0 300.5 L660.1 289.8 L660.1 284.9 L660.2 291.3 L660.3 296.6 L660.3 290.6 L660.4 288.6 L660.5 291.1 L660.6 294.3 L660.6 293.6 L660.7 291.9 L660.8 290.8 L660.9 291.0 L660.9 292.1 L661.0 290.9 L661.1 289.5 L661.2 293.7 L661.2 293.7 L661.3 293.4 L661.4 292.9 L661.5 292.4 L661.5 289.2 L661.6 288.1 L661.7 291.5 L661.8 293.8 L661.8 295.9 L661.9 292.9 L662.0 289.1 L662.1 291.6 L662.1 293.1 L662.2 288.5 L662.3 290.8 L662.3 296.8 L662.4 296.7 L662.5 290.9 L662.6 287.1 L662.6 293.9 L662.7 295.6 L662.8 292.3 L662.9 290.4 L662.9 293.9 L663.0 291.8 L663.1 288.7 L663.2 289.9 L663.2 296.9 L663.3 295.1 L663.4 290.2 L663.5 292.3 L663.5 294.6 L663.6 289.7 L663.7 287.6 L663.8 294.0 L663.8 293.5 L663.9 289.7 L664.0 288.8 L664.1 295.8 L664.1 294.3 L664.2 290.9 L664.3 290.9 L664.3 291.9 L664.4 289.6 L664.5 290.1 L664.6 296.4 L664.6 296.6 L664.7 295.8 L664.8 291.5 L664.9 287.0 L664.9 288.0 L665.0 290.7 L665.1 293.9 L665.2 299.1 L665.2 293.0 L665.3 286.9 L665.4 286.3 L665.5 291.4 L665.5 296.0 L665.6 296.5 L665.7 287.1 L665.8 290.8 L665.8 307.1 L665.9 304.4 L666.0 286.0 L666.1 277.0 L666.1 284.1 L666.2 273.0 L666.3 311.0 L666.3 280.6 L666.4 301.5 L666.5 289.8 L666.6 293.0 L666.6 288.7 L666.7 288.1 L666.8 283.6 L666.9 287.8 L666.9 296.3 L667.0 300.0 L667.1 292.7 L667.2 292.9 L667.2 294.1 L667.3 292.2 L667.4 287.9 L667.5 292.0 L667.5 291.8 L667.6 289.9 L667.7 287.2 L667.8 294.2 L667.8 295.9 L667.9 294.1 L668.0 290.5 L668.1 292.6 L668.1 292.2 L668.2 290.2 L668.3 289.7 L668.3 289.4 L668.4 294.0 L668.5 296.1 L668.6 295.4 L668.6 291.1 L668.7 287.7 L668.8 288.1 L668.9 295.1 L668.9 293.7 L669.0 291.4 L669.1 290.6 L669.2 291.8 L669.2 294.7 L669.3 296.3 L669.4 288.7 L669.5 289.0 L669.5 293.7 L669.6 292.9 L669.7 294.2 L669.8 294.4 L669.8 289.2 L669.9 286.8 L670.0 288.0 L670.1 290.6 L670.1 297.4 L670.2 295.3 L670.3 291.3 L670.3 285.7 L670.4 292.6 L670.5 302.3 L670.6 298.6 L670.6 286.2 L670.7 289.9 L670.8 293.6 L670.9 291.8 L670.9 285.2 L671.0 282.6 L671.1 292.7 L671.2 300.2 L671.2 296.5 L671.3 293.6 L671.4 289.7 L671.5 289.0 L671.5 290.2 L671.6 295.0 L671.7 292.2 L671.8 296.2 L671.8 292.9 L671.9 286.3 L672.0 292.3 L672.1 300.0 L672.1 291.1 L672.2 286.8 L672.3 290.7 L672.4 293.3 L672.4 295.1 L672.5 297.6 L672.6 293.8 L672.6 281.8 L672.7 283.3 L672.8 294.2 L672.9 296.3 L672.9 292.0 L673.0 293.1 L673.1 288.5 L673.2 287.9 L673.2 293.0 L673.3 293.5 L673.4 294.0 L673.5 292.9 L673.5 289.6 L673.6 291.2 L673.7 296.5 L673.8 295.9 L673.8 291.7 L673.9 288.4 L674.0 289.3 L674.1 292.4 L674.1 296.6 L674.2 292.5 L674.3 291.5 L674.4 291.9 L674.4 290.1 L674.5 291.4 L674.6 296.7 L674.6 295.5 L674.7 291.5 L674.8 293.0 L674.9 290.8 L674.9 287.1 L675.0 288.7 L675.1 288.7 L675.2 289.4 L675.2 299.0 L675.3 296.7 L675.4 289.2 L675.5 290.7 L675.5 293.8 L675.6 289.2 L675.7 293.4 L675.8 295.2 L675.8 292.8 L675.9 291.6 L676.0 291.1 L676.1 287.4 L676.1 290.4 L676.2 298.1 L676.3 294.2 L676.4 287.8 L676.4 289.5 L676.5 295.7 L676.6 296.6 L676.6 291.8 L676.7 288.3 L676.8 290.9 L676.9 294.7 L676.9 286.6 L677.0 288.0 L677.1 294.4 L677.2 294.2 L677.2 293.2 L677.3 296.5 L677.4 291.0 L677.5 282.9 L677.5 287.7 L677.6 296.8 L677.7 298.2 L677.8 293.4 L677.8 288.8 L677.9 290.8 L678.0 290.3 L678.1 288.8 L678.1 294.0 L678.2 295.2 L678.3 293.0 L678.4 289.1 L678.4 291.6 L678.5 292.9 L678.6 290.9 L678.6 289.5 L678.7 294.5 L678.8 295.1 L678.9 293.8 L678.9 289.8 L679.0 290.4 L679.1 288.9 L679.2 294.1 L679.2 293.3 L679.3 293.1 L679.4 292.5 L679.5 292.3 L679.5 289.2 L679.6 293.2 L679.7 294.5 L679.8 291.7 L679.8 289.8 L679.9 289.2 L680.0 291.9 L680.1 292.7 L680.1 289.2 L680.2 291.9 L680.3 297.7 L680.4 294.0 L680.4 288.9 L680.5 289.6 L680.6 294.1 L680.6 292.4 L680.7 290.4 L680.8 290.5 L680.9 293.8 L680.9 292.6 L681.0 291.1 L681.1 293.3 L681.2 293.7 L681.2 291.5 L681.3 292.4 L681.4 291.2 L681.5 290.7 L681.5 296.5 L681.6 294.5 L681.7 291.2 L681.8 290.3 L681.8 287.9 L681.9 290.5 L682.0 294.2 L682.1 292.8 L682.1 292.8 L682.2 294.1 L682.3 290.7 L682.4 289.8 L682.4 292.1 L682.5 292.6 L682.6 291.5 L682.7 292.5 L682.7 289.8 L682.8 289.6 L682.9 292.2 L682.9 296.2 L683.0 296.1 L683.1 293.9 L683.2 290.6 L683.2 287.5 L683.3 290.9 L683.4 295.0 L683.5 293.1 L683.5 291.5 L683.6 292.5 L683.7 290.5 L683.8 288.6 L683.8 292.4 L683.9 296.9 L684.0 292.7 L684.1 286.8 L684.1 289.8 L684.2 295.7 L684.3 291.4 L684.4 293.3 L684.4 297.7 L684.5 290.4 L684.6 282.8 L684.7 288.4 L684.7 295.8 L684.8 293.5 L684.9 293.2 L684.9 295.8 L685.0 292.5 L685.1 287.4 L685.2 290.6 L685.2 293.9 L685.3 290.9 L685.4 290.8 L685.5 295.3 L685.5 294.8 L685.6 289.4 L685.7 291.3 L685.8 291.3 L685.8 286.9 L685.9 291.3 L686.0 295.2 L686.1 292.8 L686.1 292.6 L686.2 295.4 L686.3 291.3 L686.4 291.2 L686.4 293.6 L686.5 289.1 L686.6 284.2 L686.7 289.6 L686.7 294.0 L686.8 297.2 L686.9 296.6 L686.9 290.8 L687.0 290.9 L687.1 290.9 L687.2 291.8 L687.2 291.7 L687.3 289.8 L687.4 291.0 L687.5 293.5 L687.5 290.6 L687.6 290.6 L687.7 291.9 L687.8 292.7 L687.8 293.9 L687.9 293.0 L688.0 294.0 L688.1 292.5 L688.1 289.3 L688.2 289.3 L688.3 295.3 L688.4 294.5 L688.4 289.4 L688.5 291.4 L688.6 295.6 L688.7 296.7 L688.7 291.4 L688.8 286.8 L688.9 290.6 L688.9 299.1 L689.0 295.2 L689.1 282.9 L689.2 284.7 L689.2 296.1 L689.3 296.8 L689.4 294.8 L689.5 287.4 L689.5 289.7 L689.6 297.2 L689.7 296.3 L689.8 291.3 L689.8 290.3 L689.9 284.5 L690.0 288.3 L690.1 299.5 L690.1 297.6 L690.2 286.7 L690.3 287.4 L690.4 295.2 L690.4 298.3 L690.5 292.5 L690.6 283.5 L690.7 289.7 L690.7 299.0 L690.8 297.9 L690.9 288.5 L690.9 285.8 L691.0 293.2 L691.1 289.7 L691.2 281.7 L691.2 285.2 L691.3 294.0 L691.4 302.4 L691.5 303.2 L691.5 294.2 L691.6 287.1 L691.7 286.6 L691.8 292.4 L691.8 290.6 L691.9 291.0 L692.0 297.0 L692.1 295.5 L692.1 284.8 L692.2 289.2 L692.3 294.4 L692.4 292.8 L692.4 289.9 L692.5 291.9 L692.6 294.7 L692.7 299.4 L692.7 296.2 L692.8 288.2 L692.9 288.9 L692.9 292.2 L693.0 290.0 L693.1 292.6 L693.2 292.1 L693.2 288.4 L693.3 292.0 L693.4 295.5 L693.5 290.3 L693.5 287.8 L693.6 291.0 L693.7 296.1 L693.8 298.4 L693.8 289.5 L693.9 285.8 L694.0 293.2 L694.1 296.9 L694.1 286.9 L694.2 285.8 L694.3 292.4 L694.4 291.5 L694.4 291.6 L694.5 299.3 L694.6 298.6 L694.7 292.2 L694.7 287.4 L694.8 289.7 L694.9 295.1 L695.0 296.6 L695.0 290.6 L695.1 288.6 L695.2 289.7 L695.2 293.0 L695.3 291.5 L695.4 293.8 L695.5 294.3 L695.5 292.7 L695.6 291.6 L695.7 295.1 L695.8 293.8 L695.8 290.4 L695.9 287.1 L696.0 289.7 L696.1 291.0 L696.1 293.4 L696.2 293.8 L696.3 294.2 L696.4 292.9 L696.4 292.7 L696.5 290.8 L696.6 290.9 L696.7 290.0 L696.7 293.9 L696.8 295.7 L696.9 289.4 L697.0 289.2 L697.0 291.9 L697.1 292.8 L697.2 290.1 L697.2 293.3 L697.3 292.4 L697.4 293.5 L697.5 291.9 L697.5 291.3 L697.6 291.3 L697.7 290.4 L697.8 290.2 L697.8 293.1 L697.9 294.1 L698.0 292.0 L698.1 290.5 L698.1 291.0 L698.2 293.7 L698.3 293.1 L698.4 290.7 L698.4 291.9 L698.5 294.7 L698.6 292.3 L698.7 292.0 L698.7 293.6 L698.8 292.4 L698.9 288.0 L699.0 285.8 L699.0 293.2 L699.1 293.8 L699.2 293.0 L699.2 294.4 L699.3 297.2 L699.4 291.8 L699.5 288.3 L699.5 290.6 L699.6 293.5 L699.7 290.9 L699.8 294.3 L699.8 291.0 L699.9 287.2 L700.0 291.5 L700.1 300.2 L700.1 291.3 L700.2 287.6 L700.3 289.7 L700.4 296.5 L700.4 292.5 L700.5 290.0 L700.6 290.3 L700.7 295.8 L700.7 295.9 L700.8 293.4 L700.9 289.3 L701.0 287.9 L701.0 290.5 L701.1 290.4 L701.2 291.5 L701.2 294.6 L701.3 295.2 L701.4 290.5 L701.5 289.4 L701.5 290.1 L701.6 292.9 L701.7 294.4 L701.8 292.6 L701.8 292.0 L701.9 292.0 L702.0 291.9 L702.1 291.8 L702.1 290.4 L702.2 290.0 L702.3 293.6 L702.4 297.7 L702.4 294.4 L702.5 287.2 L702.6 283.7 L702.7 293.1 L702.7 299.0 L702.8 293.8 L702.9 286.4 L703.0 294.2 L703.0 298.8 L703.1 289.3 L703.2 285.5 L703.2 289.8 L703.3 291.6 L703.4 286.7 L703.5 289.4 L703.5 296.7 L703.6 294.5 L703.7 290.3 L703.8 291.3 L703.8 293.1 L703.9 291.3 L704.0 292.2 L704.1 297.0 L704.1 293.6 L704.2 293.5 L704.3 296.6 L704.4 289.2 L704.4 290.1 L704.5 291.1 L704.6 291.5 L704.7 290.7 L704.7 300.6 L704.8 301.3 L704.9 288.1 L705.0 282.7 L705.0 290.7 L705.1 294.9 L705.2 283.2 L705.3 287.2 L705.3 296.3 L705.4 299.0 L705.5 296.9 L705.5 291.8 L705.6 286.3 L705.7 291.3 L705.8 288.5 L705.8 281.4 L705.9 292.6 L706.0 298.1 L706.1 295.1 L706.1 292.1 L706.2 291.4 L706.3 293.4 L706.4 294.5 L706.4 292.1 L706.5 291.6 L706.6 291.4 L706.7 289.8 L706.7 292.4 L706.8 289.6 L706.9 291.4 L707.0 295.3 L707.0 291.6 L707.1 292.2 L707.2 296.2 L707.3 293.1 L707.3 288.8 L707.4 293.2 L707.5 290.7 L707.5 283.5 L707.6 290.3 L707.7 297.4 L707.8 292.4 L707.8 290.9 L707.9 296.8 L708.0 294.2 L708.1 292.3 L708.1 296.2 L708.2 284.2 L708.3 281.0 L708.4 288.4 L708.4 295.0 L708.5 301.4 L708.6 296.3 L708.7 284.1 L708.7 296.7 L708.8 301.1 L708.9 291.7 L709.0 287.6 L709.0 291.1 L709.1 290.0 L709.2 291.3 L709.3 297.6 L709.3 299.0 L709.4 286.1 L709.5 286.3 L709.5 295.0 L709.6 293.0 L709.7 285.5 L709.8 291.2 L709.8 295.9 L709.9 293.6 L710.0 294.1 L710.1 295.9 L710.1 289.7 L710.2 286.7 L710.3 288.5 L710.4 293.6 L710.4 293.6 L710.5 296.5 L710.6 289.6 L710.7 289.2 L710.7 297.6 L710.8 299.9 L710.9 296.1 L711.0 285.2 L711.0 280.3 L711.1 290.8 L711.2 291.5 L711.3 288.4 L711.3 291.6 L711.4 291.3 L711.5 286.8 L711.5 302.5 L711.6 305.1 L711.7 294.9 L711.8 284.7 L711.8 292.8 L711.9 289.6 L712.0 304.5 L712.1 295.9 L712.1 270.8 L712.2 298.1 L712.3 311.1 L712.4 285.0 L712.4 272.9 L712.5 293.6 L712.6 310.1 L712.7 298.9 L712.7 268.7 L712.8 281.7 L712.9 302.5 L713.0 295.5 L713.0 283.5 L713.1 292.4 L713.2 299.8 L713.3 288.1 L713.3 286.1 L713.4 289.2 L713.5 296.2 L713.5 300.7 L713.6 296.6 L713.7 289.2 L713.8 289.3 L713.8 294.2 L713.9 299.4 L714.0 292.0 L714.1 287.8 L714.1 291.8 L714.2 287.3 L714.3 289.9 L714.4 294.1 L714.4 290.2 L714.5 285.5 L714.6 287.0 L714.7 297.1 L714.7 293.2 L714.8 290.8 L714.9 295.8 L715.0 305.1 L715.0 295.6 L715.1 287.4 L715.2 277.5 L715.3 287.2 L715.3 302.3 L715.4 291.6 L715.5 282.8 L715.5 292.6 L715.6 307.4 L715.7 288.5 L715.8 284.4 L715.8 287.3 L715.9 288.3 L716.0 285.9 L716.1 296.3 L716.1 300.9 L716.2 301.1 L716.3 294.1 L716.4 296.9 L716.4 291.8 L716.5 284.2 L716.6 286.9 L716.7 296.7 L716.7 294.2 L716.8 285.7 L716.9 287.8 L717.0 290.4 L717.0 295.6 L717.1 292.0 L717.2 289.2 L717.3 288.8 L717.3 288.9 L717.4 293.2 L717.5 289.9 L717.6 287.7 L717.6 292.0 L717.7 306.4 L717.8 306.2 L717.8 295.9 L717.9 281.2 L718.0 277.0 L718.1 294.7 L718.1 303.1 L718.2 294.6 L718.3 291.9 L718.4 295.0 L718.4 292.6 L718.5 285.5 L718.6 264.0 L718.7 304.0 L718.7 275.2 L718.8 298.0 L718.9 295.1 L719.0 291.9 L719.0 285.7 L719.1 286.5 L719.2 299.4 L719.3 306.4 L719.3 303.0 L719.4 295.7 L719.5 289.2 L719.6 285.5 L719.6 291.9 L719.7 293.5 L719.8 290.6 L719.8 283.8 L719.9 284.8 L720.0 293.0 L720.1 293.8 L720.1 289.6 L720.2 292.4 L720.3 298.7 L720.4 299.2 L720.4 293.3 L720.5 289.3 L720.6 290.7 L720.7 293.9 L720.7 293.3 L720.8 289.8 L720.9 293.5 L721.0 289.6 L721.0 283.6 L721.1 281.9 L721.2 300.2 L721.3 295.7 L721.3 292.6 L721.4 297.9 L721.5 298.8 L721.6 284.5 L721.6 289.6 L721.7 295.4 L721.8 290.0 L721.8 295.6 L721.9 293.3 L722.0 282.1 L722.1 291.3 L722.1 299.6 L722.2 298.4 L722.3 294.9 L722.4 290.2 L722.4 284.0 L722.5 281.6 L722.6 287.9 L722.7 294.8 L722.7 301.3 L722.8 298.1 L722.9 282.4 L723.0 276.9 L723.0 294.5 L723.1 305.1 L723.2 301.2 L723.3 295.7 L723.3 298.1 L723.4 282.0 L723.5 266.0 L723.6 287.2 L723.6 304.3 L723.7 287.2 L723.8 288.0 L723.8 298.8 L723.9 296.1 L724.0 295.8 L724.1 299.2 L724.1 276.2 L724.2 287.0 L724.3 307.6 L724.4 290.0 L724.4 271.3 L724.5 293.0 L724.6 308.8 L724.7 290.8 L724.7 294.0 L724.8 298.1 L724.9 293.7 L725.0 292.9 L725.0 297.1 L725.1 294.6 L725.2 285.5 L725.3 285.3 L725.3 289.5 L725.4 298.3 L725.5 292.6 L725.6 288.6 L725.6 285.4 L725.7 286.0 L725.8 291.7 L725.8 299.6 L725.9 301.7 L726.0 292.3 L726.1 290.2 L726.1 288.4 L726.2 284.8 L726.3 288.1 L726.4 297.2 L726.4 300.0 L726.5 295.5 L726.6 291.2 L726.7 291.1 L726.7 288.4 L726.8 287.6 L726.9 283.1 L727.0 293.1 L727.0 299.1 L727.1 298.0 L727.2 291.6 L727.3 289.9 L727.3 293.3 L727.4 290.9 L727.5 287.5 L727.6 292.2 L727.6 299.6 L727.7 296.8 L727.8 291.1 L727.9 279.1 L727.9 286.9 L728.0 297.5 L728.1 303.4 L728.1 291.1 L728.2 285.1 L728.3 286.3 L728.4 294.0 L728.4 296.4 L728.5 294.7 L728.6 293.1 L728.7 294.7 L728.7 292.3 L728.8 289.5 L728.9 290.1 L729.0 293.8 L729.0 291.1 L729.1 287.9 L729.2 284.3 L729.3 280.6 L729.3 294.1 L729.4 301.2 L729.5 295.8 L729.6 290.0 L729.6 289.3 L729.7 291.3 L729.8 292.0 L729.9 292.3 L729.9 297.6 L730.0 304.5 L730.1 285.1 L730.1 272.2 L730.2 290.9 L730.3 311.1 L730.4 306.7 L730.4 280.6 L730.5 277.8 L730.6 290.1 L730.7 296.4 L730.7 291.7 L730.8 290.3 L730.9 289.6 L731.0 294.9 L731.0 297.2 L731.1 292.8 L731.2 282.5 L731.3 281.4 L731.3 294.8 L731.4 303.0 L731.5 291.2 L731.6 293.5 L731.6 292.4 L731.7 289.5 L731.8 285.7 L731.9 296.0 L731.9 295.9 L732.0 295.6 L732.1 296.0 L732.1 288.6 L732.2 286.6 L732.3 289.6 L732.4 294.5 L732.4 294.2 L732.5 290.9 L732.6 289.9 L732.7 292.1 L732.7 294.5 L732.8 297.4 L732.9 287.5 L733.0 284.8 L733.0 292.2 L733.1 294.9 L733.2 300.9 L733.3 297.4 L733.3 293.1 L733.4 293.6 L733.5 293.4 L733.6 289.1 L733.6 288.0 L733.7 282.5 L733.8 294.4 L733.9 297.5 L733.9 290.2 L734.0 289.2 L734.1 290.4 L734.1 290.8 L734.2 298.3 L734.3 293.2 L734.4 280.8 L734.4 285.0 L734.5 292.4 L734.6 291.5 L734.7 299.8 L734.7 302.3 L734.8 295.7 L734.9 291.7 L735.0 289.0 L735.0 285.9 L735.1 292.8 L735.2 295.5 L735.3 290.7 L735.3 288.5 L735.4 289.8 L735.5 289.4 L735.6 295.1 L735.6 301.1 L735.7 296.5 L735.8 278.4 L735.9 280.0 L735.9 293.9 L736.0 297.8 L736.1 297.7 L736.1 291.9 L736.2 289.8 L736.3 293.5 L736.4 291.5 L736.4 288.1 L736.5 291.4 L736.6 300.1 L736.7 300.9 L736.7 291.3 L736.8 283.3 L736.9 287.4 L737.0 292.1 L737.0 291.9 L737.1 293.9 L737.2 290.5 L737.3 291.0 L737.3 294.9 L737.4 298.7 L737.5 296.7 L737.6 293.4 L737.6 289.0 L737.7 284.1 L737.8 292.1 L737.9 293.9 L737.9 291.0 L738.0 289.0 L738.1 288.2 L738.1 289.5 L738.2 294.9 L738.3 300.4 L738.4 298.5 L738.4 292.2 L738.5 285.3 L738.6 289.6 L738.7 295.0 L738.7 292.9 L738.8 287.2 L738.9 291.7 L739.0 294.6 L739.0 293.6 L739.1 293.8 L739.2 292.6 L739.3 286.5 L739.3 290.2 L739.4 294.7 L739.5 292.4 L739.6 293.5 L739.6 292.6 L739.7 288.3 L739.8 290.6 L739.9 296.9 L739.9 293.1 L740.0 290.9 L740.1 290.9 L740.2 289.9 L740.2 289.5 L740.3 290.3 L740.4 294.3 L740.4 294.6 L740.5 289.3 L740.6 289.0 L740.7 292.7 L740.7 295.6 L740.8 293.4 L740.9 294.1 L741.0 288.0 L741.0 287.7 L741.1 294.6 L741.2 300.3 L741.3 294.1 L741.3 293.2 L741.4 291.2 L741.5 289.1 L741.6 289.0 L741.6 292.1 L741.7 290.9 L741.8 293.1 L741.9 287.8 L741.9 288.9 L742.0 296.0 L742.1 302.6 L742.2 292.3 L742.2 287.1 L742.3 289.7 L742.4 290.3 L742.4 293.4 L742.5 289.7 L742.6 289.7 L742.7 293.3 L742.7 296.3 L742.8 293.5 L742.9 288.2 L743.0 291.2 L743.0 295.0 L743.1 293.4 L743.2 289.0 L743.3 290.1 L743.3 297.3 L743.4 296.3 L743.5 285.9 L743.6 284.3 L743.6 294.1 L743.7 297.6 L743.8 289.4 L743.9 292.5 L743.9 296.7 L744.0 292.0 L744.1 291.4 L744.2 291.8 L744.2 292.3 L744.3 293.1 L744.4 290.4 L744.4 288.9 L744.5 289.9 L744.6 294.5 L744.7 297.0 L744.7 294.6 L744.8 286.9 L744.9 289.6 L745.0 292.7 L745.0 291.2 L745.1 291.7 L745.2 292.9 L745.3 293.8 L745.3 293.4 L745.4 291.8 L745.5 289.9 L745.6 289.3 L745.6 290.2 L745.7 296.8 L745.8 298.4 L745.9 291.3 L745.9 281.5 L746.0 292.0 L746.1 300.3 L746.2 297.2 L746.2 289.5 L746.3 289.1 L746.4 287.9 L746.4 292.5 L746.5 294.5 L746.6 293.2 L746.7 293.4 L746.7 288.8 L746.8 285.9 L746.9 292.5 L747.0 296.5 L747.0 294.3 L747.1 290.3 L747.2 290.4 L747.3 292.2 L747.3 290.0 L747.4 292.8 L747.5 297.0 L747.6 294.1 L747.6 290.5 L747.7 289.1 L747.8 290.7 L747.9 289.2 L747.9 289.6 L748.0 292.0 L748.1 289.2 L748.2 290.9 L748.2 294.7 L748.3 296.2 L748.4 292.7 L748.4 291.5 L748.5 292.2 L748.6 290.4 L748.7 290.8 L748.7 292.8 L748.8 294.8 L748.9 291.4 L749.0 288.7 L749.0 289.3 L749.1 294.0 L749.2 294.4 L749.3 291.7 L749.3 292.3 L749.4 292.1 L749.5 291.2 L749.6 292.8 L749.6 292.6 L749.7 290.0 L749.8 293.1 L749.9 297.3 L749.9 292.2 L750.0 286.3 L750.1 288.0 L750.2 294.1 L750.2 297.5 L750.3 290.4 L750.4 287.4 L750.5 290.9 L750.5 296.4 L750.6 293.2 L750.7 292.3 L750.7 295.6 L750.8 291.5 L750.9 290.5 L751.0 289.9 L751.0 294.1 L751.1 294.2 L751.2 289.5 L751.3 288.5 L751.3 294.6 L751.4 292.2 L751.5 289.7 L751.6 293.4 L751.6 290.2 L751.7 290.2 L751.8 295.8 L751.9 294.1 L751.9 288.4 L752.0 292.2 L752.1 294.2 L752.2 291.9 L752.2 290.2 L752.3 291.1 L752.4 293.9 L752.5 293.3 L752.5 291.4 L752.6 292.5 L752.7 291.8 L752.7 291.3 L752.8 290.4 L752.9 291.1 L753.0 291.5 L753.0 293.3 L753.1 292.2 L753.2 295.0 L753.3 296.7 L753.3 291.2 L753.4 287.8 L753.5 290.0 L753.6 291.4 L753.6 294.0 L753.7 293.4 L753.8 288.5 L753.9 289.3 L753.9 293.3 L754.0 295.2 L754.1 294.7 L754.2 292.0 L754.2 289.5 L754.3 287.8 L754.4 290.5 L754.5 293.0 L754.5 292.1 L754.6 291.7 L754.7 294.6 L754.7 293.3 L754.8 291.8 L754.9 293.9 L755.0 290.9 L755.0 289.7 L755.1 294.8 L755.2 293.8 L755.3 290.3 L755.3 290.6 L755.4 292.2 L755.5 290.8 L755.6 288.9 L755.6 291.2 L755.7 295.2 L755.8 295.5 L755.9 291.6 L755.9 289.2 L756.0 289.9 L756.1 292.6 L756.2 292.5 L756.2 291.8 L756.3 293.8 L756.4 292.1 L756.5 286.6 L756.5 290.1 L756.6 296.8 L756.7 294.6 L756.7 291.1 L756.8 293.7 L756.9 292.1 L757.0 290.7 L757.0 289.1 L757.1 291.5 L757.2 290.9 L757.3 294.5 L757.3 294.9 L757.4 292.7 L757.5 288.6 L757.6 293.4 L757.6 293.1 L757.7 294.5 L757.8 295.1 L757.9 290.1 L757.9 287.3 L758.0 290.9 L758.1 291.5 L758.2 292.0 L758.2 292.5 L758.3 291.7 L758.4 295.3 L758.5 294.1 L758.5 288.8 L758.6 289.0 L758.7 292.8 L758.7 292.4 L758.8 293.2 L758.9 291.3 L759.0 291.1 L759.0 294.6 L759.1 293.7 L759.2 291.7 L759.3 292.9 L759.3 290.4 L759.4 288.1 L759.5 292.3 L759.6 291.4 L759.6 291.5 L759.7 292.4 L759.8 290.1 L759.9 289.5 L759.9 294.0 L760.0 294.4 L760.1 294.1 L760.2 297.2 L760.2 291.3 L760.3 286.5 L760.4 288.7 L760.5 291.2 L760.5 295.0 L760.6 296.6 L760.7 294.5 L760.7 288.7 L760.8 289.2 L760.9 296.5 L761.0 294.4 L761.0 287.4 L761.1 288.7 L761.2 295.1 L761.3 294.0 L761.3 290.5 L761.4 289.1 L761.5 287.5 L761.6 288.4 L761.6 288.9 L761.7 297.5 L761.8 299.9 L761.9 294.4 L761.9 286.8 L762.0 294.2 L762.1 294.8 L762.2 290.2 L762.2 285.3 L762.3 299.2 L762.4 296.0 L762.5 288.1 L762.5 289.6 L762.6 294.3 L762.7 296.1 L762.8 294.2 L762.8 284.8 L762.9 296.7 L763.0 304.6 L763.0 282.3 L763.1 278.0 L763.2 289.9 L763.3 295.2 L763.3 288.9 L763.4 293.1 L763.5 294.1 L763.6 294.1 L763.6 291.7 L763.7 291.0 L763.8 288.9 L763.9 294.2 L763.9 295.8 L764.0 288.9 L764.1 292.1 L764.2 294.7 L764.2 293.5 L764.3 295.6 L764.4 300.5 L764.5 291.5 L764.5 283.1 L764.6 284.7 L764.7 291.6 L764.8 291.8 L764.8 287.2 L764.9 288.5 L765.0 297.2 L765.0 300.0 L765.1 291.7 L765.2 290.5 L765.3 294.6 L765.3 291.3 L765.4 290.4 L765.5 294.2 L765.6 293.0 L765.6 291.0 L765.7 293.0 L765.8 289.4 L765.9 290.7 L765.9 297.7 L766.0 293.6 L766.1 289.3 L766.2 292.4 L766.2 294.2 L766.3 290.2 L766.4 286.4 L766.5 288.4 L766.5 295.4 L766.6 296.3 L766.7 291.6 L766.8 291.1 L766.8 295.8 L766.9 294.4 L767.0 288.3 L767.0 286.0 L767.1 288.6 L767.2 293.5 L767.3 294.8 L767.3 291.9 L767.4 290.5 L767.5 295.8 L767.6 294.0 L767.6 289.7 L767.7 290.9 L767.8 295.1 L767.9 294.7 L767.9 290.4 L768.0 288.8 L768.1 291.0 L768.2 291.5 L768.2 291.4 L768.3 293.4 L768.4 296.9 L768.5 293.8 L768.5 287.6 L768.6 289.0 L768.7 295.2 L768.8 296.3 L768.8 292.1 L768.9 289.8 L769.0 292.9 L769.0 293.2 L769.1 290.9 L769.2 290.5 L769.3 292.8 L769.3 292.4 L769.4 290.6 L769.5 287.3 L769.6 291.3 L769.6 296.6 L769.7 293.7 L769.8 288.0 L769.9 290.0 L769.9 292.3 L770.0 293.7 L770.1 295.1 L770.2 292.2 L770.2 287.1 L770.3 290.3 L770.4 292.7 L770.5 290.3 L770.5 292.3 L770.6 300.5 L770.7 301.6 L770.8 287.9 L770.8 281.4 L770.9 289.6 L771.0 293.7 L771.0 290.7 L771.1 293.2 L771.2 295.7 L771.3 292.8 L771.3 287.1 L771.4 290.6 L771.5 298.5 L771.6 297.1 L771.6 290.4 L771.7 284.7 L771.8 286.3 L771.9 290.3 L771.9 293.5 L772.0 294.2 L772.1 295.8 L772.2 290.0 L772.2 286.3 L772.3 298.5 L772.4 298.6 L772.5 286.5 L772.5 284.2 L772.6 291.9 L772.7 293.0 L772.8 289.3 L772.8 294.1 L772.9 293.8 L773.0 291.9 L773.1 288.8 L773.1 290.2 L773.2 295.9 L773.3 295.6 L773.3 289.7 L773.4 293.4 L773.5 296.4 L773.6 293.2 L773.6 288.8 L773.7 289.8 L773.8 291.9 L773.9 294.2 L773.9 289.0 L774.0 291.4 L774.1 295.3 L774.2 293.3 L774.2 290.7 L774.3 291.7 L774.4 290.8 L774.5 288.9 L774.5 292.9 L774.6 294.8 L774.7 293.3 L774.8 293.4 L774.8 292.1 L774.9 290.3 L775.0 290.5 L775.1 292.7 L775.1 292.9 L775.2 293.0 L775.3 292.5 L775.3 292.2 L775.4 291.1 L775.5 291.9 L775.6 290.3 L775.6 291.8 L775.7 293.9 L775.8 291.1 L775.9 288.5 L775.9 292.3 L776.0 295.1 L776.1 290.1 L776.2 292.1 L776.2 294.0 L776.3 292.3 L776.4 292.6 L776.5 294.3 L776.5 291.1 L776.6 292.3 L776.7 293.2 L776.8 293.2 L776.8 292.1 L776.9 291.6 L777.0 291.8 L777.1 293.4 L777.1 291.8 L777.2 291.2 L777.3 292.6 L777.3 291.0 L777.4 290.2 L777.5 290.1 L777.6 291.3 L777.6 293.1 L777.7 295.1 L777.8 291.8 L777.9 290.1 L777.9 292.1 L778.0 292.3 L778.1 290.9 L778.2 292.8 L778.2 294.0 L778.3 293.2 L778.4 292.9 L778.5 292.1 L778.5 288.9 L778.6 290.1 L778.7 290.9 L778.8 294.6 L778.8 294.1 L778.9 292.7 L779.0 289.4 L779.1 290.5 L779.1 292.7 L779.2 295.4 L779.3 289.1 L779.3 288.7 L779.4 297.1 L779.5 299.2 L779.6 289.8 L779.6 287.9 L779.7 291.3 L779.8 293.9 L779.9 292.3 L779.9 291.1 L780.0 293.5 L780.1 292.9 L780.2 291.8 L780.2 289.8 L780.3 288.9 L780.4 290.7 L780.5 295.2 L780.5 293.1 L780.6 292.8 L780.7 291.0 L780.8 287.6 L780.8 289.5 L780.9 292.1 L781.0 290.1 L781.1 293.7 L781.1 299.5 L781.2 297.5 L781.3 293.0 L781.3 289.4 L781.4 285.9 L781.5 289.9 L781.6 295.2 L781.6 293.1 L781.7 288.9 L781.8 293.0 L781.9 297.1 L781.9 293.5 L782.0 290.2 L782.1 290.2 L782.2 293.4 L782.2 295.0 L782.3 292.7 L782.4 291.2 L782.5 292.2 L782.5 288.9 L782.6 289.4 L782.7 293.4 L782.8 295.6 L782.8 291.3 L782.9 292.1 L783.0 294.3 L783.1 293.7 L783.1 290.9 L783.2 288.8 L783.3 291.0 L783.3 293.9 L783.4 293.0 L783.5 291.3 L783.6 291.0 L783.6 291.9 L783.7 292.9 L783.8 292.7 L783.9 292.2 L783.9 290.5 L784.0 289.7 L784.1 290.2 L784.2 292.4 L784.2 292.8 L784.3 293.4 L784.4 294.3 L784.5 293.8 L784.5 292.0 L784.6 289.1 L784.7 293.8 L784.8 298.0 L784.8 291.1 L784.9 289.2 L785.0 291.6 L785.1 288.3 L785.1 292.1 L785.2 291.2 L785.3 292.0 L785.4 290.3 L785.4 286.9 L785.5 289.3 L785.6 297.8 L785.6 291.8 L785.7 286.3 L785.8 290.7 L785.9 293.8 L785.9 293.7 L786.0 296.9 L786.1 300.3 L786.2 293.2 L786.2 284.5 L786.3 286.9 L786.4 292.6 L786.5 291.1 L786.5 293.1 L786.6 293.6 L786.7 295.0 L786.8 292.3 L786.8 291.1 L786.9 288.3 L787.0 293.6 L787.1 293.8 L787.1 291.0 L787.2 293.7 L787.3 295.5 L787.4 290.1 L787.4 289.4 L787.5 288.4 L787.6 289.6 L787.6 293.6 L787.7 296.2 L787.8 293.5 L787.9 291.2 L787.9 293.5 L788.0 292.9 L788.1 289.5 L788.2 291.1 L788.2 294.2 L788.3 288.9 L788.4 289.8 L788.5 292.7 L788.5 292.4 L788.6 292.1 L788.7 291.9 L788.8 291.8 L788.8 292.7 L788.9 292.6 L789.0 290.2 L789.1 291.5 L789.1 294.2 L789.2 294.2 L789.3 292.5 L789.4 291.5 L789.4 291.2 L789.5 291.5" fill="none" stroke="#006400" stroke-width="0.50" stroke-linejoin="bevel"/>
<rect x="507.2" y="259.2" width="283.1" height="53.1" fill="none" stroke="#000" stroke-width="1.4"/>
<g stroke="#000" stroke-width="0.8">
<line x1="512.4" y1="259.2" x2="512.4" y2="253.9"/>
<line x1="512.4" y1="312.3" x2="512.4" y2="317.8"/>
<line x1="536.1" y1="259.2" x2="536.1" y2="253.9"/>
<line x1="536.1" y1="312.3" x2="536.1" y2="317.8"/>
<line x1="559.7" y1="259.2" x2="559.7" y2="253.9"/>
<line x1="559.7" y1="312.3" x2="559.7" y2="317.8"/>
<line x1="583.4" y1="259.2" x2="583.4" y2="253.9"/>
<line x1="583.4" y1="312.3" x2="583.4" y2="317.8"/>
<line x1="607.0" y1="259.2" x2="607.0" y2="253.9"/>
<line x1="607.0" y1="312.3" x2="607.0" y2="317.8"/>
<line x1="630.7" y1="259.2" x2="630.7" y2="253.9"/>
<line x1="630.7" y1="312.3" x2="630.7" y2="317.8"/>
<line x1="654.4" y1="259.2" x2="654.4" y2="253.9"/>
<line x1="654.4" y1="312.3" x2="654.4" y2="317.8"/>
<line x1="678.0" y1="259.2" x2="678.0" y2="253.9"/>
<line x1="678.0" y1="312.3" x2="678.0" y2="317.8"/>
<line x1="701.7" y1="259.2" x2="701.7" y2="253.9"/>
<line x1="701.7" y1="312.3" x2="701.7" y2="317.8"/>
<line x1="725.3" y1="259.2" x2="725.3" y2="253.9"/>
<line x1="725.3" y1="312.3" x2="725.3" y2="317.8"/>
<line x1="749.0" y1="259.2" x2="749.0" y2="253.9"/>
<line x1="749.0" y1="312.3" x2="749.0" y2="317.8"/>
<line x1="772.7" y1="259.2" x2="772.7" y2="253.9"/>
<line x1="772.7" y1="312.3" x2="772.7" y2="317.8"/>
</g>
<g font-family="Liberation Sans, sans-serif" font-size="10.5" fill="#111" text-anchor="middle">
<text x="512.4" y="329.5">25</text>
<text x="536.1" y="329.5">30</text>
<text x="559.7" y="329.5">35</text>
<text x="583.4" y="329.5">40</text>
<text x="607.0" y="329.5">45</text>
<text x="630.7" y="329.5">50</text>
<text x="654.4" y="329.5">55</text>
<text x="678.0" y="329.5">00</text>
<text x="701.7" y="329.5">05</text>
<text x="725.3" y="329.5">10</text>
<text x="749.0" y="329.5">15</text>
<text x="772.7" y="329.5">20</text>
</g>
<text x="799.0" y="266.9" font-family="Liberation Sans, sans-serif" font-size="10" font-weight="bold" fill="#0000ff">Sarapiqui</text>
<text x="799.0" y="289.6" font-family="Liberation Sans, sans-serif" font-size="10" fill="#111">Acel. Max. 0.0</text>
<text x="799.0" y="307.9" font-family="Liberation Sans, sans-serif" font-size="10" fill="#111">Int JMA: 0</text>
<path d="M508.0 369.4 L508.1 372.3 L508.2 367.2 L508.3 365.5 L508.4 369.5 L508.5 366.7 L508.6 364.9 L508.7 369.8 L508.8 369.7 L508.8 365.4 L508.9 368.6 L509.0 371.5 L509.1 370.2 L509.2 362.7 L509.3 367.3 L509.4 380.1 L509.5 377.8 L509.6 356.9 L509.7 362.6 L509.8 367.2 L509.9 366.6 L510.0 367.2 L510.1 372.8 L510.2 374.9 L510.3 371.7 L510.3 364.0 L510.4 363.0 L510.5 368.4 L510.6 371.1 L510.7 371.1 L510.8 365.2 L510.9 366.1 L511.0 369.2 L511.1 370.3 L511.2 369.5 L511.3 371.2 L511.4 372.3 L511.5 368.1 L511.6 368.9 L511.7 364.4 L511.8 363.2 L511.8 368.7 L511.9 372.7 L512.0 370.7 L512.1 372.2 L512.2 370.4 L512.3 365.3 L512.4 364.1 L512.5 368.3 L512.6 372.5 L512.7 368.0 L512.8 363.3 L512.9 366.2 L513.0 371.5 L513.1 373.7 L513.2 370.9 L513.3 371.9 L513.4 367.8 L513.4 363.0 L513.5 364.0 L513.6 371.4 L513.7 368.0 L513.8 365.5 L513.9 369.6 L514.0 371.2 L514.1 370.5 L514.2 364.1 L514.3 360.2 L514.4 369.7 L514.5 373.7 L514.6 377.5 L514.7 375.7 L514.8 362.9 L514.9 356.8 L514.9 367.1 L515.0 375.2 L515.1 370.8 L515.2 365.7 L515.3 369.0 L515.4 375.2 L515.5 369.6 L515.6 365.6 L515.7 368.0 L515.8 370.3 L515.9 367.7 L516.0 364.6 L516.1 364.9 L516.2 367.8 L516.3 370.2 L516.4 373.4 L516.4 368.9 L516.5 364.7 L516.6 365.2 L516.7 370.0 L516.8 373.2 L516.9 368.5 L517.0 364.6 L517.1 371.5 L517.2 374.4 L517.3 369.8 L517.4 362.8 L517.5 360.8 L517.6 371.7 L517.7 378.7 L517.8 370.9 L517.9 363.4 L517.9 372.5 L518.0 365.3 L518.1 366.4 L518.2 367.9 L518.3 369.0 L518.4 369.1 L518.5 366.3 L518.6 359.5 L518.7 347.5 L518.8 390.5 L518.9 355.9 L519.0 379.5 L519.1 364.2 L519.2 374.2 L519.3 371.6 L519.4 362.4 L519.5 363.4 L519.5 366.7 L519.6 370.9 L519.7 371.1 L519.8 364.7 L519.9 367.0 L520.0 372.1 L520.1 371.0 L520.2 366.5 L520.3 367.4 L520.4 369.7 L520.5 373.3 L520.6 373.1 L520.7 369.9 L520.8 366.3 L520.9 366.7 L521.0 369.5 L521.0 370.1 L521.1 368.4 L521.2 366.8 L521.3 363.6 L521.4 364.4 L521.5 371.3 L521.6 371.7 L521.7 367.3 L521.8 365.7 L521.9 368.2 L522.0 371.8 L522.1 370.0 L522.2 366.0 L522.3 367.9 L522.4 370.3 L522.5 370.2 L522.5 370.2 L522.6 366.6 L522.7 363.5 L522.8 367.9 L522.9 370.2 L523.0 370.3 L523.1 369.1 L523.2 368.3 L523.3 367.4 L523.4 368.6 L523.5 368.6 L523.6 369.0 L523.7 367.6 L523.8 367.4 L523.9 369.0 L524.0 370.1 L524.1 371.2 L524.1 369.4 L524.2 367.6 L524.3 366.7 L524.4 366.8 L524.5 366.4 L524.6 370.3 L524.7 370.2 L524.8 369.1 L524.9 367.1 L525.0 368.1 L525.1 367.9 L525.2 368.1 L525.3 368.9 L525.4 370.2 L525.5 368.0 L525.6 366.2 L525.6 368.5 L525.7 371.9 L525.8 371.4 L525.9 368.9 L526.0 366.2 L526.1 365.8 L526.2 369.5 L526.3 369.7 L526.4 368.0 L526.5 369.3 L526.6 369.8 L526.7 367.6 L526.8 365.4 L526.9 367.0 L527.0 368.1 L527.1 370.3 L527.1 371.2 L527.2 370.6 L527.3 367.2 L527.4 367.5 L527.5 371.2 L527.6 365.1 L527.7 361.5 L527.8 368.7 L527.9 375.9 L528.0 369.1 L528.1 365.0 L528.2 367.4 L528.3 374.5 L528.4 368.0 L528.5 363.3 L528.6 367.7 L528.7 370.5 L528.7 370.6 L528.8 373.4 L528.9 367.8 L529.0 365.2 L529.1 367.4 L529.2 370.0 L529.3 371.0 L529.4 369.4 L529.5 365.8 L529.6 365.9 L529.7 369.6 L529.8 371.9 L529.9 368.7 L530.0 365.1 L530.1 365.5 L530.2 370.4 L530.2 368.0 L530.3 366.7 L530.4 369.2 L530.5 370.8 L530.6 368.8 L530.7 367.2 L530.8 367.9 L530.9 367.9 L531.0 367.0 L531.1 369.3 L531.2 370.7 L531.3 370.2 L531.4 369.1 L531.5 369.9 L531.6 369.4 L531.7 369.2 L531.7 368.8 L531.8 367.4 L531.9 366.3 L532.0 368.7 L532.1 366.5 L532.2 367.5 L532.3 370.1 L532.4 369.1 L532.5 367.8 L532.6 367.2 L532.7 367.9 L532.8 370.1 L532.9 371.4 L533.0 369.3 L533.1 366.7 L533.2 367.2 L533.2 369.4 L533.3 368.2 L533.4 365.0 L533.5 368.1 L533.6 371.6 L533.7 368.3 L533.8 367.7 L533.9 369.0 L534.0 369.8 L534.1 366.8 L534.2 366.9 L534.3 366.2 L534.4 370.7 L534.5 372.7 L534.6 367.5 L534.7 368.0 L534.8 368.6 L534.8 366.8 L534.9 365.7 L535.0 371.2 L535.1 370.3 L535.2 367.1 L535.3 365.6 L535.4 370.3 L535.5 373.9 L535.6 370.6 L535.7 368.2 L535.8 367.6 L535.9 368.1 L536.0 367.2 L536.1 370.8 L536.2 372.4 L536.3 368.6 L536.3 364.9 L536.4 365.9 L536.5 370.4 L536.6 370.1 L536.7 362.0 L536.8 364.1 L536.9 377.6 L537.0 373.6 L537.1 364.9 L537.2 367.2 L537.3 371.4 L537.4 368.4 L537.5 366.8 L537.6 370.2 L537.7 367.4 L537.8 363.6 L537.8 366.4 L537.9 370.3 L538.0 369.3 L538.1 368.7 L538.2 367.7 L538.3 362.2 L538.4 368.6 L538.5 377.3 L538.6 372.2 L538.7 364.5 L538.8 366.7 L538.9 371.8 L539.0 369.0 L539.1 367.0 L539.2 371.2 L539.3 369.1 L539.4 366.7 L539.4 367.4 L539.5 367.9 L539.6 366.6 L539.7 368.5 L539.8 370.5 L539.9 368.3 L540.0 367.4 L540.1 367.3 L540.2 369.2 L540.3 368.7 L540.4 368.0 L540.5 370.2 L540.6 370.5 L540.7 369.1 L540.8 365.9 L540.9 370.0 L540.9 371.2 L541.0 367.6 L541.1 365.3 L541.2 368.3 L541.3 369.9 L541.4 367.9 L541.5 367.7 L541.6 368.4 L541.7 369.2 L541.8 368.2 L541.9 367.7 L542.0 369.8 L542.1 370.6 L542.2 370.8 L542.3 366.3 L542.4 365.0 L542.4 367.5 L542.5 370.1 L542.6 368.1 L542.7 367.4 L542.8 371.8 L542.9 369.6 L543.0 369.6 L543.1 367.9 L543.2 366.3 L543.3 370.0 L543.4 369.1 L543.5 364.9 L543.6 368.7 L543.7 373.2 L543.8 370.0 L543.9 368.1 L544.0 369.2 L544.0 366.9 L544.1 365.3 L544.2 365.3 L544.3 364.6 L544.4 371.1 L544.5 375.0 L544.6 365.8 L544.7 368.4 L544.8 370.6 L544.9 365.0 L545.0 367.8 L545.1 376.3 L545.2 367.4 L545.3 366.7 L545.4 369.8 L545.5 365.6 L545.5 367.0 L545.6 371.0 L545.7 367.6 L545.8 367.6 L545.9 367.6 L546.0 365.0 L546.1 366.2 L546.2 372.0 L546.3 370.0 L546.4 366.6 L546.5 365.3 L546.6 367.4 L546.7 370.7 L546.8 372.6 L546.9 369.5 L547.0 370.4 L547.0 369.3 L547.1 366.3 L547.2 365.7 L547.3 371.9 L547.4 367.7 L547.5 368.6 L547.6 370.6 L547.7 368.0 L547.8 365.5 L547.9 368.7 L548.0 371.1 L548.1 370.2 L548.2 367.0 L548.3 363.7 L548.4 366.7 L548.5 370.0 L548.5 368.2 L548.6 369.5 L548.7 372.1 L548.8 368.0 L548.9 367.1 L549.0 367.1 L549.1 368.1 L549.2 368.0 L549.3 367.7 L549.4 369.4 L549.5 372.4 L549.6 369.9 L549.7 367.0 L549.8 366.0 L549.9 367.9 L550.0 369.7 L550.1 370.2 L550.1 369.1 L550.2 366.7 L550.3 368.8 L550.4 368.4 L550.5 366.5 L550.6 366.2 L550.7 369.7 L550.8 369.1 L550.9 367.7 L551.0 368.5 L551.1 370.1 L551.2 369.0 L551.3 368.7 L551.4 367.7 L551.5 369.3 L551.6 369.1 L551.6 367.7 L551.7 364.9 L551.8 369.3 L551.9 371.6 L552.0 370.2 L552.1 367.2 L552.2 368.8 L552.3 368.4 L552.4 369.5 L552.5 368.7 L552.6 367.9 L552.7 369.1 L552.8 367.6 L552.9 366.9 L553.0 369.4 L553.1 370.8 L553.1 368.4 L553.2 368.8 L553.3 368.4 L553.4 367.1 L553.5 366.1 L553.6 368.7 L553.7 370.0 L553.8 367.8 L553.9 367.0 L554.0 366.9 L554.1 368.3 L554.2 369.4 L554.3 371.7 L554.4 367.2 L554.5 368.0 L554.6 371.3 L554.7 371.0 L554.7 368.4 L554.8 368.6 L554.9 368.2 L555.0 367.9 L555.1 367.5 L555.2 367.0 L555.3 366.0 L555.4 370.1 L555.5 372.7 L555.6 367.2 L555.7 364.7 L555.8 370.3 L555.9 374.4 L556.0 369.5 L556.1 362.1 L556.2 366.4 L556.2 369.9 L556.3 368.5 L556.4 364.7 L556.5 371.2 L556.6 371.4 L556.7 369.1 L556.8 366.0 L556.9 367.2 L557.0 369.7 L557.1 369.0 L557.2 367.5 L557.3 370.0 L557.4 369.5 L557.5 366.6 L557.6 369.7 L557.7 368.6 L557.7 367.9 L557.8 370.8 L557.9 372.1 L558.0 369.8 L558.1 368.8 L558.2 364.4 L558.3 364.6 L558.4 372.3 L558.5 373.2 L558.6 364.8 L558.7 365.8 L558.8 366.8 L558.9 366.4 L559.0 370.7 L559.1 370.7 L559.2 368.6 L559.3 369.7 L559.3 369.3 L559.4 365.5 L559.5 364.2 L559.6 367.2 L559.7 370.7 L559.8 370.5 L559.9 369.5 L560.0 368.1 L560.1 367.2 L560.2 367.0 L560.3 368.2 L560.4 370.5 L560.5 369.7 L560.6 368.2 L560.7 367.0 L560.8 369.1 L560.8 369.7 L560.9 367.9 L561.0 367.6 L561.1 371.4 L561.2 369.1 L561.3 366.8 L561.4 367.0 L561.5 368.3 L561.6 369.9 L561.7 370.1 L561.8 366.2 L561.9 363.4 L562.0 370.2 L562.1 373.3 L562.2 369.4 L562.3 367.2 L562.3 369.3 L562.4 369.0 L562.5 368.3 L562.6 369.1 L562.7 368.4 L562.8 365.5 L562.9 367.6 L563.0 368.1 L563.1 367.1 L563.2 369.1 L563.3 369.1 L563.4 367.6 L563.5 366.4 L563.6 369.1 L563.7 370.6 L563.8 370.6 L563.8 367.7 L563.9 367.0 L564.0 368.8 L564.1 371.1 L564.2 368.7 L564.3 367.6 L564.4 369.6 L564.5 365.6 L564.6 363.2 L564.7 368.9 L564.8 372.1 L564.9 368.9 L565.0 369.1 L565.1 368.9 L565.2 366.9 L565.3 368.2 L565.4 369.1 L565.4 370.7 L565.5 371.9 L565.6 372.3 L565.7 367.5 L565.8 364.8 L565.9 366.3 L566.0 368.9 L566.1 366.0 L566.2 366.5 L566.3 373.5 L566.4 373.6 L566.5 365.6 L566.6 364.7 L566.7 368.7 L566.8 372.1 L566.9 370.1 L566.9 364.6 L567.0 364.6 L567.1 369.0 L567.2 370.8 L567.3 370.5 L567.4 369.4 L567.5 365.6 L567.6 365.0 L567.7 370.5 L567.8 372.2 L567.9 367.2 L568.0 367.2 L568.1 370.1 L568.2 370.1 L568.3 367.8 L568.4 368.0 L568.4 367.9 L568.5 367.3 L568.6 369.5 L568.7 370.8 L568.8 369.0 L568.9 364.4 L569.0 366.4 L569.1 369.8 L569.2 367.7 L569.3 368.1 L569.4 370.1 L569.5 369.4 L569.6 366.8 L569.7 365.6 L569.8 370.0 L569.9 372.9 L570.0 372.7 L570.0 369.6 L570.1 367.0 L570.2 364.6 L570.3 361.9 L570.4 370.3 L570.5 374.8 L570.6 371.2 L570.7 363.9 L570.8 364.4 L570.9 367.1 L571.0 370.6 L571.1 371.5 L571.2 369.7 L571.3 365.0 L571.4 364.9 L571.5 373.3 L571.5 366.4 L571.6 361.5 L571.7 373.0 L571.8 375.1 L571.9 367.9 L572.0 366.7 L572.1 368.0 L572.2 365.9 L572.3 366.9 L572.4 367.5 L572.5 367.8 L572.6 369.1 L572.7 372.0 L572.8 371.4 L572.9 367.2 L573.0 365.9 L573.0 364.2 L573.1 368.0 L573.2 373.8 L573.3 374.1 L573.4 369.3 L573.5 366.5 L573.6 364.2 L573.7 365.9 L573.8 367.4 L573.9 370.8 L574.0 371.7 L574.1 368.8 L574.2 366.7 L574.3 370.0 L574.4 370.7 L574.5 368.1 L574.6 367.1 L574.6 368.5 L574.7 369.5 L574.8 369.4 L574.9 368.9 L575.0 367.2 L575.1 365.3 L575.2 368.6 L575.3 371.9 L575.4 369.1 L575.5 367.6 L575.6 368.5 L575.7 371.2 L575.8 369.6 L575.9 367.1 L576.0 368.3 L576.1 370.0 L576.1 367.4 L576.2 369.0 L576.3 369.2 L576.4 366.5 L576.5 364.6 L576.6 365.0 L576.7 370.2 L576.8 371.1 L576.9 368.1 L577.0 371.1 L577.1 368.7 L577.2 363.0 L577.3 366.5 L577.4 371.6 L577.5 369.5 L577.6 366.8 L577.6 367.6 L577.7 366.5 L577.8 369.3 L577.9 372.4 L578.0 369.5 L578.1 369.6 L578.2 370.5 L578.3 364.3 L578.4 360.9 L578.5 373.2 L578.6 374.4 L578.7 364.6 L578.8 365.2 L578.9 370.5 L579.0 366.4 L579.1 367.6 L579.1 373.6 L579.2 370.5 L579.3 366.7 L579.4 368.7 L579.5 366.1 L579.6 364.4 L579.7 371.1 L579.8 370.2 L579.9 368.2 L580.0 370.4 L580.1 369.7 L580.2 365.8 L580.3 366.1 L580.4 371.9 L580.5 373.4 L580.6 364.5 L580.7 361.0 L580.7 368.9 L580.8 370.7 L580.9 369.1 L581.0 369.5 L581.1 370.0 L581.2 368.4 L581.3 368.9 L581.4 369.4 L581.5 365.3 L581.6 366.8 L581.7 369.4 L581.8 366.0 L581.9 365.4 L582.0 370.2 L582.1 371.6 L582.2 372.0 L582.2 371.0 L582.3 371.8 L582.4 365.0 L582.5 365.5 L582.6 370.3 L582.7 369.6 L582.8 367.3 L582.9 362.6 L583.0 367.4 L583.1 374.3 L583.2 374.2 L583.3 365.4 L583.4 364.2 L583.5 368.1 L583.6 370.4 L583.7 369.4 L583.7 368.2 L583.8 367.1 L583.9 369.1 L584.0 371.4 L584.1 371.1 L584.2 367.0 L584.3 364.7 L584.4 365.3 L584.5 366.3 L584.6 367.2 L584.7 372.9 L584.8 374.7 L584.9 366.4 L585.0 360.0 L585.1 368.8 L585.2 372.6 L585.3 370.3 L585.3 371.8 L585.4 372.1 L585.5 367.1 L585.6 363.2 L585.7 366.4 L585.8 368.2 L585.9 370.8 L586.0 368.2 L586.1 370.3 L586.2 369.3 L586.3 366.9 L586.4 364.8 L586.5 369.1 L586.6 367.1 L586.7 366.7 L586.8 370.0 L586.8 373.4 L586.9 368.8 L587.0 366.0 L587.1 369.0 L587.2 371.9 L587.3 367.1 L587.4 364.2 L587.5 366.9 L587.6 370.9 L587.7 372.0 L587.8 368.1 L587.9 366.1 L588.0 366.6 L588.1 368.7 L588.2 371.3 L588.3 370.3 L588.3 367.5 L588.4 366.1 L588.5 369.3 L588.6 371.4 L588.7 371.1 L588.8 368.2 L588.9 366.0 L589.0 367.0 L589.1 369.3 L589.2 367.6 L589.3 366.4 L589.4 372.9 L589.5 375.2 L589.6 367.1 L589.7 365.8 L589.8 365.6 L589.8 365.8 L589.9 367.9 L590.0 370.2 L590.1 371.3 L590.2 368.8 L590.3 361.8 L590.4 368.5 L590.5 374.6 L590.6 372.1 L590.7 362.7 L590.8 366.1 L590.9 373.4 L591.0 373.9 L591.1 367.2 L591.2 361.8 L591.3 363.8 L591.4 370.2 L591.4 368.5 L591.5 370.1 L591.6 373.5 L591.7 368.0 L591.8 361.1 L591.9 366.5 L592.0 371.7 L592.1 372.0 L592.2 368.8 L592.3 365.9 L592.4 363.8 L592.5 366.2 L592.6 370.0 L592.7 370.4 L592.8 369.3 L592.9 368.5 L592.9 369.5 L593.0 369.6 L593.1 370.1 L593.2 369.9 L593.3 369.1 L593.4 364.1 L593.5 364.3 L593.6 368.2 L593.7 372.9 L593.8 374.4 L593.9 371.4 L594.0 365.9 L594.1 366.2 L594.2 369.0 L594.3 368.1 L594.4 365.8 L594.4 369.6 L594.5 368.6 L594.6 364.8 L594.7 368.0 L594.8 370.4 L594.9 369.4 L595.0 368.0 L595.1 368.4 L595.2 368.4 L595.3 369.9 L595.4 370.7 L595.5 369.2 L595.6 368.0 L595.7 368.5 L595.8 366.7 L595.9 368.5 L596.0 370.9 L596.0 370.0 L596.1 367.5 L596.2 366.7 L596.3 368.6 L596.4 368.6 L596.5 370.1 L596.6 369.1 L596.7 368.4 L596.8 365.4 L596.9 366.4 L597.0 366.5 L597.1 372.3 L597.2 373.2 L597.3 370.0 L597.4 368.4 L597.5 368.3 L597.5 367.1 L597.6 367.5 L597.7 367.8 L597.8 369.5 L597.9 369.3 L598.0 368.1 L598.1 367.2 L598.2 367.4 L598.3 367.3 L598.4 370.0 L598.5 370.3 L598.6 366.1 L598.7 370.2 L598.8 380.1 L598.9 368.5 L599.0 359.7 L599.0 366.1 L599.1 370.1 L599.2 368.4 L599.3 367.9 L599.4 367.3 L599.5 371.3 L599.6 371.7 L599.7 369.3 L599.8 367.0 L599.9 368.8 L600.0 369.4 L600.1 375.1 L600.2 369.6 L600.3 363.9 L600.4 360.7 L600.5 361.6 L600.6 368.8 L600.6 375.0 L600.7 370.3 L600.8 363.8 L600.9 364.1 L601.0 366.8 L601.1 371.8 L601.2 376.2 L601.3 373.6 L601.4 367.0 L601.5 364.1 L601.6 366.7 L601.7 369.2 L601.8 370.3 L601.9 369.3 L602.0 368.7 L602.1 366.6 L602.1 368.2 L602.2 372.9 L602.3 369.7 L602.4 357.6 L602.5 366.4 L602.6 373.8 L602.7 370.3 L602.8 360.6 L602.9 363.8 L603.0 372.2 L603.1 375.5 L603.2 367.8 L603.3 371.6 L603.4 372.9 L603.5 368.6 L603.6 364.5 L603.6 363.8 L603.7 365.0 L603.8 366.2 L603.9 375.9 L604.0 376.6 L604.1 367.3 L604.2 360.6 L604.3 368.7 L604.4 372.0 L604.5 366.0 L604.6 367.6 L604.7 371.2 L604.8 367.2 L604.9 366.3 L605.0 373.1 L605.1 373.9 L605.1 369.0 L605.2 363.5 L605.3 362.4 L605.4 367.1 L605.5 369.7 L605.6 369.9 L605.7 372.0 L605.8 373.4 L605.9 368.4 L606.0 367.7 L606.1 363.7 L606.2 365.8 L606.3 368.4 L606.4 366.3 L606.5 366.0 L606.6 371.5 L606.7 372.3 L606.7 369.7 L606.8 367.7 L606.9 366.7 L607.0 366.7 L607.1 370.7 L607.2 373.8 L607.3 368.8 L607.4 364.0 L607.5 367.5 L607.6 371.7 L607.7 371.2 L607.8 365.6 L607.9 367.5 L608.0 369.4 L608.1 367.7 L608.2 366.8 L608.2 368.2 L608.3 369.5 L608.4 368.8 L608.5 366.6 L608.6 369.0 L608.7 373.4 L608.8 367.6 L608.9 362.4 L609.0 370.9 L609.1 371.3 L609.2 368.0 L609.3 367.8 L609.4 367.4 L609.5 365.7 L609.6 368.3 L609.7 370.7 L609.7 369.6 L609.8 368.9 L609.9 371.9 L610.0 369.0 L610.1 368.1 L610.2 369.7 L610.3 366.8 L610.4 363.6 L610.5 367.1 L610.6 372.1 L610.7 374.3 L610.8 369.4 L610.9 364.0 L611.0 365.1 L611.1 371.7 L611.2 373.0 L611.3 366.2 L611.3 367.6 L611.4 368.6 L611.5 365.7 L611.6 364.7 L611.7 367.3 L611.8 369.5 L611.9 371.9 L612.0 366.3 L612.1 365.9 L612.2 369.4 L612.3 368.4 L612.4 366.8 L612.5 368.5 L612.6 371.1 L612.7 370.5 L612.8 366.3 L612.8 368.8 L612.9 367.1 L613.0 363.5 L613.1 366.9 L613.2 373.3 L613.3 368.0 L613.4 368.9 L613.5 371.6 L613.6 371.0 L613.7 367.2 L613.8 368.5 L613.9 368.1 L614.0 368.3 L614.1 366.4 L614.2 368.4 L614.3 368.9 L614.3 370.8 L614.4 372.0 L614.5 367.9 L614.6 365.8 L614.7 367.9 L614.8 368.5 L614.9 365.6 L615.0 369.0 L615.1 368.3 L615.2 366.2 L615.3 369.3 L615.4 370.7 L615.5 370.1 L615.6 371.0 L615.7 368.0 L615.8 364.3 L615.9 369.6 L615.9 374.3 L616.0 369.4 L616.1 368.5 L616.2 368.1 L616.3 364.6 L616.4 366.3 L616.5 368.1 L616.6 370.3 L616.7 370.2 L616.8 367.3 L616.9 364.0 L617.0 368.5 L617.1 371.1 L617.2 370.4 L617.3 368.6 L617.4 368.5 L617.4 366.9 L617.5 365.8 L617.6 369.7 L617.7 371.8 L617.8 367.3 L617.9 364.9 L618.0 367.6 L618.1 374.1 L618.2 369.9 L618.3 368.5 L618.4 368.2 L618.5 368.0 L618.6 368.5 L618.7 372.7 L618.8 370.1 L618.9 366.1 L618.9 365.9 L619.0 369.8 L619.1 369.7 L619.2 367.3 L619.3 367.2 L619.4 367.8 L619.5 369.1 L619.6 368.6 L619.7 367.2 L619.8 366.8 L619.9 369.8 L620.0 369.7 L620.1 366.9 L620.2 368.6 L620.3 371.8 L620.4 371.2 L620.4 368.0 L620.5 366.0 L620.6 368.6 L620.7 369.4 L620.8 366.4 L620.9 365.8 L621.0 371.6 L621.1 370.9 L621.2 366.4 L621.3 366.1 L621.4 367.4 L621.5 366.1 L621.6 367.8 L621.7 373.4 L621.8 371.5 L621.9 368.3 L622.0 366.5 L622.0 368.5 L622.1 368.5 L622.2 363.7 L622.3 368.3 L622.4 368.2 L622.5 368.9 L622.6 369.9 L622.7 370.5 L622.8 368.0 L622.9 367.4 L623.0 372.2 L623.1 371.6 L623.2 367.2 L623.3 365.3 L623.4 364.7 L623.5 362.4 L623.5 367.0 L623.6 373.2 L623.7 368.4 L623.8 372.7 L623.9 372.0 L624.0 363.5 L624.1 360.8 L624.2 367.4 L624.3 373.0 L624.4 375.4 L624.5 371.5 L624.6 363.7 L624.7 368.8 L624.8 371.1 L624.9 367.2 L625.0 365.9 L625.0 373.0 L625.1 376.3 L625.2 371.7 L625.3 362.3 L625.4 358.8 L625.5 366.2 L625.6 375.8 L625.7 370.5 L625.8 364.6 L625.9 375.9 L626.0 378.6 L626.1 363.2 L626.2 355.7 L626.3 364.5 L626.4 366.0 L626.5 366.6 L626.6 373.9 L626.6 374.7 L626.7 376.1 L626.8 379.6 L626.9 364.7 L627.0 357.5 L627.1 365.2 L627.2 372.6 L627.3 372.2 L627.4 367.6 L627.5 365.7 L627.6 362.7 L627.7 365.6 L627.8 370.7 L627.9 372.3 L628.0 368.0 L628.1 368.6 L628.1 367.7 L628.2 368.0 L628.3 369.6 L628.4 371.2 L628.5 366.0 L628.6 365.7 L628.7 369.4 L628.8 373.0 L628.9 369.3 L629.0 364.1 L629.1 364.5 L629.2 370.1 L629.3 375.5 L629.4 371.9 L629.5 364.4 L629.6 358.8 L629.6 369.2 L629.7 373.5 L629.8 371.7 L629.9 364.0 L630.0 371.9 L630.1 373.5 L630.2 367.1 L630.3 362.6 L630.4 372.7 L630.5 370.9 L630.6 366.1 L630.7 365.1 L630.8 368.1 L630.9 369.0 L631.0 370.1 L631.1 371.1 L631.2 367.9 L631.2 365.1 L631.3 368.2 L631.4 370.7 L631.5 367.4 L631.6 367.3 L631.7 371.0 L631.8 369.5 L631.9 365.8 L632.0 368.8 L632.1 371.2 L632.2 368.9 L632.3 367.8 L632.4 369.0 L632.5 366.2 L632.6 367.4 L632.7 369.7 L632.7 367.4 L632.8 365.4 L632.9 368.9 L633.0 371.4 L633.1 369.7 L633.2 369.8 L633.3 369.6 L633.4 366.6 L633.5 367.2 L633.6 368.4 L633.7 366.3 L633.8 367.3 L633.9 368.3 L634.0 368.9 L634.1 369.6 L634.2 372.0 L634.2 367.9 L634.3 366.6 L634.4 369.8 L634.5 369.1 L634.6 365.6 L634.7 371.7 L634.8 373.7 L634.9 364.6 L635.0 360.1 L635.1 367.6 L635.2 371.6 L635.3 372.9 L635.4 368.4 L635.5 368.5 L635.6 370.0 L635.7 368.5 L635.7 367.2 L635.8 369.7 L635.9 368.2 L636.0 365.1 L636.1 367.8 L636.2 366.8 L636.3 368.4 L636.4 370.5 L636.5 368.6 L636.6 370.2 L636.7 372.6 L636.8 366.7 L636.9 363.5 L637.0 370.2 L637.1 369.2 L637.2 365.0 L637.3 366.9 L637.3 370.3 L637.4 370.5 L637.5 371.8 L637.6 366.5 L637.7 363.6 L637.8 366.7 L637.9 372.1 L638.0 372.3 L638.1 366.9 L638.2 366.3 L638.3 370.8 L638.4 369.4 L638.5 366.3 L638.6 368.2 L638.7 369.6 L638.8 368.7 L638.8 369.4 L638.9 366.4 L639.0 369.9 L639.1 371.3 L639.2 368.2 L639.3 366.1 L639.4 369.8 L639.5 367.0 L639.6 366.1 L639.7 368.0 L639.8 370.6 L639.9 367.4 L640.0 368.2 L640.1 371.6 L640.2 370.7 L640.3 369.0 L640.3 369.3 L640.4 364.2 L640.5 366.0 L640.6 370.9 L640.7 371.8 L640.8 366.6 L640.9 367.2 L641.0 369.4 L641.1 367.7 L641.2 366.8 L641.3 370.0 L641.4 369.9 L641.5 370.6 L641.6 370.2 L641.7 367.2 L641.8 368.1 L641.9 369.1 L641.9 367.7 L642.0 367.5 L642.1 370.1 L642.2 367.8 L642.3 368.0 L642.4 368.7 L642.5 365.5 L642.6 365.4 L642.7 369.3 L642.8 371.6 L642.9 370.9 L643.0 368.4 L643.1 367.8 L643.2 369.8 L643.3 367.4 L643.4 366.2 L643.4 368.0 L643.5 370.7 L643.6 370.0 L643.7 371.1 L643.8 368.7 L643.9 364.7 L644.0 366.8 L644.1 370.6 L644.2 370.2 L644.3 367.7 L644.4 368.2 L644.5 370.6 L644.6 370.0 L644.7 366.8 L644.8 365.6 L644.9 369.3 L644.9 366.9 L645.0 369.9 L645.1 370.0 L645.2 366.9 L645.3 368.8 L645.4 373.1 L645.5 367.3 L645.6 362.8 L645.7 368.1 L645.8 372.0 L645.9 370.7 L646.0 367.3 L646.1 367.3 L646.2 368.7 L646.3 370.0 L646.4 367.1 L646.5 365.6 L646.5 369.6 L646.6 372.0 L646.7 365.6 L646.8 360.1 L646.9 367.6 L647.0 374.4 L647.1 372.7 L647.2 367.4 L647.3 368.5 L647.4 365.6 L647.5 363.9 L647.6 370.0 L647.7 372.3 L647.8 372.6 L647.9 370.3 L648.0 363.9 L648.0 363.4 L648.1 370.9 L648.2 372.9 L648.3 368.0 L648.4 366.7 L648.5 369.7 L648.6 369.2 L648.7 365.8 L648.8 365.4 L648.9 366.8 L649.0 370.3 L649.1 371.5 L649.2 370.6 L649.3 366.4 L649.4 366.6 L649.5 368.3 L649.5 369.2 L649.6 368.5 L649.7 370.0 L649.8 373.1 L649.9 369.3 L650.0 367.0 L650.1 366.7 L650.2 362.4 L650.3 360.3 L650.4 369.1 L650.5 375.2 L650.6 372.4 L650.7 365.8 L650.8 370.7 L650.9 371.7 L651.0 369.8 L651.0 360.5 L651.1 359.5 L651.2 374.6 L651.3 383.0 L651.4 376.4 L651.5 362.6 L651.6 364.2 L651.7 367.9 L651.8 358.2 L651.9 358.7 L652.0 370.5 L652.1 377.2 L652.2 372.3 L652.3 368.5 L652.4 363.2 L652.5 366.7 L652.6 371.2 L652.6 370.5 L652.7 368.6 L652.8 370.0 L652.9 366.9 L653.0 365.8 L653.1 368.7 L653.2 370.9 L653.3 366.5 L653.4 365.8 L653.5 367.4 L653.6 368.6 L653.7 370.2 L653.8 369.0 L653.9 366.3 L654.0 368.9 L654.1 373.3 L654.1 372.3 L654.2 368.1 L654.3 368.1 L654.4 368.3 L654.5 368.4 L654.6 364.8 L654.7 364.9 L654.8 369.8 L654.9 371.5 L655.0 369.6 L655.1 368.6 L655.2 366.5 L655.3 368.1 L655.4 370.7 L655.5 372.6 L655.6 367.4 L655.6 366.3 L655.7 369.5 L655.8 367.9 L655.9 369.6 L656.0 369.6 L656.1 366.0 L656.2 364.9 L656.3 370.6 L656.4 370.2 L656.5 366.7 L656.6 369.6 L656.7 371.9 L656.8 369.4 L656.9 368.8 L657.0 365.6 L657.1 367.3 L657.2 371.4 L657.2 371.3 L657.3 369.4 L657.4 367.4 L657.5 364.3 L657.6 368.7 L657.7 369.7 L657.8 369.6 L657.9 368.5 L658.0 368.0 L658.1 363.1 L658.2 369.3 L658.3 372.7 L658.4 373.2 L658.5 370.6 L658.6 367.8 L658.7 363.8 L658.7 365.2 L658.8 367.0 L658.9 369.5 L659.0 370.6 L659.1 370.3 L659.2 369.5 L659.3 365.8 L659.4 367.0 L659.5 370.3 L659.6 367.8 L659.7 363.7 L659.8 368.0 L659.9 369.7 L660.0 368.6 L660.1 369.8 L660.2 370.1 L660.2 368.4 L660.3 368.9 L660.4 369.5 L660.5 369.8 L660.6 369.6 L660.7 367.9 L660.8 368.2 L660.9 369.0 L661.0 367.3 L661.1 370.5 L661.2 371.1 L661.3 367.0 L661.4 368.1 L661.5 369.2 L661.6 368.6 L661.7 368.6 L661.8 365.3 L661.8 366.4 L661.9 368.4 L662.0 367.7 L662.1 364.6 L662.2 373.3 L662.3 374.4 L662.4 367.2 L662.5 367.8 L662.6 368.1 L662.7 366.4 L662.8 366.6 L662.9 370.8 L663.0 369.1 L663.1 368.3 L663.2 368.0 L663.3 367.8 L663.3 369.4 L663.4 370.0 L663.5 370.2 L663.6 367.7 L663.7 367.6 L663.8 369.0 L663.9 371.4 L664.0 369.5 L664.1 365.6 L664.2 364.4 L664.3 368.1 L664.4 370.2 L664.5 369.9 L664.6 368.3 L664.7 368.5 L664.8 368.8 L664.8 368.0 L664.9 366.4 L665.0 369.9 L665.1 367.9 L665.2 363.9 L665.3 367.3 L665.4 371.1 L665.5 370.4 L665.6 369.8 L665.7 367.9 L665.8 369.7 L665.9 371.0 L666.0 365.1 L666.1 365.8 L666.2 374.3 L666.3 372.3 L666.3 366.8 L666.4 364.6 L666.5 366.7 L666.6 367.3 L666.7 368.4 L666.8 370.9 L666.9 366.6 L667.0 364.9 L667.1 369.1 L667.2 377.0 L667.3 369.1 L667.4 366.5 L667.5 365.6 L667.6 377.6 L667.7 376.6 L667.8 363.7 L667.9 360.5 L667.9 362.2 L668.0 367.1 L668.1 375.1 L668.2 371.4 L668.3 362.7 L668.4 366.5 L668.5 368.3 L668.6 368.3 L668.7 370.8 L668.8 365.2 L668.9 366.2 L669.0 372.9 L669.1 376.6 L669.2 366.9 L669.3 361.5 L669.4 363.5 L669.4 380.5 L669.5 372.1 L669.6 363.3 L669.7 362.2 L669.8 371.7 L669.9 366.1 L670.0 367.5 L670.1 369.5 L670.2 369.2 L670.3 370.0 L670.4 370.9 L670.5 370.2 L670.6 368.2 L670.7 364.8 L670.8 364.7 L670.9 369.8 L670.9 372.6 L671.0 366.9 L671.1 367.8 L671.2 367.4 L671.3 371.0 L671.4 370.5 L671.5 365.4 L671.6 363.3 L671.7 371.6 L671.8 373.4 L671.9 366.2 L672.0 368.5 L672.1 370.5 L672.2 363.1 L672.3 361.8 L672.4 373.2 L672.5 373.0 L672.5 364.7 L672.6 369.0 L672.7 380.3 L672.8 373.1 L672.9 362.6 L673.0 360.9 L673.1 369.5 L673.2 372.3 L673.3 366.1 L673.4 364.6 L673.5 368.7 L673.6 370.5 L673.7 370.1 L673.8 367.8 L673.9 368.5 L674.0 370.3 L674.0 369.7 L674.1 366.6 L674.2 364.3 L674.3 365.4 L674.4 368.5 L674.5 372.9 L674.6 373.1 L674.7 370.6 L674.8 369.0 L674.9 366.8 L675.0 367.8 L675.1 368.6 L675.2 368.4 L675.3 363.7 L675.4 366.2 L675.5 366.8 L675.5 366.0 L675.6 366.1 L675.7 377.6 L675.8 381.6 L675.9 377.4 L676.0 361.8 L676.1 357.9 L676.2 362.0 L676.3 374.1 L676.4 371.8 L676.5 378.9 L676.6 373.1 L676.7 350.0 L676.8 348.0 L676.9 369.1 L677.0 374.4 L677.1 369.5 L677.1 380.8 L677.2 384.3 L677.3 369.8 L677.4 367.3 L677.5 368.8 L677.6 371.3 L677.7 368.3 L677.8 359.2 L677.9 366.9 L678.0 360.7 L678.1 358.8 L678.2 374.3 L678.3 370.0 L678.4 360.0 L678.5 376.2 L678.6 373.9 L678.6 359.6 L678.7 360.6 L678.8 369.8 L678.9 375.7 L679.0 371.5 L679.1 369.1 L679.2 378.9 L679.3 370.3 L679.4 351.1 L679.5 360.8 L679.6 371.9 L679.7 372.3 L679.8 385.0 L679.9 380.7 L680.0 360.0 L680.1 359.4 L680.1 360.3 L680.2 370.5 L680.3 375.7 L680.4 363.0 L680.5 357.5 L680.6 375.9 L680.7 378.0 L680.8 367.3 L680.9 365.7 L681.0 370.2 L681.1 373.2 L681.2 372.4 L681.3 364.3 L681.4 366.2 L681.5 364.9 L681.6 363.4 L681.6 368.5 L681.7 375.7 L681.8 371.2 L681.9 363.5 L682.0 363.1 L682.1 373.0 L682.2 370.9 L682.3 364.9 L682.4 366.4 L682.5 377.8 L682.6 366.5 L682.7 359.2 L682.8 370.7 L682.9 375.3 L683.0 371.1 L683.1 365.8 L683.2 359.0 L683.2 368.1 L683.3 384.4 L683.4 372.6 L683.5 361.4 L683.6 368.2 L683.7 372.1 L683.8 363.2 L683.9 366.8 L684.0 370.5 L684.1 366.1 L684.2 365.6 L684.3 370.4 L684.4 368.3 L684.5 361.9 L684.6 363.4 L684.7 373.2 L684.7 377.7 L684.8 376.8 L684.9 365.4 L685.0 360.0 L685.1 364.1 L685.2 373.2 L685.3 374.8 L685.4 372.2 L685.5 363.0 L685.6 367.3 L685.7 370.3 L685.8 360.0 L685.9 364.5 L686.0 370.2 L686.1 369.3 L686.2 369.2 L686.2 370.7 L686.3 365.9 L686.4 372.3 L686.5 373.8 L686.6 364.5 L686.7 358.7 L686.8 371.3 L686.9 385.6 L687.0 371.6 L687.1 358.4 L687.2 361.7 L687.3 372.6 L687.4 377.2 L687.5 374.3 L687.6 360.8 L687.7 365.3 L687.8 375.3 L687.8 371.8 L687.9 358.0 L688.0 366.5 L688.1 374.6 L688.2 371.7 L688.3 366.5 L688.4 365.6 L688.5 367.8 L688.6 365.1 L688.7 362.9 L688.8 369.8 L688.9 379.1 L689.0 376.2 L689.1 366.1 L689.2 365.9 L689.3 361.1 L689.3 359.4 L689.4 362.4 L689.5 376.7 L689.6 375.3 L689.7 373.6 L689.8 364.1 L689.9 363.2 L690.0 361.6 L690.1 373.7 L690.2 381.8 L690.3 365.0 L690.4 363.3 L690.5 374.5 L690.6 372.4 L690.7 363.9 L690.8 362.8 L690.8 367.3 L690.9 373.1 L691.0 366.7 L691.1 364.9 L691.2 367.0 L691.3 370.1 L691.4 367.7 L691.5 372.4 L691.6 374.3 L691.7 367.3 L691.8 365.5 L691.9 369.4 L692.0 370.5 L692.1 372.3 L692.2 364.8 L692.3 364.4 L692.4 372.0 L692.4 371.9 L692.5 366.8 L692.6 367.8 L692.7 363.9 L692.8 369.4 L692.9 374.7 L693.0 369.2 L693.1 372.1 L693.2 370.1 L693.3 364.8 L693.4 365.2 L693.5 370.8 L693.6 371.3 L693.7 362.9 L693.8 362.3 L693.9 372.9 L693.9 373.5 L694.0 365.5 L694.1 368.2 L694.2 366.7 L694.3 365.4 L694.4 369.2 L694.5 373.9 L694.6 369.5 L694.7 369.8 L694.8 370.7 L694.9 368.5 L695.0 362.6 L695.1 366.6 L695.2 375.8 L695.3 374.4 L695.4 364.2 L695.4 355.7 L695.5 358.5 L695.6 376.4 L695.7 384.1 L695.8 362.8 L695.9 361.8 L696.0 370.0 L696.1 366.9 L696.2 370.8 L696.3 372.5 L696.4 365.2 L696.5 366.8 L696.6 371.4 L696.7 372.1 L696.8 372.1 L696.9 365.3 L696.9 365.9 L697.0 371.8 L697.1 362.4 L697.2 362.1 L697.3 368.5 L697.4 372.6 L697.5 367.3 L697.6 368.7 L697.7 368.7 L697.8 369.9 L697.9 364.8 L698.0 361.5 L698.1 367.2 L698.2 380.3 L698.3 375.9 L698.4 365.0 L698.5 364.4 L698.5 366.0 L698.6 366.4 L698.7 367.4 L698.8 372.1 L698.9 373.4 L699.0 367.6 L699.1 367.3 L699.2 370.9 L699.3 368.1 L699.4 361.5 L699.5 366.4 L699.6 373.7 L699.7 368.1 L699.8 366.5 L699.9 370.4 L700.0 372.0 L700.0 370.0 L700.1 368.1 L700.2 370.2 L700.3 369.0 L700.4 361.4 L700.5 366.0 L700.6 371.3 L700.7 369.8 L700.8 367.0 L700.9 370.0 L701.0 373.1 L701.1 368.0 L701.2 363.5 L701.3 368.6 L701.4 370.7 L701.5 365.8 L701.5 366.1 L701.6 370.8 L701.7 372.0 L701.8 368.0 L701.9 367.5 L702.0 369.6 L702.1 370.0 L702.2 368.1 L702.3 371.7 L702.4 369.7 L702.5 366.8 L702.6 365.8 L702.7 366.4 L702.8 364.7 L702.9 367.0 L703.0 374.0 L703.1 371.3 L703.1 365.2 L703.2 367.4 L703.3 371.8 L703.4 370.2 L703.5 367.9 L703.6 365.3 L703.7 367.4 L703.8 370.4 L703.9 373.0 L704.0 369.1 L704.1 368.0 L704.2 369.1 L704.3 366.8 L704.4 363.9 L704.5 370.6 L704.6 372.6 L704.6 366.8 L704.7 367.5 L704.8 372.3 L704.9 368.8 L705.0 365.0 L705.1 366.9 L705.2 367.7 L705.3 369.0 L705.4 369.3 L705.5 367.9 L705.6 362.8 L705.7 367.9 L705.8 376.5 L705.9 371.1 L706.0 362.7 L706.1 367.2 L706.1 370.0 L706.2 366.4 L706.3 363.2 L706.4 369.3 L706.5 370.9 L706.6 364.1 L706.7 365.2 L706.8 376.6 L706.9 370.8 L707.0 365.2 L707.1 370.5 L707.2 368.5 L707.3 360.7 L707.4 368.6 L707.5 374.8 L707.6 372.6 L707.7 372.9 L707.7 369.2 L707.8 364.8 L707.9 374.8 L708.0 367.3 L708.1 356.3 L708.2 362.7 L708.3 370.8 L708.4 370.1 L708.5 371.2 L708.6 370.5 L708.7 374.1 L708.8 370.8 L708.9 364.0 L709.0 364.5 L709.1 370.7 L709.2 369.6 L709.2 367.0 L709.3 369.4 L709.4 364.8 L709.5 369.5 L709.6 374.3 L709.7 372.5 L709.8 367.7 L709.9 365.7 L710.0 366.8 L710.1 364.9 L710.2 366.6 L710.3 369.4 L710.4 371.6 L710.5 367.0 L710.6 370.4 L710.7 370.9 L710.7 366.8 L710.8 364.7 L710.9 371.1 L711.0 374.1 L711.1 364.2 L711.2 364.1 L711.3 372.8 L711.4 373.5 L711.5 366.7 L711.6 365.8 L711.7 366.8 L711.8 367.8 L711.9 370.6 L712.0 368.3 L712.1 367.2 L712.2 370.1 L712.2 370.2 L712.3 368.7 L712.4 367.0 L712.5 366.6 L712.6 368.2 L712.7 369.4 L712.8 368.9 L712.9 369.8 L713.0 369.4 L713.1 368.1 L713.2 369.2 L713.3 370.4 L713.4 369.0 L713.5 364.5 L713.6 365.2 L713.7 370.9 L713.8 377.2 L713.8 372.1 L713.9 362.1 L714.0 359.9 L714.1 372.0 L714.2 377.3 L714.3 372.5 L714.4 362.5 L714.5 358.4 L714.6 363.2 L714.7 372.0 L714.8 374.3 L714.9 368.8 L715.0 366.4 L715.1 365.1 L715.2 371.8 L715.3 371.4 L715.3 366.1 L715.4 364.8 L715.5 369.5 L715.6 370.6 L715.7 367.5 L715.8 366.0 L715.9 368.2 L716.0 370.2 L716.1 370.9 L716.2 367.9 L716.3 365.6 L716.4 366.7 L716.5 370.0 L716.6 370.4 L716.7 368.6 L716.8 366.2 L716.8 368.2 L716.9 371.5 L717.0 372.9 L717.1 370.8 L717.2 367.6 L717.3 369.0 L717.4 370.2 L717.5 368.3 L717.6 367.2 L717.7 363.9 L717.8 366.7 L717.9 369.2 L718.0 368.6 L718.1 366.3 L718.2 368.4 L718.3 369.9 L718.4 368.8 L718.4 368.1 L718.5 369.1 L718.6 374.7 L718.7 368.4 L718.8 361.1 L718.9 361.3 L719.0 366.4 L719.1 373.2 L719.2 376.1 L719.3 369.3 L719.4 366.3 L719.5 370.5 L719.6 369.6 L719.7 366.6 L719.8 367.9 L719.9 370.5 L719.9 367.7 L720.0 365.1 L720.1 367.9 L720.2 374.3 L720.3 371.9 L720.4 368.6 L720.5 368.8 L720.6 366.3 L720.7 366.2 L720.8 364.9 L720.9 369.1 L721.0 369.8 L721.1 369.2 L721.2 368.7 L721.3 371.2 L721.4 369.0 L721.4 367.5 L721.5 366.7 L721.6 368.0 L721.7 367.9 L721.8 367.8 L721.9 368.8 L722.0 371.5 L722.1 370.8 L722.2 366.8 L722.3 365.0 L722.4 369.4 L722.5 370.0 L722.6 368.1 L722.7 366.3 L722.8 369.0 L722.9 370.7 L722.9 370.3 L723.0 368.4 L723.1 366.9 L723.2 368.7 L723.3 367.5 L723.4 371.9 L723.5 371.5 L723.6 366.9 L723.7 363.7 L723.8 368.6 L723.9 369.4 L724.0 368.2 L724.1 369.7 L724.2 372.5 L724.3 366.1 L724.4 361.1 L724.5 366.5 L724.5 374.7 L724.6 369.8 L724.7 368.5 L724.8 371.8 L724.9 368.6 L725.0 364.8 L725.1 365.8 L725.2 367.7 L725.3 369.4 L725.4 372.6 L725.5 371.6 L725.6 367.1 L725.7 366.5 L725.8 368.7 L725.9 367.2 L726.0 367.1 L726.0 368.9 L726.1 370.0 L726.2 368.1 L726.3 367.2 L726.4 366.9 L726.5 370.4 L726.6 372.4 L726.7 370.4 L726.8 368.0 L726.9 368.9 L727.0 365.2 L727.1 365.8 L727.2 368.2 L727.3 374.0 L727.4 373.2 L727.5 368.7 L727.5 367.7 L727.6 368.1 L727.7 364.4 L727.8 364.6 L727.9 369.9 L728.0 369.0 L728.1 365.6 L728.2 369.3 L728.3 377.8 L728.4 374.4 L728.5 362.4 L728.6 359.1 L728.7 360.7 L728.8 365.5 L728.9 371.6 L729.0 375.1 L729.1 374.9 L729.1 373.1 L729.2 363.0 L729.3 361.5 L729.4 364.9 L729.5 369.7 L729.6 369.1 L729.7 376.6 L729.8 373.3 L729.9 365.3 L730.0 363.6 L730.1 370.2 L730.2 369.1 L730.3 365.1 L730.4 367.7 L730.5 371.3 L730.6 368.2 L730.6 365.5 L730.7 371.7 L730.8 375.6 L730.9 367.5 L731.0 362.9 L731.1 367.1 L731.2 372.5 L731.3 371.5 L731.4 367.6 L731.5 366.9 L731.6 369.2 L731.7 368.1 L731.8 364.4 L731.9 364.1 L732.0 371.6 L732.1 374.8 L732.1 371.5 L732.2 364.8 L732.3 364.7 L732.4 366.5 L732.5 369.6 L732.6 373.0 L732.7 374.5 L732.8 367.0 L732.9 364.9 L733.0 368.2 L733.1 367.1 L733.2 368.3 L733.3 370.3 L733.4 366.4 L733.5 369.3 L733.6 374.1 L733.7 370.9 L733.7 364.6 L733.8 363.9 L733.9 366.8 L734.0 364.6 L734.1 367.1 L734.2 372.4 L734.3 372.8 L734.4 367.9 L734.5 367.7 L734.6 368.0 L734.7 367.4 L734.8 370.3 L734.9 369.2 L735.0 366.7 L735.1 367.7 L735.2 369.6 L735.2 368.7 L735.3 366.5 L735.4 366.4 L735.5 366.2 L735.6 369.0 L735.7 370.8 L735.8 371.5 L735.9 372.3 L736.0 369.1 L736.1 365.3 L736.2 368.9 L736.3 371.9 L736.4 367.3 L736.5 364.0 L736.6 367.3 L736.7 370.8 L736.7 367.3 L736.8 365.5 L736.9 367.9 L737.0 369.9 L737.1 368.8 L737.2 369.8 L737.3 369.6 L737.4 368.6 L737.5 372.0 L737.6 370.1 L737.7 366.1 L737.8 368.0 L737.9 370.6 L738.0 367.4 L738.1 366.9 L738.2 367.9 L738.2 367.6 L738.3 369.0 L738.4 370.4 L738.5 369.3 L738.6 368.5 L738.7 368.1 L738.8 369.1 L738.9 368.9 L739.0 366.5 L739.1 366.7 L739.2 370.5 L739.3 369.5 L739.4 367.5 L739.5 366.9 L739.6 366.1 L739.7 367.2 L739.8 370.1 L739.8 369.2 L739.9 367.8 L740.0 369.7 L740.1 373.5 L740.2 370.8 L740.3 366.5 L740.4 363.8 L740.5 364.7 L740.6 371.1 L740.7 376.1 L740.8 369.4 L740.9 364.1 L741.0 362.6 L741.1 368.2 L741.2 371.6 L741.3 370.7 L741.3 366.8 L741.4 367.1 L741.5 365.9 L741.6 367.5 L741.7 370.2 L741.8 371.1 L741.9 368.8 L742.0 366.3 L742.1 369.3 L742.2 372.8 L742.3 369.2 L742.4 367.9 L742.5 369.2 L742.6 368.2 L742.7 364.6 L742.8 363.1 L742.8 367.8 L742.9 373.8 L743.0 373.1 L743.1 366.7 L743.2 365.7 L743.3 363.0 L743.4 367.3 L743.5 375.1 L743.6 372.9 L743.7 364.0 L743.8 364.2 L743.9 368.4 L744.0 372.6 L744.1 373.1 L744.2 365.5 L744.3 363.3 L744.4 371.8 L744.4 375.7 L744.5 365.1 L744.6 360.4 L744.7 369.4 L744.8 373.3 L744.9 369.1 L745.0 368.5 L745.1 368.8 L745.2 368.8 L745.3 371.5 L745.4 372.4 L745.5 367.8 L745.6 364.8 L745.7 364.3 L745.8 367.3 L745.9 368.6 L745.9 368.0 L746.0 368.6 L746.1 368.4 L746.2 369.3 L746.3 368.9 L746.4 368.1 L746.5 366.8 L746.6 366.0 L746.7 367.8 L746.8 368.9 L746.9 372.1 L747.0 371.3 L747.1 370.2 L747.2 370.6 L747.3 370.4 L747.4 360.3 L747.4 364.1 L747.5 370.9 L747.6 372.3 L747.7 370.1 L747.8 367.8 L747.9 369.3 L748.0 367.7 L748.1 361.3 L748.2 363.8 L748.3 372.4 L748.4 374.2 L748.5 371.4 L748.6 371.2 L748.7 370.0 L748.8 365.2 L748.9 360.8 L749.0 367.9 L749.0 371.6 L749.1 369.0 L749.2 367.4 L749.3 367.7 L749.4 369.5 L749.5 368.3 L749.6 365.2 L749.7 367.5 L749.8 369.6 L749.9 370.2 L750.0 372.4 L750.1 370.5 L750.2 367.8 L750.3 364.4 L750.4 362.0 L750.5 371.5 L750.5 371.6 L750.6 363.5 L750.7 359.7 L750.8 371.7 L750.9 372.9 L751.0 373.4 L751.1 368.5 L751.2 368.2 L751.3 367.0 L751.4 368.2 L751.5 369.8 L751.6 372.9 L751.7 365.9 L751.8 365.3 L751.9 370.8 L752.0 367.7 L752.0 363.9 L752.1 367.3 L752.2 369.9 L752.3 371.4 L752.4 370.6 L752.5 367.2 L752.6 365.6 L752.7 364.5 L752.8 365.9 L752.9 370.9 L753.0 374.5 L753.1 373.5 L753.2 367.9 L753.3 360.4 L753.4 366.2 L753.5 374.7 L753.5 369.2 L753.6 366.5 L753.7 365.2 L753.8 366.7 L753.9 370.0 L754.0 375.0 L754.1 370.3 L754.2 365.5 L754.3 368.2 L754.4 371.4 L754.5 368.5 L754.6 365.0 L754.7 365.7 L754.8 369.6 L754.9 372.5 L755.0 373.8 L755.1 367.1 L755.1 362.8 L755.2 362.9 L755.3 373.6 L755.4 372.6 L755.5 372.5 L755.6 367.7 L755.7 369.6 L755.8 370.7 L755.9 369.0 L756.0 364.8 L756.1 367.0 L756.2 368.4 L756.3 365.6 L756.4 363.7 L756.5 367.3 L756.6 372.3 L756.6 372.9 L756.7 368.6 L756.8 368.6 L756.9 369.7 L757.0 367.8 L757.1 368.3 L757.2 368.7 L757.3 366.9 L757.4 368.3 L757.5 368.6 L757.6 365.5 L757.7 370.2 L757.8 366.7 L757.9 370.2 L758.0 373.8 L758.1 373.8 L758.1 367.0 L758.2 368.0 L758.3 366.1 L758.4 365.0 L758.5 372.7 L758.6 369.5 L758.7 358.8 L758.8 365.2 L758.9 375.4 L759.0 369.5 L759.1 364.8 L759.2 365.7 L759.3 371.5 L759.4 374.9 L759.5 373.9 L759.6 368.2 L759.7 362.5 L759.7 364.0 L759.8 364.9 L759.9 370.5 L760.0 372.5 L760.1 368.4 L760.2 365.2 L760.3 366.3 L760.4 370.9 L760.5 370.5 L760.6 366.0 L760.7 369.1 L760.8 370.5 L760.9 367.7 L761.0 370.0 L761.1 371.3 L761.2 369.8 L761.2 363.8 L761.3 364.1 L761.4 365.9 L761.5 366.3 L761.6 372.2 L761.7 371.7 L761.8 367.2 L761.9 367.9 L762.0 370.5 L762.1 366.4 L762.2 364.8 L762.3 371.2 L762.4 371.9 L762.5 369.2 L762.6 365.2 L762.7 363.1 L762.7 367.9 L762.8 370.5 L762.9 364.0 L763.0 371.3 L763.1 381.3 L763.2 364.5 L763.3 360.2 L763.4 371.8 L763.5 367.0 L763.6 372.3 L763.7 375.0 L763.8 362.8 L763.9 366.3 L764.0 371.1 L764.1 368.1 L764.2 378.4 L764.3 366.9 L764.3 355.8 L764.4 371.9 L764.5 379.5 L764.6 365.6 L764.7 366.2 L764.8 374.1 L764.9 371.5 L765.0 362.6 L765.1 357.1 L765.2 367.1 L765.3 375.2 L765.4 367.3 L765.5 364.2 L765.6 372.3 L765.7 379.3 L765.8 367.6 L765.8 361.8 L765.9 366.9 L766.0 365.6 L766.1 363.6 L766.2 372.6 L766.3 382.9 L766.4 372.5 L766.5 364.3 L766.6 364.6 L766.7 365.5 L766.8 365.7 L766.9 373.4 L767.0 371.6 L767.1 365.8 L767.2 364.5 L767.3 369.7 L767.3 373.4 L767.4 368.3 L767.5 365.3 L767.6 369.8 L767.7 365.7 L767.8 367.6 L767.9 368.2 L768.0 379.0 L768.1 373.3 L768.2 362.8 L768.3 364.7 L768.4 372.4 L768.5 361.6 L768.6 360.4 L768.7 377.8 L768.8 372.9 L768.8 366.0 L768.9 370.9 L769.0 367.1 L769.1 366.9 L769.2 371.9 L769.3 367.3 L769.4 366.4 L769.5 371.2 L769.6 368.9 L769.7 365.0 L769.8 369.2 L769.9 370.3 L770.0 370.7 L770.1 367.1 L770.2 370.9 L770.3 369.8 L770.4 373.1 L770.4 369.9 L770.5 363.6 L770.6 365.9 L770.7 370.1 L770.8 369.0 L770.9 368.4 L771.0 366.3 L771.1 359.4 L771.2 365.6 L771.3 376.8 L771.4 376.0 L771.5 365.1 L771.6 369.2 L771.7 371.9 L771.8 361.8 L771.9 362.3 L771.9 373.8 L772.0 371.8 L772.1 361.0 L772.2 374.3 L772.3 374.7 L772.4 356.6 L772.5 360.5 L772.6 378.0 L772.7 375.1 L772.8 369.9 L772.9 367.1 L773.0 365.5 L773.1 365.8 L773.2 369.2 L773.3 370.7 L773.4 368.9 L773.4 371.6 L773.5 366.3 L773.6 358.1 L773.7 371.8 L773.8 382.1 L773.9 380.1 L774.0 361.1 L774.1 349.9 L774.2 354.9 L774.3 374.1 L774.4 381.8 L774.5 374.1 L774.6 358.5 L774.7 360.2 L774.8 373.4 L774.9 367.6 L775.0 363.7 L775.0 375.7 L775.1 376.4 L775.2 367.9 L775.3 363.8 L775.4 361.4 L775.5 368.4 L775.6 375.8 L775.7 372.9 L775.8 363.5 L775.9 367.7 L776.0 367.7 L776.1 359.1 L776.2 362.7 L776.3 382.3 L776.4 381.9 L776.5 369.8 L776.5 363.8 L776.6 365.1 L776.7 368.5 L776.8 366.9 L776.9 365.4 L777.0 362.7 L777.1 356.7 L777.2 366.1 L777.3 386.7 L777.4 388.1 L777.5 365.1 L777.6 360.7 L777.7 362.4 L777.8 362.0 L777.9 371.8 L778.0 378.7 L778.0 369.8 L778.1 365.2 L778.2 371.1 L778.3 372.9 L778.4 370.7 L778.5 367.8 L778.6 366.6 L778.7 366.0 L778.8 365.3 L778.9 366.2 L779.0 373.6 L779.1 372.8 L779.2 371.7 L779.3 368.6 L779.4 364.7 L779.5 357.2 L779.6 364.5 L779.6 379.7 L779.7 370.0 L779.8 362.2 L779.9 367.6 L780.0 371.2 L780.1 365.0 L780.2 367.7 L780.3 374.0 L780.4 373.3 L780.5 367.2 L780.6 365.8 L780.7 366.6 L780.8 369.5 L780.9 370.4 L781.0 377.8 L781.1 375.2 L781.1 361.6 L781.2 348.0 L781.3 360.2 L781.4 383.1 L781.5 385.5 L781.6 362.6 L781.7 361.4 L781.8 374.8 L781.9 363.8 L782.0 372.3 L782.1 385.1 L782.2 359.3 L782.3 342.2 L782.4 361.4 L782.5 385.5 L782.6 379.5 L782.6 377.9 L782.7 374.6 L782.8 365.7 L782.9 358.4 L783.0 364.9 L783.1 373.9 L783.2 377.7 L783.3 350.5 L783.4 385.5 L783.5 357.7 L783.6 377.0 L783.7 360.2 L783.8 376.3 L783.9 367.1 L784.0 360.5 L784.1 358.8 L784.1 373.7 L784.2 372.5 L784.3 376.5 L784.4 381.0 L784.5 365.4 L784.6 341.7 L784.7 349.1 L784.8 382.8 L784.9 383.6 L785.0 377.2 L785.1 370.5 L785.2 372.6 L785.3 375.3 L785.4 370.2 L785.5 357.9 L785.6 361.3 L785.7 376.6 L785.7 373.1 L785.8 365.9 L785.9 366.5 L786.0 372.5 L786.1 364.7 L786.2 362.4 L786.3 373.2 L786.4 372.3 L786.5 370.9 L786.6 369.3 L786.7 362.5 L786.8 369.1 L786.9 377.0 L787.0 371.1 L787.1 361.0 L787.2 363.3 L787.2 370.2 L787.3 371.2 L787.4 358.4 L787.5 362.3 L787.6 374.6 L787.7 379.2 L787.8 373.3 L787.9 366.0 L788.0 352.6 L788.1 366.9 L788.2 379.0 L788.3 361.4 L788.4 363.8 L788.5 371.1 L788.6 370.7 L788.7 372.7 L788.7 377.9 L788.8 369.1 L788.9 369.7 L789.0 367.2 L789.1 364.7 L789.2 371.5 L789.3 375.3 L789.4 358.8 L789.5 353.8" fill="none" stroke="#ffa500" stroke-width="0.60" stroke-linejoin="bevel"/>
<rect x="507.2" y="338.0" width="283.1" height="53.8" fill="none" stroke="#000" stroke-width="1.4"/>
<g stroke="#000" stroke-width="0.8">
<line x1="512.4" y1="338.0" x2="512.4" y2="332.7"/>
<line x1="512.4" y1="391.8" x2="512.4" y2="397.3"/>
<line x1="536.1" y1="338.0" x2="536.1" y2="332.7"/>
<line x1="536.1" y1="391.8" x2="536.1" y2="397.3"/>
<line x1="559.7" y1="338.0" x2="559.7" y2="332.7"/>
<line x1="559.7" y1="391.8" x2="559.7" y2="397.3"/>
<line x1="583.4" y1="338.0" x2="583.4" y2="332.7"/>
<line x1="583.4" y1="391.8" x2="583.4" y2="397.3"/>
<line x1="607.0" y1="338.0" x2="607.0" y2="332.7"/>
<line x1="607.0" y1="391.8" x2="607.0" y2="397.3"/>
<line x1="630.7" y1="338.0" x2="630.7" y2="332.7"/>
<line x1="630.7" y1="391.8" x2="630.7" y2="397.3"/>
<line x1="654.4" y1="338.0" x2="654.4" y2="332.7"/>
<line x1="654.4" y1="391.8" x2="654.4" y2="397.3"/>
<line x1="678.0" y1="338.0" x2="678.0" y2="332.7"/>
<line x1="678.0" y1="391.8" x2="678.0" y2="397.3"/>
<line x1="701.7" y1="338.0" x2="701.7" y2="332.7"/>
<line x1="701.7" y1="391.8" x2="701.7" y2="397.3"/>
<line x1="725.3" y1="338.0" x2="725.3" y2="332.7"/>
<line x1="725.3" y1="391.8" x2="725.3" y2="397.3"/>
<line x1="749.0" y1="338.0" x2="749.0" y2="332.7"/>
<line x1="749.0" y1="391.8" x2="749.0" y2="397.3"/>
<line x1="772.7" y1="338.0" x2="772.7" y2="332.7"/>
<line x1="772.7" y1="391.8" x2="772.7" y2="397.3"/>
</g>
<g font-family="Liberation Sans, sans-serif" font-size="10.5" fill="#111" text-anchor="middle">
<text x="512.4" y="409.0">30</text>
<text x="536.1" y="409.0">35</text>
<text x="559.7" y="409.0">40</text>
<text x="583.4" y="409.0">45</text>
<text x="607.0" y="409.0">50</text>
<text x="630.7" y="409.0">55</text>
<text x="654.4" y="409.0">00</text>
<text x="678.0" y="409.0">05</text>
<text x="701.7" y="409.0">10</text>
<text x="725.3" y="409.0">15</text>
<text x="749.0" y="409.0">20</text>
<text x="772.7" y="409.0">25</text>
</g>
<text x="799.0" y="345.4" font-family="Liberation Sans, sans-serif" font-size="10" font-weight="bold" fill="#0000ff">La Sabana</text>
<text x="799.0" y="368.6" font-family="Liberation Sans, sans-serif" font-size="10" fill="#111">Acel. Max. 0.0</text>
<text x="799.0" y="385.7" font-family="Liberation Sans, sans-serif" font-size="10" fill="#111">Int JMA: 0</text>
<text x="648.7" y="425.5" text-anchor="middle" font-family="Liberation Sans, sans-serif" font-size="11.8" fill="#111">Tiempo (s)</text>
</svg></body></html>
